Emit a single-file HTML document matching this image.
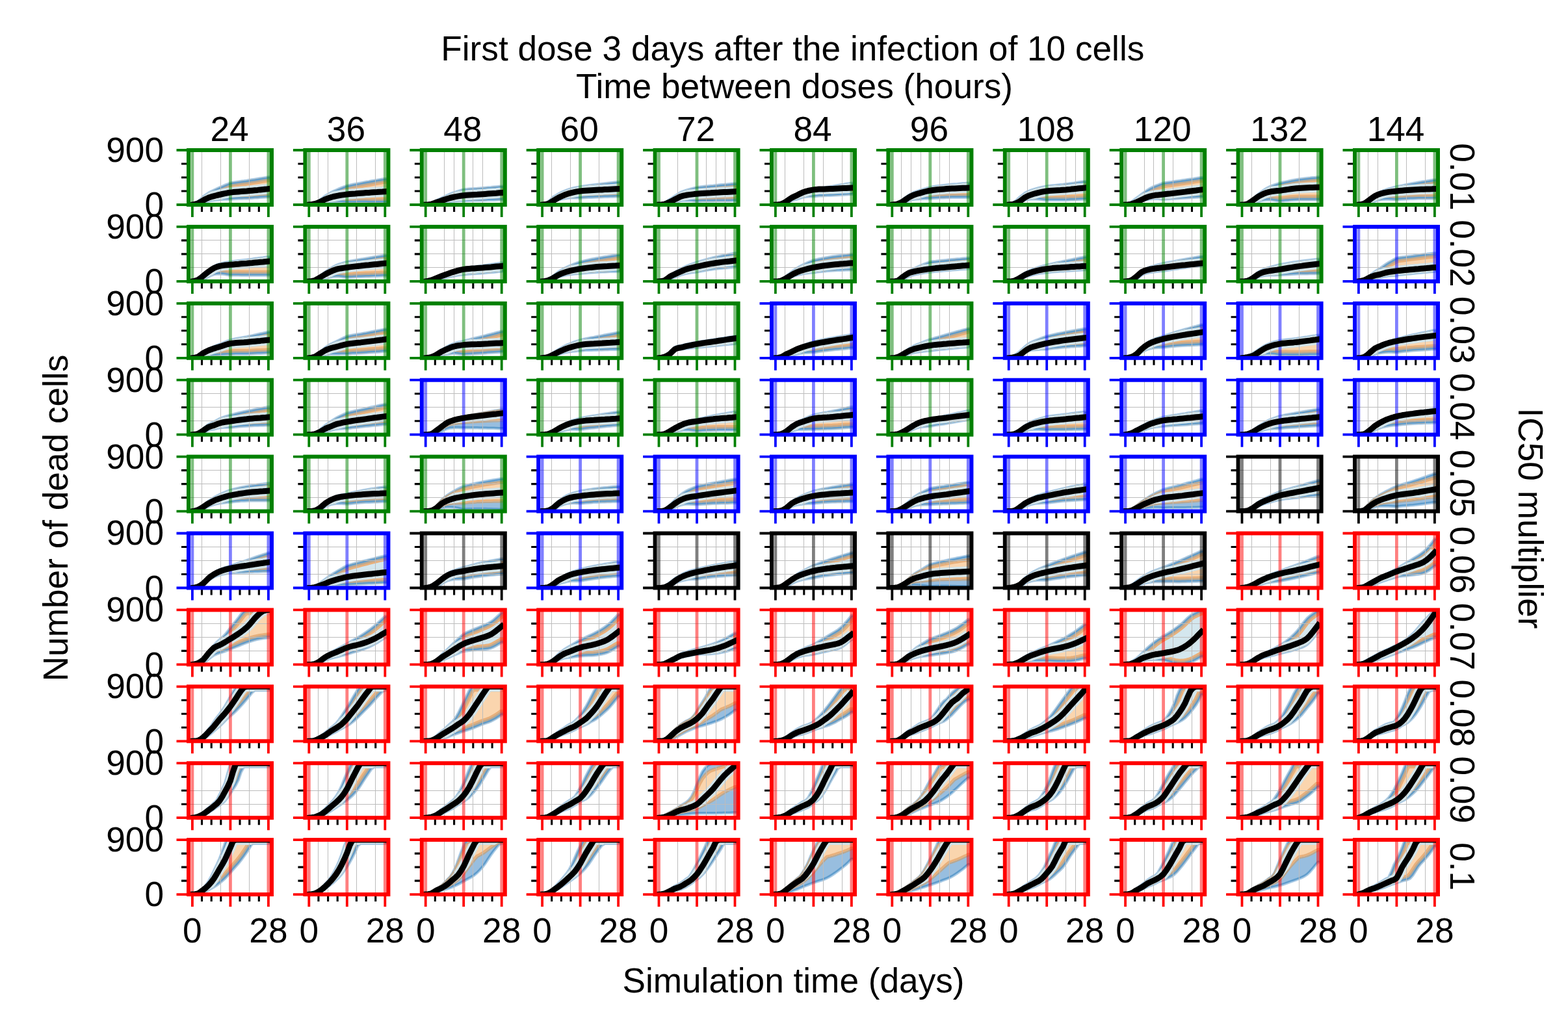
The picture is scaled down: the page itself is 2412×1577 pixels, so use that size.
<!DOCTYPE html><html><head><meta charset="utf-8"><title>Dead cells grid</title><style>html,body{margin:0;padding:0;background:#fff;width:2412px;height:1577px;overflow:hidden}svg{display:block}</style></head><body><svg width="2412" height="1577" viewBox="0 0 2412 1577" font-family='"Liberation Sans", Arial, Helvetica, sans-serif' font-size="53.2"><defs><clipPath id="a0_0"><rect width="128" height="84"/></clipPath><path id="p0_0" d="M-8.1 84 5.9 84 10.1 81.7 14.3 79 18.4 75.4 22.6 71.4 26.8 68.3 31 65.4 35.2 63.2 39.3 61.2 43.5 59.2 47.7 57.3 51.9 55.5 56.1 53.7 60.2 52 64.4 50.4 68.6 49.6 72.8 49 77 48.4 81.1 47.8 85.3 47.3 89.5 46.7 93.7 46 97.9 45.3 102 44.7 106.2 44 110.4 43.3 114.6 42.6 118.8 41.9 122.9 41.2 136.9 41.2 136.9 72.2 122.9 72.2 118.8 72.5 114.6 72.8 110.4 73.1 106.2 73.4 102 73.6 97.9 73.9 93.7 74.2 89.5 74.4 85.3 74.6 81.1 74.7 77 74.8 72.8 75 68.6 75.2 64.4 75.6 60.2 75.7 56.1 75.8 51.9 76.1 47.7 76.4 43.5 76.8 39.3 77.3 35.2 77.8 31 78.5 26.8 79.9 22.6 81.5 18.4 82.9 14.3 84 10.1 84 5.9 84 -8.1 84Z"/><clipPath id="cp0_0"><use href="#p0_0"/></clipPath><clipPath id="a0_1"><rect width="128" height="84"/></clipPath><path id="p0_1" d="M-8.1 84 5.9 84 10.1 82.7 14.3 81.1 18.4 79 22.6 76.4 26.8 73.3 31 70.2 35.2 67.6 39.3 65.3 43.5 63.1 47.7 61.2 51.9 59.4 56.1 57.7 60.2 56.1 64.4 54.6 68.6 53.7 72.8 52.8 77 52 81.1 51.2 85.3 50.4 89.5 49.6 93.7 48.8 97.9 48.1 102 47.3 106.2 46.6 110.4 45.9 114.6 45.1 118.8 44.4 122.9 43.7 136.9 43.7 136.9 80.6 122.9 80.6 118.8 80.6 114.6 80.5 110.4 80.5 106.2 80.4 102 80.4 97.9 80.4 93.7 80.3 89.5 80.3 85.3 80.3 81.1 80.3 77 80.4 72.8 80.4 68.6 80.5 64.4 80.6 60.2 80.2 56.1 79.9 51.9 79.6 47.7 79.5 43.5 79.5 39.3 79.7 35.2 80.1 31 80.8 26.8 82 22.6 83.2 18.4 84 14.3 84 10.1 84 5.9 84 -8.1 84Z"/><clipPath id="cp0_1"><use href="#p0_1"/></clipPath><clipPath id="a0_2"><rect width="128" height="84"/></clipPath><path id="p0_2" d="M-8.1 84 5.9 84 10.1 83 14.3 81.6 18.4 79.6 22.6 77.3 26.8 75.2 31 73.2 35.2 71.2 39.3 69.2 43.5 67.4 47.7 65.7 51.9 64.3 56.1 62.9 60.2 61.6 64.4 60.5 68.6 60 72.8 59.6 77 59.3 81.1 59 85.3 58.8 89.5 58.4 93.7 58.1 97.9 57.7 102 57.3 106.2 57 110.4 56.6 114.6 56.2 118.8 55.8 122.9 55.4 136.9 55.4 136.9 76.4 122.9 76.4 118.8 76.6 114.6 76.7 110.4 76.9 106.2 77 102 77.1 97.9 77.3 93.7 77.4 89.5 77.5 85.3 77.6 81.1 77.6 77 77.7 72.8 77.7 68.6 77.9 64.4 78.1 60.2 78.1 56.1 78.2 51.9 78.4 47.7 78.7 43.5 79.2 39.3 79.8 35.2 80.6 31 81.4 26.8 82.3 22.6 83.2 18.4 84 14.3 84 10.1 84 5.9 84 -8.1 84Z"/><clipPath id="cp0_2"><use href="#p0_2"/></clipPath><clipPath id="a0_3"><rect width="128" height="84"/></clipPath><path id="p0_3" d="M-8.1 84 5.9 84 10.1 82.1 14.3 79.8 18.4 76.3 22.6 72.2 26.8 69.6 31 67 35.2 64.9 39.3 63.1 43.5 61.4 47.7 60 51.9 58.8 56.1 57.8 60.2 57 64.4 56.3 68.6 55.5 72.8 54.9 77 54.3 81.1 53.8 85.3 53.3 89.5 52.8 93.7 52.3 97.9 51.7 102 51.2 106.2 50.7 110.4 50.2 114.6 49.7 118.8 49.2 122.9 48.7 136.9 48.7 136.9 71.4 122.9 71.4 118.8 71.5 114.6 71.7 110.4 71.8 106.2 72 102 72.1 97.9 72.3 93.7 72.4 89.5 72.6 85.3 72.8 81.1 72.9 77 73 72.8 73.2 68.6 73.5 64.4 73.9 60.2 73.6 56.1 73.5 51.9 73.4 47.7 73.6 43.5 74 39.3 74.7 35.2 75.5 31 76.6 26.8 78.2 22.6 79.8 18.4 81.9 14.3 83.6 10.1 84 5.9 84 -8.1 84Z"/><clipPath id="cp0_3"><use href="#p0_3"/></clipPath><clipPath id="a0_4"><rect width="128" height="84"/></clipPath><path id="p0_4" d="M-8.1 84 5.9 84 10.1 82.7 14.3 81.1 18.4 78.5 22.6 75.6 26.8 73 31 70.2 35.2 67.4 39.3 64.8 43.5 63 47.7 61.6 51.9 60.3 56.1 59.2 60.2 58.1 64.4 57.1 68.6 56.6 72.8 56.1 77 55.6 81.1 55.2 85.3 54.8 89.5 54.4 93.7 53.9 97.9 53.5 102 53.1 106.2 52.8 110.4 52.4 114.6 52 118.8 51.6 122.9 51.2 136.9 51.2 136.9 78.1 122.9 78.1 118.8 78.1 114.6 78.2 110.4 78.2 106.2 78.2 102 78.2 97.9 78.3 93.7 78.3 89.5 78.4 85.3 78.4 81.1 78.5 77 78.5 72.8 78.6 68.6 78.8 64.4 79 60.2 78.5 56.1 78.1 51.9 77.8 47.7 77.7 43.5 77.7 39.3 78.1 35.2 79.2 31 80.6 26.8 82 22.6 83.2 18.4 84 14.3 84 10.1 84 5.9 84 -8.1 84Z"/><clipPath id="cp0_4"><use href="#p0_4"/></clipPath><clipPath id="a0_5"><rect width="128" height="84"/></clipPath><path id="p0_5" d="M-8.1 84 5.9 84 10.1 83.4 14.3 82.3 18.4 80.1 22.6 77.3 26.8 74.4 31 71.7 35.2 69.8 39.3 68.1 43.5 66 47.7 64.2 51.9 62.9 56.1 61.8 60.2 61.1 64.4 60.5 68.6 59.5 72.8 58.7 77 58 81.1 57.4 85.3 56.8 89.5 56.2 93.7 55.4 97.9 54.7 102 54 106.2 53.3 110.4 52.6 114.6 51.8 118.8 51.1 122.9 50.4 136.9 50.4 136.9 68 122.9 68 118.8 68.3 114.6 68.5 110.4 68.8 106.2 69 102 69.3 97.9 69.5 93.7 69.7 89.5 70 85.3 70.1 81.1 70.3 77 70.4 72.8 70.6 68.6 70.9 64.4 71.4 60.2 71.4 56.1 71.6 51.9 72 47.7 72.7 43.5 74 39.3 75.5 35.2 76.6 31 77.9 26.8 80.1 22.6 82.3 18.4 83.9 14.3 84 10.1 84 5.9 84 -8.1 84Z"/><clipPath id="cp0_5"><use href="#p0_5"/></clipPath><clipPath id="a0_6"><rect width="128" height="84"/></clipPath><path id="p0_6" d="M-8.1 84 5.9 84 10.1 82.7 14.3 81.1 18.4 78.7 22.6 75.6 26.8 72.5 31 69.4 35.2 66.9 39.3 64.8 43.5 63.3 47.7 62 51.9 60.7 56.1 59.3 60.2 58.1 64.4 57.1 68.6 56.3 72.8 55.6 77 55 81.1 54.5 85.3 54 89.5 53.5 93.7 53 97.9 52.6 102 52.2 106.2 51.9 110.4 51.5 114.6 51.1 118.8 50.8 122.9 50.4 136.9 50.4 136.9 73.1 122.9 73.1 118.8 73.1 114.6 73.1 110.4 73.1 106.2 73.1 102 73.1 97.9 73.1 93.7 73.2 89.5 73.3 85.3 73.4 81.1 73.6 77 73.7 72.8 74 68.6 74.3 64.4 74.8 60.2 74.7 56.1 74.8 51.9 75 47.7 75.3 43.5 75.5 39.3 75.9 35.2 76.9 31 78.3 26.8 80.3 22.6 82.3 18.4 83.7 14.3 84 10.1 84 5.9 84 -8.1 84Z"/><clipPath id="cp0_6"><use href="#p0_6"/></clipPath><clipPath id="a0_7"><rect width="128" height="84"/></clipPath><path id="p0_7" d="M-8.1 84 5.9 84 10.1 81.9 14.3 79.5 18.4 76.2 22.6 72.2 26.8 69 31 65.8 35.2 63.6 39.3 61.8 43.5 60.3 47.7 59.1 51.9 58 56.1 57 60.2 56.2 64.4 55.4 68.6 54.8 72.8 54.3 77 53.9 81.1 53.5 85.3 53.1 89.5 52.7 93.7 52.1 97.9 51.6 102 51 106.2 50.4 110.4 49.7 114.6 49.1 118.8 48.5 122.9 47.9 136.9 47.9 136.9 75.6 122.9 75.6 118.8 75.8 114.6 76 110.4 76.2 106.2 76.4 102 76.6 97.9 76.8 93.7 76.9 89.5 77 85.3 77.1 81.1 77.1 77 77 72.8 77 68.6 77.1 64.4 77.3 60.2 76.7 56.1 76.2 51.9 75.8 47.7 75.6 43.5 75.5 39.3 75.6 35.2 76 31 76.9 26.8 78.7 22.6 80.6 18.4 82.5 14.3 83.7 10.1 84 5.9 84 -8.1 84Z"/><clipPath id="cp0_7"><use href="#p0_7"/></clipPath><clipPath id="a0_8"><rect width="128" height="84"/></clipPath><path id="p0_8" d="M-8.1 84 5.9 84 10.1 82.1 14.3 80 18.4 77.1 22.6 73.9 26.8 70.8 31 67.6 35.2 64.5 39.3 61.6 43.5 59.1 47.7 56.9 51.9 55.1 56.1 53.5 60.2 52 64.4 50.4 68.6 49.8 72.8 49.2 77 48.7 81.1 48.1 85.3 47.5 89.5 46.9 93.7 46.3 97.9 45.7 102 45.1 106.2 44.5 110.4 43.9 114.6 43.2 118.8 42.6 122.9 42 136.9 42 136.9 72.2 122.9 72.2 118.8 72.5 114.6 72.8 110.4 73 106.2 73.3 102 73.5 97.9 73.8 93.7 74 89.5 74.3 85.3 74.5 81.1 74.7 77 74.9 72.8 75.2 68.6 75.4 64.4 75.6 60.2 75.4 56.1 75.1 51.9 75 47.7 75.1 43.5 75.5 39.3 76.2 35.2 77.3 31 78.6 26.8 80.1 22.6 81.5 18.4 82.8 14.3 83.7 10.1 84 5.9 84 -8.1 84Z"/><clipPath id="cp0_8"><use href="#p0_8"/></clipPath><clipPath id="a0_9"><rect width="128" height="84"/></clipPath><path id="p0_9" d="M-8.1 84 5.9 84 10.1 83.2 14.3 81.9 18.4 79.1 22.6 75.6 26.8 71.5 31 67.6 35.2 64.3 39.3 61.4 43.5 58.7 47.7 56.5 51.9 54.7 56.1 53.2 60.2 51.8 64.4 50.4 68.6 49.5 72.8 48.6 77 47.7 81.1 46.8 85.3 46 89.5 45.2 93.7 44.6 97.9 44 102 43.5 106.2 43 110.4 42.6 114.6 42.1 118.8 41.7 122.9 41.2 136.9 41.2 136.9 76.4 122.9 76.4 118.8 76.5 114.6 76.4 110.4 76.4 106.2 76.4 102 76.4 97.9 76.4 93.7 76.5 89.5 76.7 85.3 76.9 81.1 77.3 77 77.7 72.8 78.1 68.6 78.6 64.4 79 60.2 78.3 56.1 77.6 51.9 76.9 47.7 76.6 43.5 76.8 39.3 77.3 35.2 78.1 31 79.3 26.8 81.2 22.6 83.2 18.4 84 14.3 84 10.1 84 5.9 84 -8.1 84Z"/><clipPath id="cp0_9"><use href="#p0_9"/></clipPath><clipPath id="a0_10"><rect width="128" height="84"/></clipPath><path id="p0_10" d="M-8.1 84 5.9 84 10.1 83.2 14.3 82 18.4 79.2 22.6 75.9 26.8 72.2 31 68.7 35.2 66.1 39.3 64.1 43.5 62.3 47.7 60.8 51.9 59.5 56.1 58.4 60.2 57.3 64.4 56.3 68.6 55.3 72.8 54.4 77 53.5 81.1 52.6 85.3 51.8 89.5 50.9 93.7 50.2 97.9 49.4 102 48.7 106.2 48.1 110.4 47.4 114.6 46.7 118.8 46 122.9 45.4 136.9 45.4 136.9 74.3 122.9 74.3 118.8 74.4 114.6 74.4 110.4 74.5 106.2 74.5 102 74.6 97.9 74.6 93.7 74.7 89.5 74.9 85.3 75.1 81.1 75.3 77 75.5 72.8 75.8 68.6 76.1 64.4 76.4 60.2 76.2 56.1 75.9 51.9 75.8 47.7 75.8 43.5 76 39.3 76.5 35.2 77.3 31 78.5 26.8 80.7 22.6 83.2 18.4 84 14.3 84 10.1 84 5.9 84 -8.1 84Z"/><clipPath id="cp0_10"><use href="#p0_10"/></clipPath><clipPath id="a1_0"><rect width="128" height="84"/></clipPath><path id="p1_0" d="M-8.1 84 5.9 84 10.1 82.7 14.3 81 18.4 77.7 22.6 73.9 26.8 70.2 31 66.6 35.2 63.4 39.3 60.6 43.5 58.5 47.7 57 51.9 55.9 56.1 55.1 60.2 54.4 64.4 53.8 68.6 53.2 72.8 52.6 77 52.1 81.1 51.6 85.3 51.1 89.5 50.6 93.7 50 97.9 49.5 102 48.9 106.2 48.4 110.4 47.8 114.6 47.3 118.8 46.7 122.9 46.2 136.9 46.2 136.9 74.8 122.9 74.8 118.8 74.8 114.6 74.8 110.4 74.8 106.2 74.8 102 74.8 97.9 74.8 93.7 74.8 89.5 74.8 85.3 74.8 81.1 74.8 77 74.7 72.8 74.7 68.6 74.7 64.4 74.8 60.2 74.1 56.1 73.4 51.9 72.9 47.7 72.7 43.5 72.8 39.3 73.5 35.2 74.9 31 76.9 26.8 79.1 22.6 81.5 18.4 83.4 14.3 84 10.1 84 5.9 84 -8.1 84Z"/><clipPath id="cp1_0"><use href="#p1_0"/></clipPath><clipPath id="a1_1"><rect width="128" height="84"/></clipPath><path id="p1_1" d="M-8.1 84 5.9 84 10.1 83 14.3 81.6 18.4 78.8 22.6 75.6 26.8 72.4 31 69.3 35.2 66.5 39.3 63.8 43.5 61.4 47.7 59.2 51.9 57.6 56.1 56.2 60.2 55 64.4 53.8 68.6 52.9 72.8 52.1 77 51.4 81.1 50.6 85.3 49.9 89.5 49.2 93.7 48.5 97.9 47.8 102 47.1 106.2 46.4 110.4 45.7 114.6 45 118.8 44.4 122.9 43.7 136.9 43.7 136.9 75.6 122.9 75.6 118.8 75.7 114.6 75.9 110.4 76 106.2 76.2 102 76.3 97.9 76.5 93.7 76.6 89.5 76.8 85.3 77 81.1 77.2 77 77.3 72.8 77.6 68.6 77.8 64.4 78.1 60.2 77.6 56.1 77 51.9 76.6 47.7 76.5 43.5 76.9 39.3 77.6 35.2 78.5 31 79.5 26.8 80.9 22.6 82.3 18.4 83.9 14.3 84 10.1 84 5.9 84 -8.1 84Z"/><clipPath id="cp1_1"><use href="#p1_1"/></clipPath><clipPath id="a1_2"><rect width="128" height="84"/></clipPath><path id="p1_2" d="M-8.1 84 5.9 84 10.1 82.8 14.3 81.5 18.4 79.5 22.6 77.3 26.8 75.6 31 73.9 35.2 72.4 39.3 71 43.5 69.5 47.7 68 51.9 66.8 56.1 65.7 60.2 64.7 64.4 63.8 68.6 63 72.8 62.4 77 61.8 81.1 61.3 85.3 60.8 89.5 60.3 93.7 59.7 97.9 59.1 102 58.5 106.2 57.9 110.4 57.3 114.6 56.7 118.8 56 122.9 55.4 136.9 55.4 136.9 68.9 122.9 68.9 118.8 69.2 114.6 69.6 110.4 70 106.2 70.4 102 70.7 97.9 71.1 93.7 71.5 89.5 71.8 85.3 72.1 81.1 72.4 77 72.6 72.8 72.9 68.6 73.3 64.4 73.9 60.2 74.2 56.1 74.7 51.9 75.4 47.7 76.1 43.5 77 39.3 78 35.2 79 31 80 26.8 81.1 22.6 82.3 18.4 83.3 14.3 84 10.1 84 5.9 84 -8.1 84Z"/><clipPath id="cp1_2"><use href="#p1_2"/></clipPath><clipPath id="a1_3"><rect width="128" height="84"/></clipPath><path id="p1_3" d="M-8.1 84 5.9 84 10.1 82.7 14.3 81.1 18.4 78.6 22.6 75.6 26.8 72.3 31 69 35.2 66.5 39.3 64.2 43.5 62.1 47.7 60.1 51.9 58.4 56.1 56.8 60.2 55.2 64.4 53.8 68.6 52.7 72.8 51.7 77 50.8 81.1 49.9 85.3 49.1 89.5 48.3 93.7 47.5 97.9 46.8 102 46.1 106.2 45.5 110.4 44.8 114.6 44.2 118.8 43.5 122.9 42.8 136.9 42.8 136.9 68.9 122.9 68.9 118.8 69 114.6 69.1 110.4 69.2 106.2 69.3 102 69.5 97.9 69.6 93.7 69.8 89.5 70 85.3 70.3 81.1 70.6 77 70.9 72.8 71.3 68.6 71.7 64.4 72.2 60.2 72.4 56.1 72.7 51.9 73.1 47.7 73.6 43.5 74.2 39.3 75.1 35.2 76.1 31 77.4 26.8 79.4 22.6 81.5 18.4 83 14.3 84 10.1 84 5.9 84 -8.1 84Z"/><clipPath id="cp1_3"><use href="#p1_3"/></clipPath><clipPath id="a1_4"><rect width="128" height="84"/></clipPath><path id="p1_4" d="M-8.1 84 5.9 84 10.1 83.2 14.3 81.8 18.4 78.5 22.6 74.8 26.8 72.1 31 69.6 35.2 67.2 39.3 64.9 43.5 62.7 47.7 60.6 51.9 58.9 56.1 57.4 60.2 56 64.4 54.6 68.6 53.3 72.8 52 77 50.8 81.1 49.6 85.3 48.5 89.5 47.4 93.7 46.4 97.9 45.5 102 44.6 106.2 43.7 110.4 42.9 114.6 42 118.8 41.2 122.9 40.3 136.9 40.3 136.9 62.2 122.9 62.2 118.8 62.5 114.6 62.9 110.4 63.3 106.2 63.6 102 64 97.9 64.4 93.7 64.9 89.5 65.4 85.3 66 81.1 66.7 77 67.4 72.8 68.1 68.6 68.9 64.4 69.7 60.2 70.2 56.1 70.7 51.9 71.3 47.7 72.1 43.5 73.2 39.3 74.5 35.2 75.9 31 77.4 26.8 78.9 22.6 80.6 18.4 82.9 14.3 84 10.1 84 5.9 84 -8.1 84Z"/><clipPath id="cp1_4"><use href="#p1_4"/></clipPath><clipPath id="a1_5"><rect width="128" height="84"/></clipPath><path id="p1_5" d="M-8.1 84 5.9 84 10.1 82.9 14.3 81.5 18.4 78.8 22.6 75.6 26.8 72.3 31 69 35.2 65.9 39.3 63.2 43.5 60.8 47.7 58.6 51.9 56.6 56.1 54.7 60.2 52.9 64.4 51.2 68.6 50.3 72.8 49.4 77 48.6 81.1 47.8 85.3 47.1 89.5 46.4 93.7 45.7 97.9 45.1 102 44.6 106.2 44.1 110.4 43.6 114.6 43 118.8 42.5 122.9 42 136.9 42 136.9 66.4 122.9 66.4 118.8 66.5 114.6 66.7 110.4 66.8 106.2 67 102 67.1 97.9 67.3 93.7 67.6 89.5 67.9 85.3 68.2 81.1 68.5 77 69 72.8 69.4 68.6 69.9 64.4 70.6 60.2 70.9 56.1 71.4 51.9 71.9 47.7 72.6 43.5 73.4 39.3 74.4 35.2 75.8 31 77.5 26.8 79.5 22.6 81.5 18.4 83.2 14.3 84 10.1 84 5.9 84 -8.1 84Z"/><clipPath id="cp1_5"><use href="#p1_5"/></clipPath><clipPath id="a1_6"><rect width="128" height="84"/></clipPath><path id="p1_6" d="M-8.1 84 5.9 84 10.1 83.7 14.3 83 18.4 80.1 22.6 76.4 26.8 72.4 31 68.9 35.2 66.3 39.3 64.3 43.5 62.3 47.7 60.5 51.9 58.7 56.1 57 60.2 55.4 64.4 53.8 68.6 53.2 72.8 52.8 77 52.3 81.1 51.9 85.3 51.5 89.5 51.1 93.7 50.6 97.9 50.2 102 49.8 106.2 49.4 110.4 49.1 114.6 48.7 118.8 48.3 122.9 47.9 136.9 47.9 136.9 64.7 122.9 64.7 118.8 65 114.6 65.3 110.4 65.7 106.2 66 102 66.3 97.9 66.7 93.7 67 89.5 67.4 85.3 67.7 81.1 68.1 77 68.5 72.8 68.8 68.6 69.3 64.4 69.7 60.2 70.3 56.1 71 51.9 71.7 47.7 72.4 43.5 73.2 39.3 74.2 35.2 75.2 31 76.8 26.8 79.3 22.6 82.3 18.4 84 14.3 84 10.1 84 5.9 84 -8.1 84Z"/><clipPath id="cp1_6"><use href="#p1_6"/></clipPath><clipPath id="a1_7"><rect width="128" height="84"/></clipPath><path id="p1_7" d="M-8.1 84 5.9 84 10.1 83.1 14.3 81.9 18.4 79.4 22.6 76.4 26.8 73.5 31 70.7 35.2 68.6 39.3 66.7 43.5 65 47.7 63.5 51.9 62.2 56.1 60.9 60.2 59.8 64.4 58.8 68.6 57.7 72.8 56.7 77 55.7 81.1 54.9 85.3 54 89.5 53.1 93.7 52.2 97.9 51.3 102 50.5 106.2 49.6 110.4 48.8 114.6 47.9 118.8 47.1 122.9 46.2 136.9 46.2 136.9 66.4 122.9 66.4 118.8 66.6 114.6 66.9 110.4 67.1 106.2 67.4 102 67.6 97.9 67.9 93.7 68.2 89.5 68.5 85.3 68.7 81.1 69 77 69.3 72.8 69.6 68.6 70 64.4 70.6 60.2 71 56.1 71.5 51.9 72.2 47.7 72.9 43.5 73.8 39.3 74.9 35.2 76.2 31 77.8 26.8 80 22.6 82.3 18.4 83.9 14.3 84 10.1 84 5.9 84 -8.1 84Z"/><clipPath id="cp1_7"><use href="#p1_7"/></clipPath><clipPath id="a1_8"><rect width="128" height="84"/></clipPath><path id="p1_8" d="M-8.1 84 5.9 84 10.1 83.6 14.3 82.5 18.4 79.9 22.6 76.4 26.8 72.1 31 68.1 35.2 65.5 39.3 63.6 43.5 62 47.7 60.7 51.9 59.5 56.1 58.4 60.2 57.4 64.4 56.3 68.6 55.4 72.8 54.6 77 53.8 81.1 53 85.3 52.2 89.5 51.4 93.7 50.6 97.9 49.8 102 49.1 106.2 48.3 110.4 47.6 114.6 46.8 118.8 46.1 122.9 45.4 136.9 45.4 136.9 59.6 122.9 59.6 118.8 60.2 114.6 60.8 110.4 61.3 106.2 61.9 102 62.4 97.9 63 93.7 63.6 89.5 64.2 85.3 64.8 81.1 65.4 77 66.1 72.8 66.7 68.6 67.4 64.4 68 60.2 68.4 56.1 68.8 51.9 69.3 47.7 69.8 43.5 70.4 39.3 71.3 35.2 72.6 31 74.5 26.8 77.8 22.6 81.5 18.4 83.6 14.3 84 10.1 84 5.9 84 -8.1 84Z"/><clipPath id="cp1_8"><use href="#p1_8"/></clipPath><clipPath id="a1_9"><rect width="128" height="84"/></clipPath><path id="p1_9" d="M-8.1 84 5.9 84 10.1 83.1 14.3 81.9 18.4 79.5 22.6 76.4 26.8 72.9 31 69.6 35.2 67.1 39.3 65.2 43.5 63.7 47.7 62.5 51.9 61.3 56.1 60.2 60.2 59.1 64.4 58 68.6 57.3 72.8 56.6 77 55.8 81.1 55.1 85.3 54.4 89.5 53.8 93.7 53.2 97.9 52.6 102 52.1 106.2 51.6 110.4 51.1 114.6 50.6 118.8 50.1 122.9 49.6 136.9 49.6 136.9 72.2 122.9 72.2 118.8 72.3 114.6 72.4 110.4 72.4 106.2 72.5 102 72.5 97.9 72.6 93.7 72.7 89.5 72.8 85.3 73 81.1 73.3 77 73.6 72.8 73.8 68.6 74.1 64.4 74.3 60.2 74.4 56.1 74.5 51.9 74.5 47.7 74.7 43.5 74.8 39.3 75.3 35.2 76.1 31 77.5 26.8 79.9 22.6 82.3 18.4 83.9 14.3 84 10.1 84 5.9 84 -8.1 84Z"/><clipPath id="cp1_9"><use href="#p1_9"/></clipPath><clipPath id="a1_10"><rect width="128" height="84"/></clipPath><path id="p1_10" d="M-8.1 84 5.9 84 10.1 82.7 14.3 81.1 18.4 78.4 22.6 75.6 26.8 72 31 68.7 35.2 66.1 39.3 63.5 43.5 60.5 47.7 57.5 51.9 54.9 56.1 52.5 60.2 50.2 64.4 47.9 68.6 47.2 72.8 46.6 77 46.1 81.1 45.5 85.3 45 89.5 44.5 93.7 43.9 97.9 43.4 102 42.9 106.2 42.4 110.4 41.9 114.6 41.3 118.8 40.8 122.9 40.3 136.9 40.3 136.9 68.9 122.9 68.9 118.8 69.3 114.6 69.7 110.4 70.1 106.2 70.4 102 70.8 97.9 71.2 93.7 71.6 89.5 72.1 85.3 72.5 81.1 72.9 77 73.3 72.8 73.8 68.6 74.2 64.4 74.8 60.2 75 56.1 75.3 51.9 75.7 47.7 76.3 43.5 77.3 39.3 78.3 35.2 78.8 31 79.5 26.8 80.7 22.6 82.3 18.4 83.5 14.3 84 10.1 84 5.9 84 -8.1 84Z"/><clipPath id="cp1_10"><use href="#p1_10"/></clipPath><clipPath id="a2_0"><rect width="128" height="84"/></clipPath><path id="p2_0" d="M-8.1 84 5.9 84 10.1 83 14.3 81.5 18.4 78.3 22.6 74.8 26.8 72.1 31 69.8 35.2 67.9 39.3 66.1 43.5 64.4 47.7 62.8 51.9 61.1 56.1 59.3 60.2 57.7 64.4 56.3 68.6 55.1 72.8 54.2 77 53.4 81.1 52.7 85.3 51.9 89.5 51.1 93.7 50.2 97.9 49.3 102 48.4 106.2 47.4 110.4 46.5 114.6 45.6 118.8 44.6 122.9 43.7 136.9 43.7 136.9 76.4 122.9 76.4 118.8 76.7 114.6 76.9 110.4 77.1 106.2 77.3 102 77.5 97.9 77.7 93.7 77.9 89.5 78.1 85.3 78.2 81.1 78.2 77 78.2 72.8 78.3 68.6 78.5 64.4 79 60.2 78.8 56.1 79 51.9 79.3 47.7 79.5 43.5 79.6 39.3 79.7 35.2 79.9 31 80.4 26.8 81.2 22.6 82.3 18.4 83.9 14.3 84 10.1 84 5.9 84 -8.1 84Z"/><clipPath id="cp2_0"><use href="#p2_0"/></clipPath><clipPath id="a2_1"><rect width="128" height="84"/></clipPath><path id="p2_1" d="M-8.1 84 5.9 84 10.1 82.7 14.3 81.1 18.4 78.1 22.6 74.8 26.8 71.2 31 67.8 35.2 65 39.3 62.5 43.5 60.4 47.7 58.5 51.9 56.4 56.1 54.3 60.2 52.3 64.4 50.4 68.6 49.4 72.8 48.6 77 47.9 81.1 47.3 85.3 46.6 89.5 45.8 93.7 45.1 97.9 44.3 102 43.5 106.2 42.7 110.4 41.9 114.6 41.1 118.8 40.3 122.9 39.5 136.9 39.5 136.9 73.9 122.9 73.9 118.8 74.2 114.6 74.6 110.4 74.9 106.2 75.2 102 75.5 97.9 75.8 93.7 76.1 89.5 76.4 85.3 76.7 81.1 76.9 77 77.1 72.8 77.3 68.6 77.6 64.4 78.1 60.2 78 56.1 78 51.9 78.1 47.7 78.1 43.5 78 39.3 78.1 35.2 78.6 31 79.4 26.8 80.7 22.6 82.3 18.4 83.8 14.3 84 10.1 84 5.9 84 -8.1 84Z"/><clipPath id="cp2_1"><use href="#p2_1"/></clipPath><clipPath id="a2_2"><rect width="128" height="84"/></clipPath><path id="p2_2" d="M-8.1 84 5.9 84 10.1 82.9 14.3 81.5 18.4 79.2 22.6 76.4 26.8 73.6 31 70.7 35.2 68.4 39.3 66.3 43.5 64.1 47.7 62.2 51.9 60.9 56.1 59.7 60.2 58.8 64.4 58 68.6 56.7 72.8 55.6 77 54.5 81.1 53.5 85.3 52.5 89.5 51.5 93.7 50.4 97.9 49.3 102 48.2 106.2 47.2 110.4 46.1 114.6 45 118.8 43.9 122.9 42.8 136.9 42.8 136.9 74.8 122.9 74.8 118.8 75.1 114.6 75.4 110.4 75.7 106.2 76 102 76.3 97.9 76.6 93.7 76.9 89.5 77.2 85.3 77.4 81.1 77.6 77 77.9 72.8 78.1 68.6 78.5 64.4 79 60.2 78.3 56.1 77.7 51.9 77.3 47.7 77.2 43.5 77.6 39.3 78.2 35.2 78.8 31 79.6 26.8 81 22.6 82.3 18.4 83.6 14.3 84 10.1 84 5.9 84 -8.1 84Z"/><clipPath id="cp2_2"><use href="#p2_2"/></clipPath><clipPath id="a2_3"><rect width="128" height="84"/></clipPath><path id="p2_3" d="M-8.1 84 5.9 84 10.1 82.7 14.3 81.1 18.4 78.5 22.6 75.6 26.8 73.1 31 70.6 35.2 68.2 39.3 65.9 43.5 63.9 47.7 62.2 51.9 60.5 56.1 58.9 60.2 57.5 64.4 56.3 68.6 55.1 72.8 54.2 77 53.3 81.1 52.5 85.3 51.8 89.5 50.9 93.7 50.1 97.9 49.3 102 48.5 106.2 47.7 110.4 46.9 114.6 46.1 118.8 45.3 122.9 44.5 136.9 44.5 136.9 71 122.9 71 118.8 71.1 114.6 71.2 110.4 71.3 106.2 71.4 102 71.5 97.9 71.6 93.7 71.7 89.5 71.9 85.3 72 81.1 72.1 77 72.2 72.8 72.3 68.6 72.6 64.4 73.1 60.2 73.2 56.1 73.6 51.9 74 47.7 74.6 43.5 75.3 39.3 76.2 35.2 77.3 31 78.6 26.8 80.1 22.6 81.5 18.4 82.9 14.3 84 10.1 84 5.9 84 -8.1 84Z"/><clipPath id="cp2_3"><use href="#p2_3"/></clipPath><clipPath id="a2_4"><rect width="128" height="84"/></clipPath><path id="p2_4" d="M-8.1 84 5.9 84 10.1 82.5 14.3 80.6 18.4 78.1 22.6 74.8 26.8 70.7 31 66.9 35.2 65.5 39.3 64.8 43.5 63.8 47.7 62.8 51.9 62 56.1 61.1 60.2 60.4 64.4 59.6 68.6 58.9 72.8 58.2 77 57.6 81.1 57 85.3 56.3 89.5 55.7 93.7 55 97.9 54.4 102 53.7 106.2 53 110.4 52.4 114.6 51.7 118.8 51.1 122.9 50.4 136.9 50.4 136.9 62.2 122.9 62.2 118.8 62.6 114.6 63 110.4 63.4 106.2 63.8 102 64.3 97.9 64.7 93.7 65.1 89.5 65.5 85.3 65.9 81.1 66.3 77 66.7 72.8 67.1 68.6 67.5 64.4 68 60.2 68.3 56.1 68.7 51.9 69.1 47.7 69.6 43.5 70.1 39.3 70.7 35.2 70.9 31 71.9 26.8 75.3 22.6 79 18.4 81.2 14.3 82.7 10.1 83.5 5.9 84 -8.1 84Z"/><clipPath id="cp2_4"><use href="#p2_4"/></clipPath><clipPath id="a2_5"><rect width="128" height="84"/></clipPath><path id="p2_5" d="M-8.1 84 5.9 84 10.1 83.4 14.3 82.3 18.4 80 22.6 77.3 26.8 75.1 31 72.9 35.2 70.5 39.3 68.1 43.5 66.2 47.7 64.6 51.9 63 56.1 61.5 60.2 60.1 64.4 58.8 68.6 57.8 72.8 56.9 77 56 81.1 55.2 85.3 54.4 89.5 53.6 93.7 52.9 97.9 52.1 102 51.4 106.2 50.7 110.4 50 114.6 49.3 118.8 48.6 122.9 47.9 136.9 47.9 136.9 68.9 122.9 68.9 118.8 69.3 114.6 69.7 110.4 70.1 106.2 70.5 102 70.9 97.9 71.3 93.7 71.8 89.5 72.2 85.3 72.7 81.1 73.2 77 73.7 72.8 74.3 68.6 74.9 64.4 75.6 60.2 75.7 56.1 76 51.9 76.3 47.7 76.7 43.5 77.2 39.3 77.9 35.2 79 31 80.3 26.8 81.3 22.6 82.3 18.4 83.7 14.3 84 10.1 84 5.9 84 -8.1 84Z"/><clipPath id="cp2_5"><use href="#p2_5"/></clipPath><clipPath id="a2_6"><rect width="128" height="84"/></clipPath><path id="p2_6" d="M-8.1 84 5.9 84 10.1 83.1 14.3 81.8 18.4 79.3 22.6 76.4 26.8 73.2 31 70.1 35.2 67.5 39.3 65.3 43.5 63.4 47.7 61.7 51.9 60.1 56.1 58.4 60.2 56.9 64.4 55.4 68.6 54 72.8 52.7 77 51.5 81.1 50.3 85.3 49.1 89.5 47.9 93.7 46.7 97.9 45.5 102 44.4 106.2 43.2 110.4 42.1 114.6 40.9 118.8 39.8 122.9 38.6 136.9 38.6 136.9 67.2 122.9 67.2 118.8 67.6 114.6 67.9 110.4 68.3 106.2 68.6 102 69 97.9 69.4 93.7 69.8 89.5 70.2 85.3 70.6 81.1 71 77 71.4 72.8 71.9 68.6 72.4 64.4 73.1 60.2 73.3 56.1 73.7 51.9 74.2 47.7 74.7 43.5 75.2 39.3 75.9 35.2 76.9 31 78.3 26.8 80.3 22.6 82.3 18.4 83.7 14.3 84 10.1 84 5.9 84 -8.1 84Z"/><clipPath id="cp2_6"><use href="#p2_6"/></clipPath><clipPath id="a2_7"><rect width="128" height="84"/></clipPath><path id="p2_7" d="M-8.1 84 5.9 84 10.1 82 14.3 79.8 18.4 77.2 22.6 73.9 26.8 70.2 31 66.2 35.2 62.9 39.3 60.1 43.5 58.2 47.7 56.6 51.9 55 56.1 53.4 60.2 51.8 64.4 50.4 68.6 49.3 72.8 48.3 77 47.4 81.1 46.5 85.3 45.6 89.5 44.8 93.7 43.9 97.9 43.1 102 42.4 106.2 41.6 110.4 40.9 114.6 40.1 118.8 39.4 122.9 38.6 136.9 38.6 136.9 65.5 122.9 65.5 118.8 65.8 114.6 66.1 110.4 66.3 106.2 66.6 102 66.8 97.9 67.1 93.7 67.4 89.5 67.8 85.3 68.2 81.1 68.6 77 69 72.8 69.4 68.6 70 64.4 70.6 60.2 70.7 56.1 70.8 51.9 71.1 47.7 71.4 43.5 71.6 39.3 72.2 35.2 73.7 31 75.6 26.8 78.3 22.6 80.6 18.4 82.2 14.3 83.2 10.1 83.7 5.9 84 -8.1 84Z"/><clipPath id="cp2_7"><use href="#p2_7"/></clipPath><clipPath id="a2_8"><rect width="128" height="84"/></clipPath><path id="p2_8" d="M-8.1 84 5.9 84 10.1 82.9 14.3 81.4 18.4 78.9 22.6 75.6 26.8 71.5 31 67.1 35.2 63.5 39.3 60.5 43.5 58 47.7 56 51.9 54.3 56.1 52.9 60.2 51.6 64.4 50.4 68.6 48.9 72.8 47.4 77 46 81.1 44.7 85.3 43.4 89.5 42.1 93.7 40.9 97.9 39.7 102 38.5 106.2 37.3 110.4 36.2 114.6 35.1 118.8 33.9 122.9 32.8 136.9 32.8 136.9 63.8 122.9 63.8 118.8 64 114.6 64.2 110.4 64.4 106.2 64.6 102 64.8 97.9 65 93.7 65.2 89.5 65.5 85.3 65.8 81.1 66.2 77 66.5 72.8 67 68.6 67.5 64.4 68 60.2 68.1 56.1 68.2 51.9 68.4 47.7 68.9 43.5 69.8 39.3 71.1 35.2 72.9 31 75.3 26.8 78.5 22.6 81.5 18.4 83.3 14.3 84 10.1 84 5.9 84 -8.1 84Z"/><clipPath id="cp2_8"><use href="#p2_8"/></clipPath><clipPath id="a2_9"><rect width="128" height="84"/></clipPath><path id="p2_9" d="M-8.1 84 5.9 84 10.1 82.4 14.3 80.6 18.4 78.8 22.6 76.4 26.8 74 31 71.2 35.2 68.3 39.3 65.6 43.5 63.4 47.7 61.7 51.9 60.2 56.1 59 60.2 58 64.4 57.1 68.6 56.4 72.8 55.8 77 55.3 81.1 54.9 85.3 54.4 89.5 53.9 93.7 53.3 97.9 52.6 102 52 106.2 51.4 110.4 50.7 114.6 50 118.8 49.4 122.9 48.7 136.9 48.7 136.9 79 122.9 79 118.8 79.1 114.6 79.2 110.4 79.3 106.2 79.4 102 79.5 97.9 79.6 93.7 79.7 89.5 79.8 85.3 79.8 81.1 79.7 77 79.6 72.8 79.5 68.6 79.6 64.4 79.8 60.2 79.1 56.1 78.5 51.9 78.1 47.7 78 43.5 78.1 39.3 78.7 35.2 79.8 31 81.1 26.8 82.4 22.6 83.2 18.4 83.8 14.3 84 10.1 84 5.9 84 -8.1 84Z"/><clipPath id="cp2_9"><use href="#p2_9"/></clipPath><clipPath id="a2_10"><rect width="128" height="84"/></clipPath><path id="p2_10" d="M-8.1 84 5.9 84 10.1 83.5 14.3 82.3 18.4 79.4 22.6 75.6 26.8 71.6 31 68 35.2 65.6 39.3 63.7 43.5 61.6 47.7 59.8 51.9 58.3 56.1 57 60.2 55.7 64.4 54.6 68.6 53.4 72.8 52.3 77 51.2 81.1 50.2 85.3 49.2 89.5 48.2 93.7 47.3 97.9 46.4 102 45.5 106.2 44.6 110.4 43.8 114.6 42.9 118.8 42 122.9 41.2 136.9 41.2 136.9 70.6 122.9 70.6 118.8 70.8 114.6 71.1 110.4 71.4 106.2 71.6 102 71.9 97.9 72.2 93.7 72.5 89.5 72.8 85.3 73.2 81.1 73.6 77 74 72.8 74.5 68.6 75 64.4 75.6 60.2 75.4 56.1 75.3 51.9 75.3 47.7 75.4 43.5 75.9 39.3 76.6 35.2 77.2 31 78.2 26.8 80.5 22.6 83.2 18.4 84 14.3 84 10.1 84 5.9 84 -8.1 84Z"/><clipPath id="cp2_10"><use href="#p2_10"/></clipPath><clipPath id="a3_0"><rect width="128" height="84"/></clipPath><path id="p3_0" d="M-8.1 84 5.9 84 10.1 82.9 14.3 81.3 18.4 78.3 22.6 74.8 26.8 71.2 31 68 35.2 65.9 39.3 64.1 43.5 61.7 47.7 59.4 51.9 57.7 56.1 56.3 60.2 55 64.4 53.8 68.6 52.7 72.8 51.6 77 50.6 81.1 49.6 85.3 48.6 89.5 47.7 93.7 46.8 97.9 46 102 45.1 106.2 44.3 110.4 43.5 114.6 42.8 118.8 42 122.9 41.2 136.9 41.2 136.9 69.7 122.9 69.7 118.8 69.9 114.6 70 110.4 70.1 106.2 70.3 102 70.4 97.9 70.6 93.7 70.7 89.5 71 85.3 71.3 81.1 71.6 77 71.9 72.8 72.3 68.6 72.7 64.4 73.1 60.2 73.1 56.1 73.1 51.9 73.2 47.7 73.7 43.5 74.7 39.3 75.9 35.2 76.4 31 77.2 26.8 79.2 22.6 81.5 18.4 83.3 14.3 84 10.1 84 5.9 84 -8.1 84Z"/><clipPath id="cp3_0"><use href="#p3_0"/></clipPath><clipPath id="a3_1"><rect width="128" height="84"/></clipPath><path id="p3_1" d="M-8.1 84 5.9 84 10.1 82.9 14.3 81.5 18.4 79.2 22.6 76.4 26.8 72.9 31 69.3 35.2 66.5 39.3 63.8 43.5 61 47.7 58.4 51.9 56.1 56.1 54.1 60.2 52.2 64.4 50.4 68.6 49.3 72.8 48.3 77 47.3 81.1 46.3 85.3 45.4 89.5 44.5 93.7 43.5 97.9 42.6 102 41.6 106.2 40.7 110.4 39.8 114.6 38.8 118.8 37.9 122.9 37 136.9 37 136.9 68.5 122.9 68.5 118.8 68.9 114.6 69.3 110.4 69.7 106.2 70.1 102 70.6 97.9 71 93.7 71.4 89.5 71.9 85.3 72.3 81.1 72.7 77 73.2 72.8 73.6 68.6 74.2 64.4 74.8 60.2 74.8 56.1 75 51.9 75.2 47.7 75.7 43.5 76.6 39.3 77.6 35.2 78.5 31 79.5 26.8 81.4 22.6 83.2 18.4 84 14.3 84 10.1 84 5.9 84 -8.1 84Z"/><clipPath id="cp3_1"><use href="#p3_1"/></clipPath><clipPath id="a3_2"><rect width="128" height="84"/></clipPath><path id="p3_2" d="M-8.1 84 5.9 84 10.1 83.7 14.3 83 18.4 80.5 22.6 77.3 26.8 74 31 70.6 35.2 67.4 39.3 64.4 43.5 62.3 47.7 60.7 51.9 59.4 56.1 58.2 60.2 57.2 64.4 56.3 68.6 55.3 72.8 54.4 77 53.6 81.1 52.8 85.3 52.1 89.5 51.3 93.7 50.5 97.9 49.8 102 49 106.2 48.3 110.4 47.6 114.6 46.8 118.8 46.1 122.9 45.4 136.9 45.4 136.9 74.8 122.9 74.8 118.8 74.7 114.6 74.5 110.4 74.4 106.2 74.3 102 74.2 97.9 74.1 93.7 74 89.5 74 85.3 73.9 81.1 73.8 77 73.8 72.8 73.7 68.6 73.8 64.4 73.9 60.2 73.7 56.1 73.5 51.9 73.5 47.7 73.7 43.5 74.1 39.3 75 35.2 76.8 31 78.9 26.8 81 22.6 83.2 18.4 84 14.3 84 10.1 84 5.9 84 -8.1 84Z"/><clipPath id="cp3_2"><use href="#p3_2"/></clipPath><path id="q3_2" d="M-8.1 84 5.9 84 10.1 83.7 14.3 83 18.4 80.6 22.6 77.4 26.8 74.1 31 70.8 35.2 67.6 39.3 64.7 43.5 62.6 47.7 61.1 51.9 59.8 56.1 58.7 60.2 57.7 64.4 56.8 68.6 55.9 72.8 55.1 77 54.3 81.1 53.6 85.3 52.9 89.5 52.2 93.7 51.5 97.9 50.8 102 50.2 106.2 49.5 110.4 48.8 114.6 48.2 118.8 47.5 122.9 46.8 136.9 46.8 136.9 61.8 122.9 61.8 118.8 62 114.6 62.2 110.4 62.4 106.2 62.6 102 62.9 97.9 63.1 93.7 63.3 89.5 63.6 85.3 63.8 81.1 64 77 64.3 72.8 64.6 68.6 64.9 64.4 65.4 60.2 65.7 56.1 66.1 51.9 66.6 47.7 67.3 43.5 68.3 39.3 69.8 35.2 72.1 31 74.8 26.8 77.5 22.6 80.2 18.4 82.3 14.3 83.5 10.1 83.9 5.9 84 -8.1 84Z"/><clipPath id="cq3_2"><use href="#q3_2"/></clipPath><clipPath id="a3_3"><rect width="128" height="84"/></clipPath><path id="p3_3" d="M-8.1 84 5.9 84 10.1 83.3 14.3 82.3 18.4 80.5 22.6 78.1 26.8 75.4 31 72.5 35.2 70 39.3 67.7 43.5 65.6 47.7 63.8 51.9 62.3 56.1 60.9 60.2 59.8 64.4 58.8 68.6 57.8 72.8 57 77 56.2 81.1 55.5 85.3 54.9 89.5 54.2 93.7 53.5 97.9 52.8 102 52.1 106.2 51.4 110.4 50.7 114.6 50.1 118.8 49.4 122.9 48.7 136.9 48.7 136.9 69.7 122.9 69.7 118.8 70.2 114.6 70.6 110.4 71 106.2 71.4 102 71.9 97.9 72.3 93.7 72.8 89.5 73.3 85.3 73.7 81.1 74.1 77 74.6 72.8 75.1 68.6 75.7 64.4 76.4 60.2 76.2 56.1 76.1 51.9 76.1 47.7 76.4 43.5 76.9 39.3 77.8 35.2 78.8 31 80.1 26.8 81.7 22.6 83.2 18.4 84 14.3 84 10.1 84 5.9 84 -8.1 84Z"/><clipPath id="cp3_3"><use href="#p3_3"/></clipPath><clipPath id="a3_4"><rect width="128" height="84"/></clipPath><path id="p3_4" d="M-8.1 84 5.9 84 10.1 83.1 14.3 81.9 18.4 79.4 22.6 76.4 26.8 73.9 31 71.3 35.2 69.1 39.3 67 43.5 65.1 47.7 63.6 51.9 62.5 56.1 61.8 60.2 61.1 64.4 60.5 68.6 59.5 72.8 58.5 77 57.5 81.1 56.6 85.3 55.7 89.5 54.8 93.7 53.9 97.9 53.2 102 52.4 106.2 51.7 110.4 50.9 114.6 50.2 118.8 49.5 122.9 48.7 136.9 48.7 136.9 77.3 122.9 77.3 118.8 77.3 114.6 77.3 110.4 77.3 106.2 77.3 102 77.4 97.9 77.4 93.7 77.5 89.5 77.6 85.3 77.7 81.1 77.9 77 78.1 72.8 78.4 68.6 78.7 64.4 79 60.2 78.3 56.1 77.7 51.9 77.2 47.7 77 43.5 77.3 39.3 78 35.2 78.7 31 79.7 26.8 81 22.6 82.3 18.4 83.9 14.3 84 10.1 84 5.9 84 -8.1 84Z"/><clipPath id="cp3_4"><use href="#p3_4"/></clipPath><clipPath id="a3_5"><rect width="128" height="84"/></clipPath><path id="p3_5" d="M-8.1 84 5.9 84 10.1 83.6 14.3 82.7 18.4 80.8 22.6 78.1 26.8 74.4 31 70.5 35.2 67.3 39.3 64.5 43.5 62.4 47.7 60.6 51.9 58.8 56.1 56.9 60.2 55.2 64.4 53.8 68.6 52.6 72.8 51.7 77 50.9 81.1 50.1 85.3 49.4 89.5 48.6 93.7 47.7 97.9 46.8 102 45.9 106.2 44.9 110.4 44 114.6 43 118.8 42.1 122.9 41.2 136.9 41.2 136.9 73.1 122.9 73.1 118.8 73.4 114.6 73.6 110.4 73.9 106.2 74.2 102 74.5 97.9 74.7 93.7 75 89.5 75.2 85.3 75.4 81.1 75.5 77 75.5 72.8 75.7 68.6 75.9 64.4 76.4 60.2 76.1 56.1 76.1 51.9 76.2 47.7 76.3 43.5 76.3 39.3 76.6 35.2 77.6 31 79 26.8 81.2 22.6 83.2 18.4 84 14.3 84 10.1 84 5.9 84 -8.1 84Z"/><clipPath id="cp3_5"><use href="#p3_5"/></clipPath><clipPath id="a3_6"><rect width="128" height="84"/></clipPath><path id="p3_6" d="M-8.1 84 5.9 84 10.1 83.3 14.3 82.3 18.4 80.5 22.6 78.1 26.8 75.8 31 73.2 35.2 70.8 39.3 68.4 43.5 66.2 47.7 64.3 51.9 63 56.1 62 60.2 61.2 64.4 60.5 68.6 59.3 72.8 58.3 77 57.3 81.1 56.4 85.3 55.5 89.5 54.6 93.7 53.6 97.9 52.7 102 51.7 106.2 50.8 110.4 49.9 114.6 48.9 118.8 48 122.9 47 136.9 47 136.9 61.3 122.9 61.3 118.8 62 114.6 62.7 110.4 63.4 106.2 64.1 102 64.8 97.9 65.5 93.7 66.2 89.5 67 85.3 67.7 81.1 68.3 77 69 72.8 69.7 68.6 70.5 64.4 71.4 60.2 71.5 56.1 71.8 51.9 72.2 47.7 72.9 43.5 74.2 39.3 75.8 35.2 77.6 31 79.5 26.8 81.4 22.6 83.2 18.4 84 14.3 84 10.1 84 5.9 84 -8.1 84Z"/><clipPath id="cp3_6"><use href="#p3_6"/></clipPath><clipPath id="a3_7"><rect width="128" height="84"/></clipPath><path id="p3_7" d="M-8.1 84 5.9 84 10.1 83.1 14.3 81.9 18.4 79.5 22.6 76.4 26.8 73.1 31 69.7 35.2 67 39.3 64.7 43.5 62.8 47.7 61.3 51.9 59.9 56.1 58.6 60.2 57.4 64.4 56.3 68.6 55.6 72.8 55 77 54.5 81.1 54 85.3 53.6 89.5 53 93.7 52.5 97.9 52 102 51.4 106.2 50.9 110.4 50.3 114.6 49.8 118.8 49.3 122.9 48.7 136.9 48.7 136.9 76 122.9 76 118.8 76.1 114.6 76.2 110.4 76.3 106.2 76.4 102 76.5 97.9 76.6 93.7 76.7 89.5 76.7 85.3 76.8 81.1 76.8 77 76.9 72.8 76.9 68.6 77 64.4 77.3 60.2 76.9 56.1 76.6 51.9 76.4 47.7 76.3 43.5 76.3 39.3 76.6 35.2 77.4 31 78.6 26.8 80.5 22.6 82.3 18.4 83.9 14.3 84 10.1 84 5.9 84 -8.1 84Z"/><clipPath id="cp3_7"><use href="#p3_7"/></clipPath><clipPath id="a3_8"><rect width="128" height="84"/></clipPath><path id="p3_8" d="M-8.1 84 5.9 84 10.1 82.7 14.3 81.1 18.4 78.5 22.6 75.6 26.8 73.2 31 70.9 35.2 68.5 39.3 66.2 43.5 64.1 47.7 62.3 51.9 60.8 56.1 59.4 60.2 58.2 64.4 57.1 68.6 56.2 72.8 55.4 77 54.7 81.1 54.1 85.3 53.5 89.5 52.8 93.7 52.1 97.9 51.4 102 50.6 106.2 49.9 110.4 49.2 114.6 48.5 118.8 47.8 122.9 47 136.9 47 136.9 67.2 122.9 67.2 118.8 67.5 114.6 67.8 110.4 68.1 106.2 68.4 102 68.7 97.9 69 93.7 69.3 89.5 69.6 85.3 69.9 81.1 70.1 77 70.3 72.8 70.5 68.6 70.9 64.4 71.4 60.2 71.6 56.1 72 51.9 72.5 47.7 73.2 43.5 74.2 39.3 75.4 35.2 76.9 31 78.5 26.8 80 22.6 81.5 18.4 82.9 14.3 84 10.1 84 5.9 84 -8.1 84Z"/><clipPath id="cp3_8"><use href="#p3_8"/></clipPath><clipPath id="a3_9"><rect width="128" height="84"/></clipPath><path id="p3_9" d="M-8.1 84 5.9 84 10.1 83.1 14.3 81.9 18.4 79.9 22.6 77.3 26.8 74.3 31 71.1 35.2 68.4 39.3 65.9 43.5 63.5 47.7 61.4 51.9 59.7 56.1 58.1 60.2 56.7 64.4 55.4 68.6 54.5 72.8 53.6 77 52.8 81.1 52 85.3 51.3 89.5 50.5 93.7 49.7 97.9 49 102 48.2 106.2 47.5 110.4 46.7 114.6 46 118.8 45.3 122.9 44.5 136.9 44.5 136.9 70.6 122.9 70.6 118.8 70.8 114.6 71.1 110.4 71.3 106.2 71.6 102 71.9 97.9 72.1 93.7 72.4 89.5 72.7 85.3 73 81.1 73.3 77 73.5 72.8 73.9 68.6 74.3 64.4 74.8 60.2 74.7 56.1 74.8 51.9 75 47.7 75.3 43.5 76.1 39.3 77.1 35.2 78.3 31 79.7 26.8 81.5 22.6 83.2 18.4 84 14.3 84 10.1 84 5.9 84 -8.1 84Z"/><clipPath id="cp3_9"><use href="#p3_9"/></clipPath><clipPath id="a3_10"><rect width="128" height="84"/></clipPath><path id="p3_10" d="M-8.1 84 5.9 84 10.1 83.7 14.3 83 18.4 80.6 22.6 77.3 26.8 73.7 31 70.1 35.2 67.4 39.3 65.1 43.5 62.9 47.7 60.9 51.9 59.3 56.1 57.8 60.2 56.5 64.4 55.4 68.6 54.3 72.8 53.3 77 52.4 81.1 51.6 85.3 50.8 89.5 50 93.7 49.2 97.9 48.5 102 47.8 106.2 47.1 110.4 46.5 114.6 45.8 118.8 45.2 122.9 44.5 136.9 44.5 136.9 65.9 122.9 65.9 118.8 66.1 114.6 66.2 110.4 66.4 106.2 66.5 102 66.7 97.9 66.8 93.7 67.1 89.5 67.3 85.3 67.6 81.1 67.9 77 68.2 72.8 68.6 68.6 69.1 64.4 69.7 60.2 69.9 56.1 70.3 51.9 70.8 47.7 71.5 43.5 72.5 39.3 73.8 35.2 75.2 31 77 26.8 79.6 22.6 82.3 18.4 84 14.3 84 10.1 84 5.9 84 -8.1 84Z"/><clipPath id="cp3_10"><use href="#p3_10"/></clipPath><clipPath id="a4_0"><rect width="128" height="84"/></clipPath><path id="p4_0" d="M-8.1 84 5.9 84 10.1 82.6 14.3 80.8 18.4 78 22.6 74.8 26.8 71.4 31 68.1 35.2 65.3 39.3 62.7 43.5 60.4 47.7 58.2 51.9 56.3 56.1 54.5 60.2 52.8 64.4 51.2 68.6 50.1 72.8 49.1 77 48.1 81.1 47.2 85.3 46.4 89.5 45.6 93.7 44.9 97.9 44.2 102 43.6 106.2 43 110.4 42.4 114.6 41.9 118.8 41.3 122.9 40.7 136.9 40.7 136.9 68 122.9 68 118.8 68 114.6 68 110.4 67.9 106.2 67.9 102 67.9 97.9 67.9 93.7 68 89.5 68.1 85.3 68.3 81.1 68.5 77 68.8 72.8 69.2 68.6 69.6 64.4 70.1 60.2 70.4 56.1 70.8 51.9 71.3 47.7 71.9 43.5 72.8 39.3 73.8 35.2 75.1 31 76.6 26.8 78.6 22.6 80.6 18.4 82.4 14.3 83.7 10.1 84 5.9 84 -8.1 84Z"/><clipPath id="cp4_0"><use href="#p4_0"/></clipPath><clipPath id="a4_1"><rect width="128" height="84"/></clipPath><path id="p4_1" d="M-8.1 84 5.9 84 10.1 83.4 14.3 82.3 18.4 80.2 22.6 77.3 26.8 73.6 31 69.8 35.2 66.9 39.3 64.4 43.5 62.4 47.7 60.7 51.9 59.5 56.1 58.6 60.2 57.8 64.4 57.1 68.6 56.1 72.8 55.1 77 54.2 81.1 53.4 85.3 52.5 89.5 51.7 93.7 50.9 97.9 50.2 102 49.5 106.2 48.9 110.4 48.2 114.6 47.5 118.8 46.9 122.9 46.2 136.9 46.2 136.9 69.3 122.9 69.3 118.8 69.5 114.6 69.6 110.4 69.8 106.2 69.9 102 70.1 97.9 70.3 93.7 70.5 89.5 70.7 85.3 71 81.1 71.4 77 71.7 72.8 72.1 68.6 72.6 64.4 73.1 60.2 72.7 56.1 72.4 51.9 72.2 47.7 72.3 43.5 72.9 39.3 73.8 35.2 75.2 31 77 26.8 79.7 22.6 82.3 18.4 84 14.3 84 10.1 84 5.9 84 -8.1 84Z"/><clipPath id="cp4_1"><use href="#p4_1"/></clipPath><clipPath id="a4_2"><rect width="128" height="84"/></clipPath><path id="p4_2" d="M-8.1 84 5.9 84 10.1 82.9 14.3 81.5 18.4 78.9 22.6 75.6 26.8 70.8 31 65.9 35.2 62.3 39.3 59.2 43.5 56.3 47.7 53.8 51.9 51.5 56.1 49.3 60.2 47.3 64.4 45.4 68.6 44.3 72.8 43.2 77 42.2 81.1 41.3 85.3 40.4 89.5 39.5 93.7 38.7 97.9 37.9 102 37.1 106.2 36.4 110.4 35.7 114.6 35 118.8 34.3 122.9 33.6 136.9 33.6 136.9 81.5 122.9 81.5 118.8 81.4 114.6 81.2 110.4 81.1 106.2 80.9 102 80.8 97.9 80.7 93.7 80.7 89.5 80.6 85.3 80.7 81.1 80.7 77 80.9 72.8 81 68.6 81.2 64.4 81.5 60.2 80.6 56.1 79.7 51.9 79 47.7 78.5 43.5 78.2 39.3 78.2 35.2 78.4 31 79.2 26.8 81.2 22.6 83.2 18.4 84 14.3 84 10.1 84 5.9 84 -8.1 84Z"/><clipPath id="cp4_2"><use href="#p4_2"/></clipPath><path id="q4_2" d="M-8.1 84 5.9 84 10.1 83.1 14.3 81.9 18.4 79.6 22.6 76.4 26.8 71.9 31 67.4 35.2 64.1 39.3 61.3 43.5 58.7 47.7 56.5 51.9 54.5 56.1 52.7 60.2 51 64.4 49.3 68.6 48.4 72.8 47.4 77 46.5 81.1 45.7 85.3 44.9 89.5 44.1 93.7 43.4 97.9 42.7 102 42.1 106.2 41.5 110.4 40.9 114.6 40.3 118.8 39.7 122.9 39.1 136.9 39.1 136.9 68.5 122.9 68.5 118.8 68.6 114.6 68.6 110.4 68.7 106.2 68.8 102 68.8 97.9 69 93.7 69.1 89.5 69.3 85.3 69.5 81.1 69.8 77 70.2 72.8 70.5 68.6 70.9 64.4 71.4 60.2 71.3 56.1 71.3 51.9 71.3 47.7 71.6 43.5 72.1 39.3 72.9 35.2 74 31 75.5 26.8 78.3 22.6 81.1 18.4 82.7 14.3 83.6 10.1 83.9 5.9 84 -8.1 84Z"/><clipPath id="cq4_2"><use href="#q4_2"/></clipPath><clipPath id="a4_3"><rect width="128" height="84"/></clipPath><path id="p4_3" d="M-8.1 84 5.9 84 10.1 83.1 14.3 81.9 18.4 79.6 22.6 76.4 26.8 72.4 31 68.3 35.2 65 39.3 62.2 43.5 59.8 47.7 57.9 51.9 56.3 56.1 55.1 60.2 54 64.4 52.9 68.6 52.1 72.8 51.4 77 50.7 81.1 50.1 85.3 49.5 89.5 49 93.7 48.4 97.9 47.9 102 47.5 106.2 47.1 110.4 46.6 114.6 46.2 118.8 45.8 122.9 45.4 136.9 45.4 136.9 69.3 122.9 69.3 118.8 69.4 114.6 69.5 110.4 69.6 106.2 69.7 102 69.8 97.9 69.9 93.7 70.1 89.5 70.3 85.3 70.5 81.1 70.8 77 71.1 72.8 71.4 68.6 71.8 64.4 72.2 60.2 72 56.1 71.7 51.9 71.6 47.7 71.8 43.5 72.4 39.3 73.5 35.2 74.9 31 76.9 26.8 79.6 22.6 82.3 18.4 84 14.3 84 10.1 84 5.9 84 -8.1 84Z"/><clipPath id="cp4_3"><use href="#p4_3"/></clipPath><clipPath id="a4_4"><rect width="128" height="84"/></clipPath><path id="p4_4" d="M-8.1 84 5.9 84 10.1 83 14.3 81.5 18.4 78.5 22.6 74.8 26.8 70.4 31 66.1 35.2 62.2 39.3 58.7 43.5 55.6 47.7 53 51.9 50.8 56.1 48.9 60.2 47.2 64.4 45.4 68.6 44.5 72.8 43.6 77 42.8 81.1 41.9 85.3 41.1 89.5 40.3 93.7 39.5 97.9 38.8 102 38.1 106.2 37.3 110.4 36.6 114.6 35.9 118.8 35.2 122.9 34.4 136.9 34.4 136.9 71.4 122.9 71.4 118.8 71.5 114.6 71.7 110.4 71.8 106.2 71.9 102 72 97.9 72.2 93.7 72.3 89.5 72.5 85.3 72.7 81.1 72.9 77 73.1 72.8 73.4 68.6 73.6 64.4 73.9 60.2 73.6 56.1 73.3 51.9 73.1 47.7 73.2 43.5 73.7 39.3 74.7 35.2 76.1 31 77.9 26.8 80.1 22.6 82.3 18.4 84 14.3 84 10.1 84 5.9 84 -8.1 84Z"/><clipPath id="cp4_4"><use href="#p4_4"/></clipPath><clipPath id="a4_5"><rect width="128" height="84"/></clipPath><path id="p4_5" d="M-8.1 84 5.9 84 10.1 83.4 14.3 82.3 18.4 80.2 22.6 77.3 26.8 73.1 31 69 35.2 66 39.3 63.6 43.5 61.4 47.7 59.5 51.9 57.7 56.1 56 60.2 54.4 64.4 52.9 68.6 51.8 72.8 50.8 77 49.9 81.1 49.1 85.3 48.3 89.5 47.5 93.7 46.7 97.9 46 102 45.3 106.2 44.6 110.4 44 114.6 43.3 118.8 42.7 122.9 42 136.9 42 136.9 69.3 122.9 69.3 118.8 69.4 114.6 69.5 110.4 69.6 106.2 69.6 102 69.7 97.9 69.8 93.7 70 89.5 70.2 85.3 70.4 81.1 70.7 77 70.9 72.8 71.3 68.6 71.7 64.4 72.2 60.2 72.3 56.1 72.4 51.9 72.7 47.7 73.1 43.5 73.6 39.3 74.3 35.2 75.3 31 76.9 26.8 79.6 22.6 82.3 18.4 84 14.3 84 10.1 84 5.9 84 -8.1 84Z"/><clipPath id="cp4_5"><use href="#p4_5"/></clipPath><clipPath id="a4_6"><rect width="128" height="84"/></clipPath><path id="p4_6" d="M-8.1 84 5.9 84 10.1 83.1 14.3 81.9 18.4 79.4 22.6 76.4 26.8 73 31 69.4 35.2 65.8 39.3 62.3 43.5 59.5 47.7 57 51.9 54.7 56.1 52.6 60.2 50.6 64.4 48.7 68.6 47.9 72.8 47.1 77 46.5 81.1 45.9 85.3 45.3 89.5 44.6 93.7 43.9 97.9 43.3 102 42.6 106.2 41.9 110.4 41.2 114.6 40.5 118.8 39.8 122.9 39.1 136.9 39.1 136.9 71.4 122.9 71.4 118.8 71.6 114.6 71.8 110.4 72 106.2 72.2 102 72.3 97.9 72.5 93.7 72.7 89.5 72.9 85.3 73 81.1 73.1 77 73.2 72.8 73.4 68.6 73.6 64.4 73.9 60.2 73.8 56.1 73.9 51.9 74.1 47.7 74.4 43.5 75 39.3 75.9 35.2 77.4 31 79.1 26.8 80.8 22.6 82.3 18.4 83.9 14.3 84 10.1 84 5.9 84 -8.1 84Z"/><clipPath id="cp4_6"><use href="#p4_6"/></clipPath><clipPath id="a4_7"><rect width="128" height="84"/></clipPath><path id="p4_7" d="M-8.1 84 5.9 84 10.1 83.4 14.3 82.3 18.4 79.8 22.6 76.4 26.8 72.9 31 69.5 35.2 66.8 39.3 64.6 43.5 62.4 47.7 60.6 51.9 59.1 56.1 57.8 60.2 56.6 64.4 55.4 68.6 54.3 72.8 53.2 77 52.1 81.1 51 85.3 50 89.5 49 93.7 48 97.9 47.1 102 46.2 106.2 45.4 110.4 44.5 114.6 43.7 118.8 42.9 122.9 42 136.9 42 136.9 66.4 122.9 66.4 118.8 66.6 114.6 66.9 110.4 67.1 106.2 67.3 102 67.6 97.9 67.9 93.7 68.2 89.5 68.5 85.3 68.9 81.1 69.4 77 69.8 72.8 70.3 68.6 70.9 64.4 71.4 60.2 71.5 56.1 71.6 51.9 71.8 47.7 72.2 43.5 72.9 39.3 74 35.2 75.2 31 76.7 26.8 79 22.6 81.5 18.4 83.6 14.3 84 10.1 84 5.9 84 -8.1 84Z"/><clipPath id="cp4_7"><use href="#p4_7"/></clipPath><clipPath id="a4_8"><rect width="128" height="84"/></clipPath><path id="p4_8" d="M-8.1 84 5.9 84 10.1 82.8 14.3 81.3 18.4 78.7 22.6 75.6 26.8 72.4 31 69.1 35.2 66.2 39.3 63.5 43.5 60.8 47.7 58.3 51.9 56.1 56.1 54.1 60.2 52.2 64.4 50.4 68.6 49.1 72.8 47.9 77 46.8 81.1 45.8 85.3 44.8 89.5 43.7 93.7 42.5 97.9 41.4 102 40.2 106.2 39.1 110.4 37.9 114.6 36.8 118.8 35.6 122.9 34.4 136.9 34.4 136.9 78.1 122.9 78.1 118.8 78.2 114.6 78.3 110.4 78.4 106.2 78.6 102 78.7 97.9 78.8 93.7 78.9 89.5 79 85.3 79 81.1 79 77 79 72.8 79 68.6 79.1 64.4 79.4 60.2 79 56.1 78.7 51.9 78.6 47.7 78.7 43.5 79.1 39.3 79.6 35.2 80.2 31 81 26.8 82.1 22.6 83.2 18.4 84 14.3 84 10.1 84 5.9 84 -8.1 84Z"/><clipPath id="cp4_8"><use href="#p4_8"/></clipPath><path id="q4_8" d="M-8.1 84 5.9 84 10.1 83.1 14.3 81.7 18.4 79.4 22.6 76.5 26.8 73.5 31 70.5 35.2 67.9 39.3 65.4 43.5 62.9 47.7 60.6 51.9 58.7 56.1 56.8 60.2 55.2 64.4 53.7 68.6 52.5 72.8 51.5 77 50.6 81.1 49.7 85.3 48.8 89.5 47.9 93.7 46.9 97.9 45.9 102 44.9 106.2 43.9 110.4 42.9 114.6 41.9 118.8 40.9 122.9 39.9 136.9 39.9 136.9 67.2 122.9 67.2 118.8 67.5 114.6 67.8 110.4 68.2 106.2 68.5 102 68.8 97.9 69.1 93.7 69.4 89.5 69.7 85.3 70 81.1 70.2 77 70.4 72.8 70.6 68.6 70.9 64.4 71.4 60.2 71.6 56.1 72 51.9 72.5 47.7 73.2 43.5 74.1 39.3 75.3 35.2 76.5 31 77.9 26.8 79.6 22.6 81.3 18.4 82.8 14.3 83.6 10.1 83.9 5.9 84 -8.1 84Z"/><clipPath id="cq4_8"><use href="#q4_8"/></clipPath><clipPath id="a4_9"><rect width="128" height="84"/></clipPath><path id="p4_9" d="M-8.1 84 5.9 84 10.1 83.1 14.3 81.9 18.4 79.5 22.6 76.4 26.8 73.2 31 69.9 35.2 67.3 39.3 65 43.5 62.9 47.7 61 51.9 59.1 56.1 57.2 60.2 55.4 64.4 53.8 68.6 52.3 72.8 50.9 77 49.7 81.1 48.6 85.3 47.4 89.5 46.2 93.7 45 97.9 43.8 102 42.5 106.2 41.3 110.4 40.1 114.6 38.9 118.8 37.7 122.9 36.5 136.9 36.5 136.9 59.6 122.9 59.6 118.8 60.1 114.6 60.5 110.4 61 106.2 61.4 102 61.9 97.9 62.4 93.7 62.8 89.5 63.3 85.3 63.7 81.1 64.2 77 64.6 72.8 65 68.6 65.6 64.4 66.4 60.2 67.2 56.1 68.2 51.9 69.4 47.7 70.6 43.5 71.7 39.3 73.1 35.2 74.6 31 76.4 26.8 79 22.6 81.5 18.4 83.3 14.3 84 10.1 84 5.9 84 -8.1 84Z"/><clipPath id="cp4_9"><use href="#p4_9"/></clipPath><clipPath id="a4_10"><rect width="128" height="84"/></clipPath><path id="p4_10" d="M-8.1 84 5.9 84 10.1 82.4 14.3 80.1 18.4 76.1 22.6 71.4 26.8 67.4 31 63.8 35.2 60.8 39.3 58.2 43.5 55.8 47.7 53.5 51.9 51.3 56.1 49.2 60.2 47.2 64.4 45.4 68.6 43.9 72.8 42.5 77 41.3 81.1 40 85.3 38.8 89.5 37.5 93.7 36.1 97.9 34.7 102 33.3 106.2 31.8 110.4 30.4 114.6 28.9 118.8 27.5 122.9 26 136.9 26 136.9 70.6 122.9 70.6 118.8 71.1 114.6 71.6 110.4 72.2 106.2 72.8 102 73.3 97.9 73.8 93.7 74.3 89.5 74.8 85.3 75.2 81.1 75.6 77 75.9 72.8 76.2 68.6 76.7 64.4 77.3 60.2 76.9 56.1 76.6 51.9 76.4 47.7 76.4 43.5 76.3 39.3 76.5 35.2 76.8 31 77.5 26.8 78.9 22.6 80.6 18.4 83 14.3 84 10.1 84 5.9 84 -8.1 84Z"/><clipPath id="cp4_10"><use href="#p4_10"/></clipPath><path id="q4_10" d="M-8.1 84 5.9 84 10.1 82.7 14.3 80.8 18.4 77 22.6 72.7 26.8 68.9 31 65.5 35.2 62.7 39.3 60.4 43.5 58.1 47.7 56.1 51.9 54.1 56.1 52.2 60.2 50.4 64.4 48.8 68.6 47.5 72.8 46.3 77 45.3 81.1 44.3 85.3 43.2 89.5 42.1 93.7 40.9 97.9 39.7 102 38.4 106.2 37.2 110.4 35.9 114.6 34.6 118.8 33.4 122.9 32.1 136.9 32.1 136.9 61.5 122.9 61.5 118.8 62.1 114.6 62.7 110.4 63.3 106.2 63.9 102 64.6 97.9 65.2 93.7 65.7 89.5 66.3 85.3 66.8 81.1 67.2 77 67.5 72.8 68 68.6 68.5 64.4 69.2 60.2 69.3 56.1 69.7 51.9 70.2 47.7 70.7 43.5 71.3 39.3 72.1 35.2 73.1 31 74.4 26.8 76.4 22.6 78.8 18.4 81.6 14.3 83.4 10.1 83.8 5.9 84 -8.1 84Z"/><clipPath id="cq4_10"><use href="#q4_10"/></clipPath><clipPath id="a5_0"><rect width="128" height="84"/></clipPath><path id="p5_0" d="M-8.1 84 5.9 84 10.1 82.7 14.3 81.1 18.4 78.3 22.6 74.8 26.8 70.5 31 66.2 35.2 62.9 39.3 60.1 43.5 57.8 47.7 55.8 51.9 54.1 56.1 52.7 60.2 51.5 64.4 50.4 68.6 48.7 72.8 47.1 77 45.6 81.1 44.2 85.3 42.8 89.5 41.3 93.7 39.9 97.9 38.4 102 37 106.2 35.5 110.4 34.1 114.6 32.7 118.8 31.3 122.9 29.8 136.9 29.8 136.9 58.8 122.9 58.8 118.8 58.9 114.6 59.1 110.4 59.2 106.2 59.4 102 59.5 97.9 59.7 93.7 59.8 89.5 60 85.3 60.2 81.1 60.3 77 60.4 72.8 60.6 68.6 60.9 64.4 61.3 60.2 61.8 56.1 62.5 51.9 63.3 47.7 64.3 43.5 65.7 39.3 67.5 35.2 69.7 31 72.4 26.8 76.2 22.6 79.8 18.4 82.1 14.3 83.6 10.1 84 5.9 84 -8.1 84Z"/><clipPath id="cp5_0"><use href="#p5_0"/></clipPath><clipPath id="a5_1"><rect width="128" height="84"/></clipPath><path id="p5_1" d="M-8.1 84 5.9 84 10.1 82.6 14.3 81.1 18.4 78.9 22.6 76.4 26.8 73.5 31 70.4 35.2 67.3 39.3 64.3 43.5 61.7 47.7 59.1 51.9 56.6 56.1 54.2 60.2 51.8 64.4 49.6 68.6 48.3 72.8 47.1 77 46 81.1 44.9 85.3 43.8 89.5 42.8 93.7 41.7 97.9 40.6 102 39.6 106.2 38.6 110.4 37.5 114.6 36.5 118.8 35.5 122.9 34.4 136.9 34.4 136.9 76.4 122.9 76.4 118.8 76.6 114.6 76.8 110.4 77 106.2 77.2 102 77.4 97.9 77.6 93.7 77.8 89.5 78.1 85.3 78.3 81.1 78.5 77 78.7 72.8 79 68.6 79.3 64.4 79.8 60.2 79.7 56.1 79.7 51.9 79.8 47.7 80 43.5 80.1 39.3 80.5 35.2 81.1 31 81.8 26.8 82.5 22.6 83.2 18.4 83.9 14.3 84 10.1 84 5.9 84 -8.1 84Z"/><clipPath id="cp5_1"><use href="#p5_1"/></clipPath><clipPath id="a5_2"><rect width="128" height="84"/></clipPath><path id="p5_2" d="M-8.1 84 5.9 84 10.1 83.2 14.3 81.9 18.4 79.5 22.6 76.4 26.8 72.7 31 68.8 35.2 65.2 39.3 62 43.5 59.6 47.7 57.7 51.9 56.2 56.1 54.9 60.2 53.7 64.4 52.5 68.6 51.3 72.8 50.1 77 49 81.1 47.9 85.3 46.8 89.5 45.8 93.7 44.8 97.9 43.9 102 43.1 106.2 42.3 110.4 41.5 114.6 40.7 118.8 39.9 122.9 39.1 136.9 39.1 136.9 63 122.9 63 118.8 63.4 114.6 63.8 110.4 64.2 106.2 64.5 102 64.9 97.9 65.4 93.7 65.8 89.5 66.4 85.3 67 81.1 67.6 77 68.3 72.8 69 68.6 69.8 64.4 70.6 60.2 70.6 56.1 70.7 51.9 70.8 47.7 71.2 43.5 72 39.3 73.2 35.2 75.3 31 77.8 26.8 80.5 22.6 83.2 18.4 84 14.3 84 10.1 84 5.9 84 -8.1 84Z"/><clipPath id="cp5_2"><use href="#p5_2"/></clipPath><clipPath id="a5_3"><rect width="128" height="84"/></clipPath><path id="p5_3" d="M-8.1 84 5.9 84 10.1 83.5 14.3 82.5 18.4 80.3 22.6 77.3 26.8 73.8 31 70.3 35.2 67.7 39.3 65.4 43.5 63.1 47.7 61 51.9 59.3 56.1 57.9 60.2 56.6 64.4 55.4 68.6 54.3 72.8 53.3 77 52.3 81.1 51.4 85.3 50.5 89.5 49.7 93.7 48.8 97.9 48.1 102 47.3 106.2 46.6 110.4 45.9 114.6 45.1 118.8 44.4 122.9 43.7 136.9 43.7 136.9 65.9 122.9 65.9 118.8 66.4 114.6 66.8 110.4 67.2 106.2 67.6 102 68.1 97.9 68.5 93.7 69 89.5 69.5 85.3 70.1 81.1 70.7 77 71.3 72.8 71.9 68.6 72.7 64.4 73.5 60.2 73.4 56.1 73.4 51.9 73.5 47.7 73.8 43.5 74.6 39.3 75.7 35.2 76.7 31 78 26.8 80.1 22.6 82.3 18.4 84 14.3 84 10.1 84 5.9 84 -8.1 84Z"/><clipPath id="cp5_3"><use href="#p5_3"/></clipPath><clipPath id="a5_4"><rect width="128" height="84"/></clipPath><path id="p5_4" d="M-8.1 84 5.9 84 10.1 82.8 14.3 81.3 18.4 78.8 22.6 75.6 26.8 72.4 31 69.1 35.2 66.4 39.3 63.9 43.5 61.8 47.7 60 51.9 58.5 56.1 57.2 60.2 56.1 64.4 55 68.6 53.9 72.8 52.9 77 51.9 81.1 51 85.3 50.1 89.5 49.3 93.7 48.4 97.9 47.6 102 46.9 106.2 46.2 110.4 45.4 114.6 44.7 118.8 44 122.9 43.3 136.9 43.3 136.9 64.7 122.9 64.7 118.8 65 114.6 65.3 110.4 65.6 106.2 65.9 102 66.2 97.9 66.5 93.7 66.9 89.5 67.3 85.3 67.8 81.1 68.2 77 68.7 72.8 69.3 68.6 69.9 64.4 70.6 60.2 70.7 56.1 70.8 51.9 71.1 47.7 71.7 43.5 72.5 39.3 73.7 35.2 75.1 31 76.9 26.8 79.3 22.6 81.5 18.4 83.2 14.3 84 10.1 84 5.9 84 -8.1 84Z"/><clipPath id="cp5_4"><use href="#p5_4"/></clipPath><clipPath id="a5_5"><rect width="128" height="84"/></clipPath><path id="p5_5" d="M-8.1 84 5.9 84 10.1 83.6 14.3 82.7 18.4 80.3 22.6 77.3 26.8 73.5 31 69.7 35.2 66.2 39.3 63 43.5 60.3 47.7 58 51.9 55.7 56.1 53.5 60.2 51.5 64.4 49.6 68.6 47.8 72.8 46.1 77 44.5 81.1 43 85.3 41.6 89.5 40.1 93.7 38.7 97.9 37.4 102 36.1 106.2 34.8 110.4 33.6 114.6 32.3 118.8 31.1 122.9 29.8 136.9 29.8 136.9 61.3 122.9 61.3 118.8 61.7 114.6 62.1 110.4 62.5 106.2 62.9 102 63.3 97.9 63.7 93.7 64.2 89.5 64.7 85.3 65.2 81.1 65.8 77 66.5 72.8 67.2 68.6 68 64.4 68.9 60.2 69.4 56.1 70 51.9 70.7 47.7 71.6 43.5 72.5 39.3 73.8 35.2 75.5 31 77.6 26.8 79.9 22.6 82.3 18.4 84 14.3 84 10.1 84 5.9 84 -8.1 84Z"/><clipPath id="cp5_5"><use href="#p5_5"/></clipPath><clipPath id="a5_6"><rect width="128" height="84"/></clipPath><path id="p5_6" d="M-8.1 84 5.9 84 10.1 83.4 14.3 82.5 18.4 80.6 22.6 78.1 26.8 74 31 69.9 35.2 66.2 39.3 62.9 43.5 60.1 47.7 57.6 51.9 55.1 56.1 52.5 60.2 50.1 64.4 47.9 68.6 46.6 72.8 45.4 77 44.3 81.1 43.3 85.3 42.4 89.5 41.4 93.7 40.4 97.9 39.5 102 38.7 106.2 37.8 110.4 37 114.6 36.1 118.8 35.3 122.9 34.4 136.9 34.4 136.9 82.3 122.9 82.3 118.8 82.2 114.6 82.1 110.4 82 106.2 81.9 102 81.7 97.9 81.7 93.7 81.6 89.5 81.6 85.3 81.6 81.1 81.6 77 81.6 72.8 81.8 68.6 82 64.4 82.3 60.2 81.6 56.1 81.1 51.9 80.7 47.7 80.3 43.5 79.9 39.3 79.7 35.2 80.1 31 80.8 26.8 82 22.6 83.2 18.4 84 14.3 84 10.1 84 5.9 84 -8.1 84Z"/><clipPath id="cp5_6"><use href="#p5_6"/></clipPath><path id="q5_6" d="M-8.1 84 5.9 84 10.1 83.5 14.3 82.7 18.4 80.8 22.6 78.4 26.8 74.7 31 70.9 35.2 67.6 39.3 64.6 43.5 62.2 47.7 60 51.9 57.8 56.1 55.6 60.2 53.6 64.4 51.7 68.6 50.5 72.8 49.5 77 48.6 81.1 47.8 85.3 47 89.5 46.2 93.7 45.4 97.9 44.6 102 43.9 106.2 43.2 110.4 42.6 114.6 41.9 118.8 41.2 122.9 40.5 136.9 40.5 136.9 70.6 122.9 70.6 118.8 70.6 114.6 70.6 110.4 70.7 106.2 70.7 102 70.7 97.9 70.8 93.7 70.9 89.5 71 85.3 71.2 81.1 71.3 77 71.5 72.8 71.8 68.6 72.2 64.4 72.7 60.2 72.7 56.1 73 51.9 73.4 47.7 73.8 43.5 74.1 39.3 74.7 35.2 75.9 31 77.4 26.8 79.3 22.6 81.3 18.4 82.8 14.3 83.6 10.1 83.9 5.9 84 -8.1 84Z"/><clipPath id="cq5_6"><use href="#q5_6"/></clipPath><clipPath id="a5_7"><rect width="128" height="84"/></clipPath><path id="p5_7" d="M-8.1 84 5.9 84 10.1 83 14.3 81.7 18.4 79.9 22.6 77.3 26.8 73 31 68.5 35.2 65 39.3 61.9 43.5 59.2 47.7 57 51.9 54.9 56.1 53 60.2 51.3 64.4 49.6 68.6 47.9 72.8 46.2 77 44.5 81.1 42.9 85.3 41.4 89.5 39.8 93.7 38.3 97.9 36.9 102 35.5 106.2 34.1 110.4 32.7 114.6 31.3 118.8 30 122.9 28.6 136.9 28.6 136.9 64.7 122.9 64.7 118.8 65.1 114.6 65.5 110.4 66 106.2 66.4 102 66.8 97.9 67.3 93.7 67.7 89.5 68.3 85.3 68.9 81.1 69.5 77 70.1 72.8 70.8 68.6 71.5 64.4 72.2 60.2 72.2 56.1 72.2 51.9 72.3 47.7 72.6 43.5 73.1 39.3 74 35.2 75.3 31 77.1 26.8 79.8 22.6 82.3 18.4 83.6 14.3 84 10.1 84 5.9 84 -8.1 84Z"/><clipPath id="cp5_7"><use href="#p5_7"/></clipPath><clipPath id="a5_8"><rect width="128" height="84"/></clipPath><path id="p5_8" d="M-8.1 84 5.9 84 10.1 82.4 14.3 80.4 18.4 77.4 22.6 73.9 26.8 70.8 31 67.7 35.2 65.1 39.3 62.7 43.5 60.6 47.7 58.6 51.9 56.9 56.1 55.4 60.2 53.9 64.4 52.5 68.6 50.7 72.8 48.9 77 47.2 81.1 45.5 85.3 43.8 89.5 42 93.7 40.2 97.9 38.3 102 36.4 106.2 34.5 110.4 32.6 114.6 30.7 118.8 28.8 122.9 26.9 136.9 26.9 136.9 73.9 122.9 73.9 118.8 74 114.6 74.2 110.4 74.3 106.2 74.5 102 74.6 97.9 74.7 93.7 74.8 89.5 74.9 85.3 74.9 81.1 74.8 77 74.8 72.8 74.7 68.6 74.7 64.4 74.8 60.2 74.7 56.1 74.7 51.9 74.8 47.7 75 43.5 75.5 39.3 76.2 35.2 77.1 31 78.2 26.8 79.8 22.6 81.5 18.4 83.1 14.3 84 10.1 84 5.9 84 -8.1 84Z"/><clipPath id="cp5_8"><use href="#p5_8"/></clipPath><clipPath id="a5_9"><rect width="128" height="84"/></clipPath><path id="p5_9" d="M-8.1 84 5.9 84 10.1 83.2 14.3 82.1 18.4 80.3 22.6 78.1 26.8 75.6 31 72.9 35.2 70.4 39.3 68.1 43.5 66 47.7 64.2 51.9 62.5 56.1 60.9 60.2 59.4 64.4 58 68.6 56.3 72.8 54.7 77 53.2 81.1 51.6 85.3 50.1 89.5 48.5 93.7 46.9 97.9 45.3 102 43.6 106.2 42 110.4 40.3 114.6 38.6 118.8 36.9 122.9 35.3 136.9 35.3 136.9 60.9 122.9 60.9 118.8 61.9 114.6 62.9 110.4 63.8 106.2 64.8 102 65.8 97.9 66.8 93.7 67.7 89.5 68.6 85.3 69.5 81.1 70.4 77 71.2 72.8 72 68.6 72.9 64.4 73.9 60.2 74.2 56.1 74.7 51.9 75.2 47.7 75.8 43.5 76.5 39.3 77.5 35.2 78.8 31 80.1 26.8 81.7 22.6 83.2 18.4 84 14.3 84 10.1 84 5.9 84 -8.1 84Z"/><clipPath id="cp5_9"><use href="#p5_9"/></clipPath><clipPath id="a5_10"><rect width="128" height="84"/></clipPath><path id="p5_10" d="M-8.1 84 5.9 84 10.1 83.6 14.3 82.7 18.4 80.6 22.6 78.1 26.8 75.4 31 72.7 35.2 69.9 39.3 67.2 43.5 65 47.7 63 51.9 60.9 56.1 58.7 60.2 56.6 64.4 54.6 68.6 51.9 72.8 49.3 77 46.8 81.1 44.2 85.3 41.6 89.5 39 93.7 36.4 97.9 33.9 102 31.1 106.2 27.9 110.4 23.9 114.6 19.2 118.8 13.9 122.9 8.4 136.9 8.4 136.9 50.4 122.9 50.4 118.8 53.8 114.6 57 110.4 59.6 106.2 61.5 102 62.6 97.9 63.3 93.7 63.7 89.5 64.2 85.3 64.7 81.1 65.2 77 65.7 72.8 66.1 68.6 66.6 64.4 67.2 60.2 68.5 56.1 69.8 51.9 71.2 47.7 72.6 43.5 73.8 39.3 75.3 35.2 77.2 31 79.2 26.8 81.2 22.6 83.2 18.4 84 14.3 84 10.1 84 5.9 84 -8.1 84Z"/><clipPath id="cp5_10"><use href="#p5_10"/></clipPath><clipPath id="a6_0"><rect width="128" height="84"/></clipPath><path id="p6_0" d="M-8.1 84 5.9 84 10.1 82.2 14.3 80.6 18.4 78.6 22.6 75.6 26.8 70.9 31 65.2 35.2 59.1 39.3 53.8 43.5 49.5 47.7 45.7 51.9 42 56.1 37.8 60.2 32.8 64.4 27.4 68.6 21.9 72.8 16.8 77 11.5 81.1 6 85.3 1.7 89.5 0 93.7 0 97.9 0 102 0 106.2 0 110.4 0 114.6 0 118.8 0 122.9 0 136.9 0 136.9 42.8 122.9 42.8 118.8 43.4 114.6 43.9 110.4 44.6 106.2 45.4 102 46.4 97.9 47.6 93.7 49 89.5 50.4 85.3 52 81.1 53.7 77 55.4 72.8 57.1 68.6 58.8 64.4 60.5 60.2 62.2 56.1 63.8 51.9 65.2 47.7 66.5 43.5 67.9 39.3 69.7 35.2 72.5 31 75.8 26.8 79.1 22.6 81.5 18.4 82.8 14.3 83.3 10.1 83.6 5.9 84 -8.1 84Z"/><clipPath id="cp6_0"><use href="#p6_0"/></clipPath><clipPath id="a6_1"><rect width="128" height="84"/></clipPath><path id="p6_1" d="M-8.1 84 5.9 84 10.1 83.4 14.3 82.3 18.4 80.2 22.6 77.3 26.8 73.7 31 70.1 35.2 67.4 39.3 65.1 43.5 63 47.7 60.9 51.9 58.7 56.1 56.4 60.2 54.1 64.4 52.1 68.6 49.4 72.8 46.9 77 44.5 81.1 42.2 85.3 39.7 89.5 37.1 93.7 34.2 97.9 31.3 102 28.2 106.2 24.8 110.4 21.3 114.6 17.4 118.8 13.5 122.9 9.7 136.9 9.7 136.9 42.8 122.9 42.8 118.8 45.5 114.6 48.2 110.4 50.8 106.2 53.2 102 55.3 97.9 57.3 93.7 59 89.5 60.7 85.3 62.1 81.1 63.4 77 64.5 72.8 65.7 68.6 67 64.4 68.5 60.2 69.4 56.1 70.5 51.9 71.6 47.7 72.7 43.5 73.7 39.3 74.7 35.2 75.9 31 77.4 26.8 79.9 22.6 82.3 18.4 83.9 14.3 84 10.1 84 5.9 84 -8.1 84Z"/><clipPath id="cp6_1"><use href="#p6_1"/></clipPath><clipPath id="a6_2"><rect width="128" height="84"/></clipPath><path id="p6_2" d="M-8.1 84 5.9 84 10.1 83.4 14.3 82.3 18.4 80.2 22.6 77.3 26.8 72.8 31 68.3 35.2 64.4 39.3 60.6 43.5 56.5 47.7 52.4 51.9 48.4 56.1 44.4 60.2 40.5 64.4 37 68.6 34.7 72.8 32.8 77 31 81.1 29.3 85.3 27.7 89.5 25.9 93.7 24.1 97.9 22.5 102 20.6 106.2 18.2 110.4 15.1 114.6 11.4 118.8 7.5 122.9 3.8 136.9 3.8 136.9 50.4 122.9 50.4 118.8 52.7 114.6 55.2 110.4 57.4 106.2 59.2 102 60.1 97.9 60.6 93.7 60.9 89.5 61.2 85.3 61.6 81.1 61.9 77 62.1 72.8 62.5 68.6 63 64.4 63.8 60.2 65.2 56.1 66.9 51.9 68.7 47.7 70.6 43.5 72.5 39.3 74.3 35.2 76 31 77.7 26.8 80.1 22.6 82.3 18.4 83.9 14.3 84 10.1 84 5.9 84 -8.1 84Z"/><clipPath id="cp6_2"><use href="#p6_2"/></clipPath><clipPath id="a6_3"><rect width="128" height="84"/></clipPath><path id="p6_3" d="M-8.1 84 5.9 84 10.1 82.9 14.3 81.5 18.4 78.9 22.6 75.6 26.8 71.7 31 67.6 35.2 64.1 39.3 60.9 43.5 58.3 47.7 55.9 51.9 53.4 56.1 50.9 60.2 48.4 64.4 46.2 68.6 44 72.8 41.9 77 40 81.1 38.1 85.3 36.1 89.5 33.8 93.7 31.5 97.9 29 102 26.3 106.2 23.2 110.4 19.5 114.6 15.3 118.8 11 122.9 6.7 136.9 6.7 136.9 56.3 122.9 56.3 118.8 58.8 114.6 61.4 110.4 63.8 106.2 65.8 102 67.2 97.9 68.2 93.7 68.9 89.5 69.5 85.3 70 81.1 70.3 77 70.4 72.8 70.6 68.6 70.9 64.4 71.4 60.2 71.7 56.1 72.2 51.9 72.8 47.7 73.3 43.5 73.8 39.3 74.5 35.2 75.8 31 77.4 26.8 79.5 22.6 81.5 18.4 83.3 14.3 84 10.1 84 5.9 84 -8.1 84Z"/><clipPath id="cp6_3"><use href="#p6_3"/></clipPath><clipPath id="a6_4"><rect width="128" height="84"/></clipPath><path id="p6_4" d="M-8.1 84 5.9 84 10.1 83.4 14.3 82.3 18.4 80 22.6 77.3 26.8 74.8 31 72.3 35.2 69.7 39.3 67.4 43.5 65.8 47.7 64.5 51.9 63.2 56.1 62 60.2 60.8 64.4 59.6 68.6 58.4 72.8 57.2 77 56 81.1 54.7 85.3 53.4 89.5 52 93.7 50.4 97.9 48.7 102 46.9 106.2 44.9 110.4 42.7 114.6 40.2 118.8 37.7 122.9 35.3 136.9 35.3 136.9 59.6 122.9 59.6 118.8 61 114.6 62.4 110.4 63.7 106.2 64.8 102 65.7 97.9 66.4 93.7 67 89.5 67.4 85.3 67.8 81.1 68 77 68.1 72.8 68.2 68.6 68.3 64.4 68.5 60.2 69.2 56.1 69.9 51.9 70.7 47.7 71.5 43.5 72.3 39.3 73.4 35.2 75.3 31 77.4 26.8 79.5 22.6 81.5 18.4 83.2 14.3 84 10.1 84 5.9 84 -8.1 84Z"/><clipPath id="cp6_4"><use href="#p6_4"/></clipPath><clipPath id="a6_5"><rect width="128" height="84"/></clipPath><path id="p6_5" d="M-8.1 84 5.9 84 10.1 83.6 14.3 82.7 18.4 80.8 22.6 78.1 26.8 74.5 31 70.7 35.2 67.5 39.3 64.6 43.5 62.2 47.7 60.1 51.9 58.3 56.1 56.5 60.2 54.9 64.4 53.3 68.6 50.7 72.8 48.1 77 45.6 81.1 43.1 85.3 40.6 89.5 38 93.7 35.5 97.9 33.1 102 30.5 106.2 27.2 110.4 23 114.6 18.3 118.8 13.3 122.9 8.4 136.9 8.4 136.9 45.8 122.9 45.8 118.8 49.1 114.6 52.5 110.4 55.7 106.2 58.2 102 59.9 97.9 61 93.7 61.8 89.5 62.6 85.3 63.6 81.1 64.6 77 65.5 72.8 66.4 68.6 67.4 64.4 68.5 60.2 69 56.1 69.5 51.9 70.1 47.7 70.9 43.5 71.9 39.3 73.2 35.2 75 31 77.1 26.8 79.8 22.6 82.3 18.4 83.9 14.3 84 10.1 84 5.9 84 -8.1 84Z"/><clipPath id="cp6_5"><use href="#p6_5"/></clipPath><clipPath id="a6_6"><rect width="128" height="84"/></clipPath><path id="p6_6" d="M-8.1 84 5.9 84 10.1 83.6 14.3 82.7 18.4 80.4 22.6 77.3 26.8 72.6 31 68.1 35.2 64.4 39.3 61.1 43.5 57.8 47.7 54.9 51.9 52.1 56.1 49.5 60.2 47 64.4 44.5 68.6 42.9 72.8 41.4 77 39.9 81.1 38.4 85.3 36.8 89.5 35.1 93.7 33.3 97.9 31.5 102 29.4 106.2 27 110.4 24.1 114.6 20.9 118.8 17.6 122.9 14.3 136.9 14.3 136.9 53.3 122.9 53.3 118.8 55.7 114.6 58.1 110.4 60.3 106.2 62.2 102 63.7 97.9 64.8 93.7 65.7 89.5 66.5 85.3 67.2 81.1 67.8 77 68.4 72.8 68.9 68.6 69.5 64.4 70.1 60.2 70.5 56.1 71 51.9 71.5 47.7 72.2 43.5 73.2 39.3 74.3 35.2 75.6 31 77.3 26.8 79.7 22.6 82.3 18.4 84 14.3 84 10.1 84 5.9 84 -8.1 84Z"/><clipPath id="cp6_6"><use href="#p6_6"/></clipPath><clipPath id="a6_7"><rect width="128" height="84"/></clipPath><path id="p6_7" d="M-8.1 84 5.9 84 10.1 83.1 14.3 81.9 18.4 79.9 22.6 77.3 26.8 74.5 31 71.6 35.2 69 39.3 66.7 43.5 64.8 47.7 63.1 51.9 61.3 56.1 59.5 60.2 57.8 64.4 56.3 68.6 54.1 72.8 52.1 77 50.1 81.1 48.2 85.3 46.2 89.5 44 93.7 41.8 97.9 39.4 102 36.9 106.2 34.2 110.4 31.3 114.6 28.2 118.8 25 122.9 21.8 136.9 21.8 136.9 74.8 122.9 74.8 118.8 75.7 114.6 76.8 110.4 77.7 106.2 78.5 102 79 97.9 79.3 93.7 79.6 89.5 79.7 85.3 79.7 81.1 79.5 77 79.3 72.8 79.1 68.6 78.9 64.4 79 60.2 78.7 56.1 78.7 51.9 78.7 47.7 78.7 43.5 78.7 39.3 78.8 35.2 79.3 31 80.1 26.8 81.3 22.6 82.3 18.4 83.6 14.3 84 10.1 84 5.9 84 -8.1 84Z"/><clipPath id="cp6_7"><use href="#p6_7"/></clipPath><clipPath id="a6_8"><rect width="128" height="84"/></clipPath><path id="p6_8" d="M-8.1 84 5.9 84 10.1 81.8 14.3 79.8 18.4 77.5 22.6 74.8 26.8 71.2 31 67 35.2 62.8 39.3 58.8 43.5 55.2 47.7 51.7 51.9 48.4 56.1 45.4 60.2 42.6 64.4 40.2 68.6 37.8 72.8 35.3 77 32.5 81.1 29.7 85.3 26.7 89.5 23.5 93.7 19.8 97.9 15.7 102 11.8 106.2 8.4 110.4 5.8 114.6 3.8 118.8 1.9 122.9 0 136.9 0 136.9 72.2 122.9 72.2 118.8 74.5 114.6 76.8 110.4 79 106.2 80.7 102 81.9 97.9 82.8 93.7 83.2 89.5 83.3 85.3 82.9 81.1 82.1 77 81 72.8 79.8 68.6 78.5 64.4 77.3 60.2 77.1 56.1 76.8 51.9 76.6 47.7 76.5 43.5 76.8 39.3 77.2 35.2 77.6 31 78.3 26.8 79.9 22.6 81.5 18.4 83 14.3 84 10.1 84 5.9 84 -8.1 84Z"/><clipPath id="cp6_8"><use href="#p6_8"/></clipPath><clipPath id="a6_9"><rect width="128" height="84"/></clipPath><path id="p6_9" d="M-8.1 84 5.9 84 10.1 81.9 14.3 79.8 18.4 77.7 22.6 75.6 26.8 73.5 31 71.4 35.2 69.3 39.3 67.2 43.5 65.1 47.7 63.1 51.9 61 56.1 58.8 60.2 56.5 64.4 54.2 68.6 51.6 72.8 48.7 77 45.4 81.1 41.8 85.3 37.9 89.5 33.6 93.7 28.6 97.9 22.9 102 17.4 106.2 12.6 110.4 8.9 114.6 5.8 118.8 3 122.9 0 136.9 0 136.9 34.4 122.9 34.4 118.8 39.5 114.6 44.7 110.4 49.5 106.2 53.4 102 56.1 97.9 57.9 93.7 59.3 89.5 60.6 85.3 61.9 81.1 63.1 77 64.1 72.8 65.1 68.6 66.1 64.4 67.2 60.2 68.2 56.1 69.3 51.9 70.3 47.7 71.4 43.5 72.4 39.3 73.5 35.2 75 31 76.9 26.8 79.2 22.6 81.5 18.4 83.3 14.3 84 10.1 84 5.9 84 -8.1 84Z"/><clipPath id="cp6_9"><use href="#p6_9"/></clipPath><clipPath id="a6_10"><rect width="128" height="84"/></clipPath><path id="p6_10" d="M-8.1 84 5.9 84 10.1 81.7 14.3 79.4 18.4 77.1 22.6 74.8 26.8 72.4 31 70 35.2 67.7 39.3 65.5 43.5 63.5 47.7 61.7 51.9 59.9 56.1 58 60.2 56 64.4 54.1 68.6 52 72.8 49.6 77 46.7 81.1 43.5 85.3 40 89.5 36.1 93.7 31.6 97.9 26.7 102 21.6 106.2 16.8 110.4 12.4 114.6 8.2 118.8 4.1 122.9 0 136.9 0 136.9 42.8 122.9 42.8 118.8 44.7 114.6 46.6 110.4 48.5 106.2 50.4 102 52.3 97.9 54.3 93.7 56.2 89.5 58 85.3 59.5 81.1 61 77 62.4 72.8 63.8 68.6 65.3 64.4 66.8 60.2 68.2 56.1 69.7 51.9 71.2 47.7 72.7 43.5 74.2 39.3 75.6 35.2 77 31 78.3 26.8 79.5 22.6 80.6 18.4 81.6 14.3 82.7 10.1 83.6 5.9 84 -8.1 84Z"/><clipPath id="cp6_10"><use href="#p6_10"/></clipPath><clipPath id="a7_0"><rect width="128" height="84"/></clipPath><path id="p7_0" d="M-8.1 84 5.9 84 10.1 83.1 14.3 81.8 18.4 79.2 22.6 75.4 26.8 70.2 31 65.1 35.2 59.6 39.3 53.3 43.5 47.5 47.7 42.1 51.9 36.2 56.1 29.7 60.2 22.6 64.4 15.1 68.6 7.5 72.8 1.4 77 0 81.1 0 85.3 0 89.5 0 93.7 0 97.9 0 102 0 106.2 0 110.4 0 114.6 0 118.8 0 122.9 0 136.9 0 136.9 5.9 122.9 5.9 118.8 5.9 114.6 5.9 110.4 5.9 106.2 5.9 102 5.9 97.9 9.4 93.7 14.6 89.5 19.7 85.3 24.6 81.1 29.4 77 33.8 72.8 38 68.6 41.9 64.4 45.5 60.2 49.1 56.1 53.1 51.9 57.4 47.7 61.4 43.5 65 39.3 68.4 35.2 71.8 31 75.3 26.8 78.3 22.6 80.7 18.4 82.9 14.3 84 10.1 84 5.9 84 -8.1 84Z"/><clipPath id="cp7_0"><use href="#p7_0"/></clipPath><clipPath id="a7_1"><rect width="128" height="84"/></clipPath><path id="p7_1" d="M-8.1 84 5.9 84 10.1 83.1 14.3 81.8 18.4 79.5 22.6 76.7 26.8 73.8 31 70.5 35.2 67.1 39.3 63.5 43.5 60.3 47.7 56.5 51.9 51.2 56.1 45.1 60.2 38.4 64.4 32 68.6 25.1 72.8 17.7 77 10.8 81.1 4 85.3 0 89.5 0 93.7 0 97.9 0 102 0 106.2 0 110.4 0 114.6 0 118.8 0 122.9 0 136.9 0 136.9 5.9 122.9 5.9 118.8 8 114.6 12.3 110.4 16.8 106.2 21.5 102 26.3 97.9 30.7 93.7 34.9 89.5 39.1 85.3 43.4 81.1 47.6 77 51.4 72.8 54.9 68.6 58 64.4 60.5 60.2 62.8 56.1 64.9 51.9 67 47.7 69.7 43.5 71.7 39.3 73.7 35.2 76 31 78.3 26.8 80.1 22.6 81.7 18.4 83.3 14.3 84 10.1 84 5.9 84 -8.1 84Z"/><clipPath id="cp7_1"><use href="#p7_1"/></clipPath><clipPath id="a7_2"><rect width="128" height="84"/></clipPath><path id="p7_2" d="M-8.1 84 5.9 84 10.1 83.1 14.3 81.8 18.4 79.1 22.6 75.4 26.8 71.7 31 68.3 35.2 64.9 39.3 61 43.5 57.1 47.7 53.5 51.9 48 56.1 40.8 60.2 32.3 64.4 23.7 68.6 14.9 72.8 6.3 77 0 81.1 0 85.3 0 89.5 0 93.7 0 97.9 0 102 0 106.2 0 110.4 0 114.6 0 118.8 0 122.9 0 136.9 0 136.9 43.5 122.9 43.5 118.8 46.4 114.6 49.1 110.4 51.5 106.2 53.6 102 55.2 97.9 56.6 93.7 58 89.5 59.7 85.3 61.4 81.1 63.1 77 64.7 72.8 66.1 68.6 67.5 64.4 68.9 60.2 70.4 56.1 71.8 51.9 73.2 47.7 74.7 43.5 76.4 39.3 78 35.2 79.4 31 80.7 26.8 81.8 22.6 82.8 18.4 83.4 14.3 84 10.1 84 5.9 84 -8.1 84Z"/><clipPath id="cp7_2"><use href="#p7_2"/></clipPath><clipPath id="a7_3"><rect width="128" height="84"/></clipPath><path id="p7_3" d="M-8.1 84 5.9 84 10.1 83.1 14.3 81.8 18.4 78.8 22.6 75.4 26.8 72.2 31 69 35.2 66.2 39.3 63.5 43.5 60.7 47.7 58 51.9 56.1 56.1 52.7 60.2 48.6 64.4 43.4 68.6 37.6 72.8 31.1 77 23.3 81.1 15.3 85.3 7.3 89.5 0.3 93.7 0 97.9 0 102 0 106.2 0 110.4 0 114.6 0 118.8 0 122.9 0 136.9 0 136.9 15.9 122.9 15.9 118.8 21 114.6 26.2 110.4 31.1 106.2 35.4 102 39.3 97.9 43 93.7 46.5 89.5 49.6 85.3 52.1 81.1 54.3 77 56.6 72.8 58.9 68.6 60.9 64.4 62.5 60.2 64.2 56.1 66.8 51.9 68.7 47.7 70.6 43.5 72 39.3 73.6 35.2 75 31 76.6 26.8 78.5 22.6 80.5 18.4 82.7 14.3 84 10.1 84 5.9 84 -8.1 84Z"/><clipPath id="cp7_3"><use href="#p7_3"/></clipPath><clipPath id="a7_4"><rect width="128" height="84"/></clipPath><path id="p7_4" d="M-8.1 84 5.9 84 10.1 83.1 14.3 81.8 18.4 78.7 22.6 74.5 26.8 69.9 31 65.7 35.2 61.9 39.3 58.5 43.5 55.6 47.7 52.9 51.9 50.9 56.1 48.5 60.2 43.7 64.4 37.5 68.6 30.3 72.8 23.8 77 17.1 81.1 9.4 85.3 2 89.5 0 93.7 0 97.9 0 102 0 106.2 0 110.4 0 114.6 0 118.8 0 122.9 0 136.9 0 136.9 36.7 122.9 36.7 118.8 40.1 114.6 43.1 110.4 45.7 106.2 48.1 102 50.3 97.9 52.2 93.7 53.9 89.5 55.4 85.3 56.8 81.1 58 77 59.2 72.8 60.5 68.6 61.6 64.4 62.9 60.2 64.4 56.1 66 51.9 67.8 47.7 69.7 43.5 71.9 39.3 74.3 35.2 76.6 31 78.7 26.8 80.8 22.6 82.5 18.4 83.4 14.3 84 10.1 84 5.9 84 -8.1 84Z"/><clipPath id="cp7_4"><use href="#p7_4"/></clipPath><path id="q7_4" d="M-8.1 84 5.9 84 10.1 83.3 14.3 82.2 18.4 79.2 22.6 75.2 26.8 70.8 31 66.7 35.2 63 39.3 59.8 43.5 57.1 47.7 54.6 51.9 52.6 56.1 50.3 60.2 46 64.4 40.5 68.6 34.1 72.8 28.1 77 21.7 81.1 14.4 85.3 7.5 89.5 4.6 93.7 3 97.9 1.5 102 0.1 106.2 0 110.4 0 114.6 0 118.8 0 122.9 0 136.9 0 136.9 25.7 122.9 25.7 118.8 28.1 114.6 30.2 110.4 32 106.2 33.7 102 35.3 97.9 38.3 93.7 41.3 89.5 44.4 85.3 47 81.1 49.4 77 52.1 72.8 54.7 68.6 56.9 64.4 58.9 60.2 60.9 56.1 62.8 51.9 64.7 47.7 66.7 43.5 68.8 39.3 71.2 35.2 73.6 31 76 26.8 78.6 22.6 80.9 18.4 82.6 14.3 83.7 10.1 83.9 5.9 84 -8.1 84Z"/><clipPath id="cq7_4"><use href="#q7_4"/></clipPath><clipPath id="a7_5"><rect width="128" height="84"/></clipPath><path id="p7_5" d="M-8.1 84 5.9 84 10.1 83 14.3 81.8 18.4 80 22.6 77.5 26.8 74.2 31 70.7 35.2 67.8 39.3 65.2 43.5 63 47.7 60.9 51.9 59.5 56.1 58 60.2 56.4 64.4 53.6 68.6 49.9 72.8 46 77 41.4 81.1 36.4 85.3 31.3 89.5 25.8 93.7 20.1 97.9 14.4 102 8.7 106.2 3.1 110.4 0 114.6 0 118.8 0 122.9 0 136.9 0 136.9 39.9 122.9 39.9 118.8 43 114.6 45.8 110.4 48.2 106.2 50.5 102 52.8 97.9 55.1 93.7 57.2 89.5 59 85.3 60.5 81.1 61.9 77 63.2 72.8 64.4 68.6 65.6 64.4 67.2 60.2 69 56.1 70.6 51.9 72.1 47.7 73.5 43.5 74.3 39.3 75.3 35.2 76.6 31 78.8 26.8 80.6 22.6 82.6 18.4 83.7 14.3 84 10.1 84 5.9 84 -8.1 84Z"/><clipPath id="cp7_5"><use href="#p7_5"/></clipPath><clipPath id="a7_6"><rect width="128" height="84"/></clipPath><path id="p7_6" d="M-8.1 84 5.9 84 10.1 83.1 14.3 81.8 18.4 79 22.6 75.4 26.8 71.5 31 67.8 35.2 65.1 39.3 62.7 43.5 59.9 47.7 57.1 51.9 55.4 56.1 53.8 60.2 52.1 64.4 50.4 68.6 45.6 72.8 39.6 77 33.2 81.1 27 85.3 22.3 89.5 19.2 93.7 14.3 97.9 9.5 102 6 106.2 2.6 110.4 0 114.6 0 118.8 0 122.9 0 136.9 0 136.9 20.7 122.9 20.7 118.8 22.9 114.6 26.2 110.4 30.4 106.2 34.9 102 39.3 97.9 43.7 93.7 47.5 89.5 50.9 85.3 53.6 81.1 55.4 77 56.9 72.8 58.8 68.6 61.2 64.4 63 60.2 64.7 56.1 66.4 51.9 68 47.7 69.7 43.5 71.2 39.3 72.7 35.2 73.9 31 75.3 26.8 77.8 22.6 80.5 18.4 82.8 14.3 84 10.1 84 5.9 84 -8.1 84Z"/><clipPath id="cp7_6"><use href="#p7_6"/></clipPath><clipPath id="a7_7"><rect width="128" height="84"/></clipPath><path id="p7_7" d="M-8.1 84 5.9 84 10.1 83 14.3 81.8 18.4 79.9 22.6 77.5 26.8 74.8 31 72 35.2 69.1 39.3 66.4 43.5 64.3 47.7 62.2 51.9 60.4 56.1 58 60.2 54.8 64.4 51.2 68.6 46.9 72.8 42 77 36.3 81.1 30.5 85.3 24.7 89.5 18.9 93.7 13.1 97.9 7.4 102 1.6 106.2 0 110.4 0 114.6 0 118.8 0 122.9 0 136.9 0 136.9 48.9 122.9 48.9 118.8 51 114.6 52.9 110.4 54.8 106.2 56.5 102 58.2 97.9 59.8 93.7 61.3 89.5 62.9 85.3 64.3 81.1 65.7 77 67 72.8 68.2 68.6 69.3 64.4 70.2 60.2 71.1 56.1 72.2 51.9 73.5 47.7 74.9 43.5 76.3 39.3 77.8 35.2 79.2 31 80.4 26.8 81.5 22.6 82.6 18.4 83.7 14.3 84 10.1 84 5.9 84 -8.1 84Z"/><clipPath id="cp7_7"><use href="#p7_7"/></clipPath><clipPath id="a7_8"><rect width="128" height="84"/></clipPath><path id="p7_8" d="M-8.1 84 5.9 84 10.1 83.1 14.3 81.8 18.4 78.9 22.6 75.4 26.8 72.4 31 69.5 35.2 66.6 39.3 63.9 43.5 61.5 47.7 59.2 51.9 57.5 56.1 55.9 60.2 54.4 64.4 52.7 68.6 48.3 72.8 41.9 77 34.4 81.1 25.5 85.3 13.6 89.5 4 93.7 0.3 97.9 0 102 0 106.2 0 110.4 0 114.6 0 118.8 0 122.9 0 136.9 0 136.9 13 122.9 13 118.8 21.5 114.6 28.5 110.4 34.3 106.2 39.5 102 44.3 97.9 48.4 93.7 51.6 89.5 53.9 85.3 56 81.1 57.8 77 59.4 72.8 61.3 68.6 63.6 64.4 65.5 60.2 67 56.1 68.5 51.9 70.1 47.7 71.8 43.5 72.9 39.3 74 35.2 75.4 31 77 26.8 78.7 22.6 80.5 18.4 82.7 14.3 84 10.1 84 5.9 84 -8.1 84Z"/><clipPath id="cp7_8"><use href="#p7_8"/></clipPath><clipPath id="a7_9"><rect width="128" height="84"/></clipPath><path id="p7_9" d="M-8.1 84 5.9 84 10.1 83.1 14.3 81.8 18.4 79.5 22.6 76.7 26.8 73.5 31 70.3 35.2 67.4 39.3 64.8 43.5 62.3 47.7 60.1 51.9 58.6 56.1 57.1 60.2 53.8 64.4 49.2 68.6 43.3 72.8 35.8 77 28.2 81.1 20.4 85.3 11.4 89.5 3.9 93.7 0.3 97.9 0 102 0 106.2 0 110.4 0 114.6 0 118.8 0 122.9 0 136.9 0 136.9 11 122.9 11 118.8 17.2 114.6 22.9 110.4 28.1 106.2 33.3 102 38.5 97.9 43.5 93.7 47.7 89.5 51.1 85.3 54.2 81.1 56.9 77 59.3 72.8 61.4 68.6 63 64.4 65.5 60.2 67.8 56.1 69.7 51.9 71.2 47.7 72.7 43.5 73.7 39.3 74.8 35.2 76.3 31 77.9 26.8 79.8 22.6 81.7 18.4 83.3 14.3 84 10.1 84 5.9 84 -8.1 84Z"/><clipPath id="cp7_9"><use href="#p7_9"/></clipPath><clipPath id="a7_10"><rect width="128" height="84"/></clipPath><path id="p7_10" d="M-8.1 84 5.9 84 10.1 83 14.3 81.4 18.4 78.3 22.6 74.6 26.8 70.8 31 67.4 35.2 64.9 39.3 62.7 43.5 60.3 47.7 58 51.9 56.6 56.1 55.4 60.2 54.3 64.4 48.6 68.6 41.3 72.8 32.4 77 22.1 81.1 11.2 85.3 2.1 89.5 0 93.7 0 97.9 0 102 0 106.2 0 110.4 0 114.6 0 118.8 0 122.9 0 136.9 0 136.9 5.9 122.9 5.9 118.8 5.9 114.6 8 110.4 15.2 106.2 23 102 30.3 97.9 36.9 93.7 42.9 89.5 48 85.3 52.3 81.1 55.7 77 58.2 72.8 60.1 68.6 63.1 64.4 65.5 60.2 67 56.1 68 51.9 69.2 47.7 70.6 43.5 71.6 39.3 72.7 35.2 73.7 31 74.9 26.8 77.1 22.6 79.6 18.4 82.1 14.3 83.9 10.1 84 5.9 84 -8.1 84Z"/><clipPath id="cp7_10"><use href="#p7_10"/></clipPath><clipPath id="a8_0"><rect width="128" height="84"/></clipPath><path id="p8_0" d="M-8.1 84 5.9 84 10.1 82.7 14.3 81.1 18.4 78.7 22.6 75.7 26.8 72.1 31 68.2 35.2 64.5 39.3 60.6 43.5 56.4 47.7 48.3 51.9 39.6 56.1 30.2 60.2 15.3 64.4 1 68.6 0 72.8 0 77 0 81.1 0 85.3 0 89.5 0 93.7 0 97.9 0 102 0 106.2 0 110.4 0 114.6 0 118.8 0 122.9 0 136.9 0 136.9 5.9 122.9 5.9 118.8 5.9 114.6 5.9 110.4 5.9 106.2 5.9 102 5.9 97.9 5.9 93.7 5.9 89.5 5.9 85.3 5.9 81.1 13.5 77 25.6 72.8 33.9 68.6 40.3 64.4 46.6 60.2 52.9 56.1 58.2 51.9 62 47.7 64.9 43.5 67.7 39.3 70.6 35.2 73.3 31 75.8 26.8 78.4 22.6 80.7 18.4 82.5 14.3 83.7 10.1 84 5.9 84 -8.1 84Z"/><clipPath id="cp8_0"><use href="#p8_0"/></clipPath><clipPath id="a8_1"><rect width="128" height="84"/></clipPath><path id="p8_1" d="M-8.1 84 5.9 84 10.1 83 14.3 81.6 18.4 79.7 22.6 77.1 26.8 74 31 69.7 35.2 65.3 39.3 61 43.5 56.3 47.7 50.6 51.9 43.5 56.1 34.4 60.2 23.8 64.4 14.1 68.6 3.6 72.8 0 77 0 81.1 0 85.3 0 89.5 0 93.7 0 97.9 0 102 0 106.2 0 110.4 0 114.6 0 118.8 0 122.9 0 136.9 0 136.9 5.9 122.9 5.9 118.8 5.9 114.6 5.9 110.4 5.9 106.2 5.9 102 9.1 97.9 15.2 93.7 21.3 89.5 27.8 85.3 34.5 81.1 40.5 77 45.5 72.8 50 68.6 53.8 64.4 57.1 60.2 60 56.1 62.9 51.9 65.5 47.7 68.3 43.5 71.1 39.3 73.8 35.2 76.2 31 78.3 26.8 80.3 22.6 82.2 18.4 83.4 14.3 84 10.1 84 5.9 84 -8.1 84Z"/><clipPath id="cp8_1"><use href="#p8_1"/></clipPath><clipPath id="a8_2"><rect width="128" height="84"/></clipPath><path id="p8_2" d="M-8.1 84 5.9 84 10.1 83 14.3 81.6 18.4 79.7 22.6 77.1 26.8 73.8 31 70.3 35.2 67.1 39.3 63.9 43.5 60.6 47.7 57.1 51.9 52.8 56.1 46.8 60.2 39.3 64.4 30 68.6 19.7 72.8 9.2 77 0.2 81.1 0 85.3 0 89.5 0 93.7 0 97.9 0 102 0 106.2 0 110.4 0 114.6 0 118.8 0 122.9 0 136.9 0 136.9 5.9 122.9 5.9 118.8 5.9 114.6 5.9 110.4 5.9 106.2 5.9 102 11.5 97.9 18.8 93.7 25.8 89.5 32.8 85.3 39 81.1 44.3 77 49 72.8 53 68.6 56.3 64.4 59.2 60.2 61.7 56.1 64 51.9 67 47.7 69.7 43.5 71.9 39.3 74 35.2 75.9 31 77.9 26.8 80.1 22.6 82.2 18.4 83.4 14.3 84 10.1 84 5.9 84 -8.1 84Z"/><clipPath id="cp8_2"><use href="#p8_2"/></clipPath><clipPath id="a8_3"><rect width="128" height="84"/></clipPath><path id="p8_3" d="M-8.1 84 5.9 84 10.1 83 14.3 81.6 18.4 78.9 22.6 75.7 26.8 72.4 31 69 35.2 65.8 39.3 62.7 43.5 59.9 47.7 57.1 51.9 54.7 56.1 51 60.2 44.5 64.4 37.1 68.6 29 72.8 20.1 77 12 81.1 4.4 85.3 0 89.5 0 93.7 0 97.9 0 102 0 106.2 0 110.4 0 114.6 0 118.8 0 122.9 0 136.9 0 136.9 5.9 122.9 5.9 118.8 5.9 114.6 5.9 110.4 10.4 106.2 15.7 102 21.6 97.9 27.7 93.7 33.5 89.5 38.9 85.3 43.9 81.1 48.6 77 52.6 72.8 55.5 68.6 57.4 64.4 59.6 60.2 62.5 56.1 64.7 51.9 67.3 47.7 69.7 43.5 71.2 39.3 72.7 35.2 74.6 31 76.6 26.8 78.7 22.6 80.7 18.4 82.7 14.3 84 10.1 84 5.9 84 -8.1 84Z"/><clipPath id="cp8_3"><use href="#p8_3"/></clipPath><clipPath id="a8_4"><rect width="128" height="84"/></clipPath><path id="p8_4" d="M-8.1 84 5.9 84 10.1 81.9 14.3 79.9 18.4 77.8 22.6 75.6 26.8 73.3 31 70.9 35.2 68.4 39.3 65.5 43.5 62.8 47.7 60.2 51.9 56.6 56.1 51.2 60.2 42.7 64.4 31.8 68.6 21 72.8 12.6 77 7 81.1 3.1 85.3 0.8 89.5 0 93.7 0 97.9 0 102 0 106.2 0 110.4 0 114.6 0 118.8 0 122.9 0 136.9 0 136.9 76.4 122.9 76.4 118.8 76.5 114.6 76.7 110.4 76.8 106.2 76.9 102 77 97.9 77.1 93.7 77.2 89.5 77.3 85.3 77.3 81.1 77.3 77 77.3 72.8 77.3 68.6 77.4 64.4 77.5 60.2 77.8 56.1 78.1 51.9 78.5 47.7 78.9 43.5 79.3 39.3 79.8 35.2 80.4 31 81.1 26.8 81.7 22.6 82.3 18.4 82.8 14.3 83.2 10.1 83.6 5.9 84 -8.1 84Z"/><clipPath id="cp8_4"><use href="#p8_4"/></clipPath><path id="q8_4" d="M-8.1 84 5.9 84 10.1 82.4 14.3 80.7 18.4 78.8 22.6 76.7 26.8 74.4 31 72.1 35.2 69.7 39.3 67.2 43.5 64.9 47.7 62.7 51.9 59.7 56.1 55.2 60.2 48.4 64.4 39.7 68.6 30.7 72.8 23.4 77 18.3 81.1 14.3 85.3 11.5 89.5 9.9 93.7 8.6 97.9 7.2 102 6 106.2 4.8 110.4 3.8 114.6 2.8 118.8 1.9 122.9 1 136.9 1 136.9 36.7 122.9 36.7 118.8 38.7 114.6 40.7 110.4 42.9 106.2 45.2 102 47.8 97.9 50.6 93.7 53.6 89.5 56.5 85.3 58.9 81.1 61.1 77 63.3 72.8 65.5 68.6 67.8 64.4 69.8 60.2 71.1 56.1 72.1 51.9 73.1 47.7 74.1 43.5 74.8 39.3 75.6 35.2 76.8 31 78.1 26.8 79.5 22.6 80.9 18.4 82.1 14.3 83.1 10.1 83.6 5.9 84 -8.1 84Z"/><clipPath id="cq8_4"><use href="#q8_4"/></clipPath><clipPath id="a8_5"><rect width="128" height="84"/></clipPath><path id="p8_5" d="M-8.1 84 5.9 84 10.1 83 14.3 81.6 18.4 79.7 22.6 77.1 26.8 73.8 31 70.3 35.2 67.5 39.3 64.8 43.5 62 47.7 59.2 51.9 57.5 56.1 53.2 60.2 45.6 64.4 36.1 68.6 25.6 72.8 15.8 77 5.1 81.1 0 85.3 0 89.5 0 93.7 0 97.9 0 102 0 106.2 0 110.4 0 114.6 0 118.8 0 122.9 0 136.9 0 136.9 5.9 122.9 5.9 118.8 5.9 114.6 5.9 110.4 5.9 106.2 5.9 102 8.3 97.9 15.8 93.7 22.9 89.5 30.3 85.3 38 81.1 44.8 77 50.7 72.8 55.5 68.6 58.9 64.4 61.7 60.2 65.4 56.1 68 51.9 70.1 47.7 71.8 43.5 73.3 39.3 74.8 35.2 76.3 31 77.9 26.8 80.1 22.6 82.2 18.4 83.4 14.3 84 10.1 84 5.9 84 -8.1 84Z"/><clipPath id="cp8_5"><use href="#p8_5"/></clipPath><clipPath id="a8_6"><rect width="128" height="84"/></clipPath><path id="p8_6" d="M-8.1 84 5.9 84 10.1 83 14.3 81.6 18.4 79.2 22.6 75.5 26.8 71.8 31 68.5 35.2 65.5 39.3 62.4 43.5 58.9 47.7 54.1 51.9 48.1 56.1 40.9 60.2 33.3 64.4 25.8 68.6 19.4 72.8 12.3 77 4.9 81.1 0 85.3 0 89.5 0 93.7 0 97.9 0 102 0 106.2 0 110.4 0 114.6 0 118.8 0 122.9 0 136.9 0 136.9 23 122.9 23 118.8 26.4 114.6 30.2 110.4 34.2 106.2 38.2 102 42 97.9 45.7 93.7 49.2 89.5 52.4 85.3 55.2 81.1 57.8 77 59.9 72.8 61.6 68.6 63.3 64.4 64.9 60.2 66.4 56.1 67.9 51.9 69.6 47.7 71.2 43.5 73 39.3 75 35.2 77 31 78.9 26.8 80.5 22.6 81.9 18.4 83 14.3 84 10.1 84 5.9 84 -8.1 84Z"/><clipPath id="cp8_6"><use href="#p8_6"/></clipPath><path id="q8_6" d="M-8.1 84 5.9 84 10.1 83.2 14.3 82 18.4 79.7 22.6 76.3 26.8 72.8 31 69.7 35.2 66.8 39.3 63.8 43.5 60.6 47.7 56.4 51.9 51.3 56.1 45.2 60.2 38.5 64.4 31.7 68.6 25.6 72.8 18.9 77 11.8 81.1 6.7 85.3 5.5 89.5 4.2 93.7 2.8 97.9 1.4 102 0 106.2 0 110.4 0 114.6 0 118.8 0 122.9 0 136.9 0 136.9 13.8 122.9 13.8 118.8 15.8 114.6 18.1 110.4 20.5 106.2 22.9 102 25.2 97.9 29.6 93.7 34 89.5 38.1 85.3 41.9 81.1 45.4 77 49 72.8 52.4 68.6 55.7 64.4 58.8 60.2 61.5 56.1 64 51.9 66.1 47.7 68.1 43.5 70.1 39.3 72.2 35.2 74.4 31 76.6 26.8 78.7 22.6 80.7 18.4 82.3 14.3 83.6 10.1 83.9 5.9 84 -8.1 84Z"/><clipPath id="cq8_6"><use href="#q8_6"/></clipPath><clipPath id="a8_7"><rect width="128" height="84"/></clipPath><path id="p8_7" d="M-8.1 84 5.9 84 10.1 83 14.3 81.6 18.4 79.3 22.6 76.3 26.8 72.7 31 69 35.2 65.7 39.3 62.7 43.5 60.3 47.7 58 51.9 55.5 56.1 50.4 60.2 43.7 64.4 34.9 68.6 24.7 72.8 13.4 77 2.3 81.1 0 85.3 0 89.5 0 93.7 0 97.9 0 102 0 106.2 0 110.4 0 114.6 0 118.8 0 122.9 0 136.9 0 136.9 5.9 122.9 5.9 118.8 5.9 114.6 5.9 110.4 5.9 106.2 9 102 16.7 97.9 24.4 93.7 31.5 89.5 38.1 85.3 43.9 81.1 48.7 77 52.6 72.8 55.8 68.6 58.4 64.4 60.7 60.2 63.1 56.1 65.9 51.9 68.4 47.7 70.6 43.5 71.6 39.3 72.7 35.2 74.5 31 76.6 26.8 79 22.6 81.3 18.4 83 14.3 84 10.1 84 5.9 84 -8.1 84Z"/><clipPath id="cp8_7"><use href="#p8_7"/></clipPath><clipPath id="a8_8"><rect width="128" height="84"/></clipPath><path id="p8_8" d="M-8.1 84 5.9 84 10.1 83 14.3 81.6 18.4 79 22.6 75.5 26.8 71.7 31 68.2 35.2 64.8 39.3 61.8 43.5 59.4 47.7 57.1 51.9 53.3 56.1 46.6 60.2 38.7 64.4 30.9 68.6 23.1 72.8 15.6 77 9 81.1 1.8 85.3 0 89.5 0 93.7 0 97.9 0 102 0 106.2 0 110.4 0 114.6 0 118.8 0 122.9 0 136.9 0 136.9 5.9 122.9 5.9 118.8 6.4 114.6 10.5 110.4 14.7 106.2 19.4 102 24.4 97.9 29.4 93.7 34.5 89.5 39.5 85.3 44.6 81.1 49.5 77 53.5 72.8 56.6 68.6 59.2 64.4 61.3 60.2 63 56.1 65.1 51.9 67.7 47.7 69.7 43.5 70.8 39.3 71.9 35.2 73.7 31 76 26.8 78.4 22.6 80.7 18.4 82.8 14.3 84 10.1 84 5.9 84 -8.1 84Z"/><clipPath id="cp8_8"><use href="#p8_8"/></clipPath><clipPath id="a8_9"><rect width="128" height="84"/></clipPath><path id="p8_9" d="M-8.1 84 5.9 84 10.1 83 14.3 81.6 18.4 79.6 22.6 77.1 26.8 74.4 31 71.6 35.2 69.2 39.3 66.9 43.5 64.1 47.7 61.3 51.9 59.1 56.1 53.5 60.2 47.2 64.4 40 68.6 32.1 72.8 24.1 77 16.2 81.1 9 85.3 0.2 89.5 0 93.7 0 97.9 0 102 0 106.2 0 110.4 0 114.6 0 118.8 0 122.9 0 136.9 0 136.9 36.7 122.9 36.7 118.8 40.6 114.6 44.4 110.4 48 106.2 51.3 102 54.4 97.9 57.4 93.7 59.8 89.5 61.5 85.3 62.6 81.1 63.7 77 65.1 72.8 66.5 68.6 67.9 64.4 69.4 60.2 70.8 56.1 72.2 51.9 73.3 47.7 74.4 43.5 75.5 39.3 76.9 35.2 78.4 31 79.8 26.8 81 22.6 82.2 18.4 83.4 14.3 84 10.1 84 5.9 84 -8.1 84Z"/><clipPath id="cp8_9"><use href="#p8_9"/></clipPath><clipPath id="a8_10"><rect width="128" height="84"/></clipPath><path id="p8_10" d="M-8.1 84 5.9 84 10.1 81.7 14.3 79 18.4 75.7 22.6 73.2 26.8 70.7 31 68.1 35.2 65.6 39.3 63.2 43.5 60.6 47.7 57.5 51.9 53.2 56.1 47.6 60.2 40.8 64.4 32.5 68.6 23.6 72.8 14.4 77 4.1 81.1 0 85.3 0 89.5 0 93.7 0 97.9 0 102 0 106.2 0 110.4 0 114.6 0 118.8 0 122.9 0 136.9 0 136.9 5.9 122.9 5.9 118.8 11 114.6 16.7 110.4 22.3 106.2 27.7 102 33.1 97.9 38.2 93.7 42.8 89.5 46.9 85.3 50.5 81.1 53.7 77 56.4 72.8 58.6 68.6 60.4 64.4 62.6 60.2 65.1 56.1 67.2 51.9 69 47.7 70.7 43.5 72 39.3 73.2 35.2 74.5 31 75.8 26.8 77 22.6 78.3 18.4 80.1 14.3 81.8 10.1 83 5.9 84 -8.1 84Z"/><clipPath id="cp8_10"><use href="#p8_10"/></clipPath><clipPath id="a9_0"><rect width="128" height="84"/></clipPath><path id="p9_0" d="M-8.1 84 5.9 84 10.1 83 14.3 81.4 18.4 78.1 22.6 74.1 26.8 69.3 31 63.2 35.2 55.6 39.3 46.7 43.5 38 47.7 28.6 51.9 17.4 56.1 4.8 60.2 0 64.4 0 68.6 0 72.8 0 77 0 81.1 0 85.3 0 89.5 0 93.7 0 97.9 0 102 0 106.2 0 110.4 0 114.6 0 118.8 0 122.9 0 136.9 0 136.9 5.9 122.9 5.9 118.8 5.9 114.6 5.9 110.4 5.9 106.2 5.9 102 5.9 97.9 6.1 93.7 13.1 89.5 19.5 85.3 25.6 81.1 31.2 77 36.3 72.8 41 68.6 45.7 64.4 50.6 60.2 55.4 56.1 59.7 51.9 63.5 47.7 66.9 43.5 70 39.3 72.7 35.2 75 31 77.2 26.8 79.3 22.6 81.3 18.4 82.8 14.3 83.9 10.1 84 5.9 84 -8.1 84Z"/><clipPath id="cp9_0"><use href="#p9_0"/></clipPath><clipPath id="a9_1"><rect width="128" height="84"/></clipPath><path id="p9_1" d="M-8.1 84 5.9 84 10.1 82.9 14.3 81.4 18.4 79 22.6 75.9 26.8 72 31 67.6 35.2 63.1 39.3 57.5 43.5 50.7 47.7 42.6 51.9 33.1 56.1 22.2 60.2 9.3 64.4 0.1 68.6 0 72.8 0 77 0 81.1 0 85.3 0 89.5 0 93.7 0 97.9 0 102 0 106.2 0 110.4 0 114.6 0 118.8 0 122.9 0 136.9 0 136.9 5.9 122.9 5.9 118.8 5.9 114.6 5.9 110.4 5.9 106.2 5.9 102 5.9 97.9 5.9 93.7 5.9 89.5 5.9 85.3 5.9 81.1 9.4 77 19 72.8 27.2 68.6 34.8 64.4 41.7 60.2 47.8 56.1 53.2 51.9 57.9 47.7 62 43.5 65.8 39.3 69.2 35.2 72.4 31 75.5 26.8 78.3 22.6 81 18.4 82.8 14.3 83.9 10.1 84 5.9 84 -8.1 84Z"/><clipPath id="cp9_1"><use href="#p9_1"/></clipPath><clipPath id="a9_2"><rect width="128" height="84"/></clipPath><path id="p9_2" d="M-8.1 84 5.9 84 10.1 82.9 14.3 81.4 18.4 78.3 22.6 75.1 26.8 72.5 31 69.8 35.2 65.7 39.3 61 43.5 56.7 47.7 50.4 51.9 41.8 56.1 30.5 60.2 19 64.4 8.8 68.6 0 72.8 0 77 0 81.1 0 85.3 0 89.5 0 93.7 0 97.9 0 102 0 106.2 0 110.4 0 114.6 0 118.8 0 122.9 0 136.9 0 136.9 5.9 122.9 5.9 118.8 7.4 114.6 12.7 110.4 18 106.2 23.7 102 30 97.9 36.3 93.7 41.8 89.5 46.6 85.3 50.8 81.1 54.4 77 57.1 72.8 59.4 68.6 61.7 64.4 64.1 60.2 66.5 56.1 68.7 51.9 70.7 47.7 72.5 43.5 74.1 39.3 75.4 35.2 76.6 31 77.9 26.8 79.6 22.6 81.4 18.4 82.8 14.3 83.9 10.1 84 5.9 84 -8.1 84Z"/><clipPath id="cp9_2"><use href="#p9_2"/></clipPath><path id="q9_2" d="M-8.1 84 5.9 84 10.1 83.1 14.3 81.7 18.4 78.8 22.6 75.8 26.8 73.4 31 70.8 35.2 67.1 39.3 62.9 43.5 58.8 47.7 53.2 51.9 45.8 56.1 36.3 60.2 26.3 64.4 16.8 68.6 7.9 72.8 5.6 77 3.5 81.1 1.5 85.3 0 89.5 0 93.7 0 97.9 0 102 0 106.2 0 110.4 0 114.6 0 118.8 0 122.9 0 136.9 0 136.9 2.9 122.9 2.9 118.8 3.7 114.6 6.3 110.4 9 106.2 11.8 102 15 97.9 18.1 93.7 20.9 89.5 23.3 85.3 25.4 81.1 30.1 77 35.5 72.8 40.8 68.6 46.7 64.4 52.4 60.2 57.2 56.1 61.2 51.9 64.3 47.7 66.9 43.5 69.5 39.3 71.9 35.2 74 31 75.9 26.8 77.7 22.6 79.6 18.4 81.6 14.3 83.3 10.1 83.8 5.9 84 -8.1 84Z"/><clipPath id="cq9_2"><use href="#q9_2"/></clipPath><clipPath id="a9_3"><rect width="128" height="84"/></clipPath><path id="p9_3" d="M-8.1 84 5.9 84 10.1 82.9 14.3 81.4 18.4 78.3 22.6 74.6 26.8 70.5 31 66.1 35.2 61.4 39.3 56.5 43.5 51.4 47.7 44.9 51.9 36.7 56.1 26.9 60.2 17.4 64.4 9 68.6 0.2 72.8 0 77 0 81.1 0 85.3 0 89.5 0 93.7 0 97.9 0 102 0 106.2 0 110.4 0 114.6 0 118.8 0 122.9 0 136.9 0 136.9 5.9 122.9 5.9 118.8 5.9 114.6 5.9 110.4 5.9 106.2 5.9 102 5.9 97.9 8.7 93.7 14 89.5 19.6 85.3 25.7 81.1 32.2 77 38.1 72.8 43.3 68.6 47.9 64.4 51.8 60.2 55.1 56.1 58.2 51.9 61.3 47.7 64.3 43.5 67.2 39.3 70 35.2 72.7 31 75.3 26.8 77.8 22.6 80.1 18.4 82.3 14.3 83.9 10.1 84 5.9 84 -8.1 84Z"/><clipPath id="cp9_3"><use href="#p9_3"/></clipPath><clipPath id="a9_4"><rect width="128" height="84"/></clipPath><path id="p9_4" d="M-8.1 84 5.9 84 10.1 82.9 14.3 81.4 18.4 79 22.6 76.3 26.8 73.4 31 70.7 35.2 68.6 39.3 66.4 43.5 63.4 47.7 60.1 51.9 57.2 56.1 51.4 60.2 44.2 64.4 36.2 68.6 27.5 72.8 18.8 77 9.9 81.1 0.3 85.3 0 89.5 0 93.7 0 97.9 0 102 0 106.2 0 110.4 0 114.6 0 118.8 0 122.9 0 136.9 0 136.9 5.9 122.9 5.9 118.8 5.9 114.6 5.9 110.4 5.9 106.2 5.9 102 13.4 97.9 19.7 93.7 26 89.5 32.3 85.3 38.4 81.1 44.2 77 49.5 72.8 54.1 68.6 58 64.4 61.2 60.2 63.8 56.1 67.2 51.9 70.1 47.7 72.7 43.5 74.7 39.3 76.5 35.2 77.5 31 78.3 26.8 79.7 22.6 81.3 18.4 82.8 14.3 83.9 10.1 84 5.9 84 -8.1 84Z"/><clipPath id="cp9_4"><use href="#p9_4"/></clipPath><clipPath id="a9_5"><rect width="128" height="84"/></clipPath><path id="p9_5" d="M-8.1 84 5.9 84 10.1 83 14.3 81.4 18.4 78.2 22.6 74.3 26.8 70.4 31 66.5 35.2 62.9 39.3 59.3 43.5 56.1 47.7 49.7 51.9 42.7 56.1 34.4 60.2 24.4 64.4 15.2 68.6 6.9 72.8 0 77 0 81.1 0 85.3 0 89.5 0 93.7 0 97.9 0 102 0 106.2 0 110.4 0 114.6 0 118.8 0 122.9 0 136.9 0 136.9 29.8 122.9 29.8 118.8 34.2 114.6 38.1 110.4 41.7 106.2 44.9 102 48.1 97.9 51.1 93.7 53.9 89.5 56.6 85.3 58.9 81.1 60.8 77 62.2 72.8 63.4 68.6 64.8 64.4 66.3 60.2 67.9 56.1 69.5 51.9 71.1 47.7 72.8 43.5 74.6 39.3 76.3 35.2 77.9 31 79.6 26.8 81.2 22.6 82.5 18.4 83.3 14.3 83.9 10.1 84 5.9 84 -8.1 84Z"/><clipPath id="cp9_5"><use href="#p9_5"/></clipPath><path id="q9_5" d="M-8.1 84 5.9 84 10.1 83.1 14.3 81.7 18.4 78.7 22.6 75 26.8 71.3 31 67.5 35.2 64 39.3 60.6 43.5 57.6 47.7 52.1 51.9 45.7 56.1 38.1 60.2 29.1 64.4 20.6 68.6 12.3 72.8 5 77 3.2 81.1 1.5 85.3 0 89.5 0 93.7 0 97.9 0 102 0 106.2 0 110.4 0 114.6 0 118.8 0 122.9 0 136.9 0 136.9 13.4 122.9 13.4 118.8 15.4 114.6 17.1 110.4 18.7 106.2 20.2 102 21.6 97.9 23 93.7 24.3 89.5 25.5 85.3 26.5 81.1 30.6 77 35 72.8 39.6 68.6 44.8 64.4 49.9 60.2 54.3 56.1 58.3 51.9 62 47.7 65.3 43.5 67.8 39.3 69.9 35.2 72.2 31 74.6 26.8 77.2 22.6 79.5 18.4 81.6 14.3 83.3 10.1 83.8 5.9 84 -8.1 84Z"/><clipPath id="cq9_5"><use href="#q9_5"/></clipPath><clipPath id="a9_6"><rect width="128" height="84"/></clipPath><path id="p9_6" d="M-8.1 84 5.9 84 10.1 82.9 14.3 81.4 18.4 78.9 22.6 75.9 26.8 73 31 69.9 35.2 66.7 39.3 63.5 43.5 60.2 47.7 56.7 51.9 51.4 56.1 44.7 60.2 37.1 64.4 28.8 68.6 20.2 72.8 11.6 77 2.2 81.1 0 85.3 0 89.5 0 93.7 0 97.9 0 102 0 106.2 0 110.4 0 114.6 0 118.8 0 122.9 0 136.9 0 136.9 38.4 122.9 38.4 118.8 41.9 114.6 45.3 110.4 48.4 106.2 51.4 102 54.2 97.9 56.7 93.7 58.8 89.5 60.6 85.3 62.1 81.1 63.7 77 65.3 72.8 66.8 68.6 68.2 64.4 69.7 60.2 71.1 56.1 72.4 51.9 73.8 47.7 75.1 43.5 76.4 39.3 77.7 35.2 79 31 80.2 26.8 81.4 22.6 82.4 18.4 83.1 14.3 83.9 10.1 84 5.9 84 -8.1 84Z"/><clipPath id="cp9_6"><use href="#p9_6"/></clipPath><path id="q9_6" d="M-8.1 84 5.9 84 10.1 83 14.3 81.7 18.4 79.4 22.6 76.6 26.8 73.8 31 70.9 35.2 67.9 39.3 64.8 43.5 61.7 47.7 58.4 51.9 53.7 56.1 47.8 60.2 40.9 64.4 33.4 68.6 25.4 72.8 17.3 77 8.5 81.1 5 85.3 3.3 89.5 1.5 93.7 0 97.9 0 102 0 106.2 0 110.4 0 114.6 0 118.8 0 122.9 0 136.9 0 136.9 23.1 122.9 23.1 118.8 25.2 114.6 27.2 110.4 29.1 106.2 30.9 102 32.5 97.9 34 93.7 35.3 89.5 38.7 85.3 42.5 81.1 46.3 77 50.1 72.8 53.8 68.6 57.3 64.4 60.6 60.2 63.6 56.1 66.3 51.9 68.5 47.7 70.4 43.5 72.4 39.3 74.2 35.2 76 31 77.7 26.8 79.4 22.6 80.9 18.4 82.2 14.3 83.4 10.1 83.8 5.9 84 -8.1 84Z"/><clipPath id="cq9_6"><use href="#q9_6"/></clipPath><clipPath id="a9_7"><rect width="128" height="84"/></clipPath><path id="p9_7" d="M-8.1 84 5.9 84 10.1 82.9 14.3 81.4 18.4 78.9 22.6 75.9 26.8 72.9 31 69.9 35.2 67.1 39.3 64.3 43.5 61.6 47.7 58.8 51.9 54.7 56.1 48.7 60.2 42.5 64.4 33.3 68.6 23.2 72.8 14.8 77 4.2 81.1 0 85.3 0 89.5 0 93.7 0 97.9 0 102 0 106.2 0 110.4 0 114.6 0 118.8 0 122.9 0 136.9 0 136.9 5.9 122.9 5.9 118.8 5.9 114.6 5.9 110.4 12 106.2 17.5 102 23.1 97.9 29.5 93.7 36.3 89.5 42 85.3 46.4 81.1 50.2 77 54.1 72.8 57.9 68.6 61 64.4 63.2 60.2 64.9 56.1 66.7 51.9 69.2 47.7 71.4 43.5 73 39.3 74.4 35.2 75.9 31 77.4 26.8 79.2 22.6 81 18.4 82.7 14.3 83.9 10.1 84 5.9 84 -8.1 84Z"/><clipPath id="cp9_7"><use href="#p9_7"/></clipPath><clipPath id="a9_8"><rect width="128" height="84"/></clipPath><path id="p9_8" d="M-8.1 84 5.9 84 10.1 82.9 14.3 81.4 18.4 78.5 22.6 75.1 26.8 72.1 31 69 35.2 65.6 39.3 62.2 43.5 59.3 47.7 56.7 51.9 54.7 56.1 50.2 60.2 42.5 64.4 34.2 68.6 25.4 72.8 16.5 77 6.6 81.1 0 85.3 0 89.5 0 93.7 0 97.9 0 102 0 106.2 0 110.4 0 114.6 0 118.8 0 122.9 0 136.9 0 136.9 5.9 122.9 5.9 118.8 5.9 114.6 11.6 110.4 17.3 106.2 23 102 28.6 97.9 34.2 93.7 39.6 89.5 44.7 85.3 49.6 81.1 53.5 77 56.3 72.8 58.4 68.6 60.3 64.4 61.9 60.2 63.4 56.1 65.1 51.9 67.3 47.7 69.3 43.5 70.7 39.3 72.7 35.2 74.6 31 76.6 26.8 78.4 22.6 80.3 18.4 82.2 14.3 83.9 10.1 84 5.9 84 -8.1 84Z"/><clipPath id="cp9_8"><use href="#p9_8"/></clipPath><clipPath id="a9_9"><rect width="128" height="84"/></clipPath><path id="p9_9" d="M-8.1 84 5.9 84 10.1 82.9 14.3 81.4 18.4 78.4 22.6 75.1 26.8 72.4 31 69.9 35.2 67.6 39.3 65.2 43.5 62.1 47.7 58.8 51.9 56.4 56.1 50.2 60.2 40 64.4 29.9 68.6 20.2 72.8 11.4 77 2.6 81.1 0 85.3 0 89.5 0 93.7 0 97.9 0 102 0 106.2 0 110.4 0 114.6 0 118.8 0 122.9 0 136.9 0 136.9 34.6 122.9 34.6 118.8 39.4 114.6 44.6 110.4 49.4 106.2 53.4 102 56.2 97.9 58.2 93.7 59.9 89.5 61.6 85.3 63.1 81.1 64.5 77 65.9 72.8 67.4 68.6 68.9 64.4 70.3 60.2 71.4 56.1 72.4 51.9 73.3 47.7 74.3 43.5 75.3 39.3 76.4 35.2 77.7 31 79.1 26.8 80.7 22.6 82.1 18.4 83.1 14.3 83.9 10.1 84 5.9 84 -8.1 84Z"/><clipPath id="cp9_9"><use href="#p9_9"/></clipPath><path id="q9_9" d="M-8.1 84 5.9 84 10.1 83.1 14.3 81.7 18.4 78.9 22.6 75.8 26.8 73.2 31 70.9 35.2 68.8 39.3 66.5 43.5 63.6 47.7 60.5 51.9 58.1 56.1 52.8 60.2 44.3 64.4 35.6 68.6 26.4 72.8 17.7 77 9 81.1 5 85.3 3.2 89.5 1.5 93.7 0 97.9 0 102 0 106.2 0 110.4 0 114.6 0 118.8 0 122.9 0 136.9 0 136.9 15.6 122.9 15.6 118.8 17.7 114.6 20.1 110.4 22.3 106.2 24 102 25.3 97.9 26.2 93.7 27 89.5 31 85.3 35.4 81.1 40.1 77 45.2 72.8 50.4 68.6 55.9 64.4 60.7 60.2 63.7 56.1 65.8 51.9 67.7 47.7 69.5 43.5 71.4 39.3 73.2 35.2 74.7 31 76.2 26.8 78 22.6 79.7 18.4 81.6 14.3 83.3 10.1 83.8 5.9 84 -8.1 84Z"/><clipPath id="cq9_9"><use href="#q9_9"/></clipPath><clipPath id="a9_10"><rect width="128" height="84"/></clipPath><path id="p9_10" d="M-8.1 84 5.9 84 10.1 81.9 14.3 79.7 18.4 77 22.6 74.3 26.8 72.2 31 70.1 35.2 67.7 39.3 65.2 43.5 62.6 47.7 60 51.9 58.1 56.1 49.1 60.2 38.3 64.4 30.5 68.6 21.6 72.8 11.4 77 0 81.1 0 85.3 0 89.5 0 93.7 0 97.9 0 102 0 106.2 0 110.4 0 114.6 0 118.8 0 122.9 0 136.9 0 136.9 10.3 122.9 10.3 118.8 16.6 114.6 22.1 110.4 27.2 106.2 32.1 102 36.5 97.9 41.5 93.7 48.2 89.5 54.6 85.3 59.4 81.1 61.4 77 62.4 72.8 63.6 68.6 65 64.4 66.3 60.2 67.7 56.1 69.1 51.9 70.7 47.7 72.6 43.5 73.9 39.3 75.3 35.2 76.5 31 77.6 26.8 78.5 22.6 79.4 18.4 80.8 14.3 82.2 10.1 83.2 5.9 84 -8.1 84Z"/><clipPath id="cp9_10"><use href="#p9_10"/></clipPath></defs><rect width="2412" height="1577" fill="#fff"/><text x="1219.3" y="92.9" text-anchor="middle">First dose 3 days after the infection of 10 cells</text><text x="1222" y="150.9" text-anchor="middle">Time between doses (hours)</text><text x="1220.5" y="1526.5" text-anchor="middle">Simulation time (days)</text><text transform="translate(103.5 797) rotate(-90)" text-anchor="middle">Number of dead cells</text><text transform="translate(2335.5 797.5) rotate(90)" text-anchor="middle">IC50 multiplier</text><g transform="translate(290 231)"><g clip-path="url(#a0_0)"><use href="#p0_0" fill="none" stroke="#a9cae5" stroke-width="4"/><use href="#p0_0" fill="#fad5ae"/><g clip-path="url(#cp0_0)"><use href="#p0_0" fill="none" stroke="#e8b07b" stroke-width="16"/><use href="#p0_0" fill="none" stroke="#b9a892" stroke-width="10"/><use href="#p0_0" fill="none" stroke="#5f9dcd" stroke-width="5"/><path d="M5.9 84 10.1 83.2 14.3 82 18.4 79.8 22.6 77.3 26.8 75 31 73.1 35.2 71.7 39.3 70.6 43.5 69.5 47.7 68.5 51.9 67.5 56.1 66.6 60.2 65.8 64.4 65.1 68.6 64.6 72.8 64.2 77 63.9 81.1 63.6 85.3 63.3 89.5 63 93.7 62.6 97.9 62.2 102 61.8 106.2 61.4 110.4 60.9 114.6 60.5 118.8 60.1 122.9 59.6" fill="none" stroke="#d3e5ea" stroke-width="16" stroke-linejoin="round"/></g><path d="M20.5 0V84M49.5 0V84M93.5 0V84" stroke="#bdbdbd" stroke-width="1" fill="none"/><path d="M5.9 0V84M64.4 0V84M122.9 0V84" stroke="#008000" stroke-width="4.8" opacity="0.5"/><path d="M5.9 84 10.1 83.2 14.3 82 18.4 79.8 22.6 77.3 26.8 75 31 73.1 35.2 71.7 39.3 70.6 43.5 69.5 47.7 68.5 51.9 67.5 56.1 66.6 60.2 65.8 64.4 65.1 68.6 64.6 72.8 64.2 77 63.9 81.1 63.6 85.3 63.3 89.5 63 93.7 62.6 97.9 62.2 102 61.8 106.2 61.4 110.4 60.9 114.6 60.5 118.8 60.1 122.9 59.6" fill="none" stroke="#000" stroke-width="9" stroke-linejoin="round" stroke-linecap="square"/></g></g><path d="M310.5 315v11M325.2 315v11M339.8 315v11M369 315v11M383.7 315v11M398.3 315v11M290 294h-11M290 273h-11M290 252h-11" stroke="#000" stroke-width="3.1"/><path d="M295.9 315v19M354.4 315v19M412.9 315v19M290 315h-18.5M290 231h-18.5" stroke="#008000" stroke-width="3.8"/><rect x="290" y="231" width="128" height="84" fill="none" stroke="#008000" stroke-width="6"/><text x="252" y="248.9" text-anchor="end">900</text><text x="252" y="333.2" text-anchor="end">0</text><text x="353" y="216.7" text-anchor="middle">24</text><g transform="translate(469.4 231)"><g clip-path="url(#a0_1)"><use href="#p0_1" fill="none" stroke="#a9cae5" stroke-width="4"/><use href="#p0_1" fill="#fad5ae"/><g clip-path="url(#cp0_1)"><use href="#p0_1" fill="none" stroke="#e8b07b" stroke-width="16"/><use href="#p0_1" fill="none" stroke="#b9a892" stroke-width="10"/><use href="#p0_1" fill="none" stroke="#5f9dcd" stroke-width="5"/><path d="M5.9 84 10.1 83.5 14.3 82.8 18.4 81.5 22.6 79.8 26.8 77.7 31 75.6 35.2 74 39.3 72.7 43.5 71.5 47.7 70.6 51.9 69.8 56.1 69.1 60.2 68.6 64.4 68 68.6 67.6 72.8 67.2 77 66.9 81.1 66.5 85.3 66.2 89.5 65.9 93.7 65.6 97.9 65.4 102 65.1 106.2 64.8 110.4 64.6 114.6 64.3 118.8 64.1 122.9 63.8" fill="none" stroke="#d3e5ea" stroke-width="16" stroke-linejoin="round"/></g><path d="M20.1 0V84M35.1 0V84M79.1 0V84M108.1 0V84" stroke="#bdbdbd" stroke-width="1" fill="none"/><path d="M5.9 0V84M64.4 0V84M122.9 0V84" stroke="#008000" stroke-width="4.8" opacity="0.5"/><path d="M5.9 84 10.1 83.5 14.3 82.8 18.4 81.5 22.6 79.8 26.8 77.7 31 75.6 35.2 74 39.3 72.7 43.5 71.5 47.7 70.6 51.9 69.8 56.1 69.1 60.2 68.6 64.4 68 68.6 67.6 72.8 67.2 77 66.9 81.1 66.5 85.3 66.2 89.5 65.9 93.7 65.6 97.9 65.4 102 65.1 106.2 64.8 110.4 64.6 114.6 64.3 118.8 64.1 122.9 63.8" fill="none" stroke="#000" stroke-width="9" stroke-linejoin="round" stroke-linecap="square"/></g></g><path d="M489.9 315v11M504.6 315v11M519.2 315v11M548.4 315v11M563.1 315v11M577.7 315v11M469.4 294h-11M469.4 273h-11M469.4 252h-11" stroke="#000" stroke-width="3.1"/><path d="M475.3 315v19M533.8 315v19M592.3 315v19M469.4 315h-18.5M469.4 231h-18.5" stroke="#008000" stroke-width="3.8"/><rect x="469.4" y="231" width="128" height="84" fill="none" stroke="#008000" stroke-width="6"/><text x="532.4" y="216.7" text-anchor="middle">36</text><g transform="translate(648.8 231)"><g clip-path="url(#a0_2)"><use href="#p0_2" fill="none" stroke="#a9cae5" stroke-width="4"/><use href="#p0_2" fill="#fad5ae"/><g clip-path="url(#cp0_2)"><use href="#p0_2" fill="none" stroke="#e8b07b" stroke-width="16"/><use href="#p0_2" fill="none" stroke="#b9a892" stroke-width="10"/><use href="#p0_2" fill="none" stroke="#5f9dcd" stroke-width="5"/><path d="M5.9 84 10.1 83.7 14.3 83.2 18.4 81.9 22.6 80.3 26.8 78.9 31 77.4 35.2 76.1 39.3 74.8 43.5 73.5 47.7 72.5 51.9 71.6 56.1 70.9 60.2 70.3 64.4 69.7 68.6 69.3 72.8 69 77 68.7 81.1 68.5 85.3 68.3 89.5 68 93.7 67.7 97.9 67.4 102 67.1 106.2 66.8 110.4 66.5 114.6 66.2 118.8 65.8 122.9 65.5" fill="none" stroke="#d3e5ea" stroke-width="16" stroke-linejoin="round"/></g><path d="M34.7 0V84M49.7 0V84M78.7 0V84M93.7 0V84" stroke="#bdbdbd" stroke-width="1" fill="none"/><path d="M5.9 0V84M64.4 0V84M122.9 0V84" stroke="#008000" stroke-width="4.8" opacity="0.5"/><path d="M5.9 84 10.1 83.7 14.3 83.2 18.4 81.9 22.6 80.3 26.8 78.9 31 77.4 35.2 76.1 39.3 74.8 43.5 73.5 47.7 72.5 51.9 71.6 56.1 70.9 60.2 70.3 64.4 69.7 68.6 69.3 72.8 69 77 68.7 81.1 68.5 85.3 68.3 89.5 68 93.7 67.7 97.9 67.4 102 67.1 106.2 66.8 110.4 66.5 114.6 66.2 118.8 65.8 122.9 65.5" fill="none" stroke="#000" stroke-width="9" stroke-linejoin="round" stroke-linecap="square"/></g></g><path d="M669.3 315v11M684 315v11M698.6 315v11M727.8 315v11M742.5 315v11M757.1 315v11M648.8 294h-11M648.8 273h-11M648.8 252h-11" stroke="#000" stroke-width="3.1"/><path d="M654.7 315v19M713.2 315v19M771.7 315v19M648.8 315h-18.5M648.8 231h-18.5" stroke="#008000" stroke-width="3.8"/><rect x="648.8" y="231" width="128" height="84" fill="none" stroke="#008000" stroke-width="6"/><text x="711.8" y="216.7" text-anchor="middle">48</text><g transform="translate(828.2 231)"><g clip-path="url(#a0_3)"><use href="#p0_3" fill="none" stroke="#a9cae5" stroke-width="4"/><use href="#p0_3" fill="#fad5ae"/><g clip-path="url(#cp0_3)"><use href="#p0_3" fill="none" stroke="#e8b07b" stroke-width="16"/><use href="#p0_3" fill="none" stroke="#b9a892" stroke-width="10"/><use href="#p0_3" fill="none" stroke="#5f9dcd" stroke-width="5"/><path d="M5.9 84 10.1 83.6 14.3 82.7 18.4 80.7 22.6 78.1 26.8 75.5 31 73.1 35.2 71.1 39.3 69.3 43.5 67.7 47.7 66.4 51.9 65.3 56.1 64.4 60.2 63.6 64.4 63 68.6 62.5 72.8 62.2 77 61.9 81.1 61.7 85.3 61.5 89.5 61.3 93.7 61.1 97.9 60.9 102 60.6 106.2 60.4 110.4 60.2 114.6 60 118.8 59.8 122.9 59.6" fill="none" stroke="#d3e5ea" stroke-width="16" stroke-linejoin="round"/></g><path d="M20.3 0V84M49.3 0V84M93.3 0V84" stroke="#bdbdbd" stroke-width="1" fill="none"/><path d="M5.9 0V84M64.4 0V84M122.9 0V84" stroke="#008000" stroke-width="4.8" opacity="0.5"/><path d="M5.9 84 10.1 83.6 14.3 82.7 18.4 80.7 22.6 78.1 26.8 75.5 31 73.1 35.2 71.1 39.3 69.3 43.5 67.7 47.7 66.4 51.9 65.3 56.1 64.4 60.2 63.6 64.4 63 68.6 62.5 72.8 62.2 77 61.9 81.1 61.7 85.3 61.5 89.5 61.3 93.7 61.1 97.9 60.9 102 60.6 106.2 60.4 110.4 60.2 114.6 60 118.8 59.8 122.9 59.6" fill="none" stroke="#000" stroke-width="9" stroke-linejoin="round" stroke-linecap="square"/></g></g><path d="M848.7 315v11M863.4 315v11M878 315v11M907.2 315v11M921.9 315v11M936.5 315v11M828.2 294h-11M828.2 273h-11M828.2 252h-11" stroke="#000" stroke-width="3.1"/><path d="M834.1 315v19M892.6 315v19M951.1 315v19M828.2 315h-18.5M828.2 231h-18.5" stroke="#008000" stroke-width="3.8"/><rect x="828.2" y="231" width="128" height="84" fill="none" stroke="#008000" stroke-width="6"/><text x="891.2" y="216.7" text-anchor="middle">60</text><g transform="translate(1007.6 231)"><g clip-path="url(#a0_4)"><use href="#p0_4" fill="none" stroke="#a9cae5" stroke-width="4"/><use href="#p0_4" fill="#fad5ae"/><g clip-path="url(#cp0_4)"><use href="#p0_4" fill="none" stroke="#e8b07b" stroke-width="16"/><use href="#p0_4" fill="none" stroke="#b9a892" stroke-width="10"/><use href="#p0_4" fill="none" stroke="#5f9dcd" stroke-width="5"/><path d="M5.9 84 10.1 83.7 14.3 83.2 18.4 81.7 22.6 79.8 26.8 77.8 31 75.6 35.2 73.4 39.3 71.4 43.5 70.2 47.7 69.3 51.9 68.6 56.1 68.1 60.2 67.6 64.4 67.2 68.6 66.8 72.8 66.5 77 66.2 81.1 66 85.3 65.8 89.5 65.5 93.7 65.3 97.9 65.1 102 64.8 106.2 64.6 110.4 64.4 114.6 64.2 118.8 64 122.9 63.8" fill="none" stroke="#d3e5ea" stroke-width="16" stroke-linejoin="round"/></g><path d="M34.9 0V84M78.9 0V84M93.9 0V84M107.9 0V84" stroke="#bdbdbd" stroke-width="1" fill="none"/><path d="M5.9 0V84M64.4 0V84M122.9 0V84" stroke="#008000" stroke-width="4.8" opacity="0.5"/><path d="M5.9 84 10.1 83.7 14.3 83.2 18.4 81.7 22.6 79.8 26.8 77.8 31 75.6 35.2 73.4 39.3 71.4 43.5 70.2 47.7 69.3 51.9 68.6 56.1 68.1 60.2 67.6 64.4 67.2 68.6 66.8 72.8 66.5 77 66.2 81.1 66 85.3 65.8 89.5 65.5 93.7 65.3 97.9 65.1 102 64.8 106.2 64.6 110.4 64.4 114.6 64.2 118.8 64 122.9 63.8" fill="none" stroke="#000" stroke-width="9" stroke-linejoin="round" stroke-linecap="square"/></g></g><path d="M1028.1 315v11M1042.8 315v11M1057.4 315v11M1086.6 315v11M1101.3 315v11M1115.9 315v11M1007.6 294h-11M1007.6 273h-11M1007.6 252h-11" stroke="#000" stroke-width="3.1"/><path d="M1013.5 315v19M1072 315v19M1130.5 315v19M1007.6 315h-18.5M1007.6 231h-18.5" stroke="#008000" stroke-width="3.8"/><rect x="1007.6" y="231" width="128" height="84" fill="none" stroke="#008000" stroke-width="6"/><text x="1070.6" y="216.7" text-anchor="middle">72</text><g transform="translate(1187 231)"><g clip-path="url(#a0_5)"><use href="#p0_5" fill="none" stroke="#a9cae5" stroke-width="4"/><use href="#p0_5" fill="#fad5ae"/><g clip-path="url(#cp0_5)"><use href="#p0_5" fill="none" stroke="#e8b07b" stroke-width="16"/><use href="#p0_5" fill="none" stroke="#b9a892" stroke-width="10"/><use href="#p0_5" fill="none" stroke="#5f9dcd" stroke-width="5"/><path d="M5.9 84 10.1 83.8 14.3 83.2 18.4 81.4 22.6 79 26.8 76 31 73.1 35.2 71.1 39.3 69.3 43.5 67.1 47.7 65.1 51.9 63.7 56.1 62.5 60.2 61.6 64.4 60.9 68.6 60.4 72.8 60.1 77 60 81.1 59.9 85.3 59.8 89.5 59.6 93.7 59.4 97.9 59.2 102 59 106.2 58.8 110.4 58.6 114.6 58.4 118.8 58.2 122.9 58" fill="none" stroke="#d3e5ea" stroke-width="16" stroke-linejoin="round"/></g><path d="M20.5 0V84M49.5 0V84M79.5 0V84M108.5 0V84" stroke="#bdbdbd" stroke-width="1" fill="none"/><path d="M5.9 0V84M64.4 0V84M122.9 0V84" stroke="#008000" stroke-width="4.8" opacity="0.5"/><path d="M5.9 84 10.1 83.8 14.3 83.2 18.4 81.4 22.6 79 26.8 76 31 73.1 35.2 71.1 39.3 69.3 43.5 67.1 47.7 65.1 51.9 63.7 56.1 62.5 60.2 61.6 64.4 60.9 68.6 60.4 72.8 60.1 77 60 81.1 59.9 85.3 59.8 89.5 59.6 93.7 59.4 97.9 59.2 102 59 106.2 58.8 110.4 58.6 114.6 58.4 118.8 58.2 122.9 58" fill="none" stroke="#000" stroke-width="9" stroke-linejoin="round" stroke-linecap="square"/></g></g><path d="M1207.5 315v11M1222.2 315v11M1236.8 315v11M1266 315v11M1280.7 315v11M1295.3 315v11M1187 294h-11M1187 273h-11M1187 252h-11" stroke="#000" stroke-width="3.1"/><path d="M1192.9 315v19M1251.4 315v19M1309.9 315v19M1187 315h-18.5M1187 231h-18.5" stroke="#008000" stroke-width="3.8"/><rect x="1187" y="231" width="128" height="84" fill="none" stroke="#008000" stroke-width="6"/><text x="1250" y="216.7" text-anchor="middle">84</text><g transform="translate(1366.4 231)"><g clip-path="url(#a0_6)"><use href="#p0_6" fill="none" stroke="#a9cae5" stroke-width="4"/><use href="#p0_6" fill="#fad5ae"/><g clip-path="url(#cp0_6)"><use href="#p0_6" fill="none" stroke="#e8b07b" stroke-width="16"/><use href="#p0_6" fill="none" stroke="#b9a892" stroke-width="10"/><use href="#p0_6" fill="none" stroke="#5f9dcd" stroke-width="5"/><path d="M5.9 84 10.1 83.6 14.3 82.8 18.4 81.2 22.6 79 26.8 76 31 73.1 35.2 70.8 39.3 68.9 43.5 67.5 47.7 66.4 51.9 65.2 56.1 64 60.2 63 64.4 62.2 68.6 61.5 72.8 61 77 60.6 81.1 60.2 85.3 59.9 89.5 59.6 93.7 59.3 97.9 59.1 102 58.9 106.2 58.7 110.4 58.5 114.6 58.3 118.8 58.2 122.9 58" fill="none" stroke="#d3e5ea" stroke-width="16" stroke-linejoin="round"/></g><path d="M20.1 0V84M35.1 0V84M50.1 0V84M79.1 0V84M94.1 0V84" stroke="#bdbdbd" stroke-width="1" fill="none"/><path d="M5.9 0V84M64.4 0V84M122.9 0V84" stroke="#008000" stroke-width="4.8" opacity="0.5"/><path d="M5.9 84 10.1 83.6 14.3 82.8 18.4 81.2 22.6 79 26.8 76 31 73.1 35.2 70.8 39.3 68.9 43.5 67.5 47.7 66.4 51.9 65.2 56.1 64 60.2 63 64.4 62.2 68.6 61.5 72.8 61 77 60.6 81.1 60.2 85.3 59.9 89.5 59.6 93.7 59.3 97.9 59.1 102 58.9 106.2 58.7 110.4 58.5 114.6 58.3 118.8 58.2 122.9 58" fill="none" stroke="#000" stroke-width="9" stroke-linejoin="round" stroke-linecap="square"/></g></g><path d="M1386.9 315v11M1401.6 315v11M1416.2 315v11M1445.4 315v11M1460.1 315v11M1474.7 315v11M1366.4 294h-11M1366.4 273h-11M1366.4 252h-11" stroke="#000" stroke-width="3.1"/><path d="M1372.3 315v19M1430.8 315v19M1489.3 315v19M1366.4 315h-18.5M1366.4 231h-18.5" stroke="#008000" stroke-width="3.8"/><rect x="1366.4" y="231" width="128" height="84" fill="none" stroke="#008000" stroke-width="6"/><text x="1429.4" y="216.7" text-anchor="middle">96</text><g transform="translate(1545.8 231)"><g clip-path="url(#a0_7)"><use href="#p0_7" fill="none" stroke="#a9cae5" stroke-width="4"/><use href="#p0_7" fill="#fad5ae"/><g clip-path="url(#cp0_7)"><use href="#p0_7" fill="none" stroke="#e8b07b" stroke-width="16"/><use href="#p0_7" fill="none" stroke="#b9a892" stroke-width="10"/><use href="#p0_7" fill="none" stroke="#5f9dcd" stroke-width="5"/><path d="M5.9 84 10.1 83.6 14.3 82.8 18.4 81.2 22.6 79 26.8 75.8 31 72.7 35.2 70.5 39.3 68.9 43.5 67.5 47.7 66.4 51.9 65.3 56.1 64.4 60.2 63.6 64.4 63 68.6 62.5 72.8 62.2 77 62 81.1 61.8 85.3 61.6 89.5 61.3 93.7 61 97.9 60.6 102 60.1 106.2 59.7 110.4 59.3 114.6 58.8 118.8 58.4 122.9 58" fill="none" stroke="#d3e5ea" stroke-width="16" stroke-linejoin="round"/></g><path d="M34.7 0V84M93.7 0V84M108.7 0V84" stroke="#bdbdbd" stroke-width="1" fill="none"/><path d="M5.9 0V84M64.4 0V84M122.9 0V84" stroke="#008000" stroke-width="4.8" opacity="0.5"/><path d="M5.9 84 10.1 83.6 14.3 82.8 18.4 81.2 22.6 79 26.8 75.8 31 72.7 35.2 70.5 39.3 68.9 43.5 67.5 47.7 66.4 51.9 65.3 56.1 64.4 60.2 63.6 64.4 63 68.6 62.5 72.8 62.2 77 62 81.1 61.8 85.3 61.6 89.5 61.3 93.7 61 97.9 60.6 102 60.1 106.2 59.7 110.4 59.3 114.6 58.8 118.8 58.4 122.9 58" fill="none" stroke="#000" stroke-width="9" stroke-linejoin="round" stroke-linecap="square"/></g></g><path d="M1566.3 315v11M1581 315v11M1595.6 315v11M1624.8 315v11M1639.5 315v11M1654.1 315v11M1545.8 294h-11M1545.8 273h-11M1545.8 252h-11" stroke="#000" stroke-width="3.1"/><path d="M1551.7 315v19M1610.2 315v19M1668.7 315v19M1545.8 315h-18.5M1545.8 231h-18.5" stroke="#008000" stroke-width="3.8"/><rect x="1545.8" y="231" width="128" height="84" fill="none" stroke="#008000" stroke-width="6"/><text x="1608.8" y="216.7" text-anchor="middle">108</text><g transform="translate(1725.2 231)"><g clip-path="url(#a0_8)"><use href="#p0_8" fill="none" stroke="#a9cae5" stroke-width="4"/><use href="#p0_8" fill="#fad5ae"/><g clip-path="url(#cp0_8)"><use href="#p0_8" fill="none" stroke="#e8b07b" stroke-width="16"/><use href="#p0_8" fill="none" stroke="#b9a892" stroke-width="10"/><use href="#p0_8" fill="none" stroke="#5f9dcd" stroke-width="5"/><path d="M5.9 84 10.1 83.7 14.3 83.2 18.4 81.9 22.6 80.3 26.8 78.3 31 76.2 35.2 74.2 39.3 72.5 43.5 71.1 47.7 70.1 51.9 69.3 56.1 68.9 60.2 68.5 64.4 68 68.6 67.5 72.8 67.1 77 66.6 81.1 66.1 85.3 65.6 89.5 65.1 93.7 64.6 97.9 64.1 102 63.5 106.2 63 110.4 62.5 114.6 62 118.8 61.4 122.9 60.9" fill="none" stroke="#d3e5ea" stroke-width="16" stroke-linejoin="round"/></g><path d="M35.3 0V84M49.3 0V84M79.3 0V84M108.3 0V84" stroke="#bdbdbd" stroke-width="1" fill="none"/><path d="M5.9 0V84M64.4 0V84M122.9 0V84" stroke="#008000" stroke-width="4.8" opacity="0.5"/><path d="M5.9 84 10.1 83.7 14.3 83.2 18.4 81.9 22.6 80.3 26.8 78.3 31 76.2 35.2 74.2 39.3 72.5 43.5 71.1 47.7 70.1 51.9 69.3 56.1 68.9 60.2 68.5 64.4 68 68.6 67.5 72.8 67.1 77 66.6 81.1 66.1 85.3 65.6 89.5 65.1 93.7 64.6 97.9 64.1 102 63.5 106.2 63 110.4 62.5 114.6 62 118.8 61.4 122.9 60.9" fill="none" stroke="#000" stroke-width="9" stroke-linejoin="round" stroke-linecap="square"/></g></g><path d="M1745.7 315v11M1760.4 315v11M1775 315v11M1804.2 315v11M1818.9 315v11M1833.5 315v11M1725.2 294h-11M1725.2 273h-11M1725.2 252h-11" stroke="#000" stroke-width="3.1"/><path d="M1731.1 315v19M1789.6 315v19M1848.1 315v19M1725.2 315h-18.5M1725.2 231h-18.5" stroke="#008000" stroke-width="3.8"/><rect x="1725.2" y="231" width="128" height="84" fill="none" stroke="#008000" stroke-width="6"/><text x="1788.2" y="216.7" text-anchor="middle">120</text><g transform="translate(1904.6 231)"><g clip-path="url(#a0_9)"><use href="#p0_9" fill="none" stroke="#a9cae5" stroke-width="4"/><use href="#p0_9" fill="#fad5ae"/><g clip-path="url(#cp0_9)"><use href="#p0_9" fill="none" stroke="#e8b07b" stroke-width="16"/><use href="#p0_9" fill="none" stroke="#b9a892" stroke-width="10"/><use href="#p0_9" fill="none" stroke="#5f9dcd" stroke-width="5"/><path d="M5.9 84 10.1 83.7 14.3 82.8 18.4 80.4 22.6 77.4 26.8 74.4 31 71.4 35.2 69.1 39.3 67.2 43.5 65.5 47.7 64.3 51.9 63.5 56.1 63 60.2 62.6 64.4 62.2 68.6 61.6 72.8 61 77 60.4 81.1 59.8 85.3 59.2 89.5 58.8 93.7 58.5 97.9 58.2 102 58 106.2 57.8 110.4 57.6 114.6 57.5 118.8 57.3 122.9 57.1" fill="none" stroke="#d3e5ea" stroke-width="16" stroke-linejoin="round"/></g><path d="M20.9 0V84M49.9 0V84M93.9 0V84" stroke="#bdbdbd" stroke-width="1" fill="none"/><path d="M5.9 0V84M64.4 0V84M122.9 0V84" stroke="#008000" stroke-width="4.8" opacity="0.5"/><path d="M5.9 84 10.1 83.7 14.3 82.8 18.4 80.4 22.6 77.4 26.8 74.4 31 71.4 35.2 69.1 39.3 67.2 43.5 65.5 47.7 64.3 51.9 63.5 56.1 63 60.2 62.6 64.4 62.2 68.6 61.6 72.8 61 77 60.4 81.1 59.8 85.3 59.2 89.5 58.8 93.7 58.5 97.9 58.2 102 58 106.2 57.8 110.4 57.6 114.6 57.5 118.8 57.3 122.9 57.1" fill="none" stroke="#000" stroke-width="9" stroke-linejoin="round" stroke-linecap="square"/></g></g><path d="M1925.1 315v11M1939.8 315v11M1954.4 315v11M1983.6 315v11M1998.3 315v11M2012.9 315v11M1904.6 294h-11M1904.6 273h-11M1904.6 252h-11" stroke="#000" stroke-width="3.1"/><path d="M1910.5 315v19M1969 315v19M2027.5 315v19M1904.6 315h-18.5M1904.6 231h-18.5" stroke="#008000" stroke-width="3.8"/><rect x="1904.6" y="231" width="128" height="84" fill="none" stroke="#008000" stroke-width="6"/><text x="1967.6" y="216.7" text-anchor="middle">132</text><g transform="translate(2084 231)"><g clip-path="url(#a0_10)"><use href="#p0_10" fill="none" stroke="#a9cae5" stroke-width="4"/><use href="#p0_10" fill="#fad5ae"/><g clip-path="url(#cp0_10)"><use href="#p0_10" fill="none" stroke="#e8b07b" stroke-width="16"/><use href="#p0_10" fill="none" stroke="#b9a892" stroke-width="10"/><use href="#p0_10" fill="none" stroke="#5f9dcd" stroke-width="5"/><path d="M5.9 84 10.1 83.4 14.3 82.3 18.4 79.7 22.6 76.6 26.8 73.4 31 70.6 35.2 68.6 39.3 67.2 43.5 66 47.7 65.1 51.9 64.4 56.1 63.9 60.2 63.4 64.4 63 68.6 62.6 72.8 62.2 77 61.8 81.1 61.5 85.3 61.2 89.5 60.9 93.7 60.7 97.9 60.5 102 60.3 106.2 60.2 110.4 60 114.6 59.9 118.8 59.8 122.9 59.6" fill="none" stroke="#d3e5ea" stroke-width="16" stroke-linejoin="round"/></g><path d="M20.5 0V84M35.5 0V84M79.5 0V84M108.5 0V84" stroke="#bdbdbd" stroke-width="1" fill="none"/><path d="M5.9 0V84M64.4 0V84M122.9 0V84" stroke="#008000" stroke-width="4.8" opacity="0.5"/><path d="M5.9 84 10.1 83.4 14.3 82.3 18.4 79.7 22.6 76.6 26.8 73.4 31 70.6 35.2 68.6 39.3 67.2 43.5 66 47.7 65.1 51.9 64.4 56.1 63.9 60.2 63.4 64.4 63 68.6 62.6 72.8 62.2 77 61.8 81.1 61.5 85.3 61.2 89.5 60.9 93.7 60.7 97.9 60.5 102 60.3 106.2 60.2 110.4 60 114.6 59.9 118.8 59.8 122.9 59.6" fill="none" stroke="#000" stroke-width="9" stroke-linejoin="round" stroke-linecap="square"/></g></g><path d="M2104.5 315v11M2119.2 315v11M2133.8 315v11M2163 315v11M2177.7 315v11M2192.3 315v11M2084 294h-11M2084 273h-11M2084 252h-11" stroke="#000" stroke-width="3.1"/><path d="M2089.9 315v19M2148.4 315v19M2206.9 315v19M2084 315h-18.5M2084 231h-18.5" stroke="#008000" stroke-width="3.8"/><rect x="2084" y="231" width="128" height="84" fill="none" stroke="#008000" stroke-width="6"/><text x="2147" y="216.7" text-anchor="middle">144</text><text transform="translate(2231 272) rotate(90)" text-anchor="middle">0.01</text><g transform="translate(290 348.9)"><g clip-path="url(#a1_0)"><use href="#p1_0" fill="none" stroke="#a9cae5" stroke-width="4"/><use href="#p1_0" fill="#fad5ae"/><g clip-path="url(#cp1_0)"><use href="#p1_0" fill="none" stroke="#e8b07b" stroke-width="16"/><use href="#p1_0" fill="none" stroke="#b9a892" stroke-width="10"/><use href="#p1_0" fill="none" stroke="#5f9dcd" stroke-width="5"/><path d="M5.9 84 10.1 83.2 14.3 81.8 18.4 79 22.6 75.6 26.8 72.2 31 68.9 35.2 65.9 39.3 63.4 43.5 61.7 47.7 60.5 51.9 59.7 56.1 59.1 60.2 58.8 64.4 58.4 68.6 58 72.8 57.6 77 57.3 81.1 56.9 85.3 56.6 89.5 56.3 93.7 55.9 97.9 55.6 102 55.2 106.2 54.8 110.4 54.4 114.6 54.1 118.8 53.7 122.9 53.3" fill="none" stroke="#d3e5ea" stroke-width="16" stroke-linejoin="round"/></g><path d="M20.5 0V84M49.5 0V84M93.5 0V84M0 62.6H128M0 41.6H128M0 20.6H128" stroke="#bdbdbd" stroke-width="1" fill="none"/><path d="M5.9 0V84M64.4 0V84M122.9 0V84" stroke="#008000" stroke-width="4.8" opacity="0.5"/><path d="M5.9 84 10.1 83.2 14.3 81.8 18.4 79 22.6 75.6 26.8 72.2 31 68.9 35.2 65.9 39.3 63.4 43.5 61.7 47.7 60.5 51.9 59.7 56.1 59.1 60.2 58.8 64.4 58.4 68.6 58 72.8 57.6 77 57.3 81.1 56.9 85.3 56.6 89.5 56.3 93.7 55.9 97.9 55.6 102 55.2 106.2 54.8 110.4 54.4 114.6 54.1 118.8 53.7 122.9 53.3" fill="none" stroke="#000" stroke-width="9" stroke-linejoin="round" stroke-linecap="square"/></g></g><path d="M310.5 432.9v11M325.2 432.9v11M339.8 432.9v11M369 432.9v11M383.7 432.9v11M398.3 432.9v11M290 411.9h-11M290 390.9h-11M290 369.9h-11" stroke="#000" stroke-width="3.1"/><path d="M295.9 432.9v19M354.4 432.9v19M412.9 432.9v19M290 432.9h-18.5M290 348.9h-18.5" stroke="#008000" stroke-width="3.8"/><rect x="290" y="348.9" width="128" height="84" fill="none" stroke="#008000" stroke-width="6"/><text x="252" y="366.8" text-anchor="end">900</text><text x="252" y="451.1" text-anchor="end">0</text><g transform="translate(469.4 348.9)"><g clip-path="url(#a1_1)"><use href="#p1_1" fill="none" stroke="#a9cae5" stroke-width="4"/><use href="#p1_1" fill="#fad5ae"/><g clip-path="url(#cp1_1)"><use href="#p1_1" fill="none" stroke="#e8b07b" stroke-width="16"/><use href="#p1_1" fill="none" stroke="#b9a892" stroke-width="10"/><use href="#p1_1" fill="none" stroke="#5f9dcd" stroke-width="5"/><path d="M5.9 84 10.1 83.6 14.3 82.8 18.4 80.7 22.6 78.1 26.8 75.6 31 73.1 35.2 70.9 39.3 68.9 43.5 67 47.7 65.5 51.9 64.5 56.1 63.8 60.2 63.2 64.4 62.6 68.6 62 72.8 61.5 77 61 81.1 60.5 85.3 60.1 89.5 59.6 93.7 59.2 97.9 58.8 102 58.3 106.2 57.9 110.4 57.5 114.6 57.1 118.8 56.7 122.9 56.3" fill="none" stroke="#d3e5ea" stroke-width="16" stroke-linejoin="round"/></g><path d="M20.1 0V84M35.1 0V84M79.1 0V84M108.1 0V84M0 62.6H128M0 41.6H128M0 20.6H128" stroke="#bdbdbd" stroke-width="1" fill="none"/><path d="M5.9 0V84M64.4 0V84M122.9 0V84" stroke="#008000" stroke-width="4.8" opacity="0.5"/><path d="M5.9 84 10.1 83.6 14.3 82.8 18.4 80.7 22.6 78.1 26.8 75.6 31 73.1 35.2 70.9 39.3 68.9 43.5 67 47.7 65.5 51.9 64.5 56.1 63.8 60.2 63.2 64.4 62.6 68.6 62 72.8 61.5 77 61 81.1 60.5 85.3 60.1 89.5 59.6 93.7 59.2 97.9 58.8 102 58.3 106.2 57.9 110.4 57.5 114.6 57.1 118.8 56.7 122.9 56.3" fill="none" stroke="#000" stroke-width="9" stroke-linejoin="round" stroke-linecap="square"/></g></g><path d="M489.9 432.9v11M504.6 432.9v11M519.2 432.9v11M548.4 432.9v11M563.1 432.9v11M577.7 432.9v11M469.4 411.9h-11M469.4 390.9h-11M469.4 369.9h-11" stroke="#000" stroke-width="3.1"/><path d="M475.3 432.9v19M533.8 432.9v19M592.3 432.9v19M469.4 432.9h-18.5M469.4 348.9h-18.5" stroke="#008000" stroke-width="3.8"/><rect x="469.4" y="348.9" width="128" height="84" fill="none" stroke="#008000" stroke-width="6"/><g transform="translate(648.8 348.9)"><g clip-path="url(#a1_2)"><use href="#p1_2" fill="none" stroke="#a9cae5" stroke-width="4"/><use href="#p1_2" fill="#fad5ae"/><g clip-path="url(#cp1_2)"><use href="#p1_2" fill="none" stroke="#e8b07b" stroke-width="16"/><use href="#p1_2" fill="none" stroke="#b9a892" stroke-width="10"/><use href="#p1_2" fill="none" stroke="#5f9dcd" stroke-width="5"/><path d="M5.9 84 10.1 83.3 14.3 82.3 18.4 80.7 22.6 79 26.8 77.3 31 75.6 35.2 74.1 39.3 72.7 43.5 71.1 47.7 69.7 51.9 68.5 56.1 67.3 60.2 66.3 64.4 65.5 68.6 64.9 72.8 64.5 77 64.2 81.1 64 85.3 63.7 89.5 63.4 93.7 63.1 97.9 62.7 102 62.3 106.2 62 110.4 61.6 114.6 61.2 118.8 60.8 122.9 60.5" fill="none" stroke="#d3e5ea" stroke-width="16" stroke-linejoin="round"/></g><path d="M34.7 0V84M49.7 0V84M78.7 0V84M93.7 0V84M0 62.6H128M0 41.6H128M0 20.6H128" stroke="#bdbdbd" stroke-width="1" fill="none"/><path d="M5.9 0V84M64.4 0V84M122.9 0V84" stroke="#008000" stroke-width="4.8" opacity="0.5"/><path d="M5.9 84 10.1 83.3 14.3 82.3 18.4 80.7 22.6 79 26.8 77.3 31 75.6 35.2 74.1 39.3 72.7 43.5 71.1 47.7 69.7 51.9 68.5 56.1 67.3 60.2 66.3 64.4 65.5 68.6 64.9 72.8 64.5 77 64.2 81.1 64 85.3 63.7 89.5 63.4 93.7 63.1 97.9 62.7 102 62.3 106.2 62 110.4 61.6 114.6 61.2 118.8 60.8 122.9 60.5" fill="none" stroke="#000" stroke-width="9" stroke-linejoin="round" stroke-linecap="square"/></g></g><path d="M669.3 432.9v11M684 432.9v11M698.6 432.9v11M727.8 432.9v11M742.5 432.9v11M757.1 432.9v11M648.8 411.9h-11M648.8 390.9h-11M648.8 369.9h-11" stroke="#000" stroke-width="3.1"/><path d="M654.7 432.9v19M713.2 432.9v19M771.7 432.9v19M648.8 432.9h-18.5M648.8 348.9h-18.5" stroke="#008000" stroke-width="3.8"/><rect x="648.8" y="348.9" width="128" height="84" fill="none" stroke="#008000" stroke-width="6"/><g transform="translate(828.2 348.9)"><g clip-path="url(#a1_3)"><use href="#p1_3" fill="none" stroke="#a9cae5" stroke-width="4"/><use href="#p1_3" fill="#fad5ae"/><g clip-path="url(#cp1_3)"><use href="#p1_3" fill="none" stroke="#e8b07b" stroke-width="16"/><use href="#p1_3" fill="none" stroke="#b9a892" stroke-width="10"/><use href="#p1_3" fill="none" stroke="#5f9dcd" stroke-width="5"/><path d="M5.9 84 10.1 83.6 14.3 82.8 18.4 81.1 22.6 79 26.8 76.4 31 73.9 35.2 72.1 39.3 70.6 43.5 69.2 47.7 68 51.9 67 56.1 66.2 60.2 65.4 64.4 64.7 68.6 64.1 72.8 63.5 77 63 81.1 62.5 85.3 62.1 89.5 61.7 93.7 61.4 97.9 61.1 102 60.8 106.2 60.6 110.4 60.3 114.6 60.1 118.8 59.9 122.9 59.6" fill="none" stroke="#d3e5ea" stroke-width="16" stroke-linejoin="round"/></g><path d="M20.3 0V84M49.3 0V84M93.3 0V84M0 62.6H128M0 41.6H128M0 20.6H128" stroke="#bdbdbd" stroke-width="1" fill="none"/><path d="M5.9 0V84M64.4 0V84M122.9 0V84" stroke="#008000" stroke-width="4.8" opacity="0.5"/><path d="M5.9 84 10.1 83.6 14.3 82.8 18.4 81.1 22.6 79 26.8 76.4 31 73.9 35.2 72.1 39.3 70.6 43.5 69.2 47.7 68 51.9 67 56.1 66.2 60.2 65.4 64.4 64.7 68.6 64.1 72.8 63.5 77 63 81.1 62.5 85.3 62.1 89.5 61.7 93.7 61.4 97.9 61.1 102 60.8 106.2 60.6 110.4 60.3 114.6 60.1 118.8 59.9 122.9 59.6" fill="none" stroke="#000" stroke-width="9" stroke-linejoin="round" stroke-linecap="square"/></g></g><path d="M848.7 432.9v11M863.4 432.9v11M878 432.9v11M907.2 432.9v11M921.9 432.9v11M936.5 432.9v11M828.2 411.9h-11M828.2 390.9h-11M828.2 369.9h-11" stroke="#000" stroke-width="3.1"/><path d="M834.1 432.9v19M892.6 432.9v19M951.1 432.9v19M828.2 432.9h-18.5M828.2 348.9h-18.5" stroke="#008000" stroke-width="3.8"/><rect x="828.2" y="348.9" width="128" height="84" fill="none" stroke="#008000" stroke-width="6"/><g transform="translate(1007.6 348.9)"><g clip-path="url(#a1_4)"><use href="#p1_4" fill="none" stroke="#a9cae5" stroke-width="4"/><use href="#p1_4" fill="#fad5ae"/><g clip-path="url(#cp1_4)"><use href="#p1_4" fill="none" stroke="#e8b07b" stroke-width="16"/><use href="#p1_4" fill="none" stroke="#b9a892" stroke-width="10"/><use href="#p1_4" fill="none" stroke="#5f9dcd" stroke-width="5"/><path d="M5.9 84 10.1 83.7 14.3 82.8 18.4 80.1 22.6 76.9 26.8 74.6 31 72.7 35.2 70.7 39.3 68.9 43.5 67.1 47.7 65.5 51.9 64.3 56.1 63.2 60.2 62.3 64.4 61.3 68.6 60.4 72.8 59.5 77 58.6 81.1 57.8 85.3 57 89.5 56.3 93.7 55.6 97.9 55.1 102 54.5 106.2 54 110.4 53.5 114.6 53.1 118.8 52.6 122.9 52.1" fill="none" stroke="#d3e5ea" stroke-width="16" stroke-linejoin="round"/></g><path d="M34.9 0V84M78.9 0V84M93.9 0V84M107.9 0V84M0 62.6H128M0 41.6H128M0 20.6H128" stroke="#bdbdbd" stroke-width="1" fill="none"/><path d="M5.9 0V84M64.4 0V84M122.9 0V84" stroke="#008000" stroke-width="4.8" opacity="0.5"/><path d="M5.9 84 10.1 83.7 14.3 82.8 18.4 80.1 22.6 76.9 26.8 74.6 31 72.7 35.2 70.7 39.3 68.9 43.5 67.1 47.7 65.5 51.9 64.3 56.1 63.2 60.2 62.3 64.4 61.3 68.6 60.4 72.8 59.5 77 58.6 81.1 57.8 85.3 57 89.5 56.3 93.7 55.6 97.9 55.1 102 54.5 106.2 54 110.4 53.5 114.6 53.1 118.8 52.6 122.9 52.1" fill="none" stroke="#000" stroke-width="9" stroke-linejoin="round" stroke-linecap="square"/></g></g><path d="M1028.1 432.9v11M1042.8 432.9v11M1057.4 432.9v11M1086.6 432.9v11M1101.3 432.9v11M1115.9 432.9v11M1007.6 411.9h-11M1007.6 390.9h-11M1007.6 369.9h-11" stroke="#000" stroke-width="3.1"/><path d="M1013.5 432.9v19M1072 432.9v19M1130.5 432.9v19M1007.6 432.9h-18.5M1007.6 348.9h-18.5" stroke="#008000" stroke-width="3.8"/><rect x="1007.6" y="348.9" width="128" height="84" fill="none" stroke="#008000" stroke-width="6"/><g transform="translate(1187 348.9)"><g clip-path="url(#a1_5)"><use href="#p1_5" fill="none" stroke="#a9cae5" stroke-width="4"/><use href="#p1_5" fill="#fad5ae"/><g clip-path="url(#cp1_5)"><use href="#p1_5" fill="none" stroke="#e8b07b" stroke-width="16"/><use href="#p1_5" fill="none" stroke="#b9a892" stroke-width="10"/><use href="#p1_5" fill="none" stroke="#5f9dcd" stroke-width="5"/><path d="M5.9 84 10.1 83.8 14.3 83.2 18.4 81.3 22.6 79 26.8 76.4 31 73.9 35.2 71.7 39.3 69.7 43.5 68.1 47.7 66.8 51.9 65.6 56.1 64.5 60.2 63.5 64.4 62.6 68.6 61.8 72.8 61.1 77 60.4 81.1 59.8 85.3 59.3 89.5 58.8 93.7 58.3 97.9 57.9 102 57.5 106.2 57.2 110.4 56.9 114.6 56.5 118.8 56.2 122.9 55.9" fill="none" stroke="#d3e5ea" stroke-width="16" stroke-linejoin="round"/></g><path d="M20.5 0V84M49.5 0V84M79.5 0V84M108.5 0V84M0 62.6H128M0 41.6H128M0 20.6H128" stroke="#bdbdbd" stroke-width="1" fill="none"/><path d="M5.9 0V84M64.4 0V84M122.9 0V84" stroke="#008000" stroke-width="4.8" opacity="0.5"/><path d="M5.9 84 10.1 83.8 14.3 83.2 18.4 81.3 22.6 79 26.8 76.4 31 73.9 35.2 71.7 39.3 69.7 43.5 68.1 47.7 66.8 51.9 65.6 56.1 64.5 60.2 63.5 64.4 62.6 68.6 61.8 72.8 61.1 77 60.4 81.1 59.8 85.3 59.3 89.5 58.8 93.7 58.3 97.9 57.9 102 57.5 106.2 57.2 110.4 56.9 114.6 56.5 118.8 56.2 122.9 55.9" fill="none" stroke="#000" stroke-width="9" stroke-linejoin="round" stroke-linecap="square"/></g></g><path d="M1207.5 432.9v11M1222.2 432.9v11M1236.8 432.9v11M1266 432.9v11M1280.7 432.9v11M1295.3 432.9v11M1187 411.9h-11M1187 390.9h-11M1187 369.9h-11" stroke="#000" stroke-width="3.1"/><path d="M1192.9 432.9v19M1251.4 432.9v19M1309.9 432.9v19M1187 432.9h-18.5M1187 348.9h-18.5" stroke="#008000" stroke-width="3.8"/><rect x="1187" y="348.9" width="128" height="84" fill="none" stroke="#008000" stroke-width="6"/><g transform="translate(1366.4 348.9)"><g clip-path="url(#a1_6)"><use href="#p1_6" fill="none" stroke="#a9cae5" stroke-width="4"/><use href="#p1_6" fill="#fad5ae"/><g clip-path="url(#cp1_6)"><use href="#p1_6" fill="none" stroke="#e8b07b" stroke-width="16"/><use href="#p1_6" fill="none" stroke="#b9a892" stroke-width="10"/><use href="#p1_6" fill="none" stroke="#5f9dcd" stroke-width="5"/><path d="M5.9 84 10.1 83.8 14.3 83.2 18.4 80.4 22.6 76.9 26.8 73.9 31 71.4 35.2 69.9 39.3 68.9 43.5 68 47.7 67.2 51.9 66.5 56.1 65.8 60.2 65.2 64.4 64.7 68.6 64.2 72.8 63.7 77 63.3 81.1 62.9 85.3 62.5 89.5 62.2 93.7 61.8 97.9 61.4 102 61 106.2 60.7 110.4 60.3 114.6 59.9 118.8 59.6 122.9 59.2" fill="none" stroke="#d3e5ea" stroke-width="16" stroke-linejoin="round"/></g><path d="M20.1 0V84M35.1 0V84M50.1 0V84M79.1 0V84M94.1 0V84M0 62.6H128M0 41.6H128M0 20.6H128" stroke="#bdbdbd" stroke-width="1" fill="none"/><path d="M5.9 0V84M64.4 0V84M122.9 0V84" stroke="#008000" stroke-width="4.8" opacity="0.5"/><path d="M5.9 84 10.1 83.8 14.3 83.2 18.4 80.4 22.6 76.9 26.8 73.9 31 71.4 35.2 69.9 39.3 68.9 43.5 68 47.7 67.2 51.9 66.5 56.1 65.8 60.2 65.2 64.4 64.7 68.6 64.2 72.8 63.7 77 63.3 81.1 62.9 85.3 62.5 89.5 62.2 93.7 61.8 97.9 61.4 102 61 106.2 60.7 110.4 60.3 114.6 59.9 118.8 59.6 122.9 59.2" fill="none" stroke="#000" stroke-width="9" stroke-linejoin="round" stroke-linecap="square"/></g></g><path d="M1386.9 432.9v11M1401.6 432.9v11M1416.2 432.9v11M1445.4 432.9v11M1460.1 432.9v11M1474.7 432.9v11M1366.4 411.9h-11M1366.4 390.9h-11M1366.4 369.9h-11" stroke="#000" stroke-width="3.1"/><path d="M1372.3 432.9v19M1430.8 432.9v19M1489.3 432.9v19M1366.4 432.9h-18.5M1366.4 348.9h-18.5" stroke="#008000" stroke-width="3.8"/><rect x="1366.4" y="348.9" width="128" height="84" fill="none" stroke="#008000" stroke-width="6"/><g transform="translate(1545.8 348.9)"><g clip-path="url(#a1_7)"><use href="#p1_7" fill="none" stroke="#a9cae5" stroke-width="4"/><use href="#p1_7" fill="#fad5ae"/><g clip-path="url(#cp1_7)"><use href="#p1_7" fill="none" stroke="#e8b07b" stroke-width="16"/><use href="#p1_7" fill="none" stroke="#b9a892" stroke-width="10"/><use href="#p1_7" fill="none" stroke="#5f9dcd" stroke-width="5"/><path d="M5.9 84 10.1 83.8 14.3 83.2 18.4 81.3 22.6 79 26.8 76.4 31 73.9 35.2 72.1 39.3 70.6 43.5 69.2 47.7 68 51.9 67 56.1 66.1 60.2 65.3 64.4 64.7 68.6 64.2 72.8 63.7 77 63.4 81.1 63.1 85.3 62.9 89.5 62.6 93.7 62.3 97.9 62 102 61.7 106.2 61.5 110.4 61.2 114.6 61 118.8 60.7 122.9 60.5" fill="none" stroke="#d3e5ea" stroke-width="16" stroke-linejoin="round"/></g><path d="M34.7 0V84M93.7 0V84M108.7 0V84M0 62.6H128M0 41.6H128M0 20.6H128" stroke="#bdbdbd" stroke-width="1" fill="none"/><path d="M5.9 0V84M64.4 0V84M122.9 0V84" stroke="#008000" stroke-width="4.8" opacity="0.5"/><path d="M5.9 84 10.1 83.8 14.3 83.2 18.4 81.3 22.6 79 26.8 76.4 31 73.9 35.2 72.1 39.3 70.6 43.5 69.2 47.7 68 51.9 67 56.1 66.1 60.2 65.3 64.4 64.7 68.6 64.2 72.8 63.7 77 63.4 81.1 63.1 85.3 62.9 89.5 62.6 93.7 62.3 97.9 62 102 61.7 106.2 61.5 110.4 61.2 114.6 61 118.8 60.7 122.9 60.5" fill="none" stroke="#000" stroke-width="9" stroke-linejoin="round" stroke-linecap="square"/></g></g><path d="M1566.3 432.9v11M1581 432.9v11M1595.6 432.9v11M1624.8 432.9v11M1639.5 432.9v11M1654.1 432.9v11M1545.8 411.9h-11M1545.8 390.9h-11M1545.8 369.9h-11" stroke="#000" stroke-width="3.1"/><path d="M1551.7 432.9v19M1610.2 432.9v19M1668.7 432.9v19M1545.8 432.9h-18.5M1545.8 348.9h-18.5" stroke="#008000" stroke-width="3.8"/><rect x="1545.8" y="348.9" width="128" height="84" fill="none" stroke="#008000" stroke-width="6"/><g transform="translate(1725.2 348.9)"><g clip-path="url(#a1_8)"><use href="#p1_8" fill="none" stroke="#a9cae5" stroke-width="4"/><use href="#p1_8" fill="#fad5ae"/><g clip-path="url(#cp1_8)"><use href="#p1_8" fill="none" stroke="#e8b07b" stroke-width="16"/><use href="#p1_8" fill="none" stroke="#b9a892" stroke-width="10"/><use href="#p1_8" fill="none" stroke="#5f9dcd" stroke-width="5"/><path d="M5.9 84 10.1 83.7 14.3 82.7 18.4 80.2 22.6 76.9 26.8 73.1 31 69.7 35.2 67.7 39.3 66.4 43.5 65.4 47.7 64.7 51.9 64.1 56.1 63.5 60.2 63.1 64.4 62.6 68.6 62.1 72.8 61.6 77 61.1 81.1 60.6 85.3 60.1 89.5 59.6 93.7 59.2 97.9 58.8 102 58.3 106.2 57.9 110.4 57.5 114.6 57.1 118.8 56.7 122.9 56.3" fill="none" stroke="#d3e5ea" stroke-width="16" stroke-linejoin="round"/></g><path d="M35.3 0V84M49.3 0V84M79.3 0V84M108.3 0V84M0 62.6H128M0 41.6H128M0 20.6H128" stroke="#bdbdbd" stroke-width="1" fill="none"/><path d="M5.9 0V84M64.4 0V84M122.9 0V84" stroke="#008000" stroke-width="4.8" opacity="0.5"/><path d="M5.9 84 10.1 83.7 14.3 82.7 18.4 80.2 22.6 76.9 26.8 73.1 31 69.7 35.2 67.7 39.3 66.4 43.5 65.4 47.7 64.7 51.9 64.1 56.1 63.5 60.2 63.1 64.4 62.6 68.6 62.1 72.8 61.6 77 61.1 81.1 60.6 85.3 60.1 89.5 59.6 93.7 59.2 97.9 58.8 102 58.3 106.2 57.9 110.4 57.5 114.6 57.1 118.8 56.7 122.9 56.3" fill="none" stroke="#000" stroke-width="9" stroke-linejoin="round" stroke-linecap="square"/></g></g><path d="M1745.7 432.9v11M1760.4 432.9v11M1775 432.9v11M1804.2 432.9v11M1818.9 432.9v11M1833.5 432.9v11M1725.2 411.9h-11M1725.2 390.9h-11M1725.2 369.9h-11" stroke="#000" stroke-width="3.1"/><path d="M1731.1 432.9v19M1789.6 432.9v19M1848.1 432.9v19M1725.2 432.9h-18.5M1725.2 348.9h-18.5" stroke="#008000" stroke-width="3.8"/><rect x="1725.2" y="348.9" width="128" height="84" fill="none" stroke="#008000" stroke-width="6"/><g transform="translate(1904.6 348.9)"><g clip-path="url(#a1_9)"><use href="#p1_9" fill="none" stroke="#a9cae5" stroke-width="4"/><use href="#p1_9" fill="#fad5ae"/><g clip-path="url(#cp1_9)"><use href="#p1_9" fill="none" stroke="#e8b07b" stroke-width="16"/><use href="#p1_9" fill="none" stroke="#b9a892" stroke-width="10"/><use href="#p1_9" fill="none" stroke="#5f9dcd" stroke-width="5"/><path d="M5.9 84 10.1 83.8 14.3 83.2 18.4 81.4 22.6 79 26.8 76 31 73.1 35.2 71.1 39.3 69.7 43.5 68.7 47.7 68 51.9 67.4 56.1 66.7 60.2 66.2 64.4 65.5 68.6 64.8 72.8 64.1 77 63.4 81.1 62.7 85.3 62 89.5 61.3 93.7 60.7 97.9 60.2 102 59.6 106.2 59.1 110.4 58.6 114.6 58.1 118.8 57.6 122.9 57.1" fill="none" stroke="#d3e5ea" stroke-width="16" stroke-linejoin="round"/></g><path d="M20.9 0V84M49.9 0V84M93.9 0V84M0 62.6H128M0 41.6H128M0 20.6H128" stroke="#bdbdbd" stroke-width="1" fill="none"/><path d="M5.9 0V84M64.4 0V84M122.9 0V84" stroke="#008000" stroke-width="4.8" opacity="0.5"/><path d="M5.9 84 10.1 83.8 14.3 83.2 18.4 81.4 22.6 79 26.8 76 31 73.1 35.2 71.1 39.3 69.7 43.5 68.7 47.7 68 51.9 67.4 56.1 66.7 60.2 66.2 64.4 65.5 68.6 64.8 72.8 64.1 77 63.4 81.1 62.7 85.3 62 89.5 61.3 93.7 60.7 97.9 60.2 102 59.6 106.2 59.1 110.4 58.6 114.6 58.1 118.8 57.6 122.9 57.1" fill="none" stroke="#000" stroke-width="9" stroke-linejoin="round" stroke-linecap="square"/></g></g><path d="M1925.1 432.9v11M1939.8 432.9v11M1954.4 432.9v11M1983.6 432.9v11M1998.3 432.9v11M2012.9 432.9v11M1904.6 411.9h-11M1904.6 390.9h-11M1904.6 369.9h-11" stroke="#000" stroke-width="3.1"/><path d="M1910.5 432.9v19M1969 432.9v19M2027.5 432.9v19M1904.6 432.9h-18.5M1904.6 348.9h-18.5" stroke="#008000" stroke-width="3.8"/><rect x="1904.6" y="348.9" width="128" height="84" fill="none" stroke="#008000" stroke-width="6"/><g transform="translate(2084 348.9)"><g clip-path="url(#a1_10)"><use href="#p1_10" fill="none" stroke="#a9cae5" stroke-width="4"/><use href="#p1_10" fill="#fad5ae"/><g clip-path="url(#cp1_10)"><use href="#p1_10" fill="none" stroke="#e8b07b" stroke-width="16"/><use href="#p1_10" fill="none" stroke="#b9a892" stroke-width="10"/><use href="#p1_10" fill="none" stroke="#5f9dcd" stroke-width="5"/><path d="M5.9 84 10.1 83.3 14.3 82.3 18.4 80.3 22.6 78.1 26.8 76.3 31 74.8 35.2 73.9 39.3 73.1 43.5 71.8 47.7 70.6 51.9 69.7 56.1 69.1 60.2 68.6 64.4 68 68.6 67.5 72.8 67.1 77 66.7 81.1 66.3 85.3 65.9 89.5 65.5 93.7 65.1 97.9 64.8 102 64.4 106.2 64 110.4 63.7 114.6 63.3 118.8 62.9 122.9 62.6" fill="none" stroke="#d3e5ea" stroke-width="16" stroke-linejoin="round"/></g><path d="M20.5 0V84M35.5 0V84M79.5 0V84M108.5 0V84M0 62.6H128M0 41.6H128M0 20.6H128" stroke="#bdbdbd" stroke-width="1" fill="none"/><path d="M5.9 0V84M64.4 0V84M122.9 0V84" stroke="#0000ff" stroke-width="4.8" opacity="0.5"/><path d="M5.9 84 10.1 83.3 14.3 82.3 18.4 80.3 22.6 78.1 26.8 76.3 31 74.8 35.2 73.9 39.3 73.1 43.5 71.8 47.7 70.6 51.9 69.7 56.1 69.1 60.2 68.6 64.4 68 68.6 67.5 72.8 67.1 77 66.7 81.1 66.3 85.3 65.9 89.5 65.5 93.7 65.1 97.9 64.8 102 64.4 106.2 64 110.4 63.7 114.6 63.3 118.8 62.9 122.9 62.6" fill="none" stroke="#000" stroke-width="9" stroke-linejoin="round" stroke-linecap="square"/></g></g><path d="M2104.5 432.9v11M2119.2 432.9v11M2133.8 432.9v11M2163 432.9v11M2177.7 432.9v11M2192.3 432.9v11M2084 411.9h-11M2084 390.9h-11M2084 369.9h-11" stroke="#000" stroke-width="3.1"/><path d="M2089.9 432.9v19M2148.4 432.9v19M2206.9 432.9v19M2084 432.9h-18.5M2084 348.9h-18.5" stroke="#0000ff" stroke-width="3.8"/><rect x="2084" y="348.9" width="128" height="84" fill="none" stroke="#0000ff" stroke-width="6"/><text transform="translate(2231 389.9) rotate(90)" text-anchor="middle">0.02</text><g transform="translate(290 466.8)"><g clip-path="url(#a2_0)"><use href="#p2_0" fill="none" stroke="#a9cae5" stroke-width="4"/><use href="#p2_0" fill="#fad5ae"/><g clip-path="url(#cp2_0)"><use href="#p2_0" fill="none" stroke="#e8b07b" stroke-width="16"/><use href="#p2_0" fill="none" stroke="#b9a892" stroke-width="10"/><use href="#p2_0" fill="none" stroke="#5f9dcd" stroke-width="5"/><path d="M5.9 84 10.1 83.4 14.3 82.3 18.4 79.5 22.6 76.4 26.8 74.2 31 72.2 35.2 70.7 39.3 69.3 43.5 68 47.7 66.8 51.9 65.4 56.1 64 60.2 62.7 64.4 61.7 68.6 61.1 72.8 60.7 77 60.4 81.1 60.2 85.3 60 89.5 59.6 93.7 59.2 97.9 58.8 102 58.4 106.2 58 110.4 57.6 114.6 57.1 118.8 56.7 122.9 56.3" fill="none" stroke="#d3e5ea" stroke-width="16" stroke-linejoin="round"/></g><path d="M20.5 0V84M49.5 0V84M93.5 0V84" stroke="#bdbdbd" stroke-width="1" fill="none"/><path d="M5.9 0V84M64.4 0V84M122.9 0V84" stroke="#008000" stroke-width="4.8" opacity="0.5"/><path d="M5.9 84 10.1 83.4 14.3 82.3 18.4 79.5 22.6 76.4 26.8 74.2 31 72.2 35.2 70.7 39.3 69.3 43.5 68 47.7 66.8 51.9 65.4 56.1 64 60.2 62.7 64.4 61.7 68.6 61.1 72.8 60.7 77 60.4 81.1 60.2 85.3 60 89.5 59.6 93.7 59.2 97.9 58.8 102 58.4 106.2 58 110.4 57.6 114.6 57.1 118.8 56.7 122.9 56.3" fill="none" stroke="#000" stroke-width="9" stroke-linejoin="round" stroke-linecap="square"/></g></g><path d="M310.5 550.8v11M325.2 550.8v11M339.8 550.8v11M369 550.8v11M383.7 550.8v11M398.3 550.8v11M290 529.8h-11M290 508.8h-11M290 487.8h-11" stroke="#000" stroke-width="3.1"/><path d="M295.9 550.8v19M354.4 550.8v19M412.9 550.8v19M290 550.8h-18.5M290 466.8h-18.5" stroke="#008000" stroke-width="3.8"/><rect x="290" y="466.8" width="128" height="84" fill="none" stroke="#008000" stroke-width="6"/><text x="252" y="484.7" text-anchor="end">900</text><text x="252" y="569" text-anchor="end">0</text><g transform="translate(469.4 466.8)"><g clip-path="url(#a2_1)"><use href="#p2_1" fill="none" stroke="#a9cae5" stroke-width="4"/><use href="#p2_1" fill="#fad5ae"/><g clip-path="url(#cp2_1)"><use href="#p2_1" fill="none" stroke="#e8b07b" stroke-width="16"/><use href="#p2_1" fill="none" stroke="#b9a892" stroke-width="10"/><use href="#p2_1" fill="none" stroke="#5f9dcd" stroke-width="5"/><path d="M5.9 84 10.1 83.4 14.3 82.3 18.4 80 22.6 77.3 26.8 74.7 31 72.2 35.2 70.4 39.3 68.9 43.5 67.8 47.7 66.8 51.9 65.7 56.1 64.5 60.2 63.5 64.4 62.6 68.6 61.9 72.8 61.4 77 60.9 81.1 60.5 85.3 60.1 89.5 59.6 93.7 59.1 97.9 58.6 102 58.1 106.2 57.6 110.4 57 114.6 56.5 118.8 56 122.9 55.4" fill="none" stroke="#d3e5ea" stroke-width="16" stroke-linejoin="round"/></g><path d="M20.1 0V84M35.1 0V84M79.1 0V84M108.1 0V84" stroke="#bdbdbd" stroke-width="1" fill="none"/><path d="M5.9 0V84M64.4 0V84M122.9 0V84" stroke="#008000" stroke-width="4.8" opacity="0.5"/><path d="M5.9 84 10.1 83.4 14.3 82.3 18.4 80 22.6 77.3 26.8 74.7 31 72.2 35.2 70.4 39.3 68.9 43.5 67.8 47.7 66.8 51.9 65.7 56.1 64.5 60.2 63.5 64.4 62.6 68.6 61.9 72.8 61.4 77 60.9 81.1 60.5 85.3 60.1 89.5 59.6 93.7 59.1 97.9 58.6 102 58.1 106.2 57.6 110.4 57 114.6 56.5 118.8 56 122.9 55.4" fill="none" stroke="#000" stroke-width="9" stroke-linejoin="round" stroke-linecap="square"/></g></g><path d="M489.9 550.8v11M504.6 550.8v11M519.2 550.8v11M548.4 550.8v11M563.1 550.8v11M577.7 550.8v11M469.4 529.8h-11M469.4 508.8h-11M469.4 487.8h-11" stroke="#000" stroke-width="3.1"/><path d="M475.3 550.8v19M533.8 550.8v19M592.3 550.8v19M469.4 550.8h-18.5M469.4 466.8h-18.5" stroke="#008000" stroke-width="3.8"/><rect x="469.4" y="466.8" width="128" height="84" fill="none" stroke="#008000" stroke-width="6"/><g transform="translate(648.8 466.8)"><g clip-path="url(#a2_2)"><use href="#p2_2" fill="none" stroke="#a9cae5" stroke-width="4"/><use href="#p2_2" fill="#fad5ae"/><g clip-path="url(#cp2_2)"><use href="#p2_2" fill="none" stroke="#e8b07b" stroke-width="16"/><use href="#p2_2" fill="none" stroke="#b9a892" stroke-width="10"/><use href="#p2_2" fill="none" stroke="#5f9dcd" stroke-width="5"/><path d="M5.9 84 10.1 83.5 14.3 82.7 18.4 81.1 22.6 79 26.8 76.4 31 73.9 35.2 71.9 39.3 70.1 43.5 68.3 47.7 66.8 51.9 65.7 56.1 64.9 60.2 64.3 64.4 63.8 68.6 63.4 72.8 63.2 77 63 81.1 62.9 85.3 62.8 89.5 62.6 93.7 62.4 97.9 62.2 102 62 106.2 61.7 110.4 61.5 114.6 61.3 118.8 61.1 122.9 60.9" fill="none" stroke="#d3e5ea" stroke-width="16" stroke-linejoin="round"/></g><path d="M34.7 0V84M49.7 0V84M78.7 0V84M93.7 0V84" stroke="#bdbdbd" stroke-width="1" fill="none"/><path d="M5.9 0V84M64.4 0V84M122.9 0V84" stroke="#008000" stroke-width="4.8" opacity="0.5"/><path d="M5.9 84 10.1 83.5 14.3 82.7 18.4 81.1 22.6 79 26.8 76.4 31 73.9 35.2 71.9 39.3 70.1 43.5 68.3 47.7 66.8 51.9 65.7 56.1 64.9 60.2 64.3 64.4 63.8 68.6 63.4 72.8 63.2 77 63 81.1 62.9 85.3 62.8 89.5 62.6 93.7 62.4 97.9 62.2 102 62 106.2 61.7 110.4 61.5 114.6 61.3 118.8 61.1 122.9 60.9" fill="none" stroke="#000" stroke-width="9" stroke-linejoin="round" stroke-linecap="square"/></g></g><path d="M669.3 550.8v11M684 550.8v11M698.6 550.8v11M727.8 550.8v11M742.5 550.8v11M757.1 550.8v11M648.8 529.8h-11M648.8 508.8h-11M648.8 487.8h-11" stroke="#000" stroke-width="3.1"/><path d="M654.7 550.8v19M713.2 550.8v19M771.7 550.8v19M648.8 550.8h-18.5M648.8 466.8h-18.5" stroke="#008000" stroke-width="3.8"/><rect x="648.8" y="466.8" width="128" height="84" fill="none" stroke="#008000" stroke-width="6"/><g transform="translate(828.2 466.8)"><g clip-path="url(#a2_3)"><use href="#p2_3" fill="none" stroke="#a9cae5" stroke-width="4"/><use href="#p2_3" fill="#fad5ae"/><g clip-path="url(#cp2_3)"><use href="#p2_3" fill="none" stroke="#e8b07b" stroke-width="16"/><use href="#p2_3" fill="none" stroke="#b9a892" stroke-width="10"/><use href="#p2_3" fill="none" stroke="#5f9dcd" stroke-width="5"/><path d="M5.9 84 10.1 83.5 14.3 82.7 18.4 81 22.6 79 26.8 76.9 31 74.8 35.2 72.8 39.3 71 43.5 69.4 47.7 68 51.9 66.8 56.1 65.7 60.2 64.7 64.4 63.8 68.6 63.2 72.8 62.8 77 62.5 81.1 62.2 85.3 62 89.5 61.7 93.7 61.4 97.9 61.2 102 60.9 106.2 60.6 110.4 60.4 114.6 60.1 118.8 59.9 122.9 59.6" fill="none" stroke="#d3e5ea" stroke-width="16" stroke-linejoin="round"/></g><path d="M20.3 0V84M49.3 0V84M93.3 0V84" stroke="#bdbdbd" stroke-width="1" fill="none"/><path d="M5.9 0V84M64.4 0V84M122.9 0V84" stroke="#008000" stroke-width="4.8" opacity="0.5"/><path d="M5.9 84 10.1 83.5 14.3 82.7 18.4 81 22.6 79 26.8 76.9 31 74.8 35.2 72.8 39.3 71 43.5 69.4 47.7 68 51.9 66.8 56.1 65.7 60.2 64.7 64.4 63.8 68.6 63.2 72.8 62.8 77 62.5 81.1 62.2 85.3 62 89.5 61.7 93.7 61.4 97.9 61.2 102 60.9 106.2 60.6 110.4 60.4 114.6 60.1 118.8 59.9 122.9 59.6" fill="none" stroke="#000" stroke-width="9" stroke-linejoin="round" stroke-linecap="square"/></g></g><path d="M848.7 550.8v11M863.4 550.8v11M878 550.8v11M907.2 550.8v11M921.9 550.8v11M936.5 550.8v11M828.2 529.8h-11M828.2 508.8h-11M828.2 487.8h-11" stroke="#000" stroke-width="3.1"/><path d="M834.1 550.8v19M892.6 550.8v19M951.1 550.8v19M828.2 550.8h-18.5M828.2 466.8h-18.5" stroke="#008000" stroke-width="3.8"/><rect x="828.2" y="466.8" width="128" height="84" fill="none" stroke="#008000" stroke-width="6"/><g transform="translate(1007.6 466.8)"><g clip-path="url(#a2_4)"><use href="#p2_4" fill="none" stroke="#a9cae5" stroke-width="4"/><use href="#p2_4" fill="#fad5ae"/><g clip-path="url(#cp2_4)"><use href="#p2_4" fill="none" stroke="#e8b07b" stroke-width="16"/><use href="#p2_4" fill="none" stroke="#b9a892" stroke-width="10"/><use href="#p2_4" fill="none" stroke="#5f9dcd" stroke-width="5"/><path d="M5.9 84 10.1 83.3 14.3 82.3 18.4 80.6 22.6 78.1 26.8 74 31 70.1 35.2 68.7 39.3 68 43.5 67 47.7 65.9 51.9 65 56.1 64.2 60.2 63.3 64.4 62.6 68.6 61.9 72.8 61.2 77 60.6 81.1 60 85.3 59.4 89.5 58.8 93.7 58.2 97.9 57.5 102 56.9 106.2 56.3 110.4 55.6 114.6 55 118.8 54.4 122.9 53.8" fill="none" stroke="#d3e5ea" stroke-width="16" stroke-linejoin="round"/></g><path d="M34.9 0V84M78.9 0V84M93.9 0V84M107.9 0V84" stroke="#bdbdbd" stroke-width="1" fill="none"/><path d="M5.9 0V84M64.4 0V84M122.9 0V84" stroke="#008000" stroke-width="4.8" opacity="0.5"/><path d="M5.9 84 10.1 83.3 14.3 82.3 18.4 80.6 22.6 78.1 26.8 74 31 70.1 35.2 68.7 39.3 68 43.5 67 47.7 65.9 51.9 65 56.1 64.2 60.2 63.3 64.4 62.6 68.6 61.9 72.8 61.2 77 60.6 81.1 60 85.3 59.4 89.5 58.8 93.7 58.2 97.9 57.5 102 56.9 106.2 56.3 110.4 55.6 114.6 55 118.8 54.4 122.9 53.8" fill="none" stroke="#000" stroke-width="9" stroke-linejoin="round" stroke-linecap="square"/></g></g><path d="M1028.1 550.8v11M1042.8 550.8v11M1057.4 550.8v11M1086.6 550.8v11M1101.3 550.8v11M1115.9 550.8v11M1007.6 529.8h-11M1007.6 508.8h-11M1007.6 487.8h-11" stroke="#000" stroke-width="3.1"/><path d="M1013.5 550.8v19M1072 550.8v19M1130.5 550.8v19M1007.6 550.8h-18.5M1007.6 466.8h-18.5" stroke="#008000" stroke-width="3.8"/><rect x="1007.6" y="466.8" width="128" height="84" fill="none" stroke="#008000" stroke-width="6"/><g transform="translate(1187 466.8)"><g clip-path="url(#a2_5)"><use href="#p2_5" fill="none" stroke="#a9cae5" stroke-width="4"/><use href="#p2_5" fill="#fad5ae"/><g clip-path="url(#cp2_5)"><use href="#p2_5" fill="none" stroke="#e8b07b" stroke-width="16"/><use href="#p2_5" fill="none" stroke="#b9a892" stroke-width="10"/><use href="#p2_5" fill="none" stroke="#5f9dcd" stroke-width="5"/><path d="M5.9 84 10.1 83.6 14.3 82.7 18.4 80.6 22.6 78.1 26.8 76.2 31 74.3 35.2 72.2 39.3 70.1 43.5 68.6 47.7 67.2 51.9 65.9 56.1 64.7 60.2 63.6 64.4 62.6 68.6 61.7 72.8 60.8 77 60.1 81.1 59.4 85.3 58.7 89.5 58 93.7 57.3 97.9 56.6 102 56 106.2 55.4 110.4 54.8 114.6 54.2 118.8 53.5 122.9 52.9" fill="none" stroke="#d3e5ea" stroke-width="16" stroke-linejoin="round"/></g><path d="M20.5 0V84M49.5 0V84M79.5 0V84M108.5 0V84" stroke="#bdbdbd" stroke-width="1" fill="none"/><path d="M5.9 0V84M64.4 0V84M122.9 0V84" stroke="#0000ff" stroke-width="4.8" opacity="0.5"/><path d="M5.9 84 10.1 83.6 14.3 82.7 18.4 80.6 22.6 78.1 26.8 76.2 31 74.3 35.2 72.2 39.3 70.1 43.5 68.6 47.7 67.2 51.9 65.9 56.1 64.7 60.2 63.6 64.4 62.6 68.6 61.7 72.8 60.8 77 60.1 81.1 59.4 85.3 58.7 89.5 58 93.7 57.3 97.9 56.6 102 56 106.2 55.4 110.4 54.8 114.6 54.2 118.8 53.5 122.9 52.9" fill="none" stroke="#000" stroke-width="9" stroke-linejoin="round" stroke-linecap="square"/></g></g><path d="M1207.5 550.8v11M1222.2 550.8v11M1236.8 550.8v11M1266 550.8v11M1280.7 550.8v11M1295.3 550.8v11M1187 529.8h-11M1187 508.8h-11M1187 487.8h-11" stroke="#000" stroke-width="3.1"/><path d="M1192.9 550.8v19M1251.4 550.8v19M1309.9 550.8v19M1187 550.8h-18.5M1187 466.8h-18.5" stroke="#0000ff" stroke-width="3.8"/><rect x="1187" y="466.8" width="128" height="84" fill="none" stroke="#0000ff" stroke-width="6"/><g transform="translate(1366.4 466.8)"><g clip-path="url(#a2_6)"><use href="#p2_6" fill="none" stroke="#a9cae5" stroke-width="4"/><use href="#p2_6" fill="#fad5ae"/><g clip-path="url(#cp2_6)"><use href="#p2_6" fill="none" stroke="#e8b07b" stroke-width="16"/><use href="#p2_6" fill="none" stroke="#b9a892" stroke-width="10"/><use href="#p2_6" fill="none" stroke="#5f9dcd" stroke-width="5"/><path d="M5.9 84 10.1 83.6 14.3 82.7 18.4 80.8 22.6 78.4 26.8 75.9 31 73.5 35.2 71.6 39.3 70.1 43.5 69 47.7 68 51.9 67.1 56.1 66.2 60.2 65.4 64.4 64.7 68.6 64.1 72.8 63.6 77 63.2 81.1 62.9 85.3 62.5 89.5 62.2 93.7 61.8 97.9 61.5 102 61.2 106.2 60.8 110.4 60.5 114.6 60.3 118.8 59.9 122.9 59.6" fill="none" stroke="#d3e5ea" stroke-width="16" stroke-linejoin="round"/></g><path d="M20.1 0V84M35.1 0V84M50.1 0V84M79.1 0V84M94.1 0V84" stroke="#bdbdbd" stroke-width="1" fill="none"/><path d="M5.9 0V84M64.4 0V84M122.9 0V84" stroke="#008000" stroke-width="4.8" opacity="0.5"/><path d="M5.9 84 10.1 83.6 14.3 82.7 18.4 80.8 22.6 78.4 26.8 75.9 31 73.5 35.2 71.6 39.3 70.1 43.5 69 47.7 68 51.9 67.1 56.1 66.2 60.2 65.4 64.4 64.7 68.6 64.1 72.8 63.6 77 63.2 81.1 62.9 85.3 62.5 89.5 62.2 93.7 61.8 97.9 61.5 102 61.2 106.2 60.8 110.4 60.5 114.6 60.3 118.8 59.9 122.9 59.6" fill="none" stroke="#000" stroke-width="9" stroke-linejoin="round" stroke-linecap="square"/></g></g><path d="M1386.9 550.8v11M1401.6 550.8v11M1416.2 550.8v11M1445.4 550.8v11M1460.1 550.8v11M1474.7 550.8v11M1366.4 529.8h-11M1366.4 508.8h-11M1366.4 487.8h-11" stroke="#000" stroke-width="3.1"/><path d="M1372.3 550.8v19M1430.8 550.8v19M1489.3 550.8v19M1366.4 550.8h-18.5M1366.4 466.8h-18.5" stroke="#008000" stroke-width="3.8"/><rect x="1366.4" y="466.8" width="128" height="84" fill="none" stroke="#008000" stroke-width="6"/><g transform="translate(1545.8 466.8)"><g clip-path="url(#a2_7)"><use href="#p2_7" fill="none" stroke="#a9cae5" stroke-width="4"/><use href="#p2_7" fill="#fad5ae"/><g clip-path="url(#cp2_7)"><use href="#p2_7" fill="none" stroke="#e8b07b" stroke-width="16"/><use href="#p2_7" fill="none" stroke="#b9a892" stroke-width="10"/><use href="#p2_7" fill="none" stroke="#5f9dcd" stroke-width="5"/><path d="M5.9 84 10.1 83.5 14.3 82.7 18.4 81.6 22.6 79.8 26.8 76.6 31 73.1 35.2 70.3 39.3 68 43.5 66.6 47.7 65.5 51.9 64.4 56.1 63.3 60.2 62.3 64.4 61.3 68.6 60.5 72.8 59.7 77 59 81.1 58.4 85.3 57.7 89.5 57.1 93.7 56.5 97.9 56 102 55.4 106.2 54.9 110.4 54.4 114.6 53.9 118.8 53.4 122.9 52.9" fill="none" stroke="#d3e5ea" stroke-width="16" stroke-linejoin="round"/></g><path d="M34.7 0V84M93.7 0V84M108.7 0V84" stroke="#bdbdbd" stroke-width="1" fill="none"/><path d="M5.9 0V84M64.4 0V84M122.9 0V84" stroke="#0000ff" stroke-width="4.8" opacity="0.5"/><path d="M5.9 84 10.1 83.5 14.3 82.7 18.4 81.6 22.6 79.8 26.8 76.6 31 73.1 35.2 70.3 39.3 68 43.5 66.6 47.7 65.5 51.9 64.4 56.1 63.3 60.2 62.3 64.4 61.3 68.6 60.5 72.8 59.7 77 59 81.1 58.4 85.3 57.7 89.5 57.1 93.7 56.5 97.9 56 102 55.4 106.2 54.9 110.4 54.4 114.6 53.9 118.8 53.4 122.9 52.9" fill="none" stroke="#000" stroke-width="9" stroke-linejoin="round" stroke-linecap="square"/></g></g><path d="M1566.3 550.8v11M1581 550.8v11M1595.6 550.8v11M1624.8 550.8v11M1639.5 550.8v11M1654.1 550.8v11M1545.8 529.8h-11M1545.8 508.8h-11M1545.8 487.8h-11" stroke="#000" stroke-width="3.1"/><path d="M1551.7 550.8v19M1610.2 550.8v19M1668.7 550.8v19M1545.8 550.8h-18.5M1545.8 466.8h-18.5" stroke="#0000ff" stroke-width="3.8"/><rect x="1545.8" y="466.8" width="128" height="84" fill="none" stroke="#0000ff" stroke-width="6"/><g transform="translate(1725.2 466.8)"><g clip-path="url(#a2_8)"><use href="#p2_8" fill="none" stroke="#a9cae5" stroke-width="4"/><use href="#p2_8" fill="#fad5ae"/><g clip-path="url(#cp2_8)"><use href="#p2_8" fill="none" stroke="#e8b07b" stroke-width="16"/><use href="#p2_8" fill="none" stroke="#b9a892" stroke-width="10"/><use href="#p2_8" fill="none" stroke="#5f9dcd" stroke-width="5"/><path d="M5.9 84 10.1 83.6 14.3 82.7 18.4 81 22.6 78.4 26.8 74.4 31 70.1 35.2 66.7 39.3 63.8 43.5 61.5 47.7 59.6 51.9 58.1 56.1 56.8 60.2 55.7 64.4 54.6 68.6 53.6 72.8 52.7 77 51.8 81.1 51.1 85.3 50.3 89.5 49.6 93.7 48.8 97.9 48.2 102 47.5 106.2 46.9 110.4 46.3 114.6 45.7 118.8 45.1 122.9 44.5" fill="none" stroke="#d3e5ea" stroke-width="16" stroke-linejoin="round"/></g><path d="M35.3 0V84M49.3 0V84M79.3 0V84M108.3 0V84" stroke="#bdbdbd" stroke-width="1" fill="none"/><path d="M5.9 0V84M64.4 0V84M122.9 0V84" stroke="#0000ff" stroke-width="4.8" opacity="0.5"/><path d="M5.9 84 10.1 83.6 14.3 82.7 18.4 81 22.6 78.4 26.8 74.4 31 70.1 35.2 66.7 39.3 63.8 43.5 61.5 47.7 59.6 51.9 58.1 56.1 56.8 60.2 55.7 64.4 54.6 68.6 53.6 72.8 52.7 77 51.8 81.1 51.1 85.3 50.3 89.5 49.6 93.7 48.8 97.9 48.2 102 47.5 106.2 46.9 110.4 46.3 114.6 45.7 118.8 45.1 122.9 44.5" fill="none" stroke="#000" stroke-width="9" stroke-linejoin="round" stroke-linecap="square"/></g></g><path d="M1745.7 550.8v11M1760.4 550.8v11M1775 550.8v11M1804.2 550.8v11M1818.9 550.8v11M1833.5 550.8v11M1725.2 529.8h-11M1725.2 508.8h-11M1725.2 487.8h-11" stroke="#000" stroke-width="3.1"/><path d="M1731.1 550.8v19M1789.6 550.8v19M1848.1 550.8v19M1725.2 550.8h-18.5M1725.2 466.8h-18.5" stroke="#0000ff" stroke-width="3.8"/><rect x="1725.2" y="466.8" width="128" height="84" fill="none" stroke="#0000ff" stroke-width="6"/><g transform="translate(1904.6 466.8)"><g clip-path="url(#a2_9)"><use href="#p2_9" fill="none" stroke="#a9cae5" stroke-width="4"/><use href="#p2_9" fill="#fad5ae"/><g clip-path="url(#cp2_9)"><use href="#p2_9" fill="none" stroke="#e8b07b" stroke-width="16"/><use href="#p2_9" fill="none" stroke="#b9a892" stroke-width="10"/><use href="#p2_9" fill="none" stroke="#5f9dcd" stroke-width="5"/><path d="M5.9 84 10.1 83.4 14.3 82.7 18.4 81.9 22.6 80.6 26.8 78.3 31 75.6 35.2 72.8 39.3 70.1 43.5 68 47.7 66.4 51.9 65 56.1 63.9 60.2 63 64.4 62.2 68.6 61.5 72.8 61.1 77 60.7 81.1 60.4 85.3 60.1 89.5 59.6 93.7 59.2 97.9 58.6 102 58.1 106.2 57.6 110.4 57.1 114.6 56.5 118.8 56 122.9 55.4" fill="none" stroke="#d3e5ea" stroke-width="16" stroke-linejoin="round"/></g><path d="M20.9 0V84M49.9 0V84M93.9 0V84" stroke="#bdbdbd" stroke-width="1" fill="none"/><path d="M5.9 0V84M64.4 0V84M122.9 0V84" stroke="#0000ff" stroke-width="4.8" opacity="0.5"/><path d="M5.9 84 10.1 83.4 14.3 82.7 18.4 81.9 22.6 80.6 26.8 78.3 31 75.6 35.2 72.8 39.3 70.1 43.5 68 47.7 66.4 51.9 65 56.1 63.9 60.2 63 64.4 62.2 68.6 61.5 72.8 61.1 77 60.7 81.1 60.4 85.3 60.1 89.5 59.6 93.7 59.2 97.9 58.6 102 58.1 106.2 57.6 110.4 57.1 114.6 56.5 118.8 56 122.9 55.4" fill="none" stroke="#000" stroke-width="9" stroke-linejoin="round" stroke-linecap="square"/></g></g><path d="M1925.1 550.8v11M1939.8 550.8v11M1954.4 550.8v11M1983.6 550.8v11M1998.3 550.8v11M2012.9 550.8v11M1904.6 529.8h-11M1904.6 508.8h-11M1904.6 487.8h-11" stroke="#000" stroke-width="3.1"/><path d="M1910.5 550.8v19M1969 550.8v19M2027.5 550.8v19M1904.6 550.8h-18.5M1904.6 466.8h-18.5" stroke="#0000ff" stroke-width="3.8"/><rect x="1904.6" y="466.8" width="128" height="84" fill="none" stroke="#0000ff" stroke-width="6"/><g transform="translate(2084 466.8)"><g clip-path="url(#a2_10)"><use href="#p2_10" fill="none" stroke="#a9cae5" stroke-width="4"/><use href="#p2_10" fill="#fad5ae"/><g clip-path="url(#cp2_10)"><use href="#p2_10" fill="none" stroke="#e8b07b" stroke-width="16"/><use href="#p2_10" fill="none" stroke="#b9a892" stroke-width="10"/><use href="#p2_10" fill="none" stroke="#5f9dcd" stroke-width="5"/><path d="M5.9 84 10.1 83.7 14.3 82.7 18.4 80 22.6 76.4 26.8 72.7 31 69.3 35.2 67.2 39.3 65.5 43.5 63.7 47.7 62.2 51.9 60.9 56.1 59.8 60.2 58.9 64.4 58 68.6 57.1 72.8 56.4 77 55.7 81.1 55 85.3 54.4 89.5 53.8 93.7 53.2 97.9 52.6 102 52.1 106.2 51.6 110.4 51.1 114.6 50.6 118.8 50.1 122.9 49.6" fill="none" stroke="#d3e5ea" stroke-width="16" stroke-linejoin="round"/></g><path d="M20.5 0V84M35.5 0V84M79.5 0V84M108.5 0V84" stroke="#bdbdbd" stroke-width="1" fill="none"/><path d="M5.9 0V84M64.4 0V84M122.9 0V84" stroke="#0000ff" stroke-width="4.8" opacity="0.5"/><path d="M5.9 84 10.1 83.7 14.3 82.7 18.4 80 22.6 76.4 26.8 72.7 31 69.3 35.2 67.2 39.3 65.5 43.5 63.7 47.7 62.2 51.9 60.9 56.1 59.8 60.2 58.9 64.4 58 68.6 57.1 72.8 56.4 77 55.7 81.1 55 85.3 54.4 89.5 53.8 93.7 53.2 97.9 52.6 102 52.1 106.2 51.6 110.4 51.1 114.6 50.6 118.8 50.1 122.9 49.6" fill="none" stroke="#000" stroke-width="9" stroke-linejoin="round" stroke-linecap="square"/></g></g><path d="M2104.5 550.8v11M2119.2 550.8v11M2133.8 550.8v11M2163 550.8v11M2177.7 550.8v11M2192.3 550.8v11M2084 529.8h-11M2084 508.8h-11M2084 487.8h-11" stroke="#000" stroke-width="3.1"/><path d="M2089.9 550.8v19M2148.4 550.8v19M2206.9 550.8v19M2084 550.8h-18.5M2084 466.8h-18.5" stroke="#0000ff" stroke-width="3.8"/><rect x="2084" y="466.8" width="128" height="84" fill="none" stroke="#0000ff" stroke-width="6"/><text transform="translate(2231 507.8) rotate(90)" text-anchor="middle">0.03</text><g transform="translate(290 584.7)"><g clip-path="url(#a3_0)"><use href="#p3_0" fill="none" stroke="#a9cae5" stroke-width="4"/><use href="#p3_0" fill="#fad5ae"/><g clip-path="url(#cp3_0)"><use href="#p3_0" fill="none" stroke="#e8b07b" stroke-width="16"/><use href="#p3_0" fill="none" stroke="#b9a892" stroke-width="10"/><use href="#p3_0" fill="none" stroke="#5f9dcd" stroke-width="5"/><path d="M5.9 84 10.1 83.6 14.3 82.7 18.4 80.5 22.6 77.7 26.8 74.8 31 72.2 35.2 70.8 39.3 69.7 43.5 68 47.7 66.4 51.9 65.3 56.1 64.6 60.2 64 64.4 63.4 68.6 62.8 72.8 62.2 77 61.6 81.1 61.1 85.3 60.5 89.5 60.1 93.7 59.6 97.9 59.2 102 58.8 106.2 58.5 110.4 58.2 114.6 57.8 118.8 57.5 122.9 57.1" fill="none" stroke="#d3e5ea" stroke-width="16" stroke-linejoin="round"/></g><path d="M20.5 0V84M49.5 0V84M93.5 0V84M0 62.8H128M0 41.8H128M0 20.8H128" stroke="#bdbdbd" stroke-width="1" fill="none"/><path d="M5.9 0V84M64.4 0V84M122.9 0V84" stroke="#008000" stroke-width="4.8" opacity="0.5"/><path d="M5.9 84 10.1 83.6 14.3 82.7 18.4 80.5 22.6 77.7 26.8 74.8 31 72.2 35.2 70.8 39.3 69.7 43.5 68 47.7 66.4 51.9 65.3 56.1 64.6 60.2 64 64.4 63.4 68.6 62.8 72.8 62.2 77 61.6 81.1 61.1 85.3 60.5 89.5 60.1 93.7 59.6 97.9 59.2 102 58.8 106.2 58.5 110.4 58.2 114.6 57.8 118.8 57.5 122.9 57.1" fill="none" stroke="#000" stroke-width="9" stroke-linejoin="round" stroke-linecap="square"/></g></g><path d="M310.5 668.7v11M325.2 668.7v11M339.8 668.7v11M369 668.7v11M383.7 668.7v11M398.3 668.7v11M290 647.7h-11M290 626.7h-11M290 605.7h-11" stroke="#000" stroke-width="3.1"/><path d="M295.9 668.7v19M354.4 668.7v19M412.9 668.7v19M290 668.7h-18.5M290 584.7h-18.5" stroke="#008000" stroke-width="3.8"/><rect x="290" y="584.7" width="128" height="84" fill="none" stroke="#008000" stroke-width="6"/><text x="252" y="602.6" text-anchor="end">900</text><text x="252" y="686.9" text-anchor="end">0</text><g transform="translate(469.4 584.7)"><g clip-path="url(#a3_1)"><use href="#p3_1" fill="none" stroke="#a9cae5" stroke-width="4"/><use href="#p3_1" fill="#fad5ae"/><g clip-path="url(#cp3_1)"><use href="#p3_1" fill="none" stroke="#e8b07b" stroke-width="16"/><use href="#p3_1" fill="none" stroke="#b9a892" stroke-width="10"/><use href="#p3_1" fill="none" stroke="#5f9dcd" stroke-width="5"/><path d="M5.9 84 10.1 83.7 14.3 83.2 18.4 81.7 22.6 79.8 26.8 77.3 31 74.8 35.2 73 39.3 71.4 43.5 69.6 47.7 68 51.9 66.9 56.1 65.9 60.2 65 64.4 64.3 68.6 63.5 72.8 62.8 77 62.2 81.1 61.6 85.3 61.1 89.5 60.5 93.7 59.9 97.9 59.3 102 58.7 106.2 58.1 110.4 57.6 114.6 57 118.8 56.4 122.9 55.9" fill="none" stroke="#d3e5ea" stroke-width="16" stroke-linejoin="round"/></g><path d="M20.1 0V84M35.1 0V84M79.1 0V84M108.1 0V84M0 62.8H128M0 41.8H128M0 20.8H128" stroke="#bdbdbd" stroke-width="1" fill="none"/><path d="M5.9 0V84M64.4 0V84M122.9 0V84" stroke="#008000" stroke-width="4.8" opacity="0.5"/><path d="M5.9 84 10.1 83.7 14.3 83.2 18.4 81.7 22.6 79.8 26.8 77.3 31 74.8 35.2 73 39.3 71.4 43.5 69.6 47.7 68 51.9 66.9 56.1 65.9 60.2 65 64.4 64.3 68.6 63.5 72.8 62.8 77 62.2 81.1 61.6 85.3 61.1 89.5 60.5 93.7 59.9 97.9 59.3 102 58.7 106.2 58.1 110.4 57.6 114.6 57 118.8 56.4 122.9 55.9" fill="none" stroke="#000" stroke-width="9" stroke-linejoin="round" stroke-linecap="square"/></g></g><path d="M489.9 668.7v11M504.6 668.7v11M519.2 668.7v11M548.4 668.7v11M563.1 668.7v11M577.7 668.7v11M469.4 647.7h-11M469.4 626.7h-11M469.4 605.7h-11" stroke="#000" stroke-width="3.1"/><path d="M475.3 668.7v19M533.8 668.7v19M592.3 668.7v19M469.4 668.7h-18.5M469.4 584.7h-18.5" stroke="#008000" stroke-width="3.8"/><rect x="469.4" y="584.7" width="128" height="84" fill="none" stroke="#008000" stroke-width="6"/><g transform="translate(648.8 584.7)"><g clip-path="url(#a3_2)"><use href="#p3_2" fill="none" stroke="#a9cae5" stroke-width="4"/><use href="#p3_2" fill="#98bedf"/><use href="#p3_2" fill="none" stroke="#5f9dcd" stroke-width="5" clip-path="url(#cp3_2)"/><use href="#q3_2" fill="none" stroke="#b9a892" stroke-width="5"/><use href="#q3_2" fill="#fad5ae"/><g clip-path="url(#cq3_2)"><use href="#q3_2" fill="none" stroke="#e8b07b" stroke-width="6"/><path d="M5.9 84 10.1 83.8 14.3 83.2 18.4 80.9 22.6 77.7 26.8 74.6 31 71.4 35.2 68.3 39.3 65.5 43.5 63.6 47.7 62.2 51.9 61 56.1 60 60.2 59.1 64.4 58.4 68.6 57.7 72.8 57.1 77 56.5 81.1 56 85.3 55.5 89.5 55 93.7 54.5 97.9 54 102 53.6 106.2 53.1 110.4 52.6 114.6 52.2 118.8 51.7 122.9 51.2" fill="none" stroke="#d3e5ea" stroke-width="16" stroke-linejoin="round"/></g><path d="M34.7 0V84M49.7 0V84M78.7 0V84M93.7 0V84M0 62.8H128M0 41.8H128M0 20.8H128" stroke="#bdbdbd" stroke-width="1" fill="none"/><path d="M5.9 0V84M64.4 0V84M122.9 0V84" stroke="#0000ff" stroke-width="4.8" opacity="0.5"/><path d="M5.9 84 10.1 83.8 14.3 83.2 18.4 80.9 22.6 77.7 26.8 74.6 31 71.4 35.2 68.3 39.3 65.5 43.5 63.6 47.7 62.2 51.9 61 56.1 60 60.2 59.1 64.4 58.4 68.6 57.7 72.8 57.1 77 56.5 81.1 56 85.3 55.5 89.5 55 93.7 54.5 97.9 54 102 53.6 106.2 53.1 110.4 52.6 114.6 52.2 118.8 51.7 122.9 51.2" fill="none" stroke="#000" stroke-width="9" stroke-linejoin="round" stroke-linecap="square"/></g></g><path d="M669.3 668.7v11M684 668.7v11M698.6 668.7v11M727.8 668.7v11M742.5 668.7v11M757.1 668.7v11M648.8 647.7h-11M648.8 626.7h-11M648.8 605.7h-11" stroke="#000" stroke-width="3.1"/><path d="M654.7 668.7v19M713.2 668.7v19M771.7 668.7v19M648.8 668.7h-18.5M648.8 584.7h-18.5" stroke="#0000ff" stroke-width="3.8"/><rect x="648.8" y="584.7" width="128" height="84" fill="none" stroke="#0000ff" stroke-width="6"/><g transform="translate(828.2 584.7)"><g clip-path="url(#a3_3)"><use href="#p3_3" fill="none" stroke="#a9cae5" stroke-width="4"/><use href="#p3_3" fill="#fad5ae"/><g clip-path="url(#cp3_3)"><use href="#p3_3" fill="none" stroke="#e8b07b" stroke-width="16"/><use href="#p3_3" fill="none" stroke="#b9a892" stroke-width="10"/><use href="#p3_3" fill="none" stroke="#5f9dcd" stroke-width="5"/><path d="M5.9 84 10.1 83.7 14.3 83.2 18.4 81.7 22.6 79.8 26.8 77.3 31 74.8 35.2 72.6 39.3 70.6 43.5 68.7 47.7 67.2 51.9 66 56.1 65 60.2 64.1 64.4 63.4 68.6 62.9 72.8 62.4 77 62.1 81.1 61.8 85.3 61.6 89.5 61.3 93.7 61 97.9 60.7 102 60.5 106.2 60.2 110.4 60 114.6 59.7 118.8 59.5 122.9 59.2" fill="none" stroke="#d3e5ea" stroke-width="16" stroke-linejoin="round"/></g><path d="M20.3 0V84M49.3 0V84M93.3 0V84M0 62.8H128M0 41.8H128M0 20.8H128" stroke="#bdbdbd" stroke-width="1" fill="none"/><path d="M5.9 0V84M64.4 0V84M122.9 0V84" stroke="#008000" stroke-width="4.8" opacity="0.5"/><path d="M5.9 84 10.1 83.7 14.3 83.2 18.4 81.7 22.6 79.8 26.8 77.3 31 74.8 35.2 72.6 39.3 70.6 43.5 68.7 47.7 67.2 51.9 66 56.1 65 60.2 64.1 64.4 63.4 68.6 62.9 72.8 62.4 77 62.1 81.1 61.8 85.3 61.6 89.5 61.3 93.7 61 97.9 60.7 102 60.5 106.2 60.2 110.4 60 114.6 59.7 118.8 59.5 122.9 59.2" fill="none" stroke="#000" stroke-width="9" stroke-linejoin="round" stroke-linecap="square"/></g></g><path d="M848.7 668.7v11M863.4 668.7v11M878 668.7v11M907.2 668.7v11M921.9 668.7v11M936.5 668.7v11M828.2 647.7h-11M828.2 626.7h-11M828.2 605.7h-11" stroke="#000" stroke-width="3.1"/><path d="M834.1 668.7v19M892.6 668.7v19M951.1 668.7v19M828.2 668.7h-18.5M828.2 584.7h-18.5" stroke="#008000" stroke-width="3.8"/><rect x="828.2" y="584.7" width="128" height="84" fill="none" stroke="#008000" stroke-width="6"/><g transform="translate(1007.6 584.7)"><g clip-path="url(#a3_4)"><use href="#p3_4" fill="none" stroke="#a9cae5" stroke-width="4"/><use href="#p3_4" fill="#fad5ae"/><g clip-path="url(#cp3_4)"><use href="#p3_4" fill="none" stroke="#e8b07b" stroke-width="16"/><use href="#p3_4" fill="none" stroke="#b9a892" stroke-width="10"/><use href="#p3_4" fill="none" stroke="#5f9dcd" stroke-width="5"/><path d="M5.9 84 10.1 83.8 14.3 83.2 18.4 81.3 22.6 79 26.8 76.4 31 73.9 35.2 71.7 39.3 69.7 43.5 67.9 47.7 66.4 51.9 65.3 56.1 64.6 60.2 64 64.4 63.4 68.6 62.8 72.8 62.2 77 61.6 81.1 61.1 85.3 60.5 89.5 60.1 93.7 59.6 97.9 59.2 102 58.8 106.2 58.5 110.4 58.2 114.6 57.8 118.8 57.5 122.9 57.1" fill="none" stroke="#d3e5ea" stroke-width="16" stroke-linejoin="round"/></g><path d="M34.9 0V84M78.9 0V84M93.9 0V84M107.9 0V84M0 62.8H128M0 41.8H128M0 20.8H128" stroke="#bdbdbd" stroke-width="1" fill="none"/><path d="M5.9 0V84M64.4 0V84M122.9 0V84" stroke="#008000" stroke-width="4.8" opacity="0.5"/><path d="M5.9 84 10.1 83.8 14.3 83.2 18.4 81.3 22.6 79 26.8 76.4 31 73.9 35.2 71.7 39.3 69.7 43.5 67.9 47.7 66.4 51.9 65.3 56.1 64.6 60.2 64 64.4 63.4 68.6 62.8 72.8 62.2 77 61.6 81.1 61.1 85.3 60.5 89.5 60.1 93.7 59.6 97.9 59.2 102 58.8 106.2 58.5 110.4 58.2 114.6 57.8 118.8 57.5 122.9 57.1" fill="none" stroke="#000" stroke-width="9" stroke-linejoin="round" stroke-linecap="square"/></g></g><path d="M1028.1 668.7v11M1042.8 668.7v11M1057.4 668.7v11M1086.6 668.7v11M1101.3 668.7v11M1115.9 668.7v11M1007.6 647.7h-11M1007.6 626.7h-11M1007.6 605.7h-11" stroke="#000" stroke-width="3.1"/><path d="M1013.5 668.7v19M1072 668.7v19M1130.5 668.7v19M1007.6 668.7h-18.5M1007.6 584.7h-18.5" stroke="#008000" stroke-width="3.8"/><rect x="1007.6" y="584.7" width="128" height="84" fill="none" stroke="#008000" stroke-width="6"/><g transform="translate(1187 584.7)"><g clip-path="url(#a3_5)"><use href="#p3_5" fill="none" stroke="#a9cae5" stroke-width="4"/><use href="#p3_5" fill="#fad5ae"/><g clip-path="url(#cp3_5)"><use href="#p3_5" fill="none" stroke="#e8b07b" stroke-width="16"/><use href="#p3_5" fill="none" stroke="#b9a892" stroke-width="10"/><use href="#p3_5" fill="none" stroke="#5f9dcd" stroke-width="5"/><path d="M5.9 84 10.1 83.8 14.3 83.2 18.4 81.4 22.6 79 26.8 75.7 31 72.2 35.2 69.5 39.3 67.2 43.5 65.6 47.7 64.3 51.9 62.9 56.1 61.5 60.2 60.2 64.4 59.2 68.6 58.6 72.8 58.1 77 57.9 81.1 57.6 85.3 57.4 89.5 57.1 93.7 56.7 97.9 56.3 102 55.9 106.2 55.5 110.4 55 114.6 54.6 118.8 54.2 122.9 53.8" fill="none" stroke="#d3e5ea" stroke-width="16" stroke-linejoin="round"/></g><path d="M20.5 0V84M49.5 0V84M79.5 0V84M108.5 0V84M0 62.8H128M0 41.8H128M0 20.8H128" stroke="#bdbdbd" stroke-width="1" fill="none"/><path d="M5.9 0V84M64.4 0V84M122.9 0V84" stroke="#0000ff" stroke-width="4.8" opacity="0.5"/><path d="M5.9 84 10.1 83.8 14.3 83.2 18.4 81.4 22.6 79 26.8 75.7 31 72.2 35.2 69.5 39.3 67.2 43.5 65.6 47.7 64.3 51.9 62.9 56.1 61.5 60.2 60.2 64.4 59.2 68.6 58.6 72.8 58.1 77 57.9 81.1 57.6 85.3 57.4 89.5 57.1 93.7 56.7 97.9 56.3 102 55.9 106.2 55.5 110.4 55 114.6 54.6 118.8 54.2 122.9 53.8" fill="none" stroke="#000" stroke-width="9" stroke-linejoin="round" stroke-linecap="square"/></g></g><path d="M1207.5 668.7v11M1222.2 668.7v11M1236.8 668.7v11M1266 668.7v11M1280.7 668.7v11M1295.3 668.7v11M1187 647.7h-11M1187 626.7h-11M1187 605.7h-11" stroke="#000" stroke-width="3.1"/><path d="M1192.9 668.7v19M1251.4 668.7v19M1309.9 668.7v19M1187 668.7h-18.5M1187 584.7h-18.5" stroke="#0000ff" stroke-width="3.8"/><rect x="1187" y="584.7" width="128" height="84" fill="none" stroke="#0000ff" stroke-width="6"/><g transform="translate(1366.4 584.7)"><g clip-path="url(#a3_6)"><use href="#p3_6" fill="none" stroke="#a9cae5" stroke-width="4"/><use href="#p3_6" fill="#fad5ae"/><g clip-path="url(#cp3_6)"><use href="#p3_6" fill="none" stroke="#e8b07b" stroke-width="16"/><use href="#p3_6" fill="none" stroke="#b9a892" stroke-width="10"/><use href="#p3_6" fill="none" stroke="#5f9dcd" stroke-width="5"/><path d="M5.9 84 10.1 83.7 14.3 83.2 18.4 81.7 22.6 79.8 26.8 77.4 31 74.8 35.2 72.2 39.3 69.7 43.5 67.4 47.7 65.5 51.9 64.1 56.1 63 60.2 62.1 64.4 61.3 68.6 60.6 72.8 60 77 59.4 81.1 59 85.3 58.5 89.5 58 93.7 57.4 97.9 56.9 102 56.4 106.2 55.8 110.4 55.3 114.6 54.8 118.8 54.3 122.9 53.8" fill="none" stroke="#d3e5ea" stroke-width="16" stroke-linejoin="round"/></g><path d="M20.1 0V84M35.1 0V84M50.1 0V84M79.1 0V84M94.1 0V84M0 62.8H128M0 41.8H128M0 20.8H128" stroke="#bdbdbd" stroke-width="1" fill="none"/><path d="M5.9 0V84M64.4 0V84M122.9 0V84" stroke="#008000" stroke-width="4.8" opacity="0.5"/><path d="M5.9 84 10.1 83.7 14.3 83.2 18.4 81.7 22.6 79.8 26.8 77.4 31 74.8 35.2 72.2 39.3 69.7 43.5 67.4 47.7 65.5 51.9 64.1 56.1 63 60.2 62.1 64.4 61.3 68.6 60.6 72.8 60 77 59.4 81.1 59 85.3 58.5 89.5 58 93.7 57.4 97.9 56.9 102 56.4 106.2 55.8 110.4 55.3 114.6 54.8 118.8 54.3 122.9 53.8" fill="none" stroke="#000" stroke-width="9" stroke-linejoin="round" stroke-linecap="square"/></g></g><path d="M1386.9 668.7v11M1401.6 668.7v11M1416.2 668.7v11M1445.4 668.7v11M1460.1 668.7v11M1474.7 668.7v11M1366.4 647.7h-11M1366.4 626.7h-11M1366.4 605.7h-11" stroke="#000" stroke-width="3.1"/><path d="M1372.3 668.7v19M1430.8 668.7v19M1489.3 668.7v19M1366.4 668.7h-18.5M1366.4 584.7h-18.5" stroke="#008000" stroke-width="3.8"/><rect x="1366.4" y="584.7" width="128" height="84" fill="none" stroke="#008000" stroke-width="6"/><g transform="translate(1545.8 584.7)"><g clip-path="url(#a3_7)"><use href="#p3_7" fill="none" stroke="#a9cae5" stroke-width="4"/><use href="#p3_7" fill="#fad5ae"/><g clip-path="url(#cp3_7)"><use href="#p3_7" fill="none" stroke="#e8b07b" stroke-width="16"/><use href="#p3_7" fill="none" stroke="#b9a892" stroke-width="10"/><use href="#p3_7" fill="none" stroke="#5f9dcd" stroke-width="5"/><path d="M5.9 84 10.1 83.8 14.3 83.2 18.4 81.4 22.6 79 26.8 76 31 73.1 35.2 70.8 39.3 68.9 43.5 67.5 47.7 66.4 51.9 65.4 56.1 64.5 60.2 63.7 64.4 63 68.6 62.4 72.8 62 77 61.6 81.1 61.2 85.3 60.9 89.5 60.5 93.7 60.1 97.9 59.6 102 59.2 106.2 58.8 110.4 58.4 114.6 58 118.8 57.5 122.9 57.1" fill="none" stroke="#d3e5ea" stroke-width="16" stroke-linejoin="round"/></g><path d="M34.7 0V84M93.7 0V84M108.7 0V84M0 62.8H128M0 41.8H128M0 20.8H128" stroke="#bdbdbd" stroke-width="1" fill="none"/><path d="M5.9 0V84M64.4 0V84M122.9 0V84" stroke="#0000ff" stroke-width="4.8" opacity="0.5"/><path d="M5.9 84 10.1 83.8 14.3 83.2 18.4 81.4 22.6 79 26.8 76 31 73.1 35.2 70.8 39.3 68.9 43.5 67.5 47.7 66.4 51.9 65.4 56.1 64.5 60.2 63.7 64.4 63 68.6 62.4 72.8 62 77 61.6 81.1 61.2 85.3 60.9 89.5 60.5 93.7 60.1 97.9 59.6 102 59.2 106.2 58.8 110.4 58.4 114.6 58 118.8 57.5 122.9 57.1" fill="none" stroke="#000" stroke-width="9" stroke-linejoin="round" stroke-linecap="square"/></g></g><path d="M1566.3 668.7v11M1581 668.7v11M1595.6 668.7v11M1624.8 668.7v11M1639.5 668.7v11M1654.1 668.7v11M1545.8 647.7h-11M1545.8 626.7h-11M1545.8 605.7h-11" stroke="#000" stroke-width="3.1"/><path d="M1551.7 668.7v19M1610.2 668.7v19M1668.7 668.7v19M1545.8 668.7h-18.5M1545.8 584.7h-18.5" stroke="#0000ff" stroke-width="3.8"/><rect x="1545.8" y="584.7" width="128" height="84" fill="none" stroke="#0000ff" stroke-width="6"/><g transform="translate(1725.2 584.7)"><g clip-path="url(#a3_8)"><use href="#p3_8" fill="none" stroke="#a9cae5" stroke-width="4"/><use href="#p3_8" fill="#fad5ae"/><g clip-path="url(#cp3_8)"><use href="#p3_8" fill="none" stroke="#e8b07b" stroke-width="16"/><use href="#p3_8" fill="none" stroke="#b9a892" stroke-width="10"/><use href="#p3_8" fill="none" stroke="#5f9dcd" stroke-width="5"/><path d="M5.9 84 10.1 83.3 14.3 82.3 18.4 80.4 22.6 78.1 26.8 76 31 73.9 35.2 71.8 39.3 69.7 43.5 67.9 47.7 66.4 51.9 65.1 56.1 63.9 60.2 63 64.4 62.2 68.6 61.5 72.8 61 77 60.7 81.1 60.3 85.3 60 89.5 59.6 93.7 59.2 97.9 58.8 102 58.4 106.2 58 110.4 57.5 114.6 57.1 118.8 56.7 122.9 56.3" fill="none" stroke="#d3e5ea" stroke-width="16" stroke-linejoin="round"/></g><path d="M35.3 0V84M49.3 0V84M79.3 0V84M108.3 0V84M0 62.8H128M0 41.8H128M0 20.8H128" stroke="#bdbdbd" stroke-width="1" fill="none"/><path d="M5.9 0V84M64.4 0V84M122.9 0V84" stroke="#0000ff" stroke-width="4.8" opacity="0.5"/><path d="M5.9 84 10.1 83.3 14.3 82.3 18.4 80.4 22.6 78.1 26.8 76 31 73.9 35.2 71.8 39.3 69.7 43.5 67.9 47.7 66.4 51.9 65.1 56.1 63.9 60.2 63 64.4 62.2 68.6 61.5 72.8 61 77 60.7 81.1 60.3 85.3 60 89.5 59.6 93.7 59.2 97.9 58.8 102 58.4 106.2 58 110.4 57.5 114.6 57.1 118.8 56.7 122.9 56.3" fill="none" stroke="#000" stroke-width="9" stroke-linejoin="round" stroke-linecap="square"/></g></g><path d="M1745.7 668.7v11M1760.4 668.7v11M1775 668.7v11M1804.2 668.7v11M1818.9 668.7v11M1833.5 668.7v11M1725.2 647.7h-11M1725.2 626.7h-11M1725.2 605.7h-11" stroke="#000" stroke-width="3.1"/><path d="M1731.1 668.7v19M1789.6 668.7v19M1848.1 668.7v19M1725.2 668.7h-18.5M1725.2 584.7h-18.5" stroke="#0000ff" stroke-width="3.8"/><rect x="1725.2" y="584.7" width="128" height="84" fill="none" stroke="#0000ff" stroke-width="6"/><g transform="translate(1904.6 584.7)"><g clip-path="url(#a3_9)"><use href="#p3_9" fill="none" stroke="#a9cae5" stroke-width="4"/><use href="#p3_9" fill="#fad5ae"/><g clip-path="url(#cp3_9)"><use href="#p3_9" fill="none" stroke="#e8b07b" stroke-width="16"/><use href="#p3_9" fill="none" stroke="#b9a892" stroke-width="10"/><use href="#p3_9" fill="none" stroke="#5f9dcd" stroke-width="5"/><path d="M5.9 84 10.1 83.7 14.3 83.2 18.4 81.7 22.6 79.8 26.8 77.3 31 74.8 35.2 72.6 39.3 70.6 43.5 68.7 47.7 67.2 51.9 66 56.1 65 60.2 64.2 64.4 63.4 68.6 62.8 72.8 62.2 77 61.8 81.1 61.3 85.3 60.9 89.5 60.5 93.7 60 97.9 59.6 102 59.2 106.2 58.8 110.4 58.4 114.6 57.9 118.8 57.5 122.9 57.1" fill="none" stroke="#d3e5ea" stroke-width="16" stroke-linejoin="round"/></g><path d="M20.9 0V84M49.9 0V84M93.9 0V84M0 62.8H128M0 41.8H128M0 20.8H128" stroke="#bdbdbd" stroke-width="1" fill="none"/><path d="M5.9 0V84M64.4 0V84M122.9 0V84" stroke="#0000ff" stroke-width="4.8" opacity="0.5"/><path d="M5.9 84 10.1 83.7 14.3 83.2 18.4 81.7 22.6 79.8 26.8 77.3 31 74.8 35.2 72.6 39.3 70.6 43.5 68.7 47.7 67.2 51.9 66 56.1 65 60.2 64.2 64.4 63.4 68.6 62.8 72.8 62.2 77 61.8 81.1 61.3 85.3 60.9 89.5 60.5 93.7 60 97.9 59.6 102 59.2 106.2 58.8 110.4 58.4 114.6 57.9 118.8 57.5 122.9 57.1" fill="none" stroke="#000" stroke-width="9" stroke-linejoin="round" stroke-linecap="square"/></g></g><path d="M1925.1 668.7v11M1939.8 668.7v11M1954.4 668.7v11M1983.6 668.7v11M1998.3 668.7v11M2012.9 668.7v11M1904.6 647.7h-11M1904.6 626.7h-11M1904.6 605.7h-11" stroke="#000" stroke-width="3.1"/><path d="M1910.5 668.7v19M1969 668.7v19M2027.5 668.7v19M1904.6 668.7h-18.5M1904.6 584.7h-18.5" stroke="#0000ff" stroke-width="3.8"/><rect x="1904.6" y="584.7" width="128" height="84" fill="none" stroke="#0000ff" stroke-width="6"/><g transform="translate(2084 584.7)"><g clip-path="url(#a3_10)"><use href="#p3_10" fill="none" stroke="#a9cae5" stroke-width="4"/><use href="#p3_10" fill="#fad5ae"/><g clip-path="url(#cp3_10)"><use href="#p3_10" fill="none" stroke="#e8b07b" stroke-width="16"/><use href="#p3_10" fill="none" stroke="#b9a892" stroke-width="10"/><use href="#p3_10" fill="none" stroke="#5f9dcd" stroke-width="5"/><path d="M5.9 84 10.1 83.8 14.3 83.2 18.4 80.9 22.6 77.7 26.8 74.1 31 70.6 35.2 67.9 39.3 65.5 43.5 63.3 47.7 61.3 51.9 59.7 56.1 58.2 60.2 57 64.4 55.9 68.6 54.9 72.8 54.1 77 53.4 81.1 52.8 85.3 52.2 89.5 51.7 93.7 51.1 97.9 50.6 102 50.1 106.2 49.7 110.4 49.2 114.6 48.8 118.8 48.3 122.9 47.9" fill="none" stroke="#d3e5ea" stroke-width="16" stroke-linejoin="round"/></g><path d="M20.5 0V84M35.5 0V84M79.5 0V84M108.5 0V84M0 62.8H128M0 41.8H128M0 20.8H128" stroke="#bdbdbd" stroke-width="1" fill="none"/><path d="M5.9 0V84M64.4 0V84M122.9 0V84" stroke="#0000ff" stroke-width="4.8" opacity="0.5"/><path d="M5.9 84 10.1 83.8 14.3 83.2 18.4 80.9 22.6 77.7 26.8 74.1 31 70.6 35.2 67.9 39.3 65.5 43.5 63.3 47.7 61.3 51.9 59.7 56.1 58.2 60.2 57 64.4 55.9 68.6 54.9 72.8 54.1 77 53.4 81.1 52.8 85.3 52.2 89.5 51.7 93.7 51.1 97.9 50.6 102 50.1 106.2 49.7 110.4 49.2 114.6 48.8 118.8 48.3 122.9 47.9" fill="none" stroke="#000" stroke-width="9" stroke-linejoin="round" stroke-linecap="square"/></g></g><path d="M2104.5 668.7v11M2119.2 668.7v11M2133.8 668.7v11M2163 668.7v11M2177.7 668.7v11M2192.3 668.7v11M2084 647.7h-11M2084 626.7h-11M2084 605.7h-11" stroke="#000" stroke-width="3.1"/><path d="M2089.9 668.7v19M2148.4 668.7v19M2206.9 668.7v19M2084 668.7h-18.5M2084 584.7h-18.5" stroke="#0000ff" stroke-width="3.8"/><rect x="2084" y="584.7" width="128" height="84" fill="none" stroke="#0000ff" stroke-width="6"/><text transform="translate(2231 625.7) rotate(90)" text-anchor="middle">0.04</text><g transform="translate(290 702.6)"><g clip-path="url(#a4_0)"><use href="#p4_0" fill="none" stroke="#a9cae5" stroke-width="4"/><use href="#p4_0" fill="#fad5ae"/><g clip-path="url(#cp4_0)"><use href="#p4_0" fill="none" stroke="#e8b07b" stroke-width="16"/><use href="#p4_0" fill="none" stroke="#b9a892" stroke-width="10"/><use href="#p4_0" fill="none" stroke="#5f9dcd" stroke-width="5"/><path d="M5.9 84 10.1 83.2 14.3 82.1 18.4 79.9 22.6 77.3 26.8 74.5 31 71.8 35.2 69.6 39.3 67.6 43.5 65.8 47.7 64.3 51.9 62.9 56.1 61.7 60.2 60.6 64.4 59.6 68.6 58.8 72.8 58 77 57.2 81.1 56.6 85.3 56 89.5 55.4 93.7 54.9 97.9 54.5 102 54.1 106.2 53.8 110.4 53.5 114.6 53.2 118.8 52.8 122.9 52.5" fill="none" stroke="#d3e5ea" stroke-width="16" stroke-linejoin="round"/></g><path d="M20.5 0V84M49.5 0V84M93.5 0V84M0 62.9H128M0 41.9H128M0 20.9H128" stroke="#bdbdbd" stroke-width="1" fill="none"/><path d="M5.9 0V84M64.4 0V84M122.9 0V84" stroke="#008000" stroke-width="4.8" opacity="0.5"/><path d="M5.9 84 10.1 83.2 14.3 82.1 18.4 79.9 22.6 77.3 26.8 74.5 31 71.8 35.2 69.6 39.3 67.6 43.5 65.8 47.7 64.3 51.9 62.9 56.1 61.7 60.2 60.6 64.4 59.6 68.6 58.8 72.8 58 77 57.2 81.1 56.6 85.3 56 89.5 55.4 93.7 54.9 97.9 54.5 102 54.1 106.2 53.8 110.4 53.5 114.6 53.2 118.8 52.8 122.9 52.5" fill="none" stroke="#000" stroke-width="9" stroke-linejoin="round" stroke-linecap="square"/></g></g><path d="M310.5 786.6v11M325.2 786.6v11M339.8 786.6v11M369 786.6v11M383.7 786.6v11M398.3 786.6v11M290 765.6h-11M290 744.6h-11M290 723.6h-11" stroke="#000" stroke-width="3.1"/><path d="M295.9 786.6v19M354.4 786.6v19M412.9 786.6v19M290 786.6h-18.5M290 702.6h-18.5" stroke="#008000" stroke-width="3.8"/><rect x="290" y="702.6" width="128" height="84" fill="none" stroke="#008000" stroke-width="6"/><text x="252" y="720.5" text-anchor="end">900</text><text x="252" y="804.8" text-anchor="end">0</text><g transform="translate(469.4 702.6)"><g clip-path="url(#a4_1)"><use href="#p4_1" fill="none" stroke="#a9cae5" stroke-width="4"/><use href="#p4_1" fill="#fad5ae"/><g clip-path="url(#cp4_1)"><use href="#p4_1" fill="none" stroke="#e8b07b" stroke-width="16"/><use href="#p4_1" fill="none" stroke="#b9a892" stroke-width="10"/><use href="#p4_1" fill="none" stroke="#5f9dcd" stroke-width="5"/><path d="M5.9 84 10.1 83.8 14.3 83.2 18.4 81.5 22.6 79 26.8 75.4 31 71.8 35.2 69.1 39.3 66.8 43.5 64.9 47.7 63.4 51.9 62.4 56.1 61.6 60.2 61 64.4 60.5 68.6 59.9 72.8 59.5 77 59 81.1 58.6 85.3 58.3 89.5 58 93.7 57.7 97.9 57.4 102 57.2 106.2 57 110.4 56.8 114.6 56.7 118.8 56.5 122.9 56.3" fill="none" stroke="#d3e5ea" stroke-width="16" stroke-linejoin="round"/></g><path d="M20.1 0V84M35.1 0V84M79.1 0V84M108.1 0V84M0 62.9H128M0 41.9H128M0 20.9H128" stroke="#bdbdbd" stroke-width="1" fill="none"/><path d="M5.9 0V84M64.4 0V84M122.9 0V84" stroke="#008000" stroke-width="4.8" opacity="0.5"/><path d="M5.9 84 10.1 83.8 14.3 83.2 18.4 81.5 22.6 79 26.8 75.4 31 71.8 35.2 69.1 39.3 66.8 43.5 64.9 47.7 63.4 51.9 62.4 56.1 61.6 60.2 61 64.4 60.5 68.6 59.9 72.8 59.5 77 59 81.1 58.6 85.3 58.3 89.5 58 93.7 57.7 97.9 57.4 102 57.2 106.2 57 110.4 56.8 114.6 56.7 118.8 56.5 122.9 56.3" fill="none" stroke="#000" stroke-width="9" stroke-linejoin="round" stroke-linecap="square"/></g></g><path d="M489.9 786.6v11M504.6 786.6v11M519.2 786.6v11M548.4 786.6v11M563.1 786.6v11M577.7 786.6v11M469.4 765.6h-11M469.4 744.6h-11M469.4 723.6h-11" stroke="#000" stroke-width="3.1"/><path d="M475.3 786.6v19M533.8 786.6v19M592.3 786.6v19M469.4 786.6h-18.5M469.4 702.6h-18.5" stroke="#008000" stroke-width="3.8"/><rect x="469.4" y="702.6" width="128" height="84" fill="none" stroke="#008000" stroke-width="6"/><g transform="translate(648.8 702.6)"><g clip-path="url(#a4_2)"><use href="#p4_2" fill="none" stroke="#a9cae5" stroke-width="4"/><use href="#p4_2" fill="#98bedf"/><use href="#p4_2" fill="none" stroke="#5f9dcd" stroke-width="5" clip-path="url(#cp4_2)"/><use href="#q4_2" fill="none" stroke="#b9a892" stroke-width="5"/><use href="#q4_2" fill="#fad5ae"/><g clip-path="url(#cq4_2)"><use href="#q4_2" fill="none" stroke="#e8b07b" stroke-width="6"/><path d="M5.9 84 10.1 83.8 14.3 83.2 18.4 81.5 22.6 79 26.8 75.4 31 71.8 35.2 69.5 39.3 67.6 43.5 66 47.7 64.7 51.9 63.6 56.1 62.8 60.2 62 64.4 61.3 68.6 60.6 72.8 60 77 59.4 81.1 58.9 85.3 58.4 89.5 58 93.7 57.6 97.9 57.2 102 56.9 106.2 56.6 110.4 56.3 114.6 56 118.8 55.7 122.9 55.4" fill="none" stroke="#d3e5ea" stroke-width="16" stroke-linejoin="round"/></g><path d="M34.7 0V84M49.7 0V84M78.7 0V84M93.7 0V84M0 62.9H128M0 41.9H128M0 20.9H128" stroke="#bdbdbd" stroke-width="1" fill="none"/><path d="M5.9 0V84M64.4 0V84M122.9 0V84" stroke="#008000" stroke-width="4.8" opacity="0.5"/><path d="M5.9 84 10.1 83.8 14.3 83.2 18.4 81.5 22.6 79 26.8 75.4 31 71.8 35.2 69.5 39.3 67.6 43.5 66 47.7 64.7 51.9 63.6 56.1 62.8 60.2 62 64.4 61.3 68.6 60.6 72.8 60 77 59.4 81.1 58.9 85.3 58.4 89.5 58 93.7 57.6 97.9 57.2 102 56.9 106.2 56.6 110.4 56.3 114.6 56 118.8 55.7 122.9 55.4" fill="none" stroke="#000" stroke-width="9" stroke-linejoin="round" stroke-linecap="square"/></g></g><path d="M669.3 786.6v11M684 786.6v11M698.6 786.6v11M727.8 786.6v11M742.5 786.6v11M757.1 786.6v11M648.8 765.6h-11M648.8 744.6h-11M648.8 723.6h-11" stroke="#000" stroke-width="3.1"/><path d="M654.7 786.6v19M713.2 786.6v19M771.7 786.6v19M648.8 786.6h-18.5M648.8 702.6h-18.5" stroke="#008000" stroke-width="3.8"/><rect x="648.8" y="702.6" width="128" height="84" fill="none" stroke="#008000" stroke-width="6"/><g transform="translate(828.2 702.6)"><g clip-path="url(#a4_3)"><use href="#p4_3" fill="none" stroke="#a9cae5" stroke-width="4"/><use href="#p4_3" fill="#fad5ae"/><g clip-path="url(#cp4_3)"><use href="#p4_3" fill="none" stroke="#e8b07b" stroke-width="16"/><use href="#p4_3" fill="none" stroke="#b9a892" stroke-width="10"/><use href="#p4_3" fill="none" stroke="#5f9dcd" stroke-width="5"/><path d="M5.9 84 10.1 83.8 14.3 83.2 18.4 81.5 22.6 79 26.8 75.4 31 71.8 35.2 69.1 39.3 66.8 43.5 64.9 47.7 63.4 51.9 62.4 56.1 61.6 60.2 61 64.4 60.5 68.6 59.9 72.8 59.5 77 59 81.1 58.6 85.3 58.3 89.5 58 93.7 57.7 97.9 57.4 102 57.2 106.2 57 110.4 56.8 114.6 56.7 118.8 56.5 122.9 56.3" fill="none" stroke="#d3e5ea" stroke-width="16" stroke-linejoin="round"/></g><path d="M20.3 0V84M49.3 0V84M93.3 0V84M0 62.9H128M0 41.9H128M0 20.9H128" stroke="#bdbdbd" stroke-width="1" fill="none"/><path d="M5.9 0V84M64.4 0V84M122.9 0V84" stroke="#0000ff" stroke-width="4.8" opacity="0.5"/><path d="M5.9 84 10.1 83.8 14.3 83.2 18.4 81.5 22.6 79 26.8 75.4 31 71.8 35.2 69.1 39.3 66.8 43.5 64.9 47.7 63.4 51.9 62.4 56.1 61.6 60.2 61 64.4 60.5 68.6 59.9 72.8 59.5 77 59 81.1 58.6 85.3 58.3 89.5 58 93.7 57.7 97.9 57.4 102 57.2 106.2 57 110.4 56.8 114.6 56.7 118.8 56.5 122.9 56.3" fill="none" stroke="#000" stroke-width="9" stroke-linejoin="round" stroke-linecap="square"/></g></g><path d="M848.7 786.6v11M863.4 786.6v11M878 786.6v11M907.2 786.6v11M921.9 786.6v11M936.5 786.6v11M828.2 765.6h-11M828.2 744.6h-11M828.2 723.6h-11" stroke="#000" stroke-width="3.1"/><path d="M834.1 786.6v19M892.6 786.6v19M951.1 786.6v19M828.2 786.6h-18.5M828.2 702.6h-18.5" stroke="#0000ff" stroke-width="3.8"/><rect x="828.2" y="702.6" width="128" height="84" fill="none" stroke="#0000ff" stroke-width="6"/><g transform="translate(1007.6 702.6)"><g clip-path="url(#a4_4)"><use href="#p4_4" fill="none" stroke="#a9cae5" stroke-width="4"/><use href="#p4_4" fill="#fad5ae"/><g clip-path="url(#cp4_4)"><use href="#p4_4" fill="none" stroke="#e8b07b" stroke-width="16"/><use href="#p4_4" fill="none" stroke="#b9a892" stroke-width="10"/><use href="#p4_4" fill="none" stroke="#5f9dcd" stroke-width="5"/><path d="M5.9 84 10.1 83.8 14.3 83.2 18.4 81 22.6 78.1 26.8 75 31 71.8 35.2 69.1 39.3 66.8 43.5 64.9 47.7 63.4 51.9 62.4 56.1 61.7 60.2 61.1 64.4 60.5 68.6 59.8 72.8 59.1 77 58.5 81.1 57.9 85.3 57.3 89.5 56.7 93.7 56.1 97.9 55.6 102 55.1 106.2 54.5 110.4 54 114.6 53.5 118.8 53 122.9 52.5" fill="none" stroke="#d3e5ea" stroke-width="16" stroke-linejoin="round"/></g><path d="M34.9 0V84M78.9 0V84M93.9 0V84M107.9 0V84M0 62.9H128M0 41.9H128M0 20.9H128" stroke="#bdbdbd" stroke-width="1" fill="none"/><path d="M5.9 0V84M64.4 0V84M122.9 0V84" stroke="#0000ff" stroke-width="4.8" opacity="0.5"/><path d="M5.9 84 10.1 83.8 14.3 83.2 18.4 81 22.6 78.1 26.8 75 31 71.8 35.2 69.1 39.3 66.8 43.5 64.9 47.7 63.4 51.9 62.4 56.1 61.7 60.2 61.1 64.4 60.5 68.6 59.8 72.8 59.1 77 58.5 81.1 57.9 85.3 57.3 89.5 56.7 93.7 56.1 97.9 55.6 102 55.1 106.2 54.5 110.4 54 114.6 53.5 118.8 53 122.9 52.5" fill="none" stroke="#000" stroke-width="9" stroke-linejoin="round" stroke-linecap="square"/></g></g><path d="M1028.1 786.6v11M1042.8 786.6v11M1057.4 786.6v11M1086.6 786.6v11M1101.3 786.6v11M1115.9 786.6v11M1007.6 765.6h-11M1007.6 744.6h-11M1007.6 723.6h-11" stroke="#000" stroke-width="3.1"/><path d="M1013.5 786.6v19M1072 786.6v19M1130.5 786.6v19M1007.6 786.6h-18.5M1007.6 702.6h-18.5" stroke="#0000ff" stroke-width="3.8"/><rect x="1007.6" y="702.6" width="128" height="84" fill="none" stroke="#0000ff" stroke-width="6"/><g transform="translate(1187 702.6)"><g clip-path="url(#a4_5)"><use href="#p4_5" fill="none" stroke="#a9cae5" stroke-width="4"/><use href="#p4_5" fill="#fad5ae"/><g clip-path="url(#cp4_5)"><use href="#p4_5" fill="none" stroke="#e8b07b" stroke-width="16"/><use href="#p4_5" fill="none" stroke="#b9a892" stroke-width="10"/><use href="#p4_5" fill="none" stroke="#5f9dcd" stroke-width="5"/><path d="M5.9 84 10.1 83.8 14.3 83.2 18.4 81.5 22.6 79 26.8 75.4 31 71.8 35.2 69.5 39.3 67.6 43.5 66 47.7 64.7 51.9 63.5 56.1 62.3 60.2 61.3 64.4 60.5 68.6 59.8 72.8 59.2 77 58.7 81.1 58.3 85.3 57.9 89.5 57.5 93.7 57.2 97.9 56.9 102 56.6 106.2 56.4 110.4 56.1 114.6 55.9 118.8 55.7 122.9 55.4" fill="none" stroke="#d3e5ea" stroke-width="16" stroke-linejoin="round"/></g><path d="M20.5 0V84M49.5 0V84M79.5 0V84M108.5 0V84M0 62.9H128M0 41.9H128M0 20.9H128" stroke="#bdbdbd" stroke-width="1" fill="none"/><path d="M5.9 0V84M64.4 0V84M122.9 0V84" stroke="#0000ff" stroke-width="4.8" opacity="0.5"/><path d="M5.9 84 10.1 83.8 14.3 83.2 18.4 81.5 22.6 79 26.8 75.4 31 71.8 35.2 69.5 39.3 67.6 43.5 66 47.7 64.7 51.9 63.5 56.1 62.3 60.2 61.3 64.4 60.5 68.6 59.8 72.8 59.2 77 58.7 81.1 58.3 85.3 57.9 89.5 57.5 93.7 57.2 97.9 56.9 102 56.6 106.2 56.4 110.4 56.1 114.6 55.9 118.8 55.7 122.9 55.4" fill="none" stroke="#000" stroke-width="9" stroke-linejoin="round" stroke-linecap="square"/></g></g><path d="M1207.5 786.6v11M1222.2 786.6v11M1236.8 786.6v11M1266 786.6v11M1280.7 786.6v11M1295.3 786.6v11M1187 765.6h-11M1187 744.6h-11M1187 723.6h-11" stroke="#000" stroke-width="3.1"/><path d="M1192.9 786.6v19M1251.4 786.6v19M1309.9 786.6v19M1187 786.6h-18.5M1187 702.6h-18.5" stroke="#0000ff" stroke-width="3.8"/><rect x="1187" y="702.6" width="128" height="84" fill="none" stroke="#0000ff" stroke-width="6"/><g transform="translate(1366.4 702.6)"><g clip-path="url(#a4_6)"><use href="#p4_6" fill="none" stroke="#a9cae5" stroke-width="4"/><use href="#p4_6" fill="#fad5ae"/><g clip-path="url(#cp4_6)"><use href="#p4_6" fill="none" stroke="#e8b07b" stroke-width="16"/><use href="#p4_6" fill="none" stroke="#b9a892" stroke-width="10"/><use href="#p4_6" fill="none" stroke="#5f9dcd" stroke-width="5"/><path d="M5.9 84 10.1 83.8 14.3 83.2 18.4 81.3 22.6 79 26.8 76.5 31 73.9 35.2 71.3 39.3 68.9 43.5 67 47.7 65.5 51.9 64.2 56.1 63.1 60.2 62.2 64.4 61.3 68.6 60.6 72.8 60 77 59.5 81.1 59 85.3 58.5 89.5 58 93.7 57.4 97.9 56.8 102 56.2 106.2 55.7 110.4 55.1 114.6 54.5 118.8 53.9 122.9 53.3" fill="none" stroke="#d3e5ea" stroke-width="16" stroke-linejoin="round"/></g><path d="M20.1 0V84M35.1 0V84M50.1 0V84M79.1 0V84M94.1 0V84M0 62.9H128M0 41.9H128M0 20.9H128" stroke="#bdbdbd" stroke-width="1" fill="none"/><path d="M5.9 0V84M64.4 0V84M122.9 0V84" stroke="#0000ff" stroke-width="4.8" opacity="0.5"/><path d="M5.9 84 10.1 83.8 14.3 83.2 18.4 81.3 22.6 79 26.8 76.5 31 73.9 35.2 71.3 39.3 68.9 43.5 67 47.7 65.5 51.9 64.2 56.1 63.1 60.2 62.2 64.4 61.3 68.6 60.6 72.8 60 77 59.5 81.1 59 85.3 58.5 89.5 58 93.7 57.4 97.9 56.8 102 56.2 106.2 55.7 110.4 55.1 114.6 54.5 118.8 53.9 122.9 53.3" fill="none" stroke="#000" stroke-width="9" stroke-linejoin="round" stroke-linecap="square"/></g></g><path d="M1386.9 786.6v11M1401.6 786.6v11M1416.2 786.6v11M1445.4 786.6v11M1460.1 786.6v11M1474.7 786.6v11M1366.4 765.6h-11M1366.4 744.6h-11M1366.4 723.6h-11" stroke="#000" stroke-width="3.1"/><path d="M1372.3 786.6v19M1430.8 786.6v19M1489.3 786.6v19M1366.4 786.6h-18.5M1366.4 702.6h-18.5" stroke="#0000ff" stroke-width="3.8"/><rect x="1366.4" y="702.6" width="128" height="84" fill="none" stroke="#0000ff" stroke-width="6"/><g transform="translate(1545.8 702.6)"><g clip-path="url(#a4_7)"><use href="#p4_7" fill="none" stroke="#a9cae5" stroke-width="4"/><use href="#p4_7" fill="#fad5ae"/><g clip-path="url(#cp4_7)"><use href="#p4_7" fill="none" stroke="#e8b07b" stroke-width="16"/><use href="#p4_7" fill="none" stroke="#b9a892" stroke-width="10"/><use href="#p4_7" fill="none" stroke="#5f9dcd" stroke-width="5"/><path d="M5.9 84 10.1 83.8 14.3 83.2 18.4 81 22.6 78.1 26.8 74.9 31 71.8 35.2 69.5 39.3 67.6 43.5 65.8 47.7 64.3 51.9 63.1 56.1 62.2 60.2 61.3 64.4 60.5 68.6 59.6 72.8 58.7 77 57.8 81.1 57 85.3 56.2 89.5 55.4 93.7 54.7 97.9 54.1 102 53.4 106.2 52.8 110.4 52.2 114.6 51.6 118.8 51 122.9 50.4" fill="none" stroke="#d3e5ea" stroke-width="16" stroke-linejoin="round"/></g><path d="M34.7 0V84M93.7 0V84M108.7 0V84M0 62.9H128M0 41.9H128M0 20.9H128" stroke="#bdbdbd" stroke-width="1" fill="none"/><path d="M5.9 0V84M64.4 0V84M122.9 0V84" stroke="#0000ff" stroke-width="4.8" opacity="0.5"/><path d="M5.9 84 10.1 83.8 14.3 83.2 18.4 81 22.6 78.1 26.8 74.9 31 71.8 35.2 69.5 39.3 67.6 43.5 65.8 47.7 64.3 51.9 63.1 56.1 62.2 60.2 61.3 64.4 60.5 68.6 59.6 72.8 58.7 77 57.8 81.1 57 85.3 56.2 89.5 55.4 93.7 54.7 97.9 54.1 102 53.4 106.2 52.8 110.4 52.2 114.6 51.6 118.8 51 122.9 50.4" fill="none" stroke="#000" stroke-width="9" stroke-linejoin="round" stroke-linecap="square"/></g></g><path d="M1566.3 786.6v11M1581 786.6v11M1595.6 786.6v11M1624.8 786.6v11M1639.5 786.6v11M1654.1 786.6v11M1545.8 765.6h-11M1545.8 744.6h-11M1545.8 723.6h-11" stroke="#000" stroke-width="3.1"/><path d="M1551.7 786.6v19M1610.2 786.6v19M1668.7 786.6v19M1545.8 786.6h-18.5M1545.8 702.6h-18.5" stroke="#0000ff" stroke-width="3.8"/><rect x="1545.8" y="702.6" width="128" height="84" fill="none" stroke="#0000ff" stroke-width="6"/><g transform="translate(1725.2 702.6)"><g clip-path="url(#a4_8)"><use href="#p4_8" fill="none" stroke="#a9cae5" stroke-width="4"/><use href="#p4_8" fill="#98bedf"/><use href="#p4_8" fill="none" stroke="#5f9dcd" stroke-width="5" clip-path="url(#cp4_8)"/><use href="#q4_8" fill="none" stroke="#b9a892" stroke-width="5"/><use href="#q4_8" fill="#fad5ae"/><g clip-path="url(#cq4_8)"><use href="#q4_8" fill="none" stroke="#e8b07b" stroke-width="6"/><path d="M5.9 84 10.1 83.8 14.3 83.2 18.4 81.5 22.6 79.4 26.8 77.1 31 74.8 35.2 72.8 39.3 71 43.5 69.2 47.7 67.6 51.9 66.3 56.1 65.2 60.2 64.3 64.4 63.4 68.6 62.7 72.8 62.2 77 61.8 81.1 61.4 85.3 60.9 89.5 60.5 93.7 60 97.9 59.4 102 58.9 106.2 58.4 110.4 57.9 114.6 57.3 118.8 56.8 122.9 56.3" fill="none" stroke="#d3e5ea" stroke-width="16" stroke-linejoin="round"/></g><path d="M35.3 0V84M49.3 0V84M79.3 0V84M108.3 0V84M0 62.9H128M0 41.9H128M0 20.9H128" stroke="#bdbdbd" stroke-width="1" fill="none"/><path d="M5.9 0V84M64.4 0V84M122.9 0V84" stroke="#0000ff" stroke-width="4.8" opacity="0.5"/><path d="M5.9 84 10.1 83.8 14.3 83.2 18.4 81.5 22.6 79.4 26.8 77.1 31 74.8 35.2 72.8 39.3 71 43.5 69.2 47.7 67.6 51.9 66.3 56.1 65.2 60.2 64.3 64.4 63.4 68.6 62.7 72.8 62.2 77 61.8 81.1 61.4 85.3 60.9 89.5 60.5 93.7 60 97.9 59.4 102 58.9 106.2 58.4 110.4 57.9 114.6 57.3 118.8 56.8 122.9 56.3" fill="none" stroke="#000" stroke-width="9" stroke-linejoin="round" stroke-linecap="square"/></g></g><path d="M1745.7 786.6v11M1760.4 786.6v11M1775 786.6v11M1804.2 786.6v11M1818.9 786.6v11M1833.5 786.6v11M1725.2 765.6h-11M1725.2 744.6h-11M1725.2 723.6h-11" stroke="#000" stroke-width="3.1"/><path d="M1731.1 786.6v19M1789.6 786.6v19M1848.1 786.6v19M1725.2 786.6h-18.5M1725.2 702.6h-18.5" stroke="#0000ff" stroke-width="3.8"/><rect x="1725.2" y="702.6" width="128" height="84" fill="none" stroke="#0000ff" stroke-width="6"/><g transform="translate(1904.6 702.6)"><g clip-path="url(#a4_9)"><use href="#p4_9" fill="none" stroke="#a9cae5" stroke-width="4"/><use href="#p4_9" fill="#fad5ae"/><g clip-path="url(#cp4_9)"><use href="#p4_9" fill="none" stroke="#e8b07b" stroke-width="16"/><use href="#p4_9" fill="none" stroke="#b9a892" stroke-width="10"/><use href="#p4_9" fill="none" stroke="#5f9dcd" stroke-width="5"/><path d="M5.9 84 10.1 83.8 14.3 83.2 18.4 81.4 22.6 79 26.8 76 31 73.1 35.2 70.8 39.3 68.9 43.5 67.1 47.7 65.5 51.9 63.9 56.1 62.4 60.2 60.9 64.4 59.6 68.6 58.6 72.8 57.7 77 56.9 81.1 56.1 85.3 55.4 89.5 54.6 93.7 53.8 97.9 53 102 52.2 106.2 51.4 110.4 50.6 114.6 49.9 118.8 49.1 122.9 48.3" fill="none" stroke="#d3e5ea" stroke-width="16" stroke-linejoin="round"/></g><path d="M20.9 0V84M49.9 0V84M93.9 0V84M0 62.9H128M0 41.9H128M0 20.9H128" stroke="#bdbdbd" stroke-width="1" fill="none"/><path d="M5.9 0V84M64.4 0V84M122.9 0V84" stroke="#000000" stroke-width="4.8" opacity="0.5"/><path d="M5.9 84 10.1 83.8 14.3 83.2 18.4 81.4 22.6 79 26.8 76 31 73.1 35.2 70.8 39.3 68.9 43.5 67.1 47.7 65.5 51.9 63.9 56.1 62.4 60.2 60.9 64.4 59.6 68.6 58.6 72.8 57.7 77 56.9 81.1 56.1 85.3 55.4 89.5 54.6 93.7 53.8 97.9 53 102 52.2 106.2 51.4 110.4 50.6 114.6 49.9 118.8 49.1 122.9 48.3" fill="none" stroke="#000" stroke-width="9" stroke-linejoin="round" stroke-linecap="square"/></g></g><path d="M1925.1 786.6v11M1939.8 786.6v11M1954.4 786.6v11M1983.6 786.6v11M1998.3 786.6v11M2012.9 786.6v11M1904.6 765.6h-11M1904.6 744.6h-11M1904.6 723.6h-11" stroke="#000" stroke-width="3.1"/><path d="M1910.5 786.6v19M1969 786.6v19M2027.5 786.6v19M1904.6 786.6h-18.5M1904.6 702.6h-18.5" stroke="#000000" stroke-width="3.8"/><rect x="1904.6" y="702.6" width="128" height="84" fill="none" stroke="#000000" stroke-width="6"/><g transform="translate(2084 702.6)"><g clip-path="url(#a4_10)"><use href="#p4_10" fill="none" stroke="#a9cae5" stroke-width="4"/><use href="#p4_10" fill="#98bedf"/><use href="#p4_10" fill="none" stroke="#5f9dcd" stroke-width="5" clip-path="url(#cp4_10)"/><use href="#q4_10" fill="none" stroke="#b9a892" stroke-width="5"/><use href="#q4_10" fill="#fad5ae"/><g clip-path="url(#cq4_10)"><use href="#q4_10" fill="none" stroke="#e8b07b" stroke-width="6"/><path d="M5.9 84 10.1 83.6 14.3 82.7 18.4 79.8 22.6 76.4 26.8 73.3 31 70.6 35.2 68.5 39.3 66.8 43.5 65.2 47.7 63.8 51.9 62.5 56.1 61.3 60.2 60.2 64.4 59.2 68.6 58.5 72.8 57.9 77 57.4 81.1 56.9 85.3 56.4 89.5 55.9 93.7 55.2 97.9 54.6 102 53.9 106.2 53.2 110.4 52.5 114.6 51.8 118.8 51.1 122.9 50.4" fill="none" stroke="#d3e5ea" stroke-width="16" stroke-linejoin="round"/></g><path d="M20.5 0V84M35.5 0V84M79.5 0V84M108.5 0V84M0 62.9H128M0 41.9H128M0 20.9H128" stroke="#bdbdbd" stroke-width="1" fill="none"/><path d="M5.9 0V84M64.4 0V84M122.9 0V84" stroke="#000000" stroke-width="4.8" opacity="0.5"/><path d="M5.9 84 10.1 83.6 14.3 82.7 18.4 79.8 22.6 76.4 26.8 73.3 31 70.6 35.2 68.5 39.3 66.8 43.5 65.2 47.7 63.8 51.9 62.5 56.1 61.3 60.2 60.2 64.4 59.2 68.6 58.5 72.8 57.9 77 57.4 81.1 56.9 85.3 56.4 89.5 55.9 93.7 55.2 97.9 54.6 102 53.9 106.2 53.2 110.4 52.5 114.6 51.8 118.8 51.1 122.9 50.4" fill="none" stroke="#000" stroke-width="9" stroke-linejoin="round" stroke-linecap="square"/></g></g><path d="M2104.5 786.6v11M2119.2 786.6v11M2133.8 786.6v11M2163 786.6v11M2177.7 786.6v11M2192.3 786.6v11M2084 765.6h-11M2084 744.6h-11M2084 723.6h-11" stroke="#000" stroke-width="3.1"/><path d="M2089.9 786.6v19M2148.4 786.6v19M2206.9 786.6v19M2084 786.6h-18.5M2084 702.6h-18.5" stroke="#000000" stroke-width="3.8"/><rect x="2084" y="702.6" width="128" height="84" fill="none" stroke="#000000" stroke-width="6"/><text transform="translate(2231 743.6) rotate(90)" text-anchor="middle">0.05</text><g transform="translate(290 820.5)"><g clip-path="url(#a5_0)"><use href="#p5_0" fill="none" stroke="#a9cae5" stroke-width="4"/><use href="#p5_0" fill="#fad5ae"/><g clip-path="url(#cp5_0)"><use href="#p5_0" fill="none" stroke="#e8b07b" stroke-width="16"/><use href="#p5_0" fill="none" stroke="#b9a892" stroke-width="10"/><use href="#p5_0" fill="none" stroke="#5f9dcd" stroke-width="5"/><path d="M5.9 84 10.1 83.4 14.3 82.3 18.4 80.2 22.6 77.3 26.8 73.1 31 68.9 35.2 65.7 39.3 63 43.5 60.7 47.7 58.8 51.9 57.3 56.1 55.9 60.2 54.8 64.4 53.8 68.6 52.9 72.8 52.1 77 51.4 81.1 50.8 85.3 50.2 89.5 49.6 93.7 48.9 97.9 48.3 102 47.6 106.2 47 110.4 46.4 114.6 45.8 118.8 45.1 122.9 44.5" fill="none" stroke="#d3e5ea" stroke-width="16" stroke-linejoin="round"/></g><path d="M20.5 0V84M49.5 0V84M93.5 0V84M0 63H128M0 42H128M0 21H128" stroke="#bdbdbd" stroke-width="1" fill="none"/><path d="M5.9 0V84M64.4 0V84M122.9 0V84" stroke="#0000ff" stroke-width="4.8" opacity="0.5"/><path d="M5.9 84 10.1 83.4 14.3 82.3 18.4 80.2 22.6 77.3 26.8 73.1 31 68.9 35.2 65.7 39.3 63 43.5 60.7 47.7 58.8 51.9 57.3 56.1 55.9 60.2 54.8 64.4 53.8 68.6 52.9 72.8 52.1 77 51.4 81.1 50.8 85.3 50.2 89.5 49.6 93.7 48.9 97.9 48.3 102 47.6 106.2 47 110.4 46.4 114.6 45.8 118.8 45.1 122.9 44.5" fill="none" stroke="#000" stroke-width="9" stroke-linejoin="round" stroke-linecap="square"/></g></g><path d="M310.5 904.5v11M325.2 904.5v11M339.8 904.5v11M369 904.5v11M383.7 904.5v11M398.3 904.5v11M290 883.5h-11M290 862.5h-11M290 841.5h-11" stroke="#000" stroke-width="3.1"/><path d="M295.9 904.5v19M354.4 904.5v19M412.9 904.5v19M290 904.5h-18.5M290 820.5h-18.5" stroke="#0000ff" stroke-width="3.8"/><rect x="290" y="820.5" width="128" height="84" fill="none" stroke="#0000ff" stroke-width="6"/><text x="252" y="838.4" text-anchor="end">900</text><text x="252" y="922.7" text-anchor="end">0</text><g transform="translate(469.4 820.5)"><g clip-path="url(#a5_1)"><use href="#p5_1" fill="none" stroke="#a9cae5" stroke-width="4"/><use href="#p5_1" fill="#d4e7ee"/><g clip-path="url(#cp5_1)"><use href="#p5_1" fill="none" stroke="#e8b07b" stroke-width="16"/><use href="#p5_1" fill="none" stroke="#b9a892" stroke-width="10"/><use href="#p5_1" fill="none" stroke="#5f9dcd" stroke-width="5"/><path d="M5.9 84 10.1 83.7 14.3 83.2 18.4 82.1 22.6 80.6 26.8 79 31 77.3 35.2 75.5 39.3 73.9 43.5 72.6 47.7 71.4 51.9 70.2 56.1 69.1 60.2 68.1 64.4 67.2 68.6 66.5 72.8 65.8 77 65.3 81.1 64.8 85.3 64.3 89.5 63.8 93.7 63.3 97.9 62.8 102 62.4 106.2 61.9 110.4 61.4 114.6 61 118.8 60.5 122.9 60.1" fill="none" stroke="#d3e5ea" stroke-width="16" stroke-linejoin="round"/></g><path d="M20.1 0V84M35.1 0V84M79.1 0V84M108.1 0V84M0 63H128M0 42H128M0 21H128" stroke="#bdbdbd" stroke-width="1" fill="none"/><path d="M5.9 0V84M64.4 0V84M122.9 0V84" stroke="#0000ff" stroke-width="4.8" opacity="0.5"/><path d="M5.9 84 10.1 83.7 14.3 83.2 18.4 82.1 22.6 80.6 26.8 79 31 77.3 35.2 75.5 39.3 73.9 43.5 72.6 47.7 71.4 51.9 70.2 56.1 69.1 60.2 68.1 64.4 67.2 68.6 66.5 72.8 65.8 77 65.3 81.1 64.8 85.3 64.3 89.5 63.8 93.7 63.3 97.9 62.8 102 62.4 106.2 61.9 110.4 61.4 114.6 61 118.8 60.5 122.9 60.1" fill="none" stroke="#000" stroke-width="9" stroke-linejoin="round" stroke-linecap="square"/></g></g><path d="M489.9 904.5v11M504.6 904.5v11M519.2 904.5v11M548.4 904.5v11M563.1 904.5v11M577.7 904.5v11M469.4 883.5h-11M469.4 862.5h-11M469.4 841.5h-11" stroke="#000" stroke-width="3.1"/><path d="M475.3 904.5v19M533.8 904.5v19M592.3 904.5v19M469.4 904.5h-18.5M469.4 820.5h-18.5" stroke="#0000ff" stroke-width="3.8"/><rect x="469.4" y="820.5" width="128" height="84" fill="none" stroke="#0000ff" stroke-width="6"/><g transform="translate(648.8 820.5)"><g clip-path="url(#a5_2)"><use href="#p5_2" fill="none" stroke="#a9cae5" stroke-width="4"/><use href="#p5_2" fill="#fad5ae"/><g clip-path="url(#cp5_2)"><use href="#p5_2" fill="none" stroke="#e8b07b" stroke-width="16"/><use href="#p5_2" fill="none" stroke="#b9a892" stroke-width="10"/><use href="#p5_2" fill="none" stroke="#5f9dcd" stroke-width="5"/><path d="M5.9 84 10.1 83.4 14.3 82.3 18.4 80.1 22.6 77.3 26.8 74 31 70.6 35.2 67.4 39.3 64.7 43.5 62.7 47.7 61.3 51.9 60.2 56.1 59.4 60.2 58.7 64.4 58 68.6 57.2 72.8 56.4 77 55.7 81.1 55 85.3 54.4 89.5 53.8 93.7 53.2 97.9 52.8 102 52.3 106.2 51.9 110.4 51.6 114.6 51.2 118.8 50.8 122.9 50.4" fill="none" stroke="#d3e5ea" stroke-width="16" stroke-linejoin="round"/></g><path d="M34.7 0V84M49.7 0V84M78.7 0V84M93.7 0V84M0 63H128M0 42H128M0 21H128" stroke="#bdbdbd" stroke-width="1" fill="none"/><path d="M5.9 0V84M64.4 0V84M122.9 0V84" stroke="#000000" stroke-width="4.8" opacity="0.5"/><path d="M5.9 84 10.1 83.4 14.3 82.3 18.4 80.1 22.6 77.3 26.8 74 31 70.6 35.2 67.4 39.3 64.7 43.5 62.7 47.7 61.3 51.9 60.2 56.1 59.4 60.2 58.7 64.4 58 68.6 57.2 72.8 56.4 77 55.7 81.1 55 85.3 54.4 89.5 53.8 93.7 53.2 97.9 52.8 102 52.3 106.2 51.9 110.4 51.6 114.6 51.2 118.8 50.8 122.9 50.4" fill="none" stroke="#000" stroke-width="9" stroke-linejoin="round" stroke-linecap="square"/></g></g><path d="M669.3 904.5v11M684 904.5v11M698.6 904.5v11M727.8 904.5v11M742.5 904.5v11M757.1 904.5v11M648.8 883.5h-11M648.8 862.5h-11M648.8 841.5h-11" stroke="#000" stroke-width="3.1"/><path d="M654.7 904.5v19M713.2 904.5v19M771.7 904.5v19M648.8 904.5h-18.5M648.8 820.5h-18.5" stroke="#000000" stroke-width="3.8"/><rect x="648.8" y="820.5" width="128" height="84" fill="none" stroke="#000000" stroke-width="6"/><g transform="translate(828.2 820.5)"><g clip-path="url(#a5_3)"><use href="#p5_3" fill="none" stroke="#a9cae5" stroke-width="4"/><use href="#p5_3" fill="#fad5ae"/><g clip-path="url(#cp5_3)"><use href="#p5_3" fill="none" stroke="#e8b07b" stroke-width="16"/><use href="#p5_3" fill="none" stroke="#b9a892" stroke-width="10"/><use href="#p5_3" fill="none" stroke="#5f9dcd" stroke-width="5"/><path d="M5.9 84 10.1 83.8 14.3 83.2 18.4 81.2 22.6 78.5 26.8 75.4 31 72.2 35.2 70 39.3 68 43.5 66 47.7 64.3 51.9 62.9 56.1 61.8 60.2 60.9 64.4 60.1 68.6 59.3 72.8 58.6 77 57.9 81.1 57.4 85.3 56.8 89.5 56.3 93.7 55.8 97.9 55.3 102 54.9 106.2 54.5 110.4 54.1 114.6 53.7 118.8 53.3 122.9 52.9" fill="none" stroke="#d3e5ea" stroke-width="16" stroke-linejoin="round"/></g><path d="M20.3 0V84M49.3 0V84M93.3 0V84M0 63H128M0 42H128M0 21H128" stroke="#bdbdbd" stroke-width="1" fill="none"/><path d="M5.9 0V84M64.4 0V84M122.9 0V84" stroke="#0000ff" stroke-width="4.8" opacity="0.5"/><path d="M5.9 84 10.1 83.8 14.3 83.2 18.4 81.2 22.6 78.5 26.8 75.4 31 72.2 35.2 70 39.3 68 43.5 66 47.7 64.3 51.9 62.9 56.1 61.8 60.2 60.9 64.4 60.1 68.6 59.3 72.8 58.6 77 57.9 81.1 57.4 85.3 56.8 89.5 56.3 93.7 55.8 97.9 55.3 102 54.9 106.2 54.5 110.4 54.1 114.6 53.7 118.8 53.3 122.9 52.9" fill="none" stroke="#000" stroke-width="9" stroke-linejoin="round" stroke-linecap="square"/></g></g><path d="M848.7 904.5v11M863.4 904.5v11M878 904.5v11M907.2 904.5v11M921.9 904.5v11M936.5 904.5v11M828.2 883.5h-11M828.2 862.5h-11M828.2 841.5h-11" stroke="#000" stroke-width="3.1"/><path d="M834.1 904.5v19M892.6 904.5v19M951.1 904.5v19M828.2 904.5h-18.5M828.2 820.5h-18.5" stroke="#0000ff" stroke-width="3.8"/><rect x="828.2" y="820.5" width="128" height="84" fill="none" stroke="#0000ff" stroke-width="6"/><g transform="translate(1007.6 820.5)"><g clip-path="url(#a5_4)"><use href="#p5_4" fill="none" stroke="#a9cae5" stroke-width="4"/><use href="#p5_4" fill="#fad5ae"/><g clip-path="url(#cp5_4)"><use href="#p5_4" fill="none" stroke="#e8b07b" stroke-width="16"/><use href="#p5_4" fill="none" stroke="#b9a892" stroke-width="10"/><use href="#p5_4" fill="none" stroke="#5f9dcd" stroke-width="5"/><path d="M5.9 84 10.1 83.8 14.3 83.2 18.4 81.6 22.6 79.4 26.8 76.3 31 73.1 35.2 70.4 39.3 68 43.5 66 47.7 64.3 51.9 62.9 56.1 61.7 60.2 60.6 64.4 59.6 68.6 58.7 72.8 57.8 77 56.9 81.1 56.1 85.3 55.3 89.5 54.6 93.7 53.9 97.9 53.2 102 52.6 106.2 52 110.4 51.4 114.6 50.8 118.8 50.2 122.9 49.6" fill="none" stroke="#d3e5ea" stroke-width="16" stroke-linejoin="round"/></g><path d="M34.9 0V84M78.9 0V84M93.9 0V84M107.9 0V84M0 63H128M0 42H128M0 21H128" stroke="#bdbdbd" stroke-width="1" fill="none"/><path d="M5.9 0V84M64.4 0V84M122.9 0V84" stroke="#000000" stroke-width="4.8" opacity="0.5"/><path d="M5.9 84 10.1 83.8 14.3 83.2 18.4 81.6 22.6 79.4 26.8 76.3 31 73.1 35.2 70.4 39.3 68 43.5 66 47.7 64.3 51.9 62.9 56.1 61.7 60.2 60.6 64.4 59.6 68.6 58.7 72.8 57.8 77 56.9 81.1 56.1 85.3 55.3 89.5 54.6 93.7 53.9 97.9 53.2 102 52.6 106.2 52 110.4 51.4 114.6 50.8 118.8 50.2 122.9 49.6" fill="none" stroke="#000" stroke-width="9" stroke-linejoin="round" stroke-linecap="square"/></g></g><path d="M1028.1 904.5v11M1042.8 904.5v11M1057.4 904.5v11M1086.6 904.5v11M1101.3 904.5v11M1115.9 904.5v11M1007.6 883.5h-11M1007.6 862.5h-11M1007.6 841.5h-11" stroke="#000" stroke-width="3.1"/><path d="M1013.5 904.5v19M1072 904.5v19M1130.5 904.5v19M1007.6 904.5h-18.5M1007.6 820.5h-18.5" stroke="#000000" stroke-width="3.8"/><rect x="1007.6" y="820.5" width="128" height="84" fill="none" stroke="#000000" stroke-width="6"/><g transform="translate(1187 820.5)"><g clip-path="url(#a5_5)"><use href="#p5_5" fill="none" stroke="#a9cae5" stroke-width="4"/><use href="#p5_5" fill="#d4e7ee"/><g clip-path="url(#cp5_5)"><use href="#p5_5" fill="none" stroke="#e8b07b" stroke-width="16"/><use href="#p5_5" fill="none" stroke="#b9a892" stroke-width="10"/><use href="#p5_5" fill="none" stroke="#5f9dcd" stroke-width="5"/><path d="M5.9 84 10.1 83.6 14.3 82.7 18.4 80.3 22.6 77.3 26.8 74.3 31 71.4 35.2 68.7 39.3 66.4 43.5 64.5 47.7 63 51.9 61.6 56.1 60.2 60.2 59 64.4 58 68.6 57 72.8 56.2 77 55.5 81.1 54.9 85.3 54.3 89.5 53.8 93.7 53.2 97.9 52.8 102 52.3 106.2 51.9 110.4 51.6 114.6 51.2 118.8 50.8 122.9 50.4" fill="none" stroke="#d3e5ea" stroke-width="16" stroke-linejoin="round"/></g><path d="M20.5 0V84M49.5 0V84M79.5 0V84M108.5 0V84M0 63H128M0 42H128M0 21H128" stroke="#bdbdbd" stroke-width="1" fill="none"/><path d="M5.9 0V84M64.4 0V84M122.9 0V84" stroke="#000000" stroke-width="4.8" opacity="0.5"/><path d="M5.9 84 10.1 83.6 14.3 82.7 18.4 80.3 22.6 77.3 26.8 74.3 31 71.4 35.2 68.7 39.3 66.4 43.5 64.5 47.7 63 51.9 61.6 56.1 60.2 60.2 59 64.4 58 68.6 57 72.8 56.2 77 55.5 81.1 54.9 85.3 54.3 89.5 53.8 93.7 53.2 97.9 52.8 102 52.3 106.2 51.9 110.4 51.6 114.6 51.2 118.8 50.8 122.9 50.4" fill="none" stroke="#000" stroke-width="9" stroke-linejoin="round" stroke-linecap="square"/></g></g><path d="M1207.5 904.5v11M1222.2 904.5v11M1236.8 904.5v11M1266 904.5v11M1280.7 904.5v11M1295.3 904.5v11M1187 883.5h-11M1187 862.5h-11M1187 841.5h-11" stroke="#000" stroke-width="3.1"/><path d="M1192.9 904.5v19M1251.4 904.5v19M1309.9 904.5v19M1187 904.5h-18.5M1187 820.5h-18.5" stroke="#000000" stroke-width="3.8"/><rect x="1187" y="820.5" width="128" height="84" fill="none" stroke="#000000" stroke-width="6"/><g transform="translate(1366.4 820.5)"><g clip-path="url(#a5_6)"><use href="#p5_6" fill="none" stroke="#a9cae5" stroke-width="4"/><use href="#p5_6" fill="#98bedf"/><use href="#p5_6" fill="none" stroke="#5f9dcd" stroke-width="5" clip-path="url(#cp5_6)"/><use href="#q5_6" fill="none" stroke="#b9a892" stroke-width="5"/><use href="#q5_6" fill="#fad5ae"/><g clip-path="url(#cq5_6)"><use href="#q5_6" fill="none" stroke="#e8b07b" stroke-width="6"/><path d="M5.9 84 10.1 83.8 14.3 83.2 18.4 81.6 22.6 79.4 26.8 76.7 31 73.9 35.2 71.6 39.3 69.7 43.5 68.3 47.7 67.2 51.9 66 56.1 64.9 60.2 63.9 64.4 63 68.6 62.3 72.8 61.8 77 61.4 81.1 61.1 85.3 60.8 89.5 60.5 93.7 60.2 97.9 59.9 102 59.7 106.2 59.5 110.4 59.4 114.6 59.2 118.8 59 122.9 58.8" fill="none" stroke="#d3e5ea" stroke-width="16" stroke-linejoin="round"/></g><path d="M20.1 0V84M35.1 0V84M50.1 0V84M79.1 0V84M94.1 0V84M0 63H128M0 42H128M0 21H128" stroke="#bdbdbd" stroke-width="1" fill="none"/><path d="M5.9 0V84M64.4 0V84M122.9 0V84" stroke="#000000" stroke-width="4.8" opacity="0.5"/><path d="M5.9 84 10.1 83.8 14.3 83.2 18.4 81.6 22.6 79.4 26.8 76.7 31 73.9 35.2 71.6 39.3 69.7 43.5 68.3 47.7 67.2 51.9 66 56.1 64.9 60.2 63.9 64.4 63 68.6 62.3 72.8 61.8 77 61.4 81.1 61.1 85.3 60.8 89.5 60.5 93.7 60.2 97.9 59.9 102 59.7 106.2 59.5 110.4 59.4 114.6 59.2 118.8 59 122.9 58.8" fill="none" stroke="#000" stroke-width="9" stroke-linejoin="round" stroke-linecap="square"/></g></g><path d="M1386.9 904.5v11M1401.6 904.5v11M1416.2 904.5v11M1445.4 904.5v11M1460.1 904.5v11M1474.7 904.5v11M1366.4 883.5h-11M1366.4 862.5h-11M1366.4 841.5h-11" stroke="#000" stroke-width="3.1"/><path d="M1372.3 904.5v19M1430.8 904.5v19M1489.3 904.5v19M1366.4 904.5h-18.5M1366.4 820.5h-18.5" stroke="#000000" stroke-width="3.8"/><rect x="1366.4" y="820.5" width="128" height="84" fill="none" stroke="#000000" stroke-width="6"/><g transform="translate(1545.8 820.5)"><g clip-path="url(#a5_7)"><use href="#p5_7" fill="none" stroke="#a9cae5" stroke-width="4"/><use href="#p5_7" fill="#fad5ae"/><g clip-path="url(#cp5_7)"><use href="#p5_7" fill="none" stroke="#e8b07b" stroke-width="16"/><use href="#p5_7" fill="none" stroke="#b9a892" stroke-width="10"/><use href="#p5_7" fill="none" stroke="#5f9dcd" stroke-width="5"/><path d="M5.9 84 10.1 83.5 14.3 82.7 18.4 81.4 22.6 79.4 26.8 75.9 31 72.2 35.2 69.5 39.3 67.2 43.5 65.3 47.7 63.8 51.9 62.6 56.1 61.5 60.2 60.6 64.4 59.6 68.6 58.7 72.8 57.8 77 57 81.1 56.1 85.3 55.4 89.5 54.6 93.7 53.9 97.9 53.2 102 52.6 106.2 52 110.4 51.4 114.6 50.8 118.8 50.2 122.9 49.6" fill="none" stroke="#d3e5ea" stroke-width="16" stroke-linejoin="round"/></g><path d="M34.7 0V84M93.7 0V84M108.7 0V84M0 63H128M0 42H128M0 21H128" stroke="#bdbdbd" stroke-width="1" fill="none"/><path d="M5.9 0V84M64.4 0V84M122.9 0V84" stroke="#000000" stroke-width="4.8" opacity="0.5"/><path d="M5.9 84 10.1 83.5 14.3 82.7 18.4 81.4 22.6 79.4 26.8 75.9 31 72.2 35.2 69.5 39.3 67.2 43.5 65.3 47.7 63.8 51.9 62.6 56.1 61.5 60.2 60.6 64.4 59.6 68.6 58.7 72.8 57.8 77 57 81.1 56.1 85.3 55.4 89.5 54.6 93.7 53.9 97.9 53.2 102 52.6 106.2 52 110.4 51.4 114.6 50.8 118.8 50.2 122.9 49.6" fill="none" stroke="#000" stroke-width="9" stroke-linejoin="round" stroke-linecap="square"/></g></g><path d="M1566.3 904.5v11M1581 904.5v11M1595.6 904.5v11M1624.8 904.5v11M1639.5 904.5v11M1654.1 904.5v11M1545.8 883.5h-11M1545.8 862.5h-11M1545.8 841.5h-11" stroke="#000" stroke-width="3.1"/><path d="M1551.7 904.5v19M1610.2 904.5v19M1668.7 904.5v19M1545.8 904.5h-18.5M1545.8 820.5h-18.5" stroke="#000000" stroke-width="3.8"/><rect x="1545.8" y="820.5" width="128" height="84" fill="none" stroke="#000000" stroke-width="6"/><g transform="translate(1725.2 820.5)"><g clip-path="url(#a5_8)"><use href="#p5_8" fill="none" stroke="#a9cae5" stroke-width="4"/><use href="#p5_8" fill="#fad5ae"/><g clip-path="url(#cp5_8)"><use href="#p5_8" fill="none" stroke="#e8b07b" stroke-width="16"/><use href="#p5_8" fill="none" stroke="#b9a892" stroke-width="10"/><use href="#p5_8" fill="none" stroke="#5f9dcd" stroke-width="5"/><path d="M5.9 84 10.1 83.6 14.3 82.7 18.4 80.9 22.6 78.5 26.8 75.8 31 73.1 35.2 70.8 39.3 68.9 43.5 67.1 47.7 65.5 51.9 64.2 56.1 63 60.2 61.9 64.4 60.9 68.6 59.9 72.8 59 77 58.1 81.1 57.3 85.3 56.4 89.5 55.4 93.7 54.4 97.9 53.4 102 52.4 106.2 51.3 110.4 50.2 114.6 49.2 118.8 48.1 122.9 47" fill="none" stroke="#d3e5ea" stroke-width="16" stroke-linejoin="round"/></g><path d="M35.3 0V84M49.3 0V84M79.3 0V84M108.3 0V84M0 63H128M0 42H128M0 21H128" stroke="#bdbdbd" stroke-width="1" fill="none"/><path d="M5.9 0V84M64.4 0V84M122.9 0V84" stroke="#000000" stroke-width="4.8" opacity="0.5"/><path d="M5.9 84 10.1 83.6 14.3 82.7 18.4 80.9 22.6 78.5 26.8 75.8 31 73.1 35.2 70.8 39.3 68.9 43.5 67.1 47.7 65.5 51.9 64.2 56.1 63 60.2 61.9 64.4 60.9 68.6 59.9 72.8 59 77 58.1 81.1 57.3 85.3 56.4 89.5 55.4 93.7 54.4 97.9 53.4 102 52.4 106.2 51.3 110.4 50.2 114.6 49.2 118.8 48.1 122.9 47" fill="none" stroke="#000" stroke-width="9" stroke-linejoin="round" stroke-linecap="square"/></g></g><path d="M1745.7 904.5v11M1760.4 904.5v11M1775 904.5v11M1804.2 904.5v11M1818.9 904.5v11M1833.5 904.5v11M1725.2 883.5h-11M1725.2 862.5h-11M1725.2 841.5h-11" stroke="#000" stroke-width="3.1"/><path d="M1731.1 904.5v19M1789.6 904.5v19M1848.1 904.5v19M1725.2 904.5h-18.5M1725.2 820.5h-18.5" stroke="#000000" stroke-width="3.8"/><rect x="1725.2" y="820.5" width="128" height="84" fill="none" stroke="#000000" stroke-width="6"/><g transform="translate(1904.6 820.5)"><g clip-path="url(#a5_9)"><use href="#p5_9" fill="none" stroke="#a9cae5" stroke-width="4"/><use href="#p5_9" fill="#fad5ae"/><g clip-path="url(#cp5_9)"><use href="#p5_9" fill="none" stroke="#e8b07b" stroke-width="16"/><use href="#p5_9" fill="none" stroke="#b9a892" stroke-width="10"/><use href="#p5_9" fill="none" stroke="#5f9dcd" stroke-width="5"/><path d="M5.9 84 10.1 83.5 14.3 82.7 18.4 81.3 22.6 79.4 26.8 77.1 31 74.8 35.2 72.6 39.3 70.6 43.5 68.8 47.7 67.2 51.9 65.8 56.1 64.5 60.2 63.3 64.4 62.2 68.6 61.1 72.8 60.2 77 59.3 81.1 58.5 85.3 57.6 89.5 56.7 93.7 55.7 97.9 54.8 102 53.8 106.2 52.8 110.4 51.7 114.6 50.7 118.8 49.7 122.9 48.7" fill="none" stroke="#d3e5ea" stroke-width="16" stroke-linejoin="round"/></g><path d="M20.9 0V84M49.9 0V84M93.9 0V84M0 63H128M0 42H128M0 21H128" stroke="#bdbdbd" stroke-width="1" fill="none"/><path d="M5.9 0V84M64.4 0V84M122.9 0V84" stroke="#ff0000" stroke-width="4.8" opacity="0.5"/><path d="M5.9 84 10.1 83.5 14.3 82.7 18.4 81.3 22.6 79.4 26.8 77.1 31 74.8 35.2 72.6 39.3 70.6 43.5 68.8 47.7 67.2 51.9 65.8 56.1 64.5 60.2 63.3 64.4 62.2 68.6 61.1 72.8 60.2 77 59.3 81.1 58.5 85.3 57.6 89.5 56.7 93.7 55.7 97.9 54.8 102 53.8 106.2 52.8 110.4 51.7 114.6 50.7 118.8 49.7 122.9 48.7" fill="none" stroke="#000" stroke-width="9" stroke-linejoin="round" stroke-linecap="square"/></g></g><path d="M1925.1 904.5v11M1939.8 904.5v11M1954.4 904.5v11M1983.6 904.5v11M1998.3 904.5v11M2012.9 904.5v11M1904.6 883.5h-11M1904.6 862.5h-11M1904.6 841.5h-11" stroke="#000" stroke-width="3.1"/><path d="M1910.5 904.5v19M1969 904.5v19M2027.5 904.5v19M1904.6 904.5h-18.5M1904.6 820.5h-18.5" stroke="#ff0000" stroke-width="3.8"/><rect x="1904.6" y="820.5" width="128" height="84" fill="none" stroke="#ff0000" stroke-width="6"/><g transform="translate(2084 820.5)"><g clip-path="url(#a5_10)"><use href="#p5_10" fill="none" stroke="#a9cae5" stroke-width="4"/><use href="#p5_10" fill="#fad5ae"/><g clip-path="url(#cp5_10)"><use href="#p5_10" fill="none" stroke="#e8b07b" stroke-width="16"/><use href="#p5_10" fill="none" stroke="#b9a892" stroke-width="10"/><use href="#p5_10" fill="none" stroke="#5f9dcd" stroke-width="5"/><path d="M5.9 84 10.1 83.6 14.3 82.7 18.4 80.6 22.6 78.1 26.8 75.8 31 73.5 35.2 71.1 39.3 68.9 43.5 67.1 47.7 65.5 51.9 63.8 56.1 62.1 60.2 60.4 64.4 58.8 68.6 57.3 72.8 55.9 77 54.6 81.1 53.2 85.3 51.8 89.5 50.4 93.7 49 97.9 47.7 102 46.1 106.2 44.1 110.4 41.3 114.6 37.8 118.8 33.7 122.9 29.4" fill="none" stroke="#d3e5ea" stroke-width="16" stroke-linejoin="round"/></g><path d="M20.5 0V84M35.5 0V84M79.5 0V84M108.5 0V84M0 63H128M0 42H128M0 21H128" stroke="#bdbdbd" stroke-width="1" fill="none"/><path d="M5.9 0V84M64.4 0V84M122.9 0V84" stroke="#ff0000" stroke-width="4.8" opacity="0.5"/><path d="M5.9 84 10.1 83.6 14.3 82.7 18.4 80.6 22.6 78.1 26.8 75.8 31 73.5 35.2 71.1 39.3 68.9 43.5 67.1 47.7 65.5 51.9 63.8 56.1 62.1 60.2 60.4 64.4 58.8 68.6 57.3 72.8 55.9 77 54.6 81.1 53.2 85.3 51.8 89.5 50.4 93.7 49 97.9 47.7 102 46.1 106.2 44.1 110.4 41.3 114.6 37.8 118.8 33.7 122.9 29.4" fill="none" stroke="#000" stroke-width="9" stroke-linejoin="round" stroke-linecap="square"/></g></g><path d="M2104.5 904.5v11M2119.2 904.5v11M2133.8 904.5v11M2163 904.5v11M2177.7 904.5v11M2192.3 904.5v11M2084 883.5h-11M2084 862.5h-11M2084 841.5h-11" stroke="#000" stroke-width="3.1"/><path d="M2089.9 904.5v19M2148.4 904.5v19M2206.9 904.5v19M2084 904.5h-18.5M2084 820.5h-18.5" stroke="#ff0000" stroke-width="3.8"/><rect x="2084" y="820.5" width="128" height="84" fill="none" stroke="#ff0000" stroke-width="6"/><text transform="translate(2231 861.5) rotate(90)" text-anchor="middle">0.06</text><g transform="translate(290 938.4)"><g clip-path="url(#a6_0)"><use href="#p6_0" fill="none" stroke="#a9cae5" stroke-width="4"/><use href="#p6_0" fill="#fad5ae"/><g clip-path="url(#cp6_0)"><use href="#p6_0" fill="none" stroke="#e8b07b" stroke-width="16"/><use href="#p6_0" fill="none" stroke="#b9a892" stroke-width="10"/><use href="#p6_0" fill="none" stroke="#5f9dcd" stroke-width="5"/><path d="M5.9 84 10.1 83.2 14.3 82.1 18.4 79.9 22.6 76.7 26.8 71.7 31 66.4 35.2 61.8 39.3 58 43.5 55.8 47.7 54.2 51.9 52 56.1 49.6 60.2 47.1 64.4 44.5 68.6 41.9 72.8 39.2 77 36.5 81.1 33.6 85.3 30.4 89.5 26.9 93.7 22.6 97.9 17.7 102 12.8 106.2 8.4 110.4 4.6 114.6 1.7 118.8 0.5 122.9 0" fill="none" stroke="#d3e5ea" stroke-width="16" stroke-linejoin="round"/></g><path d="M20.5 0V84M49.5 0V84M93.5 0V84M0 63.1H128M0 42.1H128M0 21.1H128" stroke="#bdbdbd" stroke-width="1" fill="none"/><path d="M5.9 0V84M64.4 0V84M122.9 0V84" stroke="#ff0000" stroke-width="4.8" opacity="0.5"/><path d="M5.9 84 10.1 83.2 14.3 82.1 18.4 79.9 22.6 76.7 26.8 71.7 31 66.4 35.2 61.8 39.3 58 43.5 55.8 47.7 54.2 51.9 52 56.1 49.6 60.2 47.1 64.4 44.5 68.6 41.9 72.8 39.2 77 36.5 81.1 33.6 85.3 30.4 89.5 26.9 93.7 22.6 97.9 17.7 102 12.8 106.2 8.4 110.4 4.6 114.6 1.7 118.8 0.5 122.9 0" fill="none" stroke="#000" stroke-width="9" stroke-linejoin="round" stroke-linecap="square"/></g></g><path d="M310.5 1022.4v11M325.2 1022.4v11M339.8 1022.4v11M369 1022.4v11M383.7 1022.4v11M398.3 1022.4v11M290 1001.4h-11M290 980.4h-11M290 959.4h-11" stroke="#000" stroke-width="3.1"/><path d="M295.9 1022.4v19M354.4 1022.4v19M412.9 1022.4v19M290 1022.4h-18.5M290 938.4h-18.5" stroke="#ff0000" stroke-width="3.8"/><rect x="290" y="938.4" width="128" height="84" fill="none" stroke="#ff0000" stroke-width="6"/><text x="252" y="956.3" text-anchor="end">900</text><text x="252" y="1040.6" text-anchor="end">0</text><g transform="translate(469.4 938.4)"><g clip-path="url(#a6_1)"><use href="#p6_1" fill="none" stroke="#a9cae5" stroke-width="4"/><use href="#p6_1" fill="#d4e7ee"/><g clip-path="url(#cp6_1)"><use href="#p6_1" fill="none" stroke="#e8b07b" stroke-width="16"/><use href="#p6_1" fill="none" stroke="#b9a892" stroke-width="10"/><use href="#p6_1" fill="none" stroke="#5f9dcd" stroke-width="5"/><path d="M5.9 84 10.1 83.8 14.3 83.2 18.4 81.4 22.6 79 26.8 75.8 31 72.7 35.2 70.4 39.3 68.5 43.5 66.7 47.7 65.1 51.9 63.3 56.1 61.4 60.2 59.6 64.4 58 68.6 56.6 72.8 55.5 77 54.6 81.1 53.6 85.3 52.5 89.5 51.2 93.7 49.8 97.9 48.2 102 46.5 106.2 44.5 110.4 42.3 114.6 39.9 118.8 37.3 122.9 34.9" fill="none" stroke="#d3e5ea" stroke-width="16" stroke-linejoin="round"/></g><path d="M20.1 0V84M35.1 0V84M79.1 0V84M108.1 0V84M0 63.1H128M0 42.1H128M0 21.1H128" stroke="#bdbdbd" stroke-width="1" fill="none"/><path d="M5.9 0V84M64.4 0V84M122.9 0V84" stroke="#ff0000" stroke-width="4.8" opacity="0.5"/><path d="M5.9 84 10.1 83.8 14.3 83.2 18.4 81.4 22.6 79 26.8 75.8 31 72.7 35.2 70.4 39.3 68.5 43.5 66.7 47.7 65.1 51.9 63.3 56.1 61.4 60.2 59.6 64.4 58 68.6 56.6 72.8 55.5 77 54.6 81.1 53.6 85.3 52.5 89.5 51.2 93.7 49.8 97.9 48.2 102 46.5 106.2 44.5 110.4 42.3 114.6 39.9 118.8 37.3 122.9 34.9" fill="none" stroke="#000" stroke-width="9" stroke-linejoin="round" stroke-linecap="square"/></g></g><path d="M489.9 1022.4v11M504.6 1022.4v11M519.2 1022.4v11M548.4 1022.4v11M563.1 1022.4v11M577.7 1022.4v11M469.4 1001.4h-11M469.4 980.4h-11M469.4 959.4h-11" stroke="#000" stroke-width="3.1"/><path d="M475.3 1022.4v19M533.8 1022.4v19M592.3 1022.4v19M469.4 1022.4h-18.5M469.4 938.4h-18.5" stroke="#ff0000" stroke-width="3.8"/><rect x="469.4" y="938.4" width="128" height="84" fill="none" stroke="#ff0000" stroke-width="6"/><g transform="translate(648.8 938.4)"><g clip-path="url(#a6_2)"><use href="#p6_2" fill="none" stroke="#a9cae5" stroke-width="4"/><use href="#p6_2" fill="#d4e7ee"/><g clip-path="url(#cp6_2)"><use href="#p6_2" fill="none" stroke="#e8b07b" stroke-width="16"/><use href="#p6_2" fill="none" stroke="#b9a892" stroke-width="10"/><use href="#p6_2" fill="none" stroke="#5f9dcd" stroke-width="5"/><path d="M5.9 84 10.1 83.8 14.3 83.2 18.4 81.4 22.6 79 26.8 75.9 31 72.7 35.2 70.1 39.3 67.6 43.5 64.9 47.7 62.2 51.9 59.5 56.1 56.8 60.2 54.3 64.4 52.1 68.6 50.3 72.8 48.8 77 47.5 81.1 46.3 85.3 45 89.5 43.7 93.7 42.4 97.9 41.2 102 39.7 106.2 37.8 110.4 35.1 114.6 31.9 118.8 28.5 122.9 25.2" fill="none" stroke="#d3e5ea" stroke-width="16" stroke-linejoin="round"/></g><path d="M34.7 0V84M49.7 0V84M78.7 0V84M93.7 0V84M0 63.1H128M0 42.1H128M0 21.1H128" stroke="#bdbdbd" stroke-width="1" fill="none"/><path d="M5.9 0V84M64.4 0V84M122.9 0V84" stroke="#ff0000" stroke-width="4.8" opacity="0.5"/><path d="M5.9 84 10.1 83.8 14.3 83.2 18.4 81.4 22.6 79 26.8 75.9 31 72.7 35.2 70.1 39.3 67.6 43.5 64.9 47.7 62.2 51.9 59.5 56.1 56.8 60.2 54.3 64.4 52.1 68.6 50.3 72.8 48.8 77 47.5 81.1 46.3 85.3 45 89.5 43.7 93.7 42.4 97.9 41.2 102 39.7 106.2 37.8 110.4 35.1 114.6 31.9 118.8 28.5 122.9 25.2" fill="none" stroke="#000" stroke-width="9" stroke-linejoin="round" stroke-linecap="square"/></g></g><path d="M669.3 1022.4v11M684 1022.4v11M698.6 1022.4v11M727.8 1022.4v11M742.5 1022.4v11M757.1 1022.4v11M648.8 1001.4h-11M648.8 980.4h-11M648.8 959.4h-11" stroke="#000" stroke-width="3.1"/><path d="M654.7 1022.4v19M713.2 1022.4v19M771.7 1022.4v19M648.8 1022.4h-18.5M648.8 938.4h-18.5" stroke="#ff0000" stroke-width="3.8"/><rect x="648.8" y="938.4" width="128" height="84" fill="none" stroke="#ff0000" stroke-width="6"/><g transform="translate(828.2 938.4)"><g clip-path="url(#a6_3)"><use href="#p6_3" fill="none" stroke="#a9cae5" stroke-width="4"/><use href="#p6_3" fill="#d4e7ee"/><g clip-path="url(#cp6_3)"><use href="#p6_3" fill="none" stroke="#e8b07b" stroke-width="16"/><use href="#p6_3" fill="none" stroke="#b9a892" stroke-width="10"/><use href="#p6_3" fill="none" stroke="#5f9dcd" stroke-width="5"/><path d="M5.9 84 10.1 83.8 14.3 83.2 18.4 81.4 22.6 79 26.8 75.9 31 72.7 35.2 70 39.3 67.6 43.5 65.8 47.7 64.3 51.9 62.6 56.1 60.9 60.2 59.4 64.4 58 68.6 56.8 72.8 55.9 77 55 81.1 54.2 85.3 53.2 89.5 52.1 93.7 50.8 97.9 49.4 102 47.8 106.2 45.8 110.4 43.1 114.6 40.1 118.8 36.8 122.9 33.6" fill="none" stroke="#d3e5ea" stroke-width="16" stroke-linejoin="round"/></g><path d="M20.3 0V84M49.3 0V84M93.3 0V84M0 63.1H128M0 42.1H128M0 21.1H128" stroke="#bdbdbd" stroke-width="1" fill="none"/><path d="M5.9 0V84M64.4 0V84M122.9 0V84" stroke="#ff0000" stroke-width="4.8" opacity="0.5"/><path d="M5.9 84 10.1 83.8 14.3 83.2 18.4 81.4 22.6 79 26.8 75.9 31 72.7 35.2 70 39.3 67.6 43.5 65.8 47.7 64.3 51.9 62.6 56.1 60.9 60.2 59.4 64.4 58 68.6 56.8 72.8 55.9 77 55 81.1 54.2 85.3 53.2 89.5 52.1 93.7 50.8 97.9 49.4 102 47.8 106.2 45.8 110.4 43.1 114.6 40.1 118.8 36.8 122.9 33.6" fill="none" stroke="#000" stroke-width="9" stroke-linejoin="round" stroke-linecap="square"/></g></g><path d="M848.7 1022.4v11M863.4 1022.4v11M878 1022.4v11M907.2 1022.4v11M921.9 1022.4v11M936.5 1022.4v11M828.2 1001.4h-11M828.2 980.4h-11M828.2 959.4h-11" stroke="#000" stroke-width="3.1"/><path d="M834.1 1022.4v19M892.6 1022.4v19M951.1 1022.4v19M828.2 1022.4h-18.5M828.2 938.4h-18.5" stroke="#ff0000" stroke-width="3.8"/><rect x="828.2" y="938.4" width="128" height="84" fill="none" stroke="#ff0000" stroke-width="6"/><g transform="translate(1007.6 938.4)"><g clip-path="url(#a6_4)"><use href="#p6_4" fill="none" stroke="#a9cae5" stroke-width="4"/><use href="#p6_4" fill="#fad5ae"/><g clip-path="url(#cp6_4)"><use href="#p6_4" fill="none" stroke="#e8b07b" stroke-width="16"/><use href="#p6_4" fill="none" stroke="#b9a892" stroke-width="10"/><use href="#p6_4" fill="none" stroke="#5f9dcd" stroke-width="5"/><path d="M5.9 84 10.1 83.8 14.3 83.2 18.4 81.3 22.6 79 26.8 76.9 31 74.8 35.2 72.5 39.3 70.6 43.5 69.4 47.7 68.5 51.9 67.6 56.1 66.7 60.2 65.9 64.4 65.1 68.6 64.3 72.8 63.6 77 62.9 81.1 62.2 85.3 61.4 89.5 60.5 93.7 59.4 97.9 58.2 102 56.9 106.2 55.4 110.4 53.7 114.6 51.8 118.8 49.8 122.9 47.9" fill="none" stroke="#d3e5ea" stroke-width="16" stroke-linejoin="round"/></g><path d="M34.9 0V84M78.9 0V84M93.9 0V84M107.9 0V84M0 63.1H128M0 42.1H128M0 21.1H128" stroke="#bdbdbd" stroke-width="1" fill="none"/><path d="M5.9 0V84M64.4 0V84M122.9 0V84" stroke="#ff0000" stroke-width="4.8" opacity="0.5"/><path d="M5.9 84 10.1 83.8 14.3 83.2 18.4 81.3 22.6 79 26.8 76.9 31 74.8 35.2 72.5 39.3 70.6 43.5 69.4 47.7 68.5 51.9 67.6 56.1 66.7 60.2 65.9 64.4 65.1 68.6 64.3 72.8 63.6 77 62.9 81.1 62.2 85.3 61.4 89.5 60.5 93.7 59.4 97.9 58.2 102 56.9 106.2 55.4 110.4 53.7 114.6 51.8 118.8 49.8 122.9 47.9" fill="none" stroke="#000" stroke-width="9" stroke-linejoin="round" stroke-linecap="square"/></g></g><path d="M1028.1 1022.4v11M1042.8 1022.4v11M1057.4 1022.4v11M1086.6 1022.4v11M1101.3 1022.4v11M1115.9 1022.4v11M1007.6 1001.4h-11M1007.6 980.4h-11M1007.6 959.4h-11" stroke="#000" stroke-width="3.1"/><path d="M1013.5 1022.4v19M1072 1022.4v19M1130.5 1022.4v19M1007.6 1022.4h-18.5M1007.6 938.4h-18.5" stroke="#ff0000" stroke-width="3.8"/><rect x="1007.6" y="938.4" width="128" height="84" fill="none" stroke="#ff0000" stroke-width="6"/><g transform="translate(1187 938.4)"><g clip-path="url(#a6_5)"><use href="#p6_5" fill="none" stroke="#a9cae5" stroke-width="4"/><use href="#p6_5" fill="#fad5ae"/><g clip-path="url(#cp6_5)"><use href="#p6_5" fill="none" stroke="#e8b07b" stroke-width="16"/><use href="#p6_5" fill="none" stroke="#b9a892" stroke-width="10"/><use href="#p6_5" fill="none" stroke="#5f9dcd" stroke-width="5"/><path d="M5.9 84 10.1 83.8 14.3 83.2 18.4 81.4 22.6 79 26.8 75.9 31 72.7 35.2 70 39.3 67.6 43.5 65.8 47.7 64.3 51.9 62.9 56.1 61.8 60.2 60.7 64.4 59.6 68.6 58.7 72.8 57.7 77 56.9 81.1 56 85.3 55.1 89.5 54.2 93.7 53.4 97.9 52.6 102 51.6 106.2 50 110.4 47.5 114.6 44.4 118.8 41 122.9 37.8" fill="none" stroke="#d3e5ea" stroke-width="16" stroke-linejoin="round"/></g><path d="M20.5 0V84M49.5 0V84M79.5 0V84M108.5 0V84M0 63.1H128M0 42.1H128M0 21.1H128" stroke="#bdbdbd" stroke-width="1" fill="none"/><path d="M5.9 0V84M64.4 0V84M122.9 0V84" stroke="#ff0000" stroke-width="4.8" opacity="0.5"/><path d="M5.9 84 10.1 83.8 14.3 83.2 18.4 81.4 22.6 79 26.8 75.9 31 72.7 35.2 70 39.3 67.6 43.5 65.8 47.7 64.3 51.9 62.9 56.1 61.8 60.2 60.7 64.4 59.6 68.6 58.7 72.8 57.7 77 56.9 81.1 56 85.3 55.1 89.5 54.2 93.7 53.4 97.9 52.6 102 51.6 106.2 50 110.4 47.5 114.6 44.4 118.8 41 122.9 37.8" fill="none" stroke="#000" stroke-width="9" stroke-linejoin="round" stroke-linecap="square"/></g></g><path d="M1207.5 1022.4v11M1222.2 1022.4v11M1236.8 1022.4v11M1266 1022.4v11M1280.7 1022.4v11M1295.3 1022.4v11M1187 1001.4h-11M1187 980.4h-11M1187 959.4h-11" stroke="#000" stroke-width="3.1"/><path d="M1192.9 1022.4v19M1251.4 1022.4v19M1309.9 1022.4v19M1187 1022.4h-18.5M1187 938.4h-18.5" stroke="#ff0000" stroke-width="3.8"/><rect x="1187" y="938.4" width="128" height="84" fill="none" stroke="#ff0000" stroke-width="6"/><g transform="translate(1366.4 938.4)"><g clip-path="url(#a6_6)"><use href="#p6_6" fill="none" stroke="#a9cae5" stroke-width="4"/><use href="#p6_6" fill="#fad5ae"/><g clip-path="url(#cp6_6)"><use href="#p6_6" fill="none" stroke="#e8b07b" stroke-width="16"/><use href="#p6_6" fill="none" stroke="#b9a892" stroke-width="10"/><use href="#p6_6" fill="none" stroke="#5f9dcd" stroke-width="5"/><path d="M5.9 84 10.1 83.8 14.3 83.2 18.4 81 22.6 78.1 26.8 74.9 31 71.8 35.2 69.5 39.3 67.6 43.5 65.8 47.7 64.3 51.9 62.9 56.1 61.8 60.2 60.7 64.4 59.6 68.6 58.7 72.8 57.8 77 57 81.1 56.1 85.3 55.2 89.5 54.2 93.7 53.1 97.9 51.9 102 50.5 106.2 48.7 110.4 46.5 114.6 44 118.8 41.3 122.9 38.6" fill="none" stroke="#d3e5ea" stroke-width="16" stroke-linejoin="round"/></g><path d="M20.1 0V84M35.1 0V84M50.1 0V84M79.1 0V84M94.1 0V84M0 63.1H128M0 42.1H128M0 21.1H128" stroke="#bdbdbd" stroke-width="1" fill="none"/><path d="M5.9 0V84M64.4 0V84M122.9 0V84" stroke="#ff0000" stroke-width="4.8" opacity="0.5"/><path d="M5.9 84 10.1 83.8 14.3 83.2 18.4 81 22.6 78.1 26.8 74.9 31 71.8 35.2 69.5 39.3 67.6 43.5 65.8 47.7 64.3 51.9 62.9 56.1 61.8 60.2 60.7 64.4 59.6 68.6 58.7 72.8 57.8 77 57 81.1 56.1 85.3 55.2 89.5 54.2 93.7 53.1 97.9 51.9 102 50.5 106.2 48.7 110.4 46.5 114.6 44 118.8 41.3 122.9 38.6" fill="none" stroke="#000" stroke-width="9" stroke-linejoin="round" stroke-linecap="square"/></g></g><path d="M1386.9 1022.4v11M1401.6 1022.4v11M1416.2 1022.4v11M1445.4 1022.4v11M1460.1 1022.4v11M1474.7 1022.4v11M1366.4 1001.4h-11M1366.4 980.4h-11M1366.4 959.4h-11" stroke="#000" stroke-width="3.1"/><path d="M1372.3 1022.4v19M1430.8 1022.4v19M1489.3 1022.4v19M1366.4 1022.4h-18.5M1366.4 938.4h-18.5" stroke="#ff0000" stroke-width="3.8"/><rect x="1366.4" y="938.4" width="128" height="84" fill="none" stroke="#ff0000" stroke-width="6"/><g transform="translate(1545.8 938.4)"><g clip-path="url(#a6_7)"><use href="#p6_7" fill="none" stroke="#a9cae5" stroke-width="4"/><use href="#p6_7" fill="#fad5ae"/><g clip-path="url(#cp6_7)"><use href="#p6_7" fill="none" stroke="#e8b07b" stroke-width="16"/><use href="#p6_7" fill="none" stroke="#b9a892" stroke-width="10"/><use href="#p6_7" fill="none" stroke="#5f9dcd" stroke-width="5"/><path d="M5.9 84 10.1 83.7 14.3 83.2 18.4 81.7 22.6 79.8 26.8 77.3 31 74.8 35.2 72.5 39.3 70.6 43.5 69 47.7 67.6 51.9 66.2 56.1 64.7 60.2 63.4 64.4 62.2 68.6 61.2 72.8 60.3 77 59.6 81.1 58.9 85.3 58.1 89.5 57.1 93.7 56 97.9 54.9 102 53.6 106.2 52.1 110.4 50.4 114.6 48.5 118.8 46.5 122.9 44.5" fill="none" stroke="#d3e5ea" stroke-width="16" stroke-linejoin="round"/></g><path d="M34.7 0V84M93.7 0V84M108.7 0V84M0 63.1H128M0 42.1H128M0 21.1H128" stroke="#bdbdbd" stroke-width="1" fill="none"/><path d="M5.9 0V84M64.4 0V84M122.9 0V84" stroke="#ff0000" stroke-width="4.8" opacity="0.5"/><path d="M5.9 84 10.1 83.7 14.3 83.2 18.4 81.7 22.6 79.8 26.8 77.3 31 74.8 35.2 72.5 39.3 70.6 43.5 69 47.7 67.6 51.9 66.2 56.1 64.7 60.2 63.4 64.4 62.2 68.6 61.2 72.8 60.3 77 59.6 81.1 58.9 85.3 58.1 89.5 57.1 93.7 56 97.9 54.9 102 53.6 106.2 52.1 110.4 50.4 114.6 48.5 118.8 46.5 122.9 44.5" fill="none" stroke="#000" stroke-width="9" stroke-linejoin="round" stroke-linecap="square"/></g></g><path d="M1566.3 1022.4v11M1581 1022.4v11M1595.6 1022.4v11M1624.8 1022.4v11M1639.5 1022.4v11M1654.1 1022.4v11M1545.8 1001.4h-11M1545.8 980.4h-11M1545.8 959.4h-11" stroke="#000" stroke-width="3.1"/><path d="M1551.7 1022.4v19M1610.2 1022.4v19M1668.7 1022.4v19M1545.8 1022.4h-18.5M1545.8 938.4h-18.5" stroke="#ff0000" stroke-width="3.8"/><rect x="1545.8" y="938.4" width="128" height="84" fill="none" stroke="#ff0000" stroke-width="6"/><g transform="translate(1725.2 938.4)"><g clip-path="url(#a6_8)"><use href="#p6_8" fill="none" stroke="#a9cae5" stroke-width="4"/><use href="#p6_8" fill="#d4e7ee"/><g clip-path="url(#cp6_8)"><use href="#p6_8" fill="none" stroke="#e8b07b" stroke-width="16"/><use href="#p6_8" fill="none" stroke="#b9a892" stroke-width="10"/><use href="#p6_8" fill="none" stroke="#5f9dcd" stroke-width="5"/><path d="M5.9 84 10.1 83.7 14.3 83.2 18.4 81.7 22.6 79.8 26.8 77.3 31 74.8 35.2 73.1 39.3 71.8 43.5 70.5 47.7 69.3 51.9 68.4 56.1 67.8 60.2 67.1 64.4 66.4 68.6 65.6 72.8 64.9 77 64.1 81.1 63.2 85.3 62 89.5 60.5 93.7 58.5 97.9 56 102 53.2 106.2 50 110.4 46.3 114.6 42.2 118.8 37.8 122.9 33.6" fill="none" stroke="#d3e5ea" stroke-width="16" stroke-linejoin="round"/></g><path d="M35.3 0V84M49.3 0V84M79.3 0V84M108.3 0V84M0 63.1H128M0 42.1H128M0 21.1H128" stroke="#bdbdbd" stroke-width="1" fill="none"/><path d="M5.9 0V84M64.4 0V84M122.9 0V84" stroke="#ff0000" stroke-width="4.8" opacity="0.5"/><path d="M5.9 84 10.1 83.7 14.3 83.2 18.4 81.7 22.6 79.8 26.8 77.3 31 74.8 35.2 73.1 39.3 71.8 43.5 70.5 47.7 69.3 51.9 68.4 56.1 67.8 60.2 67.1 64.4 66.4 68.6 65.6 72.8 64.9 77 64.1 81.1 63.2 85.3 62 89.5 60.5 93.7 58.5 97.9 56 102 53.2 106.2 50 110.4 46.3 114.6 42.2 118.8 37.8 122.9 33.6" fill="none" stroke="#000" stroke-width="9" stroke-linejoin="round" stroke-linecap="square"/></g></g><path d="M1745.7 1022.4v11M1760.4 1022.4v11M1775 1022.4v11M1804.2 1022.4v11M1818.9 1022.4v11M1833.5 1022.4v11M1725.2 1001.4h-11M1725.2 980.4h-11M1725.2 959.4h-11" stroke="#000" stroke-width="3.1"/><path d="M1731.1 1022.4v19M1789.6 1022.4v19M1848.1 1022.4v19M1725.2 1022.4h-18.5M1725.2 938.4h-18.5" stroke="#ff0000" stroke-width="3.8"/><rect x="1725.2" y="938.4" width="128" height="84" fill="none" stroke="#ff0000" stroke-width="6"/><g transform="translate(1904.6 938.4)"><g clip-path="url(#a6_9)"><use href="#p6_9" fill="none" stroke="#a9cae5" stroke-width="4"/><use href="#p6_9" fill="#d4e7ee"/><g clip-path="url(#cp6_9)"><use href="#p6_9" fill="none" stroke="#e8b07b" stroke-width="16"/><use href="#p6_9" fill="none" stroke="#b9a892" stroke-width="10"/><use href="#p6_9" fill="none" stroke="#5f9dcd" stroke-width="5"/><path d="M5.9 84 10.1 83.8 14.3 83.2 18.4 81.4 22.6 79 26.8 76.2 31 73.5 35.2 71.2 39.3 69.3 43.5 67.8 47.7 66.4 51.9 64.9 56.1 63.4 60.2 61.9 64.4 60.5 68.6 59.1 72.8 57.8 77 56.5 81.1 55.2 85.3 53.7 89.5 52.1 93.7 50.5 97.9 48.8 102 46.7 106.2 43.7 110.4 39.5 114.6 34.3 118.8 28.8 122.9 23.5" fill="none" stroke="#d3e5ea" stroke-width="16" stroke-linejoin="round"/></g><path d="M20.9 0V84M49.9 0V84M93.9 0V84M0 63.1H128M0 42.1H128M0 21.1H128" stroke="#bdbdbd" stroke-width="1" fill="none"/><path d="M5.9 0V84M64.4 0V84M122.9 0V84" stroke="#ff0000" stroke-width="4.8" opacity="0.5"/><path d="M5.9 84 10.1 83.8 14.3 83.2 18.4 81.4 22.6 79 26.8 76.2 31 73.5 35.2 71.2 39.3 69.3 43.5 67.8 47.7 66.4 51.9 64.9 56.1 63.4 60.2 61.9 64.4 60.5 68.6 59.1 72.8 57.8 77 56.5 81.1 55.2 85.3 53.7 89.5 52.1 93.7 50.5 97.9 48.8 102 46.7 106.2 43.7 110.4 39.5 114.6 34.3 118.8 28.8 122.9 23.5" fill="none" stroke="#000" stroke-width="9" stroke-linejoin="round" stroke-linecap="square"/></g></g><path d="M1925.1 1022.4v11M1939.8 1022.4v11M1954.4 1022.4v11M1983.6 1022.4v11M1998.3 1022.4v11M2012.9 1022.4v11M1904.6 1001.4h-11M1904.6 980.4h-11M1904.6 959.4h-11" stroke="#000" stroke-width="3.1"/><path d="M1910.5 1022.4v19M1969 1022.4v19M2027.5 1022.4v19M1904.6 1022.4h-18.5M1904.6 938.4h-18.5" stroke="#ff0000" stroke-width="3.8"/><rect x="1904.6" y="938.4" width="128" height="84" fill="none" stroke="#ff0000" stroke-width="6"/><g transform="translate(2084 938.4)"><g clip-path="url(#a6_10)"><use href="#p6_10" fill="none" stroke="#a9cae5" stroke-width="4"/><use href="#p6_10" fill="#d4e7ee"/><g clip-path="url(#cp6_10)"><use href="#p6_10" fill="none" stroke="#e8b07b" stroke-width="16"/><use href="#p6_10" fill="none" stroke="#b9a892" stroke-width="10"/><use href="#p6_10" fill="none" stroke="#5f9dcd" stroke-width="5"/><path d="M5.9 84 10.1 83.6 14.3 82.7 18.4 80.6 22.6 78.1 26.8 76 31 73.9 35.2 71.6 39.3 69.3 43.5 67.4 47.7 65.5 51.9 63.6 56.1 61.7 60.2 59.7 64.4 57.5 68.6 55.3 72.8 53.1 77 50.8 81.1 48.4 85.3 45.7 89.5 42.8 93.7 39.7 97.9 36.2 102 32.4 106.2 28.1 110.4 23.2 114.6 17.6 118.8 11.8 122.9 5.9" fill="none" stroke="#d3e5ea" stroke-width="16" stroke-linejoin="round"/></g><path d="M20.5 0V84M35.5 0V84M79.5 0V84M108.5 0V84M0 63.1H128M0 42.1H128M0 21.1H128" stroke="#bdbdbd" stroke-width="1" fill="none"/><path d="M5.9 0V84M64.4 0V84M122.9 0V84" stroke="#ff0000" stroke-width="4.8" opacity="0.5"/><path d="M5.9 84 10.1 83.6 14.3 82.7 18.4 80.6 22.6 78.1 26.8 76 31 73.9 35.2 71.6 39.3 69.3 43.5 67.4 47.7 65.5 51.9 63.6 56.1 61.7 60.2 59.7 64.4 57.5 68.6 55.3 72.8 53.1 77 50.8 81.1 48.4 85.3 45.7 89.5 42.8 93.7 39.7 97.9 36.2 102 32.4 106.2 28.1 110.4 23.2 114.6 17.6 118.8 11.8 122.9 5.9" fill="none" stroke="#000" stroke-width="9" stroke-linejoin="round" stroke-linecap="square"/></g></g><path d="M2104.5 1022.4v11M2119.2 1022.4v11M2133.8 1022.4v11M2163 1022.4v11M2177.7 1022.4v11M2192.3 1022.4v11M2084 1001.4h-11M2084 980.4h-11M2084 959.4h-11" stroke="#000" stroke-width="3.1"/><path d="M2089.9 1022.4v19M2148.4 1022.4v19M2206.9 1022.4v19M2084 1022.4h-18.5M2084 938.4h-18.5" stroke="#ff0000" stroke-width="3.8"/><rect x="2084" y="938.4" width="128" height="84" fill="none" stroke="#ff0000" stroke-width="6"/><text transform="translate(2231 979.4) rotate(90)" text-anchor="middle">0.07</text><g transform="translate(290 1056.3)"><g clip-path="url(#a7_0)"><use href="#p7_0" fill="none" stroke="#a9cae5" stroke-width="4"/><use href="#p7_0" fill="#fad5ae"/><g clip-path="url(#cp7_0)"><use href="#p7_0" fill="none" stroke="#e8b07b" stroke-width="16"/><use href="#p7_0" fill="none" stroke="#b9a892" stroke-width="10"/><use href="#p7_0" fill="none" stroke="#5f9dcd" stroke-width="5"/><path d="M5.9 84 10.1 83.8 14.3 83.2 18.4 81.2 22.6 78.1 26.8 74.2 31 69.7 35.2 65.4 39.3 60.9 43.5 55.7 47.7 50.4 51.9 45.8 56.1 41.2 60.2 36.1 64.4 30.7 68.6 24.7 72.8 18.5 77 11.9 81.1 5.9 85.3 1 89.5 0 93.7 0 97.9 0 102 0 106.2 0 110.4 0 114.6 0 118.8 0 122.9 0" fill="none" stroke="#d3e5ea" stroke-width="16" stroke-linejoin="round"/></g><path d="M20.5 0V84M49.5 0V84M93.5 0V84" stroke="#bdbdbd" stroke-width="1" fill="none"/><path d="M5.9 0V84M64.4 0V84M122.9 0V84" stroke="#ff0000" stroke-width="4.8" opacity="0.5"/><path d="M5.9 84 10.1 83.8 14.3 83.2 18.4 81.2 22.6 78.1 26.8 74.2 31 69.7 35.2 65.4 39.3 60.9 43.5 55.7 47.7 50.4 51.9 45.8 56.1 41.2 60.2 36.1 64.4 30.7 68.6 24.7 72.8 18.5 77 11.9 81.1 5.9 85.3 1 89.5 0 93.7 0 97.9 0 102 0 106.2 0 110.4 0 114.6 0 118.8 0 122.9 0" fill="none" stroke="#000" stroke-width="9" stroke-linejoin="round" stroke-linecap="square"/></g></g><path d="M310.5 1140.3v11M325.2 1140.3v11M339.8 1140.3v11M369 1140.3v11M383.7 1140.3v11M398.3 1140.3v11M290 1119.3h-11M290 1098.3h-11M290 1077.3h-11" stroke="#000" stroke-width="3.1"/><path d="M295.9 1140.3v19M354.4 1140.3v19M412.9 1140.3v19M290 1140.3h-18.5M290 1056.3h-18.5" stroke="#ff0000" stroke-width="3.8"/><rect x="290" y="1056.3" width="128" height="84" fill="none" stroke="#ff0000" stroke-width="6"/><text x="252" y="1074.2" text-anchor="end">900</text><text x="252" y="1158.5" text-anchor="end">0</text><g transform="translate(469.4 1056.3)"><g clip-path="url(#a7_1)"><use href="#p7_1" fill="none" stroke="#a9cae5" stroke-width="4"/><use href="#p7_1" fill="#fad5ae"/><g clip-path="url(#cp7_1)"><use href="#p7_1" fill="none" stroke="#e8b07b" stroke-width="16"/><use href="#p7_1" fill="none" stroke="#b9a892" stroke-width="10"/><use href="#p7_1" fill="none" stroke="#5f9dcd" stroke-width="5"/><path d="M5.9 84 10.1 83.8 14.3 83.2 18.4 81.5 22.6 79.4 26.8 77.2 31 74.8 35.2 71.8 39.3 68.9 43.5 66.4 47.7 63.8 51.9 61.1 56.1 58 60.2 54 64.4 49.6 68.6 44.4 72.8 39.1 77 33.9 81.1 28.6 85.3 22.7 89.5 16.8 93.7 11.2 97.9 5.9 102 0.3 106.2 0 110.4 0 114.6 0 118.8 0 122.9 0" fill="none" stroke="#d3e5ea" stroke-width="16" stroke-linejoin="round"/></g><path d="M20.1 0V84M35.1 0V84M79.1 0V84M108.1 0V84" stroke="#bdbdbd" stroke-width="1" fill="none"/><path d="M5.9 0V84M64.4 0V84M122.9 0V84" stroke="#ff0000" stroke-width="4.8" opacity="0.5"/><path d="M5.9 84 10.1 83.8 14.3 83.2 18.4 81.5 22.6 79.4 26.8 77.2 31 74.8 35.2 71.8 39.3 68.9 43.5 66.4 47.7 63.8 51.9 61.1 56.1 58 60.2 54 64.4 49.6 68.6 44.4 72.8 39.1 77 33.9 81.1 28.6 85.3 22.7 89.5 16.8 93.7 11.2 97.9 5.9 102 0.3 106.2 0 110.4 0 114.6 0 118.8 0 122.9 0" fill="none" stroke="#000" stroke-width="9" stroke-linejoin="round" stroke-linecap="square"/></g></g><path d="M489.9 1140.3v11M504.6 1140.3v11M519.2 1140.3v11M548.4 1140.3v11M563.1 1140.3v11M577.7 1140.3v11M469.4 1119.3h-11M469.4 1098.3h-11M469.4 1077.3h-11" stroke="#000" stroke-width="3.1"/><path d="M475.3 1140.3v19M533.8 1140.3v19M592.3 1140.3v19M469.4 1140.3h-18.5M469.4 1056.3h-18.5" stroke="#ff0000" stroke-width="3.8"/><rect x="469.4" y="1056.3" width="128" height="84" fill="none" stroke="#ff0000" stroke-width="6"/><g transform="translate(648.8 1056.3)"><g clip-path="url(#a7_2)"><use href="#p7_2" fill="none" stroke="#a9cae5" stroke-width="4"/><use href="#p7_2" fill="#fad5ae"/><g clip-path="url(#cp7_2)"><use href="#p7_2" fill="none" stroke="#e8b07b" stroke-width="16"/><use href="#p7_2" fill="none" stroke="#b9a892" stroke-width="10"/><use href="#p7_2" fill="none" stroke="#5f9dcd" stroke-width="5"/><path d="M5.9 84 10.1 83.8 14.3 83.2 18.4 81.6 22.6 79.4 26.8 76.7 31 73.9 35.2 71.4 39.3 68.9 43.5 66.4 47.7 63.8 51.9 60.9 56.1 58 60.2 55.4 64.4 52.5 68.6 48.3 72.8 43.3 77 37.4 81.1 31.1 85.3 24.8 89.5 18.5 93.7 12 97.9 5.9 102 0.3 106.2 0 110.4 0 114.6 0 118.8 0 122.9 0" fill="none" stroke="#d3e5ea" stroke-width="16" stroke-linejoin="round"/></g><path d="M34.7 0V84M49.7 0V84M78.7 0V84M93.7 0V84" stroke="#bdbdbd" stroke-width="1" fill="none"/><path d="M5.9 0V84M64.4 0V84M122.9 0V84" stroke="#ff0000" stroke-width="4.8" opacity="0.5"/><path d="M5.9 84 10.1 83.8 14.3 83.2 18.4 81.6 22.6 79.4 26.8 76.7 31 73.9 35.2 71.4 39.3 68.9 43.5 66.4 47.7 63.8 51.9 60.9 56.1 58 60.2 55.4 64.4 52.5 68.6 48.3 72.8 43.3 77 37.4 81.1 31.1 85.3 24.8 89.5 18.5 93.7 12 97.9 5.9 102 0.3 106.2 0 110.4 0 114.6 0 118.8 0 122.9 0" fill="none" stroke="#000" stroke-width="9" stroke-linejoin="round" stroke-linecap="square"/></g></g><path d="M669.3 1140.3v11M684 1140.3v11M698.6 1140.3v11M727.8 1140.3v11M742.5 1140.3v11M757.1 1140.3v11M648.8 1119.3h-11M648.8 1098.3h-11M648.8 1077.3h-11" stroke="#000" stroke-width="3.1"/><path d="M654.7 1140.3v19M713.2 1140.3v19M771.7 1140.3v19M648.8 1140.3h-18.5M648.8 1056.3h-18.5" stroke="#ff0000" stroke-width="3.8"/><rect x="648.8" y="1056.3" width="128" height="84" fill="none" stroke="#ff0000" stroke-width="6"/><g transform="translate(828.2 1056.3)"><g clip-path="url(#a7_3)"><use href="#p7_3" fill="none" stroke="#a9cae5" stroke-width="4"/><use href="#p7_3" fill="#fad5ae"/><g clip-path="url(#cp7_3)"><use href="#p7_3" fill="none" stroke="#e8b07b" stroke-width="16"/><use href="#p7_3" fill="none" stroke="#b9a892" stroke-width="10"/><use href="#p7_3" fill="none" stroke="#5f9dcd" stroke-width="5"/><path d="M5.9 84 10.1 83.8 14.3 83.2 18.4 81 22.6 78.1 26.8 75.5 31 73.1 35.2 70.9 39.3 68.9 43.5 66.8 47.7 64.7 51.9 62.9 56.1 60.9 60.2 58.3 64.4 55.4 68.6 52.7 72.8 49.6 77 45.6 81.1 41.2 85.3 36.4 89.5 31.1 93.7 24.9 97.9 18.5 102 12 106.2 5.9 110.4 0.3 114.6 0 118.8 0 122.9 0" fill="none" stroke="#d3e5ea" stroke-width="16" stroke-linejoin="round"/></g><path d="M20.3 0V84M49.3 0V84M93.3 0V84" stroke="#bdbdbd" stroke-width="1" fill="none"/><path d="M5.9 0V84M64.4 0V84M122.9 0V84" stroke="#ff0000" stroke-width="4.8" opacity="0.5"/><path d="M5.9 84 10.1 83.8 14.3 83.2 18.4 81 22.6 78.1 26.8 75.5 31 73.1 35.2 70.9 39.3 68.9 43.5 66.8 47.7 64.7 51.9 62.9 56.1 60.9 60.2 58.3 64.4 55.4 68.6 52.7 72.8 49.6 77 45.6 81.1 41.2 85.3 36.4 89.5 31.1 93.7 24.9 97.9 18.5 102 12 106.2 5.9 110.4 0.3 114.6 0 118.8 0 122.9 0" fill="none" stroke="#000" stroke-width="9" stroke-linejoin="round" stroke-linecap="square"/></g></g><path d="M848.7 1140.3v11M863.4 1140.3v11M878 1140.3v11M907.2 1140.3v11M921.9 1140.3v11M936.5 1140.3v11M828.2 1119.3h-11M828.2 1098.3h-11M828.2 1077.3h-11" stroke="#000" stroke-width="3.1"/><path d="M834.1 1140.3v19M892.6 1140.3v19M951.1 1140.3v19M828.2 1140.3h-18.5M828.2 1056.3h-18.5" stroke="#ff0000" stroke-width="3.8"/><rect x="828.2" y="1056.3" width="128" height="84" fill="none" stroke="#ff0000" stroke-width="6"/><g transform="translate(1007.6 1056.3)"><g clip-path="url(#a7_4)"><use href="#p7_4" fill="none" stroke="#a9cae5" stroke-width="4"/><use href="#p7_4" fill="#98bedf"/><use href="#p7_4" fill="none" stroke="#5f9dcd" stroke-width="5" clip-path="url(#cp7_4)"/><use href="#q7_4" fill="none" stroke="#b9a892" stroke-width="5"/><use href="#q7_4" fill="#fad5ae"/><g clip-path="url(#cq7_4)"><use href="#q7_4" fill="none" stroke="#e8b07b" stroke-width="6"/><path d="M5.9 84 10.1 83.8 14.3 83.2 18.4 80.8 22.6 77.3 26.8 73.5 31 69.7 35.2 66.6 39.3 63.8 43.5 61.6 47.7 59.6 51.9 57.6 56.1 55.4 60.2 52.8 64.4 49.6 68.6 45.7 72.8 41.2 77 35.4 81.1 29.4 85.3 24 89.5 18.5 93.7 12.1 97.9 5.9 102 0.3 106.2 0 110.4 0 114.6 0 118.8 0 122.9 0" fill="none" stroke="#d3e5ea" stroke-width="16" stroke-linejoin="round"/></g><path d="M34.9 0V84M78.9 0V84M93.9 0V84M107.9 0V84" stroke="#bdbdbd" stroke-width="1" fill="none"/><path d="M5.9 0V84M64.4 0V84M122.9 0V84" stroke="#ff0000" stroke-width="4.8" opacity="0.5"/><path d="M5.9 84 10.1 83.8 14.3 83.2 18.4 80.8 22.6 77.3 26.8 73.5 31 69.7 35.2 66.6 39.3 63.8 43.5 61.6 47.7 59.6 51.9 57.6 56.1 55.4 60.2 52.8 64.4 49.6 68.6 45.7 72.8 41.2 77 35.4 81.1 29.4 85.3 24 89.5 18.5 93.7 12.1 97.9 5.9 102 0.3 106.2 0 110.4 0 114.6 0 118.8 0 122.9 0" fill="none" stroke="#000" stroke-width="9" stroke-linejoin="round" stroke-linecap="square"/></g></g><path d="M1028.1 1140.3v11M1042.8 1140.3v11M1057.4 1140.3v11M1086.6 1140.3v11M1101.3 1140.3v11M1115.9 1140.3v11M1007.6 1119.3h-11M1007.6 1098.3h-11M1007.6 1077.3h-11" stroke="#000" stroke-width="3.1"/><path d="M1013.5 1140.3v19M1072 1140.3v19M1130.5 1140.3v19M1007.6 1140.3h-18.5M1007.6 1056.3h-18.5" stroke="#ff0000" stroke-width="3.8"/><rect x="1007.6" y="1056.3" width="128" height="84" fill="none" stroke="#ff0000" stroke-width="6"/><g transform="translate(1187 1056.3)"><g clip-path="url(#a7_5)"><use href="#p7_5" fill="none" stroke="#a9cae5" stroke-width="4"/><use href="#p7_5" fill="#fad5ae"/><g clip-path="url(#cp7_5)"><use href="#p7_5" fill="none" stroke="#e8b07b" stroke-width="16"/><use href="#p7_5" fill="none" stroke="#b9a892" stroke-width="10"/><use href="#p7_5" fill="none" stroke="#5f9dcd" stroke-width="5"/><path d="M5.9 84 10.1 83.7 14.3 83.2 18.4 82 22.6 80.2 26.8 77.6 31 74.8 35.2 72.5 39.3 70.6 43.5 69 47.7 67.6 51.9 66.2 56.1 64.7 60.2 63.1 64.4 61.3 68.6 59.4 72.8 57.1 77 54.3 81.1 51.2 85.3 48.2 89.5 44.9 93.7 41.1 97.9 37 102 32.8 106.2 28.6 110.4 24 114.6 19.3 118.8 14.7 122.9 10.1" fill="none" stroke="#d3e5ea" stroke-width="16" stroke-linejoin="round"/></g><path d="M20.5 0V84M49.5 0V84M79.5 0V84M108.5 0V84" stroke="#bdbdbd" stroke-width="1" fill="none"/><path d="M5.9 0V84M64.4 0V84M122.9 0V84" stroke="#ff0000" stroke-width="4.8" opacity="0.5"/><path d="M5.9 84 10.1 83.7 14.3 83.2 18.4 82 22.6 80.2 26.8 77.6 31 74.8 35.2 72.5 39.3 70.6 43.5 69 47.7 67.6 51.9 66.2 56.1 64.7 60.2 63.1 64.4 61.3 68.6 59.4 72.8 57.1 77 54.3 81.1 51.2 85.3 48.2 89.5 44.9 93.7 41.1 97.9 37 102 32.8 106.2 28.6 110.4 24 114.6 19.3 118.8 14.7 122.9 10.1" fill="none" stroke="#000" stroke-width="9" stroke-linejoin="round" stroke-linecap="square"/></g></g><path d="M1207.5 1140.3v11M1222.2 1140.3v11M1236.8 1140.3v11M1266 1140.3v11M1280.7 1140.3v11M1295.3 1140.3v11M1187 1119.3h-11M1187 1098.3h-11M1187 1077.3h-11" stroke="#000" stroke-width="3.1"/><path d="M1192.9 1140.3v19M1251.4 1140.3v19M1309.9 1140.3v19M1187 1140.3h-18.5M1187 1056.3h-18.5" stroke="#ff0000" stroke-width="3.8"/><rect x="1187" y="1056.3" width="128" height="84" fill="none" stroke="#ff0000" stroke-width="6"/><g transform="translate(1366.4 1056.3)"><g clip-path="url(#a7_6)"><use href="#p7_6" fill="none" stroke="#a9cae5" stroke-width="4"/><use href="#p7_6" fill="#fad5ae"/><g clip-path="url(#cp7_6)"><use href="#p7_6" fill="none" stroke="#e8b07b" stroke-width="16"/><use href="#p7_6" fill="none" stroke="#b9a892" stroke-width="10"/><use href="#p7_6" fill="none" stroke="#5f9dcd" stroke-width="5"/><path d="M5.9 84 10.1 83.8 14.3 83.2 18.4 81 22.6 78.1 26.8 74.9 31 71.8 35.2 69.8 39.3 68 43.5 65.9 47.7 63.8 51.9 62.1 56.1 60.5 60.2 58.9 64.4 57.1 68.6 55.3 72.8 52.9 77 49.3 81.1 44.9 85.3 39.8 89.5 34.4 93.7 29.1 97.9 24.4 102 21.3 106.2 18.5 110.4 14.3 114.6 10.1 118.8 7 122.9 4.2" fill="none" stroke="#d3e5ea" stroke-width="16" stroke-linejoin="round"/></g><path d="M20.1 0V84M35.1 0V84M50.1 0V84M79.1 0V84M94.1 0V84" stroke="#bdbdbd" stroke-width="1" fill="none"/><path d="M5.9 0V84M64.4 0V84M122.9 0V84" stroke="#ff0000" stroke-width="4.8" opacity="0.5"/><path d="M5.9 84 10.1 83.8 14.3 83.2 18.4 81 22.6 78.1 26.8 74.9 31 71.8 35.2 69.8 39.3 68 43.5 65.9 47.7 63.8 51.9 62.1 56.1 60.5 60.2 58.9 64.4 57.1 68.6 55.3 72.8 52.9 77 49.3 81.1 44.9 85.3 39.8 89.5 34.4 93.7 29.1 97.9 24.4 102 21.3 106.2 18.5 110.4 14.3 114.6 10.1 118.8 7 122.9 4.2" fill="none" stroke="#000" stroke-width="9" stroke-linejoin="round" stroke-linecap="square"/></g></g><path d="M1386.9 1140.3v11M1401.6 1140.3v11M1416.2 1140.3v11M1445.4 1140.3v11M1460.1 1140.3v11M1474.7 1140.3v11M1366.4 1119.3h-11M1366.4 1098.3h-11M1366.4 1077.3h-11" stroke="#000" stroke-width="3.1"/><path d="M1372.3 1140.3v19M1430.8 1140.3v19M1489.3 1140.3v19M1366.4 1140.3h-18.5M1366.4 1056.3h-18.5" stroke="#ff0000" stroke-width="3.8"/><rect x="1366.4" y="1056.3" width="128" height="84" fill="none" stroke="#ff0000" stroke-width="6"/><g transform="translate(1545.8 1056.3)"><g clip-path="url(#a7_7)"><use href="#p7_7" fill="none" stroke="#a9cae5" stroke-width="4"/><use href="#p7_7" fill="#fad5ae"/><g clip-path="url(#cp7_7)"><use href="#p7_7" fill="none" stroke="#e8b07b" stroke-width="16"/><use href="#p7_7" fill="none" stroke="#b9a892" stroke-width="10"/><use href="#p7_7" fill="none" stroke="#5f9dcd" stroke-width="5"/><path d="M5.9 84 10.1 83.7 14.3 83.2 18.4 81.9 22.6 80.2 26.8 78.2 31 76 35.2 73.8 39.3 71.8 43.5 70.3 47.7 68.9 51.9 67.1 56.1 65.1 60.2 62.9 64.4 60.5 68.6 58 72.8 55.4 77 52.7 81.1 49.6 85.3 46 89.5 42 93.7 37.5 97.9 32.8 102 28.1 106.2 23.5 110.4 18.9 114.6 14.3 118.8 9.7 122.9 5" fill="none" stroke="#d3e5ea" stroke-width="16" stroke-linejoin="round"/></g><path d="M34.7 0V84M93.7 0V84M108.7 0V84" stroke="#bdbdbd" stroke-width="1" fill="none"/><path d="M5.9 0V84M64.4 0V84M122.9 0V84" stroke="#ff0000" stroke-width="4.8" opacity="0.5"/><path d="M5.9 84 10.1 83.7 14.3 83.2 18.4 81.9 22.6 80.2 26.8 78.2 31 76 35.2 73.8 39.3 71.8 43.5 70.3 47.7 68.9 51.9 67.1 56.1 65.1 60.2 62.9 64.4 60.5 68.6 58 72.8 55.4 77 52.7 81.1 49.6 85.3 46 89.5 42 93.7 37.5 97.9 32.8 102 28.1 106.2 23.5 110.4 18.9 114.6 14.3 118.8 9.7 122.9 5" fill="none" stroke="#000" stroke-width="9" stroke-linejoin="round" stroke-linecap="square"/></g></g><path d="M1566.3 1140.3v11M1581 1140.3v11M1595.6 1140.3v11M1624.8 1140.3v11M1639.5 1140.3v11M1654.1 1140.3v11M1545.8 1119.3h-11M1545.8 1098.3h-11M1545.8 1077.3h-11" stroke="#000" stroke-width="3.1"/><path d="M1551.7 1140.3v19M1610.2 1140.3v19M1668.7 1140.3v19M1545.8 1140.3h-18.5M1545.8 1056.3h-18.5" stroke="#ff0000" stroke-width="3.8"/><rect x="1545.8" y="1056.3" width="128" height="84" fill="none" stroke="#ff0000" stroke-width="6"/><g transform="translate(1725.2 1056.3)"><g clip-path="url(#a7_8)"><use href="#p7_8" fill="none" stroke="#a9cae5" stroke-width="4"/><use href="#p7_8" fill="#d4e7ee"/><g clip-path="url(#cp7_8)"><use href="#p7_8" fill="none" stroke="#e8b07b" stroke-width="16"/><use href="#p7_8" fill="none" stroke="#b9a892" stroke-width="10"/><use href="#p7_8" fill="none" stroke="#5f9dcd" stroke-width="5"/><path d="M5.9 84 10.1 83.8 14.3 83.2 18.4 80.9 22.6 78.1 26.8 75.8 31 73.5 35.2 71.3 39.3 69.3 43.5 67.6 47.7 65.9 51.9 64.2 56.1 62.6 60.2 61.2 64.4 59.6 68.6 57.7 72.8 55.4 77 52.9 81.1 49.6 85.3 44.8 89.5 39.1 93.7 32.7 97.9 25.2 102 15.5 106.2 6.3 110.4 1.7 114.6 0 118.8 0 122.9 0" fill="none" stroke="#d3e5ea" stroke-width="16" stroke-linejoin="round"/></g><path d="M35.3 0V84M49.3 0V84M79.3 0V84M108.3 0V84" stroke="#bdbdbd" stroke-width="1" fill="none"/><path d="M5.9 0V84M64.4 0V84M122.9 0V84" stroke="#ff0000" stroke-width="4.8" opacity="0.5"/><path d="M5.9 84 10.1 83.8 14.3 83.2 18.4 80.9 22.6 78.1 26.8 75.8 31 73.5 35.2 71.3 39.3 69.3 43.5 67.6 47.7 65.9 51.9 64.2 56.1 62.6 60.2 61.2 64.4 59.6 68.6 57.7 72.8 55.4 77 52.9 81.1 49.6 85.3 44.8 89.5 39.1 93.7 32.7 97.9 25.2 102 15.5 106.2 6.3 110.4 1.7 114.6 0 118.8 0 122.9 0" fill="none" stroke="#000" stroke-width="9" stroke-linejoin="round" stroke-linecap="square"/></g></g><path d="M1745.7 1140.3v11M1760.4 1140.3v11M1775 1140.3v11M1804.2 1140.3v11M1818.9 1140.3v11M1833.5 1140.3v11M1725.2 1119.3h-11M1725.2 1098.3h-11M1725.2 1077.3h-11" stroke="#000" stroke-width="3.1"/><path d="M1731.1 1140.3v19M1789.6 1140.3v19M1848.1 1140.3v19M1725.2 1140.3h-18.5M1725.2 1056.3h-18.5" stroke="#ff0000" stroke-width="3.8"/><rect x="1725.2" y="1056.3" width="128" height="84" fill="none" stroke="#ff0000" stroke-width="6"/><g transform="translate(1904.6 1056.3)"><g clip-path="url(#a7_9)"><use href="#p7_9" fill="none" stroke="#a9cae5" stroke-width="4"/><use href="#p7_9" fill="#fad5ae"/><g clip-path="url(#cp7_9)"><use href="#p7_9" fill="none" stroke="#e8b07b" stroke-width="16"/><use href="#p7_9" fill="none" stroke="#b9a892" stroke-width="10"/><use href="#p7_9" fill="none" stroke="#5f9dcd" stroke-width="5"/><path d="M5.9 84 10.1 83.8 14.3 83.2 18.4 81.5 22.6 79.4 26.8 76.9 31 74.3 35.2 72.1 39.3 70.1 43.5 68.4 47.7 66.8 51.9 65.4 56.1 63.8 60.2 62 64.4 59.6 68.6 56.8 72.8 53.3 77 49.5 81.1 44.9 85.3 39.1 89.5 32.8 93.7 26.6 97.9 20.2 102 12.8 106.2 5.9 110.4 1.7 114.6 0 118.8 0 122.9 0" fill="none" stroke="#d3e5ea" stroke-width="16" stroke-linejoin="round"/></g><path d="M20.9 0V84M49.9 0V84M93.9 0V84" stroke="#bdbdbd" stroke-width="1" fill="none"/><path d="M5.9 0V84M64.4 0V84M122.9 0V84" stroke="#ff0000" stroke-width="4.8" opacity="0.5"/><path d="M5.9 84 10.1 83.8 14.3 83.2 18.4 81.5 22.6 79.4 26.8 76.9 31 74.3 35.2 72.1 39.3 70.1 43.5 68.4 47.7 66.8 51.9 65.4 56.1 63.8 60.2 62 64.4 59.6 68.6 56.8 72.8 53.3 77 49.5 81.1 44.9 85.3 39.1 89.5 32.8 93.7 26.6 97.9 20.2 102 12.8 106.2 5.9 110.4 1.7 114.6 0 118.8 0 122.9 0" fill="none" stroke="#000" stroke-width="9" stroke-linejoin="round" stroke-linecap="square"/></g></g><path d="M1925.1 1140.3v11M1939.8 1140.3v11M1954.4 1140.3v11M1983.6 1140.3v11M1998.3 1140.3v11M2012.9 1140.3v11M1904.6 1119.3h-11M1904.6 1098.3h-11M1904.6 1077.3h-11" stroke="#000" stroke-width="3.1"/><path d="M1910.5 1140.3v19M1969 1140.3v19M2027.5 1140.3v19M1904.6 1140.3h-18.5M1904.6 1056.3h-18.5" stroke="#ff0000" stroke-width="3.8"/><rect x="1904.6" y="1056.3" width="128" height="84" fill="none" stroke="#ff0000" stroke-width="6"/><g transform="translate(2084 1056.3)"><g clip-path="url(#a7_10)"><use href="#p7_10" fill="none" stroke="#a9cae5" stroke-width="4"/><use href="#p7_10" fill="#d4e7ee"/><g clip-path="url(#cp7_10)"><use href="#p7_10" fill="none" stroke="#e8b07b" stroke-width="16"/><use href="#p7_10" fill="none" stroke="#b9a892" stroke-width="10"/><use href="#p7_10" fill="none" stroke="#5f9dcd" stroke-width="5"/><path d="M5.9 84 10.1 83.6 14.3 82.7 18.4 80.3 22.6 77.3 26.8 74.2 31 71.4 35.2 69.6 39.3 68 43.5 66.3 47.7 64.7 51.9 63.4 56.1 62.2 60.2 61.1 64.4 59.6 68.6 57.2 72.8 53.8 77 49.1 81.1 43.3 85.3 36.4 89.5 28.6 93.7 19.8 97.9 10.9 102 3.4 106.2 0 110.4 0 114.6 0 118.8 0 122.9 0" fill="none" stroke="#d3e5ea" stroke-width="16" stroke-linejoin="round"/></g><path d="M20.5 0V84M35.5 0V84M79.5 0V84M108.5 0V84" stroke="#bdbdbd" stroke-width="1" fill="none"/><path d="M5.9 0V84M64.4 0V84M122.9 0V84" stroke="#ff0000" stroke-width="4.8" opacity="0.5"/><path d="M5.9 84 10.1 83.6 14.3 82.7 18.4 80.3 22.6 77.3 26.8 74.2 31 71.4 35.2 69.6 39.3 68 43.5 66.3 47.7 64.7 51.9 63.4 56.1 62.2 60.2 61.1 64.4 59.6 68.6 57.2 72.8 53.8 77 49.1 81.1 43.3 85.3 36.4 89.5 28.6 93.7 19.8 97.9 10.9 102 3.4 106.2 0 110.4 0 114.6 0 118.8 0 122.9 0" fill="none" stroke="#000" stroke-width="9" stroke-linejoin="round" stroke-linecap="square"/></g></g><path d="M2104.5 1140.3v11M2119.2 1140.3v11M2133.8 1140.3v11M2163 1140.3v11M2177.7 1140.3v11M2192.3 1140.3v11M2084 1119.3h-11M2084 1098.3h-11M2084 1077.3h-11" stroke="#000" stroke-width="3.1"/><path d="M2089.9 1140.3v19M2148.4 1140.3v19M2206.9 1140.3v19M2084 1140.3h-18.5M2084 1056.3h-18.5" stroke="#ff0000" stroke-width="3.8"/><rect x="2084" y="1056.3" width="128" height="84" fill="none" stroke="#ff0000" stroke-width="6"/><text transform="translate(2231 1097.3) rotate(90)" text-anchor="middle">0.08</text><g transform="translate(290 1174.2)"><g clip-path="url(#a8_0)"><use href="#p8_0" fill="none" stroke="#a9cae5" stroke-width="4"/><use href="#p8_0" fill="#fad5ae"/><g clip-path="url(#cp8_0)"><use href="#p8_0" fill="none" stroke="#e8b07b" stroke-width="16"/><use href="#p8_0" fill="none" stroke="#b9a892" stroke-width="10"/><use href="#p8_0" fill="none" stroke="#5f9dcd" stroke-width="5"/><path d="M5.9 84 10.1 83.4 14.3 82.5 18.4 80.7 22.6 78.4 26.8 75.4 31 72.2 35.2 69.2 39.3 65.9 43.5 62.4 47.7 58 51.9 51.4 56.1 43.7 60.2 36.1 64.4 26.9 68.6 12.6 72.8 0.7 77 0 81.1 0 85.3 0 89.5 0 93.7 0 97.9 0 102 0 106.2 0 110.4 0 114.6 0 118.8 0 122.9 0" fill="none" stroke="#d3e5ea" stroke-width="16" stroke-linejoin="round"/></g><path d="M20.5 0V84M49.5 0V84M93.5 0V84M0 63.3H128M0 42.3H128" stroke="#bdbdbd" stroke-width="1" fill="none"/><path d="M5.9 0V84M64.4 0V84M122.9 0V84" stroke="#ff0000" stroke-width="4.8" opacity="0.5"/><path d="M5.9 84 10.1 83.4 14.3 82.5 18.4 80.7 22.6 78.4 26.8 75.4 31 72.2 35.2 69.2 39.3 65.9 43.5 62.4 47.7 58 51.9 51.4 56.1 43.7 60.2 36.1 64.4 26.9 68.6 12.6 72.8 0.7 77 0 81.1 0 85.3 0 89.5 0 93.7 0 97.9 0 102 0 106.2 0 110.4 0 114.6 0 118.8 0 122.9 0" fill="none" stroke="#000" stroke-width="9" stroke-linejoin="round" stroke-linecap="square"/></g></g><path d="M310.5 1258.2v11M325.2 1258.2v11M339.8 1258.2v11M369 1258.2v11M383.7 1258.2v11M398.3 1258.2v11M290 1237.2h-11M290 1216.2h-11M290 1195.2h-11" stroke="#000" stroke-width="3.1"/><path d="M295.9 1258.2v19M354.4 1258.2v19M412.9 1258.2v19M290 1258.2h-18.5M290 1174.2h-18.5" stroke="#ff0000" stroke-width="3.8"/><rect x="290" y="1174.2" width="128" height="84" fill="none" stroke="#ff0000" stroke-width="6"/><text x="252" y="1192.1" text-anchor="end">900</text><text x="252" y="1276.4" text-anchor="end">0</text><g transform="translate(469.4 1174.2)"><g clip-path="url(#a8_1)"><use href="#p8_1" fill="none" stroke="#a9cae5" stroke-width="4"/><use href="#p8_1" fill="#fad5ae"/><g clip-path="url(#cp8_1)"><use href="#p8_1" fill="none" stroke="#e8b07b" stroke-width="16"/><use href="#p8_1" fill="none" stroke="#b9a892" stroke-width="10"/><use href="#p8_1" fill="none" stroke="#5f9dcd" stroke-width="5"/><path d="M5.9 84 10.1 83.6 14.3 83 18.4 81.7 22.6 79.8 26.8 77.3 31 74.3 35.2 70.9 39.3 67.2 43.5 63.7 47.7 60.1 51.9 56.2 56.1 51.7 60.2 46.1 64.4 39.5 68.6 31.3 72.8 22.7 77 14.7 81.1 6.7 85.3 0 89.5 0 93.7 0 97.9 0 102 0 106.2 0 110.4 0 114.6 0 118.8 0 122.9 0" fill="none" stroke="#d3e5ea" stroke-width="16" stroke-linejoin="round"/></g><path d="M20.1 0V84M35.1 0V84M79.1 0V84M108.1 0V84M0 63.3H128M0 42.3H128" stroke="#bdbdbd" stroke-width="1" fill="none"/><path d="M5.9 0V84M64.4 0V84M122.9 0V84" stroke="#ff0000" stroke-width="4.8" opacity="0.5"/><path d="M5.9 84 10.1 83.6 14.3 83 18.4 81.7 22.6 79.8 26.8 77.3 31 74.3 35.2 70.9 39.3 67.2 43.5 63.7 47.7 60.1 51.9 56.2 56.1 51.7 60.2 46.1 64.4 39.5 68.6 31.3 72.8 22.7 77 14.7 81.1 6.7 85.3 0 89.5 0 93.7 0 97.9 0 102 0 106.2 0 110.4 0 114.6 0 118.8 0 122.9 0" fill="none" stroke="#000" stroke-width="9" stroke-linejoin="round" stroke-linecap="square"/></g></g><path d="M489.9 1258.2v11M504.6 1258.2v11M519.2 1258.2v11M548.4 1258.2v11M563.1 1258.2v11M577.7 1258.2v11M469.4 1237.2h-11M469.4 1216.2h-11M469.4 1195.2h-11" stroke="#000" stroke-width="3.1"/><path d="M475.3 1258.2v19M533.8 1258.2v19M592.3 1258.2v19M469.4 1258.2h-18.5M469.4 1174.2h-18.5" stroke="#ff0000" stroke-width="3.8"/><rect x="469.4" y="1174.2" width="128" height="84" fill="none" stroke="#ff0000" stroke-width="6"/><g transform="translate(648.8 1174.2)"><g clip-path="url(#a8_2)"><use href="#p8_2" fill="none" stroke="#a9cae5" stroke-width="4"/><use href="#p8_2" fill="#fad5ae"/><g clip-path="url(#cp8_2)"><use href="#p8_2" fill="none" stroke="#e8b07b" stroke-width="16"/><use href="#p8_2" fill="none" stroke="#b9a892" stroke-width="10"/><use href="#p8_2" fill="none" stroke="#5f9dcd" stroke-width="5"/><path d="M5.9 84 10.1 83.6 14.3 83 18.4 81.7 22.6 79.8 26.8 77.2 31 74.3 35.2 71.8 39.3 69.3 43.5 66.6 47.7 63.8 51.9 61.1 56.1 58 60.2 54.2 64.4 49.6 68.6 44 72.8 37.4 77 29.5 81.1 21 85.3 12.3 89.5 4.2 93.7 0 97.9 0 102 0 106.2 0 110.4 0 114.6 0 118.8 0 122.9 0" fill="none" stroke="#d3e5ea" stroke-width="16" stroke-linejoin="round"/></g><path d="M34.7 0V84M49.7 0V84M78.7 0V84M93.7 0V84M0 63.3H128M0 42.3H128" stroke="#bdbdbd" stroke-width="1" fill="none"/><path d="M5.9 0V84M64.4 0V84M122.9 0V84" stroke="#ff0000" stroke-width="4.8" opacity="0.5"/><path d="M5.9 84 10.1 83.6 14.3 83 18.4 81.7 22.6 79.8 26.8 77.2 31 74.3 35.2 71.8 39.3 69.3 43.5 66.6 47.7 63.8 51.9 61.1 56.1 58 60.2 54.2 64.4 49.6 68.6 44 72.8 37.4 77 29.5 81.1 21 85.3 12.3 89.5 4.2 93.7 0 97.9 0 102 0 106.2 0 110.4 0 114.6 0 118.8 0 122.9 0" fill="none" stroke="#000" stroke-width="9" stroke-linejoin="round" stroke-linecap="square"/></g></g><path d="M669.3 1258.2v11M684 1258.2v11M698.6 1258.2v11M727.8 1258.2v11M742.5 1258.2v11M757.1 1258.2v11M648.8 1237.2h-11M648.8 1216.2h-11M648.8 1195.2h-11" stroke="#000" stroke-width="3.1"/><path d="M654.7 1258.2v19M713.2 1258.2v19M771.7 1258.2v19M648.8 1258.2h-18.5M648.8 1174.2h-18.5" stroke="#ff0000" stroke-width="3.8"/><rect x="648.8" y="1174.2" width="128" height="84" fill="none" stroke="#ff0000" stroke-width="6"/><g transform="translate(828.2 1174.2)"><g clip-path="url(#a8_3)"><use href="#p8_3" fill="none" stroke="#a9cae5" stroke-width="4"/><use href="#p8_3" fill="#d4e7ee"/><g clip-path="url(#cp8_3)"><use href="#p8_3" fill="none" stroke="#e8b07b" stroke-width="16"/><use href="#p8_3" fill="none" stroke="#b9a892" stroke-width="10"/><use href="#p8_3" fill="none" stroke="#5f9dcd" stroke-width="5"/><path d="M5.9 84 10.1 83.7 14.3 83 18.4 80.9 22.6 78.4 26.8 75.8 31 73.1 35.2 70.5 39.3 68 43.5 65.9 47.7 63.8 51.9 61.4 56.1 58.8 60.2 56.6 64.4 53.8 68.6 49.2 72.8 43.7 77 37.6 81.1 31.1 85.3 23.9 89.5 16.8 93.7 10.4 97.9 4.2 102 0 106.2 0 110.4 0 114.6 0 118.8 0 122.9 0" fill="none" stroke="#d3e5ea" stroke-width="16" stroke-linejoin="round"/></g><path d="M20.3 0V84M49.3 0V84M93.3 0V84M0 63.3H128M0 42.3H128" stroke="#bdbdbd" stroke-width="1" fill="none"/><path d="M5.9 0V84M64.4 0V84M122.9 0V84" stroke="#ff0000" stroke-width="4.8" opacity="0.5"/><path d="M5.9 84 10.1 83.7 14.3 83 18.4 80.9 22.6 78.4 26.8 75.8 31 73.1 35.2 70.5 39.3 68 43.5 65.9 47.7 63.8 51.9 61.4 56.1 58.8 60.2 56.6 64.4 53.8 68.6 49.2 72.8 43.7 77 37.6 81.1 31.1 85.3 23.9 89.5 16.8 93.7 10.4 97.9 4.2 102 0 106.2 0 110.4 0 114.6 0 118.8 0 122.9 0" fill="none" stroke="#000" stroke-width="9" stroke-linejoin="round" stroke-linecap="square"/></g></g><path d="M848.7 1258.2v11M863.4 1258.2v11M878 1258.2v11M907.2 1258.2v11M921.9 1258.2v11M936.5 1258.2v11M828.2 1237.2h-11M828.2 1216.2h-11M828.2 1195.2h-11" stroke="#000" stroke-width="3.1"/><path d="M834.1 1258.2v19M892.6 1258.2v19M951.1 1258.2v19M828.2 1258.2h-18.5M828.2 1174.2h-18.5" stroke="#ff0000" stroke-width="3.8"/><rect x="828.2" y="1174.2" width="128" height="84" fill="none" stroke="#ff0000" stroke-width="6"/><g transform="translate(1007.6 1174.2)"><g clip-path="url(#a8_4)"><use href="#p8_4" fill="none" stroke="#a9cae5" stroke-width="4"/><use href="#p8_4" fill="#98bedf"/><use href="#p8_4" fill="none" stroke="#5f9dcd" stroke-width="5" clip-path="url(#cp8_4)"/><use href="#q8_4" fill="none" stroke="#b9a892" stroke-width="5"/><use href="#q8_4" fill="#fad5ae"/><g clip-path="url(#cq8_4)"><use href="#q8_4" fill="none" stroke="#e8b07b" stroke-width="6"/><path d="M5.9 84 10.1 83.6 14.3 83 18.4 81.6 22.6 79.8 26.8 77.7 31 75.6 35.2 73.8 39.3 72.2 43.5 71.2 47.7 70.1 51.9 68.8 56.1 67.2 60.2 65.6 64.4 63.4 68.6 59.9 72.8 55.9 77 51.9 81.1 47.9 85.3 43.8 89.5 39.5 93.7 34.3 97.9 29 102 24 106.2 19.3 110.4 15.2 114.6 11.3 118.8 7.7 122.9 4.2" fill="none" stroke="#d3e5ea" stroke-width="16" stroke-linejoin="round"/></g><path d="M34.9 0V84M78.9 0V84M93.9 0V84M107.9 0V84M0 63.3H128M0 42.3H128" stroke="#bdbdbd" stroke-width="1" fill="none"/><path d="M5.9 0V84M64.4 0V84M122.9 0V84" stroke="#ff0000" stroke-width="4.8" opacity="0.5"/><path d="M5.9 84 10.1 83.6 14.3 83 18.4 81.6 22.6 79.8 26.8 77.7 31 75.6 35.2 73.8 39.3 72.2 43.5 71.2 47.7 70.1 51.9 68.8 56.1 67.2 60.2 65.6 64.4 63.4 68.6 59.9 72.8 55.9 77 51.9 81.1 47.9 85.3 43.8 89.5 39.5 93.7 34.3 97.9 29 102 24 106.2 19.3 110.4 15.2 114.6 11.3 118.8 7.7 122.9 4.2" fill="none" stroke="#000" stroke-width="9" stroke-linejoin="round" stroke-linecap="square"/></g></g><path d="M1028.1 1258.2v11M1042.8 1258.2v11M1057.4 1258.2v11M1086.6 1258.2v11M1101.3 1258.2v11M1115.9 1258.2v11M1007.6 1237.2h-11M1007.6 1216.2h-11M1007.6 1195.2h-11" stroke="#000" stroke-width="3.1"/><path d="M1013.5 1258.2v19M1072 1258.2v19M1130.5 1258.2v19M1007.6 1258.2h-18.5M1007.6 1174.2h-18.5" stroke="#ff0000" stroke-width="3.8"/><rect x="1007.6" y="1174.2" width="128" height="84" fill="none" stroke="#ff0000" stroke-width="6"/><g transform="translate(1187 1174.2)"><g clip-path="url(#a8_5)"><use href="#p8_5" fill="none" stroke="#a9cae5" stroke-width="4"/><use href="#p8_5" fill="#fad5ae"/><g clip-path="url(#cp8_5)"><use href="#p8_5" fill="none" stroke="#e8b07b" stroke-width="16"/><use href="#p8_5" fill="none" stroke="#b9a892" stroke-width="10"/><use href="#p8_5" fill="none" stroke="#5f9dcd" stroke-width="5"/><path d="M5.9 84 10.1 83.6 14.3 83 18.4 81.7 22.6 79.8 26.8 77.1 31 74.3 35.2 72.2 39.3 70.1 43.5 68 47.7 65.9 51.9 64.2 56.1 62.2 60.2 59.5 64.4 55.9 68.6 50.4 72.8 43.7 77 35.5 81.1 26.9 85.3 18.7 89.5 10.5 93.7 1.7 97.9 0 102 0 106.2 0 110.4 0 114.6 0 118.8 0 122.9 0" fill="none" stroke="#d3e5ea" stroke-width="16" stroke-linejoin="round"/></g><path d="M20.5 0V84M49.5 0V84M79.5 0V84M108.5 0V84M0 63.3H128M0 42.3H128" stroke="#bdbdbd" stroke-width="1" fill="none"/><path d="M5.9 0V84M64.4 0V84M122.9 0V84" stroke="#ff0000" stroke-width="4.8" opacity="0.5"/><path d="M5.9 84 10.1 83.6 14.3 83 18.4 81.7 22.6 79.8 26.8 77.1 31 74.3 35.2 72.2 39.3 70.1 43.5 68 47.7 65.9 51.9 64.2 56.1 62.2 60.2 59.5 64.4 55.9 68.6 50.4 72.8 43.7 77 35.5 81.1 26.9 85.3 18.7 89.5 10.5 93.7 1.7 97.9 0 102 0 106.2 0 110.4 0 114.6 0 118.8 0 122.9 0" fill="none" stroke="#000" stroke-width="9" stroke-linejoin="round" stroke-linecap="square"/></g></g><path d="M1207.5 1258.2v11M1222.2 1258.2v11M1236.8 1258.2v11M1266 1258.2v11M1280.7 1258.2v11M1295.3 1258.2v11M1187 1237.2h-11M1187 1216.2h-11M1187 1195.2h-11" stroke="#000" stroke-width="3.1"/><path d="M1192.9 1258.2v19M1251.4 1258.2v19M1309.9 1258.2v19M1187 1258.2h-18.5M1187 1174.2h-18.5" stroke="#ff0000" stroke-width="3.8"/><rect x="1187" y="1174.2" width="128" height="84" fill="none" stroke="#ff0000" stroke-width="6"/><g transform="translate(1366.4 1174.2)"><g clip-path="url(#a8_6)"><use href="#p8_6" fill="none" stroke="#a9cae5" stroke-width="4"/><use href="#p8_6" fill="#98bedf"/><use href="#p8_6" fill="none" stroke="#5f9dcd" stroke-width="5" clip-path="url(#cp8_6)"/><use href="#q8_6" fill="none" stroke="#b9a892" stroke-width="5"/><use href="#q8_6" fill="#fad5ae"/><g clip-path="url(#cq8_6)"><use href="#q8_6" fill="none" stroke="#e8b07b" stroke-width="6"/><path d="M5.9 84 10.1 83.7 14.3 83 18.4 81.3 22.6 79 26.8 76.1 31 73.1 35.2 70.5 39.3 68 43.5 65.8 47.7 63.4 51.9 60.9 56.1 58 60.2 54.1 64.4 49.6 68.6 44.3 72.8 38.6 77 32.7 81.1 26.9 85.3 21.8 89.5 16.8 93.7 11.2 97.9 5.5 102 0 106.2 0 110.4 0 114.6 0 118.8 0 122.9 0" fill="none" stroke="#d3e5ea" stroke-width="16" stroke-linejoin="round"/></g><path d="M20.1 0V84M35.1 0V84M50.1 0V84M79.1 0V84M94.1 0V84M0 63.3H128M0 42.3H128" stroke="#bdbdbd" stroke-width="1" fill="none"/><path d="M5.9 0V84M64.4 0V84M122.9 0V84" stroke="#ff0000" stroke-width="4.8" opacity="0.5"/><path d="M5.9 84 10.1 83.7 14.3 83 18.4 81.3 22.6 79 26.8 76.1 31 73.1 35.2 70.5 39.3 68 43.5 65.8 47.7 63.4 51.9 60.9 56.1 58 60.2 54.1 64.4 49.6 68.6 44.3 72.8 38.6 77 32.7 81.1 26.9 85.3 21.8 89.5 16.8 93.7 11.2 97.9 5.5 102 0 106.2 0 110.4 0 114.6 0 118.8 0 122.9 0" fill="none" stroke="#000" stroke-width="9" stroke-linejoin="round" stroke-linecap="square"/></g></g><path d="M1386.9 1258.2v11M1401.6 1258.2v11M1416.2 1258.2v11M1445.4 1258.2v11M1460.1 1258.2v11M1474.7 1258.2v11M1366.4 1237.2h-11M1366.4 1216.2h-11M1366.4 1195.2h-11" stroke="#000" stroke-width="3.1"/><path d="M1372.3 1258.2v19M1430.8 1258.2v19M1489.3 1258.2v19M1366.4 1258.2h-18.5M1366.4 1174.2h-18.5" stroke="#ff0000" stroke-width="3.8"/><rect x="1366.4" y="1174.2" width="128" height="84" fill="none" stroke="#ff0000" stroke-width="6"/><g transform="translate(1545.8 1174.2)"><g clip-path="url(#a8_7)"><use href="#p8_7" fill="none" stroke="#a9cae5" stroke-width="4"/><use href="#p8_7" fill="#fad5ae"/><g clip-path="url(#cp8_7)"><use href="#p8_7" fill="none" stroke="#e8b07b" stroke-width="16"/><use href="#p8_7" fill="none" stroke="#b9a892" stroke-width="10"/><use href="#p8_7" fill="none" stroke="#5f9dcd" stroke-width="5"/><path d="M5.9 84 10.1 83.7 14.3 83 18.4 81.3 22.6 79 26.8 76.1 31 73.1 35.2 70.4 39.3 68 43.5 66.3 47.7 64.7 51.9 62.6 56.1 60.1 60.2 57.3 64.4 53.8 68.6 49.3 72.8 43.7 77 36.6 81.1 28.6 85.3 19.7 89.5 10.5 93.7 1.7 97.9 0 102 0 106.2 0 110.4 0 114.6 0 118.8 0 122.9 0" fill="none" stroke="#d3e5ea" stroke-width="16" stroke-linejoin="round"/></g><path d="M34.7 0V84M93.7 0V84M108.7 0V84M0 63.3H128M0 42.3H128" stroke="#bdbdbd" stroke-width="1" fill="none"/><path d="M5.9 0V84M64.4 0V84M122.9 0V84" stroke="#ff0000" stroke-width="4.8" opacity="0.5"/><path d="M5.9 84 10.1 83.7 14.3 83 18.4 81.3 22.6 79 26.8 76.1 31 73.1 35.2 70.4 39.3 68 43.5 66.3 47.7 64.7 51.9 62.6 56.1 60.1 60.2 57.3 64.4 53.8 68.6 49.3 72.8 43.7 77 36.6 81.1 28.6 85.3 19.7 89.5 10.5 93.7 1.7 97.9 0 102 0 106.2 0 110.4 0 114.6 0 118.8 0 122.9 0" fill="none" stroke="#000" stroke-width="9" stroke-linejoin="round" stroke-linecap="square"/></g></g><path d="M1566.3 1258.2v11M1581 1258.2v11M1595.6 1258.2v11M1624.8 1258.2v11M1639.5 1258.2v11M1654.1 1258.2v11M1545.8 1237.2h-11M1545.8 1216.2h-11M1545.8 1195.2h-11" stroke="#000" stroke-width="3.1"/><path d="M1551.7 1258.2v19M1610.2 1258.2v19M1668.7 1258.2v19M1545.8 1258.2h-18.5M1545.8 1174.2h-18.5" stroke="#ff0000" stroke-width="3.8"/><rect x="1545.8" y="1174.2" width="128" height="84" fill="none" stroke="#ff0000" stroke-width="6"/><g transform="translate(1725.2 1174.2)"><g clip-path="url(#a8_8)"><use href="#p8_8" fill="none" stroke="#a9cae5" stroke-width="4"/><use href="#p8_8" fill="#fad5ae"/><g clip-path="url(#cp8_8)"><use href="#p8_8" fill="none" stroke="#e8b07b" stroke-width="16"/><use href="#p8_8" fill="none" stroke="#b9a892" stroke-width="10"/><use href="#p8_8" fill="none" stroke="#5f9dcd" stroke-width="5"/><path d="M5.9 84 10.1 83.7 14.3 83 18.4 81 22.6 78.4 26.8 75.3 31 72.2 35.2 69.5 39.3 67.2 43.5 65.5 47.7 63.8 51.9 61.8 56.1 59.2 60.2 55.9 64.4 51.7 68.6 45.9 72.8 39.5 77 33.2 81.1 26.9 85.3 20.7 89.5 14.7 93.7 9.4 97.9 4.2 102 0 106.2 0 110.4 0 114.6 0 118.8 0 122.9 0" fill="none" stroke="#d3e5ea" stroke-width="16" stroke-linejoin="round"/></g><path d="M35.3 0V84M49.3 0V84M79.3 0V84M108.3 0V84M0 63.3H128M0 42.3H128" stroke="#bdbdbd" stroke-width="1" fill="none"/><path d="M5.9 0V84M64.4 0V84M122.9 0V84" stroke="#ff0000" stroke-width="4.8" opacity="0.5"/><path d="M5.9 84 10.1 83.7 14.3 83 18.4 81 22.6 78.4 26.8 75.3 31 72.2 35.2 69.5 39.3 67.2 43.5 65.5 47.7 63.8 51.9 61.8 56.1 59.2 60.2 55.9 64.4 51.7 68.6 45.9 72.8 39.5 77 33.2 81.1 26.9 85.3 20.7 89.5 14.7 93.7 9.4 97.9 4.2 102 0 106.2 0 110.4 0 114.6 0 118.8 0 122.9 0" fill="none" stroke="#000" stroke-width="9" stroke-linejoin="round" stroke-linecap="square"/></g></g><path d="M1745.7 1258.2v11M1760.4 1258.2v11M1775 1258.2v11M1804.2 1258.2v11M1818.9 1258.2v11M1833.5 1258.2v11M1725.2 1237.2h-11M1725.2 1216.2h-11M1725.2 1195.2h-11" stroke="#000" stroke-width="3.1"/><path d="M1731.1 1258.2v19M1789.6 1258.2v19M1848.1 1258.2v19M1725.2 1258.2h-18.5M1725.2 1174.2h-18.5" stroke="#ff0000" stroke-width="3.8"/><rect x="1725.2" y="1174.2" width="128" height="84" fill="none" stroke="#ff0000" stroke-width="6"/><g transform="translate(1904.6 1174.2)"><g clip-path="url(#a8_9)"><use href="#p8_9" fill="none" stroke="#a9cae5" stroke-width="4"/><use href="#p8_9" fill="#fad5ae"/><g clip-path="url(#cp8_9)"><use href="#p8_9" fill="none" stroke="#e8b07b" stroke-width="16"/><use href="#p8_9" fill="none" stroke="#b9a892" stroke-width="10"/><use href="#p8_9" fill="none" stroke="#5f9dcd" stroke-width="5"/><path d="M5.9 84 10.1 83.6 14.3 83 18.4 81.6 22.6 79.8 26.8 77.7 31 75.6 35.2 73.9 39.3 72.2 43.5 70.2 47.7 68 51.9 65.9 56.1 63.8 60.2 62.2 64.4 60.1 68.6 56.3 72.8 51.7 77 46.6 81.1 41.2 85.3 35.2 89.5 29 93.7 22.8 97.9 16.8 102 11.2 106.2 5.5 110.4 0 114.6 0 118.8 0 122.9 0" fill="none" stroke="#d3e5ea" stroke-width="16" stroke-linejoin="round"/></g><path d="M20.9 0V84M49.9 0V84M93.9 0V84M0 63.3H128M0 42.3H128" stroke="#bdbdbd" stroke-width="1" fill="none"/><path d="M5.9 0V84M64.4 0V84M122.9 0V84" stroke="#ff0000" stroke-width="4.8" opacity="0.5"/><path d="M5.9 84 10.1 83.6 14.3 83 18.4 81.6 22.6 79.8 26.8 77.7 31 75.6 35.2 73.9 39.3 72.2 43.5 70.2 47.7 68 51.9 65.9 56.1 63.8 60.2 62.2 64.4 60.1 68.6 56.3 72.8 51.7 77 46.6 81.1 41.2 85.3 35.2 89.5 29 93.7 22.8 97.9 16.8 102 11.2 106.2 5.5 110.4 0 114.6 0 118.8 0 122.9 0" fill="none" stroke="#000" stroke-width="9" stroke-linejoin="round" stroke-linecap="square"/></g></g><path d="M1925.1 1258.2v11M1939.8 1258.2v11M1954.4 1258.2v11M1983.6 1258.2v11M1998.3 1258.2v11M2012.9 1258.2v11M1904.6 1237.2h-11M1904.6 1216.2h-11M1904.6 1195.2h-11" stroke="#000" stroke-width="3.1"/><path d="M1910.5 1258.2v19M1969 1258.2v19M2027.5 1258.2v19M1904.6 1258.2h-18.5M1904.6 1174.2h-18.5" stroke="#ff0000" stroke-width="3.8"/><rect x="1904.6" y="1174.2" width="128" height="84" fill="none" stroke="#ff0000" stroke-width="6"/><g transform="translate(2084 1174.2)"><g clip-path="url(#a8_10)"><use href="#p8_10" fill="none" stroke="#a9cae5" stroke-width="4"/><use href="#p8_10" fill="#fad5ae"/><g clip-path="url(#cp8_10)"><use href="#p8_10" fill="none" stroke="#e8b07b" stroke-width="16"/><use href="#p8_10" fill="none" stroke="#b9a892" stroke-width="10"/><use href="#p8_10" fill="none" stroke="#5f9dcd" stroke-width="5"/><path d="M5.9 84 10.1 82.4 14.3 80.6 18.4 78.3 22.6 75.9 26.8 74 31 72.2 35.2 70.4 39.3 68.5 43.5 66.7 47.7 64.8 51.9 63.1 56.1 61.3 60.2 59.2 64.4 56.7 68.6 53.5 72.8 49.6 77 45 81.1 39.7 85.3 33.7 89.5 27.2 93.7 20.6 97.9 13.9 102 6.7 106.2 0 110.4 0 114.6 0 118.8 0 122.9 0" fill="none" stroke="#d3e5ea" stroke-width="16" stroke-linejoin="round"/></g><path d="M20.5 0V84M35.5 0V84M79.5 0V84M108.5 0V84M0 63.3H128M0 42.3H128" stroke="#bdbdbd" stroke-width="1" fill="none"/><path d="M5.9 0V84M64.4 0V84M122.9 0V84" stroke="#ff0000" stroke-width="4.8" opacity="0.5"/><path d="M5.9 84 10.1 82.4 14.3 80.6 18.4 78.3 22.6 75.9 26.8 74 31 72.2 35.2 70.4 39.3 68.5 43.5 66.7 47.7 64.8 51.9 63.1 56.1 61.3 60.2 59.2 64.4 56.7 68.6 53.5 72.8 49.6 77 45 81.1 39.7 85.3 33.7 89.5 27.2 93.7 20.6 97.9 13.9 102 6.7 106.2 0 110.4 0 114.6 0 118.8 0 122.9 0" fill="none" stroke="#000" stroke-width="9" stroke-linejoin="round" stroke-linecap="square"/></g></g><path d="M2104.5 1258.2v11M2119.2 1258.2v11M2133.8 1258.2v11M2163 1258.2v11M2177.7 1258.2v11M2192.3 1258.2v11M2084 1237.2h-11M2084 1216.2h-11M2084 1195.2h-11" stroke="#000" stroke-width="3.1"/><path d="M2089.9 1258.2v19M2148.4 1258.2v19M2206.9 1258.2v19M2084 1258.2h-18.5M2084 1174.2h-18.5" stroke="#ff0000" stroke-width="3.8"/><rect x="2084" y="1174.2" width="128" height="84" fill="none" stroke="#ff0000" stroke-width="6"/><text transform="translate(2231 1215.2) rotate(90)" text-anchor="middle">0.09</text><g transform="translate(290 1292.1)"><g clip-path="url(#a9_0)"><use href="#p9_0" fill="none" stroke="#a9cae5" stroke-width="4"/><use href="#p9_0" fill="#fad5ae"/><g clip-path="url(#cp9_0)"><use href="#p9_0" fill="none" stroke="#e8b07b" stroke-width="16"/><use href="#p9_0" fill="none" stroke="#b9a892" stroke-width="10"/><use href="#p9_0" fill="none" stroke="#5f9dcd" stroke-width="5"/><path d="M5.9 84 10.1 83.6 14.3 82.7 18.4 80.3 22.6 77 26.8 73.7 31 69.7 35.2 64.9 39.3 59.2 43.5 52.3 47.7 44.9 51.9 37.9 56.1 30.2 60.2 21.3 64.4 11.8 68.6 1.7 72.8 0 77 0 81.1 0 85.3 0 89.5 0 93.7 0 97.9 0 102 0 106.2 0 110.4 0 114.6 0 118.8 0 122.9 0" fill="none" stroke="#d3e5ea" stroke-width="16" stroke-linejoin="round"/></g><path d="M20.5 0V84M49.5 0V84M93.5 0V84" stroke="#bdbdbd" stroke-width="1" fill="none"/><path d="M5.9 0V84M64.4 0V84M122.9 0V84" stroke="#ff0000" stroke-width="4.8" opacity="0.5"/><path d="M5.9 84 10.1 83.6 14.3 82.7 18.4 80.3 22.6 77 26.8 73.7 31 69.7 35.2 64.9 39.3 59.2 43.5 52.3 47.7 44.9 51.9 37.9 56.1 30.2 60.2 21.3 64.4 11.8 68.6 1.7 72.8 0 77 0 81.1 0 85.3 0 89.5 0 93.7 0 97.9 0 102 0 106.2 0 110.4 0 114.6 0 118.8 0 122.9 0" fill="none" stroke="#000" stroke-width="9" stroke-linejoin="round" stroke-linecap="square"/></g></g><path d="M310.5 1376.1v11M325.2 1376.1v11M339.8 1376.1v11M369 1376.1v11M383.7 1376.1v11M398.3 1376.1v11M290 1355.1h-11M290 1334.1h-11M290 1313.1h-11" stroke="#000" stroke-width="3.1"/><path d="M295.9 1376.1v19M354.4 1376.1v19M412.9 1376.1v19M290 1376.1h-18.5M290 1292.1h-18.5" stroke="#ff0000" stroke-width="3.8"/><rect x="290" y="1292.1" width="128" height="84" fill="none" stroke="#ff0000" stroke-width="6"/><text x="252" y="1310" text-anchor="end">900</text><text x="252" y="1394.3" text-anchor="end">0</text><text x="295.9" y="1450" text-anchor="middle">0</text><text x="412.9" y="1450" text-anchor="middle">28</text><g transform="translate(469.4 1292.1)"><g clip-path="url(#a9_1)"><use href="#p9_1" fill="none" stroke="#a9cae5" stroke-width="4"/><use href="#p9_1" fill="#fad5ae"/><g clip-path="url(#cp9_1)"><use href="#p9_1" fill="none" stroke="#e8b07b" stroke-width="16"/><use href="#p9_1" fill="none" stroke="#b9a892" stroke-width="10"/><use href="#p9_1" fill="none" stroke="#5f9dcd" stroke-width="5"/><path d="M5.9 84 10.1 83.5 14.3 82.7 18.4 81 22.6 78.6 26.8 75.4 31 71.7 35.2 67.8 39.3 63.4 43.5 58.5 47.7 52.9 51.9 46.3 56.1 38.6 60.2 29.9 64.4 20.2 68.6 8.7 72.8 0.4 77 0 81.1 0 85.3 0 89.5 0 93.7 0 97.9 0 102 0 106.2 0 110.4 0 114.6 0 118.8 0 122.9 0" fill="none" stroke="#d3e5ea" stroke-width="16" stroke-linejoin="round"/></g><path d="M20.1 0V84M35.1 0V84M79.1 0V84M108.1 0V84" stroke="#bdbdbd" stroke-width="1" fill="none"/><path d="M5.9 0V84M64.4 0V84M122.9 0V84" stroke="#ff0000" stroke-width="4.8" opacity="0.5"/><path d="M5.9 84 10.1 83.5 14.3 82.7 18.4 81 22.6 78.6 26.8 75.4 31 71.7 35.2 67.8 39.3 63.4 43.5 58.5 47.7 52.9 51.9 46.3 56.1 38.6 60.2 29.9 64.4 20.2 68.6 8.7 72.8 0.4 77 0 81.1 0 85.3 0 89.5 0 93.7 0 97.9 0 102 0 106.2 0 110.4 0 114.6 0 118.8 0 122.9 0" fill="none" stroke="#000" stroke-width="9" stroke-linejoin="round" stroke-linecap="square"/></g></g><path d="M489.9 1376.1v11M504.6 1376.1v11M519.2 1376.1v11M548.4 1376.1v11M563.1 1376.1v11M577.7 1376.1v11M469.4 1355.1h-11M469.4 1334.1h-11M469.4 1313.1h-11" stroke="#000" stroke-width="3.1"/><path d="M475.3 1376.1v19M533.8 1376.1v19M592.3 1376.1v19M469.4 1376.1h-18.5M469.4 1292.1h-18.5" stroke="#ff0000" stroke-width="3.8"/><rect x="469.4" y="1292.1" width="128" height="84" fill="none" stroke="#ff0000" stroke-width="6"/><text x="475.3" y="1450" text-anchor="middle">0</text><text x="592.3" y="1450" text-anchor="middle">28</text><g transform="translate(648.8 1292.1)"><g clip-path="url(#a9_2)"><use href="#p9_2" fill="none" stroke="#a9cae5" stroke-width="4"/><use href="#p9_2" fill="#98bedf"/><use href="#p9_2" fill="none" stroke="#5f9dcd" stroke-width="5" clip-path="url(#cp9_2)"/><use href="#q9_2" fill="none" stroke="#b9a892" stroke-width="5"/><use href="#q9_2" fill="#fad5ae"/><g clip-path="url(#cq9_2)"><use href="#q9_2" fill="none" stroke="#e8b07b" stroke-width="6"/><path d="M5.9 84 10.1 83.6 14.3 82.7 18.4 80.4 22.6 77.8 26.8 75.9 31 73.9 35.2 71.4 39.3 68.5 43.5 65 47.7 61.3 51.9 57.9 56.1 53.8 60.2 47.9 64.4 40.7 68.6 31.7 72.8 22.3 77 14 81.1 5.9 85.3 0 89.5 0 93.7 0 97.9 0 102 0 106.2 0 110.4 0 114.6 0 118.8 0 122.9 0" fill="none" stroke="#d3e5ea" stroke-width="16" stroke-linejoin="round"/></g><path d="M34.7 0V84M49.7 0V84M78.7 0V84M93.7 0V84" stroke="#bdbdbd" stroke-width="1" fill="none"/><path d="M5.9 0V84M64.4 0V84M122.9 0V84" stroke="#ff0000" stroke-width="4.8" opacity="0.5"/><path d="M5.9 84 10.1 83.6 14.3 82.7 18.4 80.4 22.6 77.8 26.8 75.9 31 73.9 35.2 71.4 39.3 68.5 43.5 65 47.7 61.3 51.9 57.9 56.1 53.8 60.2 47.9 64.4 40.7 68.6 31.7 72.8 22.3 77 14 81.1 5.9 85.3 0 89.5 0 93.7 0 97.9 0 102 0 106.2 0 110.4 0 114.6 0 118.8 0 122.9 0" fill="none" stroke="#000" stroke-width="9" stroke-linejoin="round" stroke-linecap="square"/></g></g><path d="M669.3 1376.1v11M684 1376.1v11M698.6 1376.1v11M727.8 1376.1v11M742.5 1376.1v11M757.1 1376.1v11M648.8 1355.1h-11M648.8 1334.1h-11M648.8 1313.1h-11" stroke="#000" stroke-width="3.1"/><path d="M654.7 1376.1v19M713.2 1376.1v19M771.7 1376.1v19M648.8 1376.1h-18.5M648.8 1292.1h-18.5" stroke="#ff0000" stroke-width="3.8"/><rect x="648.8" y="1292.1" width="128" height="84" fill="none" stroke="#ff0000" stroke-width="6"/><text x="654.7" y="1450" text-anchor="middle">0</text><text x="771.7" y="1450" text-anchor="middle">28</text><g transform="translate(828.2 1292.1)"><g clip-path="url(#a9_3)"><use href="#p9_3" fill="none" stroke="#a9cae5" stroke-width="4"/><use href="#p9_3" fill="#d4e7ee"/><g clip-path="url(#cp9_3)"><use href="#p9_3" fill="none" stroke="#e8b07b" stroke-width="16"/><use href="#p9_3" fill="none" stroke="#b9a892" stroke-width="10"/><use href="#p9_3" fill="none" stroke="#5f9dcd" stroke-width="5"/><path d="M5.9 84 10.1 83.6 14.3 82.7 18.4 80.6 22.6 77.8 26.8 74.8 31 71.7 35.2 68.3 39.3 64.7 43.5 61 47.7 57.1 51.9 53.2 56.1 48.7 60.2 43.1 64.4 36.5 68.6 28.8 72.8 21 77 14.1 81.1 7.6 85.3 0.4 89.5 0 93.7 0 97.9 0 102 0 106.2 0 110.4 0 114.6 0 118.8 0 122.9 0" fill="none" stroke="#d3e5ea" stroke-width="16" stroke-linejoin="round"/></g><path d="M20.3 0V84M49.3 0V84M93.3 0V84" stroke="#bdbdbd" stroke-width="1" fill="none"/><path d="M5.9 0V84M64.4 0V84M122.9 0V84" stroke="#ff0000" stroke-width="4.8" opacity="0.5"/><path d="M5.9 84 10.1 83.6 14.3 82.7 18.4 80.6 22.6 77.8 26.8 74.8 31 71.7 35.2 68.3 39.3 64.7 43.5 61 47.7 57.1 51.9 53.2 56.1 48.7 60.2 43.1 64.4 36.5 68.6 28.8 72.8 21 77 14.1 81.1 7.6 85.3 0.4 89.5 0 93.7 0 97.9 0 102 0 106.2 0 110.4 0 114.6 0 118.8 0 122.9 0" fill="none" stroke="#000" stroke-width="9" stroke-linejoin="round" stroke-linecap="square"/></g></g><path d="M848.7 1376.1v11M863.4 1376.1v11M878 1376.1v11M907.2 1376.1v11M921.9 1376.1v11M936.5 1376.1v11M828.2 1355.1h-11M828.2 1334.1h-11M828.2 1313.1h-11" stroke="#000" stroke-width="3.1"/><path d="M834.1 1376.1v19M892.6 1376.1v19M951.1 1376.1v19M828.2 1376.1h-18.5M828.2 1292.1h-18.5" stroke="#ff0000" stroke-width="3.8"/><rect x="828.2" y="1292.1" width="128" height="84" fill="none" stroke="#ff0000" stroke-width="6"/><text x="834.1" y="1450" text-anchor="middle">0</text><text x="951.1" y="1450" text-anchor="middle">28</text><g transform="translate(1007.6 1292.1)"><g clip-path="url(#a9_4)"><use href="#p9_4" fill="none" stroke="#a9cae5" stroke-width="4"/><use href="#p9_4" fill="#fad5ae"/><g clip-path="url(#cp9_4)"><use href="#p9_4" fill="none" stroke="#e8b07b" stroke-width="16"/><use href="#p9_4" fill="none" stroke="#b9a892" stroke-width="10"/><use href="#p9_4" fill="none" stroke="#5f9dcd" stroke-width="5"/><path d="M5.9 84 10.1 83.5 14.3 82.7 18.4 81 22.6 79 26.8 76.8 31 74.8 35.2 73.3 39.3 71.8 43.5 69.5 47.7 66.8 51.9 64.3 56.1 61.3 60.2 57.5 64.4 52.9 68.6 47.2 72.8 40.7 77 33.8 81.1 26.5 85.3 19.1 89.5 11.8 93.7 2.7 97.9 0 102 0 106.2 0 110.4 0 114.6 0 118.8 0 122.9 0" fill="none" stroke="#d3e5ea" stroke-width="16" stroke-linejoin="round"/></g><path d="M34.9 0V84M78.9 0V84M93.9 0V84M107.9 0V84" stroke="#bdbdbd" stroke-width="1" fill="none"/><path d="M5.9 0V84M64.4 0V84M122.9 0V84" stroke="#ff0000" stroke-width="4.8" opacity="0.5"/><path d="M5.9 84 10.1 83.5 14.3 82.7 18.4 81 22.6 79 26.8 76.8 31 74.8 35.2 73.3 39.3 71.8 43.5 69.5 47.7 66.8 51.9 64.3 56.1 61.3 60.2 57.5 64.4 52.9 68.6 47.2 72.8 40.7 77 33.8 81.1 26.5 85.3 19.1 89.5 11.8 93.7 2.7 97.9 0 102 0 106.2 0 110.4 0 114.6 0 118.8 0 122.9 0" fill="none" stroke="#000" stroke-width="9" stroke-linejoin="round" stroke-linecap="square"/></g></g><path d="M1028.1 1376.1v11M1042.8 1376.1v11M1057.4 1376.1v11M1086.6 1376.1v11M1101.3 1376.1v11M1115.9 1376.1v11M1007.6 1355.1h-11M1007.6 1334.1h-11M1007.6 1313.1h-11" stroke="#000" stroke-width="3.1"/><path d="M1013.5 1376.1v19M1072 1376.1v19M1130.5 1376.1v19M1007.6 1376.1h-18.5M1007.6 1292.1h-18.5" stroke="#ff0000" stroke-width="3.8"/><rect x="1007.6" y="1292.1" width="128" height="84" fill="none" stroke="#ff0000" stroke-width="6"/><text x="1013.5" y="1450" text-anchor="middle">0</text><text x="1130.5" y="1450" text-anchor="middle">28</text><g transform="translate(1187 1292.1)"><g clip-path="url(#a9_5)"><use href="#p9_5" fill="none" stroke="#a9cae5" stroke-width="4"/><use href="#p9_5" fill="#98bedf"/><use href="#p9_5" fill="none" stroke="#5f9dcd" stroke-width="5" clip-path="url(#cp9_5)"/><use href="#q9_5" fill="none" stroke="#b9a892" stroke-width="5"/><use href="#q9_5" fill="#fad5ae"/><g clip-path="url(#cq9_5)"><use href="#q9_5" fill="none" stroke="#e8b07b" stroke-width="6"/><path d="M5.9 84 10.1 83.6 14.3 82.7 18.4 80.2 22.6 77 26.8 73.8 31 70.6 35.2 67.6 39.3 64.7 43.5 62.2 47.7 59.2 51.9 54.6 56.1 49.1 60.2 43.2 64.4 36.5 68.6 28.5 72.8 20.2 77 12.8 81.1 5.9 85.3 0 89.5 0 93.7 0 97.9 0 102 0 106.2 0 110.4 0 114.6 0 118.8 0 122.9 0" fill="none" stroke="#d3e5ea" stroke-width="16" stroke-linejoin="round"/></g><path d="M20.5 0V84M49.5 0V84M79.5 0V84M108.5 0V84" stroke="#bdbdbd" stroke-width="1" fill="none"/><path d="M5.9 0V84M64.4 0V84M122.9 0V84" stroke="#ff0000" stroke-width="4.8" opacity="0.5"/><path d="M5.9 84 10.1 83.6 14.3 82.7 18.4 80.2 22.6 77 26.8 73.8 31 70.6 35.2 67.6 39.3 64.7 43.5 62.2 47.7 59.2 51.9 54.6 56.1 49.1 60.2 43.2 64.4 36.5 68.6 28.5 72.8 20.2 77 12.8 81.1 5.9 85.3 0 89.5 0 93.7 0 97.9 0 102 0 106.2 0 110.4 0 114.6 0 118.8 0 122.9 0" fill="none" stroke="#000" stroke-width="9" stroke-linejoin="round" stroke-linecap="square"/></g></g><path d="M1207.5 1376.1v11M1222.2 1376.1v11M1236.8 1376.1v11M1266 1376.1v11M1280.7 1376.1v11M1295.3 1376.1v11M1187 1355.1h-11M1187 1334.1h-11M1187 1313.1h-11" stroke="#000" stroke-width="3.1"/><path d="M1192.9 1376.1v19M1251.4 1376.1v19M1309.9 1376.1v19M1187 1376.1h-18.5M1187 1292.1h-18.5" stroke="#ff0000" stroke-width="3.8"/><rect x="1187" y="1292.1" width="128" height="84" fill="none" stroke="#ff0000" stroke-width="6"/><text x="1192.9" y="1450" text-anchor="middle">0</text><text x="1309.9" y="1450" text-anchor="middle">28</text><g transform="translate(1366.4 1292.1)"><g clip-path="url(#a9_6)"><use href="#p9_6" fill="none" stroke="#a9cae5" stroke-width="4"/><use href="#p9_6" fill="#98bedf"/><use href="#p9_6" fill="none" stroke="#5f9dcd" stroke-width="5" clip-path="url(#cp9_6)"/><use href="#q9_6" fill="none" stroke="#b9a892" stroke-width="5"/><use href="#q9_6" fill="#fad5ae"/><g clip-path="url(#cq9_6)"><use href="#q9_6" fill="none" stroke="#e8b07b" stroke-width="6"/><path d="M5.9 84 10.1 83.5 14.3 82.7 18.4 80.9 22.6 78.6 26.8 76.3 31 73.9 35.2 71.4 39.3 68.9 43.5 66.2 47.7 63.4 51.9 60.6 56.1 57.1 60.2 52.5 64.4 47 68.6 41 72.8 34.4 77 27.4 81.1 20.2 85.3 13 89.5 5.9 93.7 0 97.9 0 102 0 106.2 0 110.4 0 114.6 0 118.8 0 122.9 0" fill="none" stroke="#d3e5ea" stroke-width="16" stroke-linejoin="round"/></g><path d="M20.1 0V84M35.1 0V84M50.1 0V84M79.1 0V84M94.1 0V84" stroke="#bdbdbd" stroke-width="1" fill="none"/><path d="M5.9 0V84M64.4 0V84M122.9 0V84" stroke="#ff0000" stroke-width="4.8" opacity="0.5"/><path d="M5.9 84 10.1 83.5 14.3 82.7 18.4 80.9 22.6 78.6 26.8 76.3 31 73.9 35.2 71.4 39.3 68.9 43.5 66.2 47.7 63.4 51.9 60.6 56.1 57.1 60.2 52.5 64.4 47 68.6 41 72.8 34.4 77 27.4 81.1 20.2 85.3 13 89.5 5.9 93.7 0 97.9 0 102 0 106.2 0 110.4 0 114.6 0 118.8 0 122.9 0" fill="none" stroke="#000" stroke-width="9" stroke-linejoin="round" stroke-linecap="square"/></g></g><path d="M1386.9 1376.1v11M1401.6 1376.1v11M1416.2 1376.1v11M1445.4 1376.1v11M1460.1 1376.1v11M1474.7 1376.1v11M1366.4 1355.1h-11M1366.4 1334.1h-11M1366.4 1313.1h-11" stroke="#000" stroke-width="3.1"/><path d="M1372.3 1376.1v19M1430.8 1376.1v19M1489.3 1376.1v19M1366.4 1376.1h-18.5M1366.4 1292.1h-18.5" stroke="#ff0000" stroke-width="3.8"/><rect x="1366.4" y="1292.1" width="128" height="84" fill="none" stroke="#ff0000" stroke-width="6"/><text x="1372.3" y="1450" text-anchor="middle">0</text><text x="1489.3" y="1450" text-anchor="middle">28</text><g transform="translate(1545.8 1292.1)"><g clip-path="url(#a9_7)"><use href="#p9_7" fill="none" stroke="#a9cae5" stroke-width="4"/><use href="#p9_7" fill="#fad5ae"/><g clip-path="url(#cp9_7)"><use href="#p9_7" fill="none" stroke="#e8b07b" stroke-width="16"/><use href="#p9_7" fill="none" stroke="#b9a892" stroke-width="10"/><use href="#p9_7" fill="none" stroke="#5f9dcd" stroke-width="5"/><path d="M5.9 84 10.1 83.5 14.3 82.7 18.4 80.9 22.6 78.6 26.8 76.3 31 73.9 35.2 71.8 39.3 69.7 43.5 67.7 47.7 65.5 51.9 63.3 56.1 60.5 60.2 56.2 64.4 51.2 68.6 46.4 72.8 40.7 77 32.8 81.1 24.4 85.3 17.2 89.5 10.1 93.7 0.5 97.9 0 102 0 106.2 0 110.4 0 114.6 0 118.8 0 122.9 0" fill="none" stroke="#d3e5ea" stroke-width="16" stroke-linejoin="round"/></g><path d="M34.7 0V84M93.7 0V84M108.7 0V84" stroke="#bdbdbd" stroke-width="1" fill="none"/><path d="M5.9 0V84M64.4 0V84M122.9 0V84" stroke="#ff0000" stroke-width="4.8" opacity="0.5"/><path d="M5.9 84 10.1 83.5 14.3 82.7 18.4 80.9 22.6 78.6 26.8 76.3 31 73.9 35.2 71.8 39.3 69.7 43.5 67.7 47.7 65.5 51.9 63.3 56.1 60.5 60.2 56.2 64.4 51.2 68.6 46.4 72.8 40.7 77 32.8 81.1 24.4 85.3 17.2 89.5 10.1 93.7 0.5 97.9 0 102 0 106.2 0 110.4 0 114.6 0 118.8 0 122.9 0" fill="none" stroke="#000" stroke-width="9" stroke-linejoin="round" stroke-linecap="square"/></g></g><path d="M1566.3 1376.1v11M1581 1376.1v11M1595.6 1376.1v11M1624.8 1376.1v11M1639.5 1376.1v11M1654.1 1376.1v11M1545.8 1355.1h-11M1545.8 1334.1h-11M1545.8 1313.1h-11" stroke="#000" stroke-width="3.1"/><path d="M1551.7 1376.1v19M1610.2 1376.1v19M1668.7 1376.1v19M1545.8 1376.1h-18.5M1545.8 1292.1h-18.5" stroke="#ff0000" stroke-width="3.8"/><rect x="1545.8" y="1292.1" width="128" height="84" fill="none" stroke="#ff0000" stroke-width="6"/><text x="1551.7" y="1450" text-anchor="middle">0</text><text x="1668.7" y="1450" text-anchor="middle">28</text><g transform="translate(1725.2 1292.1)"><g clip-path="url(#a9_8)"><use href="#p9_8" fill="none" stroke="#a9cae5" stroke-width="4"/><use href="#p9_8" fill="#fad5ae"/><g clip-path="url(#cp9_8)"><use href="#p9_8" fill="none" stroke="#e8b07b" stroke-width="16"/><use href="#p9_8" fill="none" stroke="#b9a892" stroke-width="10"/><use href="#p9_8" fill="none" stroke="#5f9dcd" stroke-width="5"/><path d="M5.9 84 10.1 83.6 14.3 82.7 18.4 80.5 22.6 77.8 26.8 75.5 31 73.1 35.2 70.3 39.3 67.5 43.5 65.4 47.7 63.4 51.9 61.5 56.1 59.2 60.2 56.6 64.4 52.9 68.6 47.3 72.8 40.7 77 33.8 81.1 26.5 85.3 19.1 89.5 11.8 93.7 2.7 97.9 0 102 0 106.2 0 110.4 0 114.6 0 118.8 0 122.9 0" fill="none" stroke="#d3e5ea" stroke-width="16" stroke-linejoin="round"/></g><path d="M35.3 0V84M49.3 0V84M79.3 0V84M108.3 0V84" stroke="#bdbdbd" stroke-width="1" fill="none"/><path d="M5.9 0V84M64.4 0V84M122.9 0V84" stroke="#ff0000" stroke-width="4.8" opacity="0.5"/><path d="M5.9 84 10.1 83.6 14.3 82.7 18.4 80.5 22.6 77.8 26.8 75.5 31 73.1 35.2 70.3 39.3 67.5 43.5 65.4 47.7 63.4 51.9 61.5 56.1 59.2 60.2 56.6 64.4 52.9 68.6 47.3 72.8 40.7 77 33.8 81.1 26.5 85.3 19.1 89.5 11.8 93.7 2.7 97.9 0 102 0 106.2 0 110.4 0 114.6 0 118.8 0 122.9 0" fill="none" stroke="#000" stroke-width="9" stroke-linejoin="round" stroke-linecap="square"/></g></g><path d="M1745.7 1376.1v11M1760.4 1376.1v11M1775 1376.1v11M1804.2 1376.1v11M1818.9 1376.1v11M1833.5 1376.1v11M1725.2 1355.1h-11M1725.2 1334.1h-11M1725.2 1313.1h-11" stroke="#000" stroke-width="3.1"/><path d="M1731.1 1376.1v19M1789.6 1376.1v19M1848.1 1376.1v19M1725.2 1376.1h-18.5M1725.2 1292.1h-18.5" stroke="#ff0000" stroke-width="3.8"/><rect x="1725.2" y="1292.1" width="128" height="84" fill="none" stroke="#ff0000" stroke-width="6"/><text x="1731.1" y="1450" text-anchor="middle">0</text><text x="1848.1" y="1450" text-anchor="middle">28</text><g transform="translate(1904.6 1292.1)"><g clip-path="url(#a9_9)"><use href="#p9_9" fill="none" stroke="#a9cae5" stroke-width="4"/><use href="#p9_9" fill="#98bedf"/><use href="#p9_9" fill="none" stroke="#5f9dcd" stroke-width="5" clip-path="url(#cp9_9)"/><use href="#q9_9" fill="none" stroke="#b9a892" stroke-width="5"/><use href="#q9_9" fill="#fad5ae"/><g clip-path="url(#cq9_9)"><use href="#q9_9" fill="none" stroke="#e8b07b" stroke-width="6"/><path d="M5.9 84 10.1 83.6 14.3 82.7 18.4 80.4 22.6 77.8 26.8 75.8 31 73.9 35.2 72.3 39.3 70.6 43.5 68.1 47.7 65.5 51.9 63.2 56.1 60.5 60.2 57.4 64.4 52.9 68.6 45.3 72.8 36.5 77 28.2 81.1 20.2 85.3 12.8 89.5 5.9 93.7 0 97.9 0 102 0 106.2 0 110.4 0 114.6 0 118.8 0 122.9 0" fill="none" stroke="#d3e5ea" stroke-width="16" stroke-linejoin="round"/></g><path d="M20.9 0V84M49.9 0V84M93.9 0V84" stroke="#bdbdbd" stroke-width="1" fill="none"/><path d="M5.9 0V84M64.4 0V84M122.9 0V84" stroke="#ff0000" stroke-width="4.8" opacity="0.5"/><path d="M5.9 84 10.1 83.6 14.3 82.7 18.4 80.4 22.6 77.8 26.8 75.8 31 73.9 35.2 72.3 39.3 70.6 43.5 68.1 47.7 65.5 51.9 63.2 56.1 60.5 60.2 57.4 64.4 52.9 68.6 45.3 72.8 36.5 77 28.2 81.1 20.2 85.3 12.8 89.5 5.9 93.7 0 97.9 0 102 0 106.2 0 110.4 0 114.6 0 118.8 0 122.9 0" fill="none" stroke="#000" stroke-width="9" stroke-linejoin="round" stroke-linecap="square"/></g></g><path d="M1925.1 1376.1v11M1939.8 1376.1v11M1954.4 1376.1v11M1983.6 1376.1v11M1998.3 1376.1v11M2012.9 1376.1v11M1904.6 1355.1h-11M1904.6 1334.1h-11M1904.6 1313.1h-11" stroke="#000" stroke-width="3.1"/><path d="M1910.5 1376.1v19M1969 1376.1v19M2027.5 1376.1v19M1904.6 1376.1h-18.5M1904.6 1292.1h-18.5" stroke="#ff0000" stroke-width="3.8"/><rect x="1904.6" y="1292.1" width="128" height="84" fill="none" stroke="#ff0000" stroke-width="6"/><text x="1910.5" y="1450" text-anchor="middle">0</text><text x="2027.5" y="1450" text-anchor="middle">28</text><g transform="translate(2084 1292.1)"><g clip-path="url(#a9_10)"><use href="#p9_10" fill="none" stroke="#a9cae5" stroke-width="4"/><use href="#p9_10" fill="#fad5ae"/><g clip-path="url(#cp9_10)"><use href="#p9_10" fill="none" stroke="#e8b07b" stroke-width="16"/><use href="#p9_10" fill="none" stroke="#b9a892" stroke-width="10"/><use href="#p9_10" fill="none" stroke="#5f9dcd" stroke-width="5"/><path d="M5.9 84 10.1 82.6 14.3 81.1 18.4 79 22.6 77 26.8 75.5 31 74.1 35.2 72.4 39.3 70.6 43.5 68.6 47.7 66.7 51.9 64.9 56.1 63 60.2 61.6 64.4 58.8 68.6 51.2 72.8 42 77 35.3 81.1 29 85.3 22 89.5 14.3 93.7 5 97.9 0 102 0 106.2 0 110.4 0 114.6 0 118.8 0 122.9 0" fill="none" stroke="#d3e5ea" stroke-width="16" stroke-linejoin="round"/></g><path d="M20.5 0V84M35.5 0V84M79.5 0V84M108.5 0V84" stroke="#bdbdbd" stroke-width="1" fill="none"/><path d="M5.9 0V84M64.4 0V84M122.9 0V84" stroke="#ff0000" stroke-width="4.8" opacity="0.5"/><path d="M5.9 84 10.1 82.6 14.3 81.1 18.4 79 22.6 77 26.8 75.5 31 74.1 35.2 72.4 39.3 70.6 43.5 68.6 47.7 66.7 51.9 64.9 56.1 63 60.2 61.6 64.4 58.8 68.6 51.2 72.8 42 77 35.3 81.1 29 85.3 22 89.5 14.3 93.7 5 97.9 0 102 0 106.2 0 110.4 0 114.6 0 118.8 0 122.9 0" fill="none" stroke="#000" stroke-width="9" stroke-linejoin="round" stroke-linecap="square"/></g></g><path d="M2104.5 1376.1v11M2119.2 1376.1v11M2133.8 1376.1v11M2163 1376.1v11M2177.7 1376.1v11M2192.3 1376.1v11M2084 1355.1h-11M2084 1334.1h-11M2084 1313.1h-11" stroke="#000" stroke-width="3.1"/><path d="M2089.9 1376.1v19M2148.4 1376.1v19M2206.9 1376.1v19M2084 1376.1h-18.5M2084 1292.1h-18.5" stroke="#ff0000" stroke-width="3.8"/><rect x="2084" y="1292.1" width="128" height="84" fill="none" stroke="#ff0000" stroke-width="6"/><text x="2089.9" y="1450" text-anchor="middle">0</text><text x="2206.9" y="1450" text-anchor="middle">28</text><text transform="translate(2231 1333.1) rotate(90)" text-anchor="middle">0.1</text></svg></body></html>
